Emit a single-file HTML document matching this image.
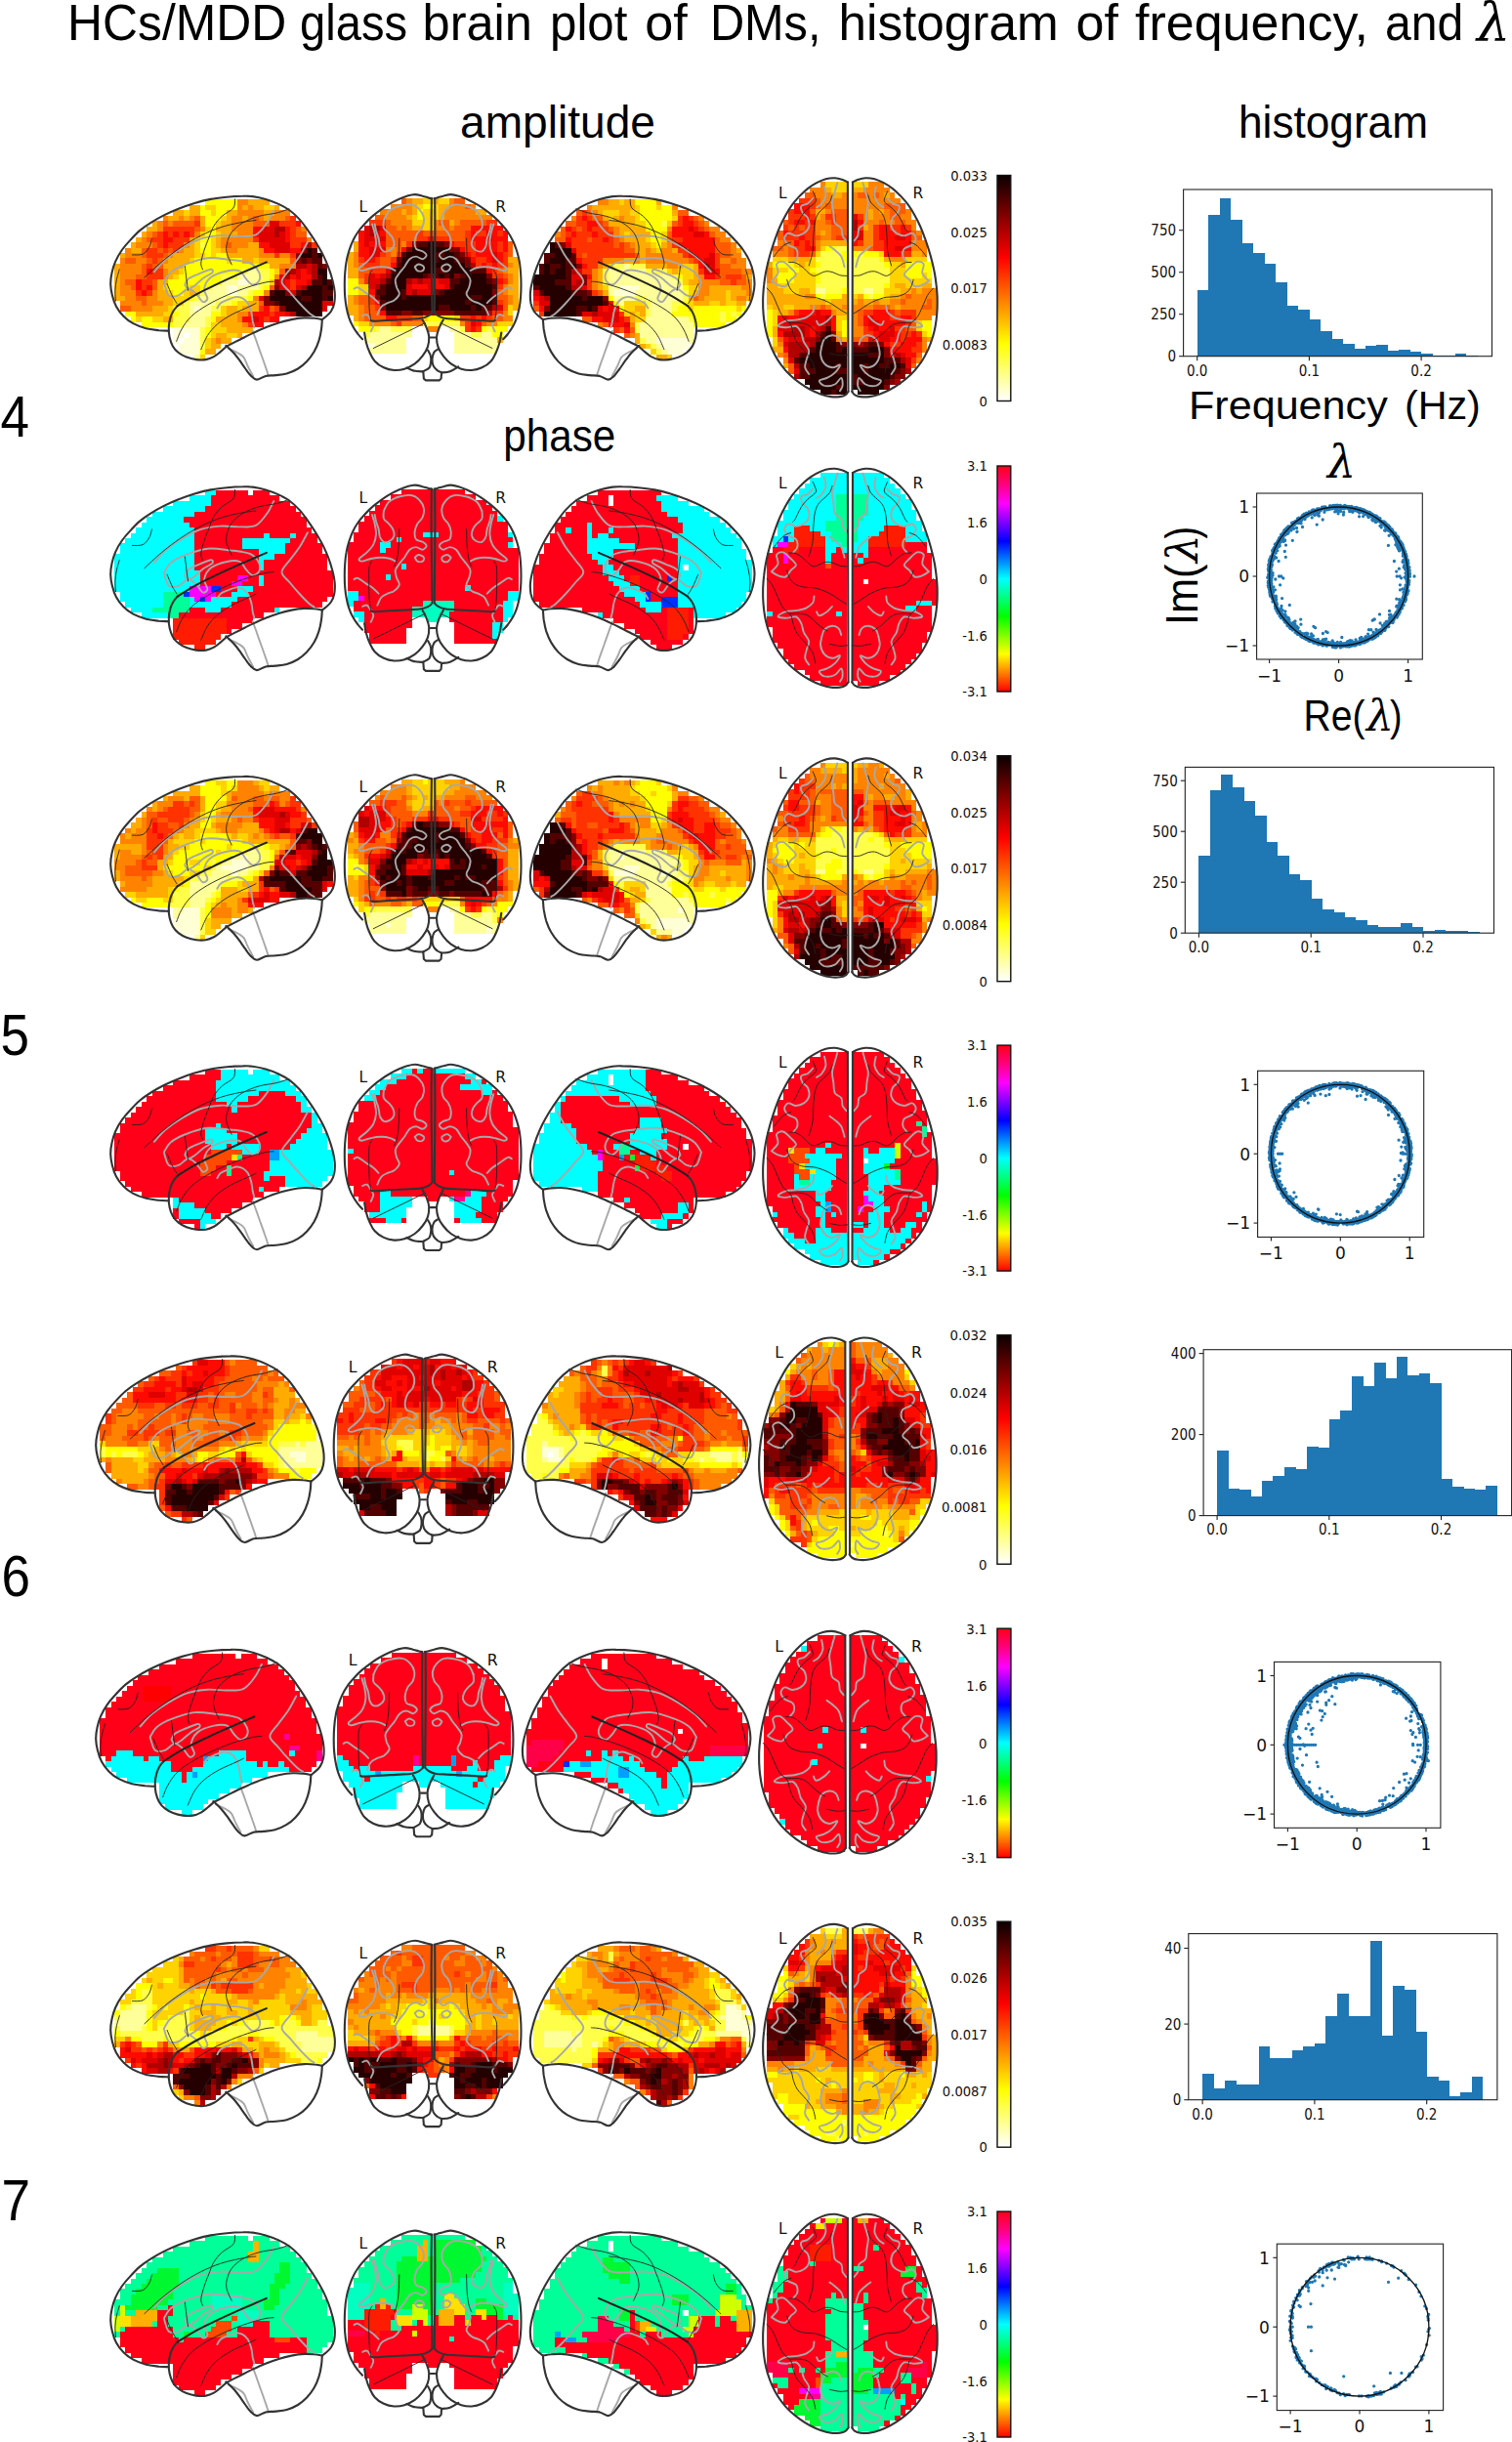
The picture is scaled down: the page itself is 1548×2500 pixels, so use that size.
<!DOCTYPE html>
<html><head><meta charset="utf-8"><title>HCs/MDD glass brain plot of DMs</title>
<style>
html,body{margin:0;padding:0;background:#fff;}
body{width:1548px;height:2500px;overflow:hidden;}
svg{display:block;}
.cal{font-family:"Liberation Sans",sans-serif;fill:#000;}
.dv{font-family:"DejaVu Sans","Liberation Sans",sans-serif;fill:#111;}
.dvc{font-family:"DejaVu Sans Condensed","DejaVu Sans","Liberation Sans",sans-serif;fill:#111;}
.lam{font-family:"DejaVu Serif","Liberation Serif",serif;font-style:italic;fill:#000;}
</style></head><body>
<svg width="1548" height="2500" viewBox="0 0 1548 2500">
<defs>
<linearGradient id="hot" x1="0" y1="0" x2="0" y2="1"><stop offset="0" stop-color="#0b0000"/><stop offset="0.365" stop-color="#ff0000"/><stop offset="0.746" stop-color="#ffff00"/><stop offset="1" stop-color="#ffffff"/></linearGradient>
<linearGradient id="hsv" x1="0" y1="0" x2="0" y2="1"><stop offset="0" stop-color="#ff0018"/><stop offset="0.0833" stop-color="#ff0080"/><stop offset="0.1667" stop-color="#ff00ff"/><stop offset="0.25" stop-color="#8000ff"/><stop offset="0.3333" stop-color="#0000ff"/><stop offset="0.4167" stop-color="#0080ff"/><stop offset="0.5" stop-color="#00ffff"/><stop offset="0.5833" stop-color="#00ff80"/><stop offset="0.6667" stop-color="#00ff00"/><stop offset="0.75" stop-color="#80ff00"/><stop offset="0.8333" stop-color="#ffff00"/><stop offset="0.9167" stop-color="#ff8000"/><stop offset="1" stop-color="#ff0000"/></linearGradient>
<g id="Lsl"><g fill="none" stroke="#a8a8a8" stroke-width="1.9" stroke-linecap="round" stroke-linejoin="round"><path d="M157.9,278.3C159.8,276.2 164.8,269.9 169.4,265.9C174.1,261.9 179.9,257.9 186,254.3C192,250.7 199.2,246.6 205.8,244.4C212.4,242.2 219,241.5 225.7,241.1C232.3,240.7 239.4,242.1 245.5,241.9C251.6,241.8 257.4,242.6 262,240.3C266.7,237.9 270.6,232 273.6,227.9C276.6,223.7 279.1,217.5 280.2,215.5"/><path d="M167.8,289C168.9,287.4 170.8,282.2 174.4,279.1C178,276.1 182.9,273.3 189.3,270.9C195.6,268.4 204.7,265.1 212.4,264.2C220.1,263.4 229.5,265.3 235.6,265.9C241.6,266.5 245,266.7 248.8,267.6C252.7,268.4 256,268.9 258.7,270.9C261.5,272.8 264.2,276.4 265.3,279.1C266.4,281.9 266.4,285.3 265.3,287.4C264.2,289.5 260.9,291.8 258.7,291.5C256.5,291.3 254.3,288.1 252.1,285.7C249.9,283.4 248.8,278.9 245.5,277.5C242.2,276.1 237.2,276.4 232.3,277.5C227.3,278.6 219.6,281.1 215.7,284.1C211.9,287.1 209.7,292.1 209.1,295.7C208.6,299.2 212.7,303.4 212.4,305.6C212.2,307.8 209.4,309.7 207.5,308.9C205.5,308.1 203.3,302.8 200.9,300.6C198.4,298.4 195.6,295.4 192.6,295.7C189.6,295.9 186,301.2 182.7,302.3C179.4,303.4 175.2,304.5 172.8,302.3C170.3,300.1 168.6,291.3 167.8,289"/><path d="M189.3,291.5C189.8,290.6 190.4,287.5 192.6,285.7C194.8,283.9 198.7,282.4 202.5,280.8C206.4,279.1 213.3,276.1 215.7,275.8C218.2,275.5 218.5,277.7 217.4,279.1C216.3,280.5 212.2,281.9 209.1,284.1C206.1,286.3 202,290.4 199.2,292.4C196.5,294.3 194.2,295.8 192.6,295.7C190.9,295.5 189.8,292.2 189.3,291.5"/><path d="M314.9,247.7C313.6,250.2 309.7,257.9 306.7,262.6C303.6,267.3 299.8,271.5 296.8,275.8C293.7,280.1 288.5,284.4 288.5,288.2C288.5,292.1 293.7,295.2 296.8,299C299.8,302.7 303.4,307 306.7,310.5C310,314.1 314.1,318.3 316.6,320.5C319.1,322.7 320.7,323.2 321.6,323.8"/><path d="M222.4,315.5C222.9,314.7 224,311.9 225.7,310.5C227.3,309.2 229.5,308.3 232.3,307.2C235,306.1 239.4,304.2 242.2,303.9C245,303.7 246.9,304.5 248.8,305.6C250.7,306.7 252.4,308.3 253.8,310.5C255.1,312.7 256.2,315.8 257.1,318.8C257.9,321.8 258.2,326 258.7,328.7C259.3,331.5 260.1,334.2 260.4,335.3"/><path d="M258.7,338.7C259.4,340.6 261.5,346.4 262.9,350.2C264.2,354.1 265.6,357.9 267,361.8C268.4,365.7 269.9,369.8 271.1,373.4C272.4,377 273.9,381.6 274.4,383.3"/><path d="M233.9,356.8C235.6,357.6 241.2,360 243.8,361.5C246.5,363 248,363.7 249.6,365.9C251.3,368.2 252.2,371.9 253.8,375C255.3,378.2 258.2,383.3 259.1,384.9"/></g><g fill="none" stroke="#222" stroke-width="0.9" stroke-linecap="round"><path d="M147.9,284.1C151,281.3 159.8,272.8 166.1,267.6C172.5,262.3 179.4,257.1 186,252.7C192.6,248.3 199.2,244.4 205.8,241.1C212.4,237.8 219,235 225.7,232.8C232.3,230.6 239.4,229.1 245.5,227.9C251.6,226.6 259.3,225.8 262,225.4"/><path d="M240.5,203.9C240.3,205.4 241.1,210.1 238.9,213C236.7,215.9 230.6,218.2 227.3,221.3C224,224.3 221.3,227.6 219,231.2C216.8,234.8 215.7,238.6 214.1,242.8C212.4,246.9 210.5,251.6 209.1,256C207.7,260.4 206.1,265.9 205.8,269.2C205.5,272.5 207.2,274.7 207.5,275.8"/><path d="M295.9,213.8C293.9,214.5 288.6,216.7 283.5,217.9C278.4,219.2 271.1,219.6 265.3,221.3C259.6,222.9 253.5,225.1 248.8,227.9C244.1,230.6 240,234.2 237.2,237.8C234.5,241.4 233.1,245.8 232.3,249.4C231.4,252.9 231.4,255.7 232.3,259.3C233.1,262.9 236.4,268.9 237.2,270.9"/><path d="M135.5,260.9C137.3,260.8 143.4,261.5 146.3,260.1C149.2,258.7 151.4,255.3 152.9,252.7C154.4,250.1 155,245.8 155.4,244.4"/><path d="M189.3,272.5C189.6,274.7 190.4,281.6 190.9,285.7C191.5,289.9 192.3,295.4 192.6,297.3"/><path d="M171.1,290.7C171.9,292.6 174.4,299 176.1,302.3C177.7,305.6 180.2,309.2 181,310.5"/><path d="M180.7,349.4C181.6,347.3 183.4,341.3 186,337C188.5,332.7 191.5,327.9 195.9,323.8C200.3,319.6 206.4,315.8 212.4,312.2C218.5,308.6 225.4,305.3 232.3,302.3C239.2,299.2 247.2,296.2 253.8,294C260.4,291.8 267.5,290 272,289C276.4,288.1 278.8,288.4 280.2,288.2"/><path d="M205.8,357.7C206.9,355.3 209.7,347.9 212.4,343.6C215.2,339.3 218.2,335.6 222.4,332C226.5,328.5 231.7,325.1 237.2,322.1C242.7,319.1 251.3,315.8 255.4,313.8C259.6,311.9 260.9,311.1 262,310.5"/><path d="M118.5,308.1C118.4,306.3 117.7,301 117.9,297.3C118,293.6 118.8,289.3 119.5,285.7C120.3,282.2 121.9,277.5 122.3,275.8"/></g><g fill="none" stroke="#333" stroke-width="2.1" stroke-linejoin="round" stroke-linecap="round"><path d="M172.8,338.7C171.1,338.6 166.7,338.6 162.8,338.2C159,337.7 154,337.3 149.6,336.2C145.2,335 140.2,333.3 136.4,331.2C132.5,329.1 129.3,326.7 126.5,323.8C123.6,320.9 120.9,317.4 119,313.8C117.1,310.3 115.8,306.1 114.9,302.3C113.9,298.4 113.3,294.6 113.2,290.7C113.2,286.8 113.7,283 114.6,279.1C115.4,275.3 116.5,271.4 118.2,267.6C119.9,263.7 122.3,259.6 124.8,256C127.3,252.4 130,249.4 133.1,246.1C136.1,242.8 139.4,239.2 143,236.1C146.6,233.1 150.4,230.5 154.6,227.9C158.7,225.3 163.1,222.8 167.8,220.4C172.5,218.1 177.4,215.9 182.7,213.8C187.9,211.7 193.7,209.7 199.2,208C204.7,206.4 210.2,204.9 215.7,203.9C221.3,202.8 226.8,202.3 232.3,201.7C237.8,201.2 244.4,200.9 248.8,200.8C253.2,200.6 254.9,200.6 258.7,201.1C262.6,201.6 267.5,202.6 272,203.9C276.4,205.2 281.1,206.9 285.2,208.9C289.3,210.8 293.2,212.9 296.8,215.5C300.3,218.1 303.6,221.3 306.7,224.6C309.7,227.9 312.2,231.5 314.9,235.3C317.7,239.2 320.6,243.4 323.2,247.7C325.8,252 328.5,256.5 330.7,260.9C332.9,265.3 334.8,269.8 336.4,274.2C338.1,278.6 339.5,283.3 340.6,287.4C341.6,291.5 342.4,295.1 342.7,299C343,302.8 342.9,307.2 342.2,310.5C341.6,313.8 340.4,316.5 338.9,318.8C337.4,321.2 334.7,323.2 333.1,324.6C331.6,326 330.4,326.7 329.8,327.1"/><path d="M329.8,327.1C328.5,326.9 324.6,326 321.6,325.8C318.5,325.5 315.5,325.2 311.6,325.4C307.8,325.6 302.8,326.2 298.4,327.1C294,327.9 289.6,329 285.2,330.4C280.8,331.8 276.4,333.6 272,335.3C267.5,337.1 263.1,339.1 258.7,341.1C254.3,343.2 249.9,345.5 245.5,347.7C241.1,349.9 234.5,353.3 232.3,354.4"/><path d="M232.3,354.4C231.2,355.3 227.9,358.4 225.7,360.1C223.5,361.9 221.5,363.8 219,365.1C216.6,366.4 213.8,367.6 210.8,368.1C207.7,368.6 204.2,368.5 200.9,368.1C197.6,367.7 194,366.8 190.9,365.6C187.9,364.4 185,362.8 182.7,361C180.3,359.1 178.4,357 176.9,354.4C175.4,351.7 174.3,348.4 173.6,345.3C172.9,342.1 172.6,338.7 172.8,335.3C172.9,332 173.6,328.3 174.4,325.4C175.2,322.5 176.5,320 177.7,318C179,315.9 181.2,313.8 181.8,313"/><path d="M329.8,327.1C329.7,328.7 329.6,333.4 329,337C328.5,340.6 327.8,344.7 326.5,348.6C325.3,352.4 323.6,356.6 321.6,360.1C319.5,363.7 316.9,367.2 314.1,370.1C311.4,373 308.5,375.4 305,377.5C301.6,379.6 297.3,381.4 293.5,382.5C289.6,383.6 285.5,383.7 281.9,384.1C278.3,384.5 275.1,384.2 272,384.9C268.8,385.7 265.3,388.6 262.9,388.6C260.4,388.6 259,386.8 257.1,384.9C255.1,383.1 253.2,380.1 251.3,377.5C249.4,374.9 247.4,371.9 245.5,369.2C243.6,366.6 241.6,364 239.7,361.8C237.8,359.6 235.3,357.3 233.9,356C232.6,354.7 231.9,354.2 231.4,353.9"/><path d="M181.8,313C184.7,311.2 193,305.7 199.2,302.3C205.4,298.8 212.2,295.7 219,292.4C225.9,289 233.9,285.4 240.5,282.4C247.2,279.5 253.4,276.8 258.7,274.5C264.1,272.2 270.4,269.4 272.8,268.4" stroke="#222" stroke-width="2.1"/></g></g>
<g id="Lco"><g fill="none" stroke="#a8a8a8" stroke-width="1.9" stroke-linecap="round" stroke-linejoin="round"><path d="M392.9,225.6C393.8,224 395.6,218.7 398.2,216.3C400.8,213.9 404.8,212.1 408.8,211C412.8,209.9 418.5,209 422,209.7C425.5,210.3 428,212.8 429.9,215C431.9,217.2 433.5,220 433.9,222.9C434.4,225.8 433.7,229.5 432.6,232.2C431.5,234.8 428.6,236.4 427.3,238.8C426,241.2 424.9,244.1 424.7,246.7C424.4,249.4 424.7,252.9 426,254.7C427.3,256.4 430.8,256.2 432.6,257.3C434.4,258.4 436.6,259.9 436.6,261.3C436.6,262.6 434.4,265 432.6,265.2C430.8,265.5 428.2,262.6 426,262.6C423.8,262.6 421.3,263.5 419.4,265.2C417.4,267 415.8,270.7 414.1,273.2C412.3,275.6 410.3,277.6 408.8,279.8C407.2,282 405.3,284 404.8,286.4C404.4,288.8 405.5,291.9 406.1,294.3C406.8,296.8 409.2,298.7 408.8,301C408.3,303.2 405.5,306 403.5,307.6C401.5,309.1 399.1,309.1 396.9,310.2C394.7,311.3 392,312.2 390.3,314.2C388.5,316.2 387,320.8 386.3,322.1"/><path d="M381,229.5C381.4,231.1 383,235.5 383.7,238.8C384.3,242.1 385.2,245.8 385,249.4C384.8,252.9 383.9,256.9 382.3,259.9C380.8,263 378.1,265.5 375.7,267.9C373.3,270.3 368.7,273 367.8,274.5C366.9,276 368.4,277.1 370.4,277.1C372.4,277.1 376.4,275.2 379.7,274.5C383,273.8 387,273.2 390.3,273.2C393.6,273.2 397.1,273.8 399.5,274.5C401.9,275.2 403.9,276.7 404.8,277.1"/><path d="M392.9,225.6C392.9,226.9 392,231.3 392.9,233.5C393.8,235.7 396.7,237 398.2,238.8C399.7,240.5 401.3,242.1 402.2,244.1C403.1,246.1 403.9,248.7 403.5,250.7C403.1,252.7 401.3,254.9 399.5,256C397.8,257.1 394.7,258 392.9,257.3C391.1,256.6 389.8,254.2 388.9,252C388.1,249.8 388.3,246.7 387.6,244.1C387,241.4 385.6,238.6 385,236.1C384.3,233.7 383.9,230.6 383.7,229.5"/><path d="M362.5,295.7C363.1,295.4 364.5,293.7 366.5,294.3C368.4,295 371.7,297.9 374.4,299.6C377,301.4 380.1,303.2 382.3,304.9C384.5,306.7 386.7,309.3 387.6,310.2"/><path d="M371.1,323.4C371.9,323.2 374.3,321.5 375.7,322.1C377.1,322.8 378.6,325.6 379.7,327.4C380.8,329.2 382.3,330.7 382.3,332.7C382.3,334.7 380.1,338.2 379.7,339.3"/><path d="M424.7,273.2C425.3,272.7 427.1,270.5 428.6,270.5C430.2,270.5 433.3,272.1 433.9,273.2C434.6,274.3 433.7,276.5 432.6,277.1C431.5,277.8 428.6,277.8 427.3,277.1C426,276.5 425.1,273.8 424.7,273.2"/><path d="M493.4,225.6C492.6,224 490.8,218.7 488.1,216.3C485.5,213.9 481.5,212.1 477.6,211C473.6,209.9 467.9,209 464.3,209.7C460.8,210.3 458.4,212.8 456.4,215C454.4,217.2 452.9,220 452.4,222.9C452,225.8 452.7,229.5 453.8,232.2C454.9,234.8 457.7,236.4 459,238.8C460.4,241.2 461.5,244.1 461.7,246.7C461.9,249.4 461.7,252.9 460.4,254.7C459,256.4 455.5,256.2 453.8,257.3C452,258.4 449.8,259.9 449.8,261.3C449.8,262.6 452,265 453.8,265.2C455.5,265.5 458.2,262.6 460.4,262.6C462.6,262.6 465,263.5 467,265.2C469,267 470.5,270.7 472.3,273.2C474,275.6 476,277.6 477.6,279.8C479.1,282 481.1,284 481.5,286.4C482,288.8 480.9,291.9 480.2,294.3C479.6,296.8 477.1,298.7 477.6,301C478,303.2 480.9,306 482.9,307.6C484.8,309.1 487.3,309.1 489.5,310.2C491.7,311.3 494.3,312.2 496.1,314.2C497.8,316.2 499.4,320.8 500.1,322.1"/><path d="M505.3,229.5C504.9,231.1 503.4,235.5 502.7,238.8C502,242.1 501.2,245.8 501.4,249.4C501.6,252.9 502.5,256.9 504,259.9C505.6,263 508.2,265.5 510.6,267.9C513.1,270.3 517.7,273 518.6,274.5C519.5,276 517.9,277.1 515.9,277.1C513.9,277.1 510,275.2 506.7,274.5C503.4,273.8 499.4,273.2 496.1,273.2C492.8,273.2 489.3,273.8 486.8,274.5C484.4,275.2 482.4,276.7 481.5,277.1"/><path d="M493.4,225.6C493.4,226.9 494.3,231.3 493.4,233.5C492.6,235.7 489.7,237 488.1,238.8C486.6,240.5 485.1,242.1 484.2,244.1C483.3,246.1 482.4,248.7 482.9,250.7C483.3,252.7 485.1,254.9 486.8,256C488.6,257.1 491.7,258 493.4,257.3C495.2,256.6 496.5,254.2 497.4,252C498.3,249.8 498.1,246.7 498.7,244.1C499.4,241.4 500.7,238.6 501.4,236.1C502,233.7 502.5,230.6 502.7,229.5"/><path d="M523.9,295.7C523.2,295.4 521.9,293.7 519.9,294.3C517.9,295 514.6,297.9 512,299.6C509.3,301.4 506.2,303.2 504,304.9C501.8,306.7 499.6,309.3 498.7,310.2"/><path d="M515.3,323.4C514.5,323.2 512.1,321.5 510.6,322.1C509.2,322.8 507.8,325.6 506.7,327.4C505.6,329.2 504,330.7 504,332.7C504,334.7 506.2,338.2 506.7,339.3"/><path d="M461.7,273.2C461,272.7 459.3,270.5 457.7,270.5C456.2,270.5 453.1,272.1 452.4,273.2C451.8,274.3 452.7,276.5 453.8,277.1C454.9,277.8 457.7,277.8 459,277.1C460.4,276.5 461.3,273.8 461.7,273.2"/></g><g fill="none" stroke="#222" stroke-width="0.9" stroke-linecap="round"><path d="M382.3,356.5 L435.2,330.7"/><path d="M504,356.5 L451.1,330.7"/><path d="M379.7,328.1C379.4,326 378.4,320.9 378.1,315.5C377.8,310.1 377.7,301.2 377.7,295.7C377.7,290.1 377.5,285.6 378.1,282.4C378.6,279.2 380.5,277.5 381,276.5"/><path d="M506.7,328.1C506.9,326 507.9,320.9 508.3,315.5C508.6,310.1 508.7,301.2 508.7,295.7C508.7,290.1 508.8,285.6 508.3,282.4C507.7,279.2 505.8,277.5 505.3,276.5"/><path d="M408.8,244.1C408.7,247.2 408.6,257.3 408.1,262.6C407.7,267.9 406.9,272.5 406.1,275.8C405.4,279.1 403.9,281.3 403.5,282.4"/><path d="M477.6,244.1C477.7,247.2 477.8,257.3 478.2,262.6C478.7,267.9 479.4,272.5 480.2,275.8C481,279.1 482.4,281.3 482.9,282.4"/></g><g fill="none" stroke="#333" stroke-width="2.1" stroke-linejoin="round" stroke-linecap="round"><path d="M441.9,203.1C441.3,203 440.1,202.8 438.5,202.4C437,202 434.9,201.2 432.6,200.7C430.3,200.1 427.3,199.1 424.7,199.1C422,199.1 419.4,199.9 416.7,200.7C414.1,201.5 411.6,202.5 408.8,203.7C405.9,205 402.6,206.6 399.5,208.4C396.4,210.1 393.4,212.1 390.3,214.3C387.2,216.5 383.9,219.1 381,221.6C378.1,224.1 375.5,226.9 373.1,229.5C370.6,232.2 368.4,234.6 366.5,237.5C364.5,240.3 362.7,243.4 361.2,246.7C359.6,250 358.3,253.8 357.2,257.3C356.1,260.8 355.2,264.1 354.6,267.9C353.9,271.6 353.5,275.8 353.2,279.8C352.9,283.8 352.8,287.7 352.8,291.7C352.8,295.7 352.9,299.9 353.2,303.6C353.5,307.3 353.9,310.7 354.6,314.2C355.2,317.7 356.1,321.5 357.2,324.8C358.3,328.1 359.6,331.2 361.2,334C362.7,336.9 364.8,339.8 366.5,342C368.1,344.2 370.3,346.4 371.1,347.2"/><path d="M444.5,203.1C445,203 446.3,202.8 447.8,202.4C449.3,202 451.4,201.2 453.8,200.7C456.1,200.1 459,199.1 461.7,199.1C464.3,199.1 467,199.9 469.6,200.7C472.3,201.5 474.7,202.5 477.6,203.7C480.4,205 483.7,206.6 486.8,208.4C489.9,210.1 493,212.1 496.1,214.3C499.2,216.5 502.5,219.1 505.3,221.6C508.2,224.1 510.9,226.9 513.3,229.5C515.7,232.2 517.9,234.6 519.9,237.5C521.9,240.3 523.6,243.4 525.2,246.7C526.7,250 528.1,253.8 529.2,257.3C530.3,260.8 531.1,264.1 531.8,267.9C532.5,271.6 532.8,275.8 533.1,279.8C533.4,283.8 533.5,287.7 533.5,291.7C533.5,295.7 533.4,299.9 533.1,303.6C532.8,307.3 532.5,310.7 531.8,314.2C531.1,317.7 530.3,321.5 529.2,324.8C528.1,328.1 526.7,331.2 525.2,334C523.6,336.9 521.5,339.8 519.9,342C518.2,344.2 516,346.4 515.3,347.2"/><path d="M441.9,203.1C441.8,208.6 441.6,224 441.6,236.1C441.6,248.3 441.7,262.6 441.9,275.8C442,289 442.5,308.1 442.5,315.5C442.6,322.9 442.8,318.8 442.1,320.1C441.5,321.5 440.4,322.5 438.5,323.4C436.7,324.4 434.5,325.3 431.3,325.8C428.1,326.4 424.7,326.4 419.4,326.7C414.1,327.1 405.5,327.3 399.5,327.7C393.6,328 387,328.7 383.7,328.7C380.3,328.8 380.3,328.2 379.7,328.1"/><path d="M445.2,203.1C445.2,208.6 445.4,224 445.4,236.1C445.4,248.3 445.3,262.6 445.2,275.8C445,289 444.8,308.1 444.8,315.5C444.8,322.9 444.5,318.8 445.2,320.1C445.8,321.5 447.1,322.5 448.7,323.4C450.4,324.4 452,325.3 455.1,325.8C458.1,326.4 461.7,326.4 467,326.7C472.3,327.1 480.9,327.3 486.8,327.7C492.8,328 499.4,328.7 502.7,328.7C506,328.8 506,328.2 506.7,328.1"/><path d="M373.1,340.6C373.4,342.4 374.2,347.9 375.1,351.2C375.9,354.5 376.9,357.4 378.4,360.5C379.8,363.6 381.2,367.1 383.7,369.7C386.1,372.4 389.6,374.8 392.9,376.3C396.2,377.9 400,378.8 403.5,379C407,379.2 410.5,378.8 414.1,377.7C417.6,376.6 421.6,374.6 424.7,372.4C427.7,370.2 430.4,367.3 432.6,364.4C434.8,361.6 436.8,358.5 437.9,355.2C439,351.9 439.4,347.9 439.2,344.6C439,341.3 437.7,338.2 436.6,335.3C435.5,332.5 433.3,328.7 432.6,327.4"/><path d="M513.3,340.6C512.9,342.4 512.2,347.9 511.3,351.2C510.4,354.5 509.4,357.4 508,360.5C506.6,363.6 505.1,367.1 502.7,369.7C500.3,372.4 496.7,374.8 493.4,376.3C490.1,377.9 486.4,378.8 482.9,379C479.3,379.2 475.8,378.8 472.3,377.7C468.7,376.6 464.8,374.6 461.7,372.4C458.6,370.2 456,367.3 453.8,364.4C451.6,361.6 449.6,358.5 448.5,355.2C447.4,351.9 446.9,347.9 447.1,344.6C447.4,341.3 448.7,338.2 449.8,335.3C450.9,332.5 453.1,328.7 453.8,327.4"/><path d="M438.1,358.5C438.5,359.4 440.2,361.8 440.7,363.8C441.3,365.7 441.4,368 441.2,370.1C441,372.2 440.8,374.8 439.5,376.5C438.2,378.1 434.4,379.6 433.3,380.2"/><path d="M416.4,376.5C417.6,377 421,379 423.8,379.6C426.6,380.3 431.7,380.3 433.3,380.4"/><path d="M448.7,357.4C448,357.9 445.5,358.9 444.4,360.6C443.4,362.3 442.7,365.2 442.5,367.5C442.4,369.8 442.7,372.4 443.6,374.4C444.4,376.3 446.2,378 447.6,379.1C449,380.3 451.1,380.9 451.9,381.2"/><path d="M469.3,375.4C467.9,376.2 463.8,379.2 460.8,380.2C457.9,381.2 453.4,381.3 451.9,381.5"/><path d="M440.7,345.5 L445.5,345.5"/><path d="M433.3,380.4 L433.9,387.6 L436,389.4 L449.7,389.4 L451.6,387.6 L452.1,381.5"/></g></g>
<g id="Lsr"><g fill="none" stroke="#a8a8a8" stroke-width="1.9" stroke-linecap="round" stroke-linejoin="round"><path d="M727.9,278.3C726,276.2 721,269.9 716.3,265.9C711.6,261.9 705.8,257.9 699.8,254.3C693.7,250.7 686.5,246.6 679.9,244.4C673.3,242.2 666.7,241.5 660.1,241.1C653.5,240.7 646.3,242.1 640.2,241.9C634.2,241.8 628.4,242.6 623.7,240.3C619,237.9 615.2,232 612.1,227.9C609.1,223.7 606.6,217.5 605.5,215.5"/><path d="M718,289C716.9,287.4 714.9,282.2 711.3,279.1C707.8,276.1 702.8,273.3 696.5,270.9C690.1,268.4 681,265.1 673.3,264.2C665.6,263.4 656.2,265.3 650.2,265.9C644.1,266.5 640.8,266.7 636.9,267.6C633.1,268.4 629.8,268.9 627,270.9C624.3,272.8 621.5,276.4 620.4,279.1C619.3,281.9 619.3,285.3 620.4,287.4C621.5,289.5 624.8,291.8 627,291.5C629.2,291.3 631.4,288.1 633.6,285.7C635.8,283.4 636.9,278.9 640.2,277.5C643.6,276.1 648.5,276.4 653.5,277.5C658.4,278.6 666.2,281.1 670,284.1C673.9,287.1 676.1,292.1 676.6,295.7C677.2,299.2 673,303.4 673.3,305.6C673.6,307.8 676.3,309.7 678.3,308.9C680.2,308.1 682.4,302.8 684.9,300.6C687.4,298.4 690.1,295.4 693.2,295.7C696.2,295.9 699.8,301.2 703.1,302.3C706.4,303.4 710.5,304.5 713,302.3C715.5,300.1 717.1,291.3 718,289"/><path d="M696.5,291.5C695.9,290.6 695.4,287.5 693.2,285.7C691,283.9 687.1,282.4 683.2,280.8C679.4,279.1 672.5,276.1 670,275.8C667.5,275.5 667.3,277.7 668.4,279.1C669.5,280.5 673.6,281.9 676.6,284.1C679.7,286.3 683.8,290.4 686.5,292.4C689.3,294.3 691.5,295.8 693.2,295.7C694.8,295.5 695.9,292.2 696.5,291.5"/><path d="M570.8,247.7C572.2,250.2 576,257.9 579.1,262.6C582.1,267.3 586,271.5 589,275.8C592,280.1 597.3,284.4 597.3,288.2C597.3,292.1 592,295.2 589,299C586,302.7 582.4,307 579.1,310.5C575.8,314.1 571.6,318.3 569.1,320.5C566.7,322.7 565,323.2 564.2,323.8"/><path d="M663.4,315.5C662.8,314.7 661.7,311.9 660.1,310.5C658.4,309.2 656.2,308.3 653.5,307.2C650.7,306.1 646.3,304.2 643.6,303.9C640.8,303.7 638.9,304.5 636.9,305.6C635,306.7 633.4,308.3 632,310.5C630.6,312.7 629.5,315.8 628.7,318.8C627.8,321.8 627.6,326 627,328.7C626.5,331.5 625.6,334.2 625.4,335.3"/><path d="M627,338.7C626.3,340.6 624.3,346.4 622.9,350.2C621.5,354.1 620.1,357.9 618.8,361.8C617.4,365.7 615.9,369.8 614.6,373.4C613.4,377 611.9,381.6 611.3,383.3"/><path d="M651.8,356.8C650.2,357.6 644.5,360 641.9,361.5C639.3,363 637.8,363.7 636.1,365.9C634.5,368.2 633.6,371.9 632,375C630.4,378.2 627.6,383.3 626.7,384.9"/></g><g fill="none" stroke="#222" stroke-width="0.9" stroke-linecap="round"><path d="M737.8,284.1C734.8,281.3 726,272.8 719.6,267.6C713.3,262.3 706.4,257.1 699.8,252.7C693.2,248.3 686.5,244.4 679.9,241.1C673.3,237.8 666.7,235 660.1,232.8C653.5,230.6 646.3,229.1 640.2,227.9C634.2,226.6 626.5,225.8 623.7,225.4"/><path d="M645.2,203.9C645.5,205.4 644.7,210.1 646.9,213C649.1,215.9 655.1,218.2 658.4,221.3C661.7,224.3 664.5,227.6 666.7,231.2C668.9,234.8 670,238.6 671.7,242.8C673.3,246.9 675.2,251.6 676.6,256C678,260.4 679.7,265.9 679.9,269.2C680.2,272.5 678.6,274.7 678.3,275.8"/><path d="M589.8,213.8C591.9,214.5 597.1,216.7 602.2,217.9C607.3,219.2 614.6,219.6 620.4,221.3C626.2,222.9 632.3,225.1 636.9,227.9C641.6,230.6 645.8,234.2 648.5,237.8C651.3,241.4 652.6,245.8 653.5,249.4C654.3,252.9 654.3,255.7 653.5,259.3C652.6,262.9 649.3,268.9 648.5,270.9"/><path d="M750.2,260.9C748.4,260.8 742.3,261.5 739.5,260.1C736.6,258.7 734.4,255.3 732.8,252.7C731.3,250.1 730.8,245.8 730.4,244.4"/><path d="M696.5,272.5C696.2,274.7 695.4,281.6 694.8,285.7C694.3,289.9 693.4,295.4 693.2,297.3"/><path d="M714.7,290.7C713.8,292.6 711.3,299 709.7,302.3C708,305.6 705.6,309.2 704.7,310.5"/><path d="M705.1,349.4C704.2,347.3 702.3,341.3 699.8,337C697.2,332.7 694.3,327.9 689.9,323.8C685.4,319.6 679.4,315.8 673.3,312.2C667.3,308.6 660.4,305.3 653.5,302.3C646.6,299.2 638.6,296.2 632,294C625.4,291.8 618.2,290 613.8,289C609.4,288.1 606.9,288.4 605.5,288.2"/><path d="M679.9,357.7C678.8,355.3 676.1,347.9 673.3,343.6C670.6,339.3 667.5,335.6 663.4,332C659.3,328.5 654,325.1 648.5,322.1C643,319.1 634.5,315.8 630.3,313.8C626.2,311.9 624.8,311.1 623.7,310.5"/><path d="M767.2,308.1C767.3,306.3 768.1,301 767.9,297.3C767.7,293.6 767,289.3 766.2,285.7C765.5,282.2 763.9,277.5 763.4,275.8"/></g><g fill="none" stroke="#333" stroke-width="2.1" stroke-linejoin="round" stroke-linecap="round"><path d="M713,338.7C714.7,338.6 719.1,338.6 722.9,338.2C726.8,337.7 731.7,337.3 736.1,336.2C740.6,335 745.5,333.3 749.4,331.2C753.2,329.1 756.4,326.7 759.3,323.8C762.2,320.9 764.8,317.4 766.7,313.8C768.7,310.3 769.9,306.1 770.9,302.3C771.8,298.4 772.5,294.6 772.5,290.7C772.6,286.8 772,283 771.2,279.1C770.4,275.3 769.3,271.4 767.6,267.6C765.9,263.7 763.4,259.6 760.9,256C758.5,252.4 755.7,249.4 752.7,246.1C749.6,242.8 746.3,239.2 742.8,236.1C739.2,233.1 735.3,230.5 731.2,227.9C727.1,225.3 722.6,222.8 718,220.4C713.3,218.1 708.3,215.9 703.1,213.8C697.8,211.7 692.1,209.7 686.5,208C681,206.4 675.5,204.9 670,203.9C664.5,202.8 659,202.3 653.5,201.7C648,201.2 641.3,200.9 636.9,200.8C632.5,200.6 630.9,200.6 627,201.1C623.2,201.6 618.2,202.6 613.8,203.9C609.4,205.2 604.7,206.9 600.6,208.9C596.4,210.8 592.6,212.9 589,215.5C585.4,218.1 582.1,221.3 579.1,224.6C576,227.9 573.6,231.5 570.8,235.3C568,239.2 565.2,243.4 562.5,247.7C559.9,252 557.3,256.5 555.1,260.9C552.9,265.3 551,269.8 549.3,274.2C547.7,278.6 546.2,283.3 545.2,287.4C544.1,291.5 543.3,295.1 543,299C542.7,302.8 542.9,307.2 543.5,310.5C544.2,313.8 545.3,316.5 546.8,318.8C548.3,321.2 551.1,323.2 552.6,324.6C554.1,326 555.4,326.7 555.9,327.1"/><path d="M555.9,327.1C557.3,326.9 561.2,326 564.2,325.8C567.2,325.5 570.3,325.2 574.1,325.4C578,325.6 582.9,326.2 587.3,327.1C591.7,327.9 596.2,329 600.6,330.4C605,331.8 609.4,333.6 613.8,335.3C618.2,337.1 622.6,339.1 627,341.1C631.4,343.2 635.8,345.5 640.2,347.7C644.7,349.9 651.3,353.3 653.5,354.4"/><path d="M653.5,354.4C654.6,355.3 657.9,358.4 660.1,360.1C662.3,361.9 664.2,363.8 666.7,365.1C669.2,366.4 671.9,367.6 675,368.1C678,368.6 681.6,368.5 684.9,368.1C688.2,367.7 691.8,366.8 694.8,365.6C697.8,364.4 700.7,362.8 703.1,361C705.4,359.1 707.3,357 708.9,354.4C710.4,351.7 711.5,348.4 712.2,345.3C712.9,342.1 713.1,338.7 713,335.3C712.9,332 712.2,328.3 711.3,325.4C710.5,322.5 709.3,320 708,318C706.8,315.9 704.6,313.8 703.9,313"/><path d="M555.9,327.1C556.1,328.7 556.2,333.4 556.7,337C557.3,340.6 558,344.7 559.2,348.6C560.5,352.4 562.1,356.6 564.2,360.1C566.3,363.7 568.9,367.2 571.6,370.1C574.4,373 577.3,375.4 580.7,377.5C584.2,379.6 588.4,381.4 592.3,382.5C596.2,383.6 600.3,383.7 603.9,384.1C607.5,384.5 610.6,384.2 613.8,384.9C617,385.7 620.4,388.6 622.9,388.6C625.4,388.6 626.7,386.8 628.7,384.9C630.6,383.1 632.5,380.1 634.5,377.5C636.4,374.9 638.3,371.9 640.2,369.2C642.2,366.6 644.1,364 646,361.8C648,359.6 650.4,357.3 651.8,356C653.2,354.7 653.9,354.2 654.3,353.9"/><path d="M703.9,313C701,311.2 692.7,305.7 686.5,302.3C680.3,298.8 673.6,295.7 666.7,292.4C659.8,289 651.8,285.4 645.2,282.4C638.6,279.5 632.4,276.8 627,274.5C621.6,272.2 615.3,269.4 613,268.4" stroke="#222" stroke-width="2.1"/></g></g>
<g id="Lax"><rect x="868.4" y="186" width="4.2" height="215" fill="#fff"/><g fill="none" stroke="#a8a8a8" stroke-width="1.9" stroke-linecap="round" stroke-linejoin="round"><path d="M857.3,187.2C856.9,188.7 855.5,193.1 854.7,196.5C853.8,199.8 852.2,203.5 852,207C851.8,210.6 852.9,214.1 853.3,217.6C853.8,221.1 853.3,225.6 854.7,228.2C856,230.8 859.9,231.3 861.3,233.5C862.6,235.7 861.7,239.2 862.6,241.4C863.5,243.6 865.9,245.8 866.6,246.7"/><path d="M844.1,191.2C844.3,192.7 845.8,197.6 845.4,200.4C845,203.3 843,206.4 841.4,208.4C839.9,210.3 837,211.7 836.1,212.3"/><path d="M832.2,203.1C831.3,204 828.9,207 826.9,208.4C824.9,209.7 821.1,209.5 820.3,211C819.4,212.5 820.5,215.6 821.6,217.6C822.7,219.6 825.8,220.5 826.9,222.9C828,225.3 828.9,229.5 828.2,232.2C827.5,234.8 825.1,237.2 822.9,238.8C820.7,240.3 817.6,241.4 815,241.4C812.3,241.4 809,238.3 807,238.8C805.1,239.2 803.1,242.1 803.1,244.1C803.1,246.1 805.1,248.9 807,250.7C809,252.5 813.4,252.7 815,254.7C816.5,256.6 816.7,260.4 816.3,262.6C815.9,264.8 813,267 812.3,267.9"/><path d="M789.8,287.7C790.9,286.4 795.6,282.7 796.5,279.8C797.3,276.9 794.3,272.5 795.1,270.5C796,268.5 799.3,267.2 801.7,267.9C804.2,268.5 807.5,272.3 809.7,274.5C811.9,276.7 815,279.1 815,281.1C815,283.1 811.4,284.4 809.7,286.4C807.9,288.4 806.6,292.1 804.4,293C802.2,293.9 798.9,292.6 796.5,291.7C794,290.8 790.9,288.4 789.8,287.7"/><path d="M849.4,252C850.2,252.7 852.7,254.2 854.7,256C856.6,257.7 859.6,259.7 861.3,262.6C862.9,265.5 864,271.4 864.6,273.2"/><path d="M833.5,312.9C833.3,314 833.5,317.5 832.2,319.5C830.8,321.5 828.2,323.4 825.6,324.8C822.9,326.1 819.8,326.7 816.3,327.4C812.8,328.1 807.7,327.7 804.4,328.7C801.1,329.7 796.5,332.3 796.5,333.4C796.5,334.5 801.3,335.2 804.4,335.3C807.5,335.5 812.3,333.1 815,334C817.6,334.9 818.9,338 820.3,340.6C821.6,343.3 821.6,346.8 822.9,349.9C824.2,353 827.8,356.1 828.2,359.2C828.6,362.2 826.2,365.5 825.6,368.4C824.9,371.3 823.8,373.9 824.2,376.3C824.7,378.8 827.5,381.9 828.2,383"/><path d="M836.1,328.7C836.6,329.4 837,332.7 838.8,332.7C840.5,332.7 844.5,330.3 846.7,328.7C848.9,327.2 851.1,324.3 852,323.4"/><path d="M841.4,353.9C841.9,352.8 842.3,349 844.1,347.2C845.8,345.5 849.6,343.5 852,343.3C854.4,343.1 857.1,344.4 858.6,345.9C860.2,347.5 860.8,351.4 861.3,352.5"/><path d="M841.4,353.9C841.2,355.4 839.7,360 840.1,363.1C840.5,366.2 842.1,370.2 844.1,372.4C846.1,374.6 849.4,376.1 852,376.3C854.7,376.6 859.5,372.8 859.9,373.7C860.4,374.6 856.9,379.4 854.7,381.6C852.5,383.8 849.4,385.6 846.7,386.9C844.1,388.3 839.2,388.3 838.8,389.6C838.3,390.9 841.4,394.2 844.1,394.9C846.7,395.5 851.8,394.9 854.7,393.5C857.5,392.2 859.9,386.7 861.3,386.9C862.6,387.2 862.8,392.7 862.6,394.9C862.4,397.1 860.4,399.3 859.9,400.2"/><path d="M883.5,187.2C883.9,188.7 885.3,193.1 886.1,196.5C887,199.8 888.6,203.5 888.8,207C889,210.6 887.9,214.1 887.5,217.6C887,221.1 887.5,225.6 886.1,228.2C884.8,230.8 880.8,231.3 879.5,233.5C878.2,235.7 879.1,239.2 878.2,241.4C877.3,243.6 874.9,245.8 874.2,246.7"/><path d="M896.7,191.2C896.5,192.7 895,197.6 895.4,200.4C895.8,203.3 897.8,206.4 899.4,208.4C900.9,210.3 903.8,211.7 904.7,212.3"/><path d="M908.6,203.1C909.5,204 911.9,207 913.9,208.4C915.9,209.7 919.6,209.5 920.5,211C921.4,212.5 920.3,215.6 919.2,217.6C918.1,219.6 915,220.5 913.9,222.9C912.8,225.3 911.9,229.5 912.6,232.2C913.3,234.8 915.7,237.2 917.9,238.8C920.1,240.3 923.2,241.4 925.8,241.4C928.5,241.4 931.8,238.3 933.8,238.8C935.7,239.2 937.7,242.1 937.7,244.1C937.7,246.1 935.7,248.9 933.8,250.7C931.8,252.5 927.4,252.7 925.8,254.7C924.3,256.6 924.1,260.4 924.5,262.6C924.9,264.8 927.8,267 928.5,267.9"/><path d="M951,287.7C949.9,286.4 945.2,282.7 944.3,279.8C943.5,276.9 946.5,272.5 945.7,270.5C944.8,268.5 941.5,267.2 939,267.9C936.6,268.5 933.3,272.3 931.1,274.5C928.9,276.7 925.8,279.1 925.8,281.1C925.8,283.1 929.3,284.4 931.1,286.4C932.9,288.4 934.2,292.1 936.4,293C938.6,293.9 941.9,292.6 944.3,291.7C946.8,290.8 949.9,288.4 951,287.7"/><path d="M891.4,252C890.5,252.7 888.1,254.2 886.1,256C884.2,257.7 881.2,259.7 879.5,262.6C877.9,265.5 876.8,271.4 876.2,273.2"/><path d="M907.3,312.9C907.5,314 907.3,317.5 908.6,319.5C909.9,321.5 912.6,323.4 915.2,324.8C917.9,326.1 921,326.7 924.5,327.4C928,328.1 933.1,327.7 936.4,328.7C939.7,329.7 944.3,332.3 944.3,333.4C944.3,334.5 939.5,335.2 936.4,335.3C933.3,335.5 928.5,333.1 925.8,334C923.2,334.9 921.9,338 920.5,340.6C919.2,343.3 919.2,346.8 917.9,349.9C916.6,353 913,356.1 912.6,359.2C912.2,362.2 914.6,365.5 915.2,368.4C915.9,371.3 917,373.9 916.6,376.3C916.1,378.8 913.3,381.9 912.6,383"/><path d="M904.7,328.7C904.2,329.4 903.8,332.7 902,332.7C900.2,332.7 896.3,330.3 894.1,328.7C891.9,327.2 889.7,324.3 888.8,323.4"/><path d="M899.4,353.9C898.9,352.8 898.5,349 896.7,347.2C895,345.5 891.2,343.5 888.8,343.3C886.4,343.1 883.7,344.4 882.2,345.9C880.6,347.5 880,351.4 879.5,352.5"/><path d="M899.4,353.9C899.6,355.4 901.1,360 900.7,363.1C900.2,366.2 898.7,370.2 896.7,372.4C894.7,374.6 891.4,376.1 888.8,376.3C886.1,376.6 881.3,372.8 880.8,373.7C880.4,374.6 883.9,379.4 886.1,381.6C888.3,383.8 891.4,385.6 894.1,386.9C896.7,388.3 901.6,388.3 902,389.6C902.5,390.9 899.4,394.2 896.7,394.9C894.1,395.5 889,394.9 886.1,393.5C883.3,392.2 880.8,386.7 879.5,386.9C878.2,387.2 878,392.7 878.2,394.9C878.4,397.1 880.4,399.3 880.8,400.2"/></g><g fill="none" stroke="#222" stroke-width="0.9" stroke-linecap="round"><path d="M832.2,195.8C832.7,197.2 835.3,202.3 835.5,204.4C835.7,206.5 834.9,206.8 833.5,208.4C832.1,209.9 829.1,211.4 826.9,213.7C824.7,215.9 822,218.9 820.3,221.6C818.5,224.2 817.4,227.3 816.3,229.5C815.2,231.7 814.4,233.6 813.7,234.8C812.9,236 812,236.5 811.7,236.8"/><path d="M852,199.8C851.6,201 850.7,204.9 849.4,207C848,209.1 846.1,210.3 844.1,212.3C842.1,214.3 839.1,216.3 837.5,218.9C835.8,221.6 834.9,224.5 834.2,228.2C833.4,231.9 833.2,236.8 832.8,241.4C832.5,246.1 832.6,252 832.2,256C831.7,259.9 830.8,262.6 830.2,265.2C829.5,267.9 828.5,270.7 828.2,271.9"/><path d="M809.7,248C808.6,248.5 805.3,249.1 803.1,250.7C800.9,252.2 798.2,255.3 796.5,257.3C794.7,259.3 793.1,261.7 792.5,262.6"/><path d="M807.7,268.5C808.9,268.7 812.4,268.2 815,269.2C817.5,270.2 820.7,272.7 822.9,274.5C825.1,276.3 826.4,278.5 828.2,279.8C830,281.1 831.5,282.4 833.5,282.4C835.5,282.4 838.1,280.6 840.1,279.8C842.1,279 843.4,278 845.4,277.8C847.4,277.6 849.6,277.8 852,278.5C854.4,279.1 857.4,281.1 859.9,281.8C862.5,282.4 866,282.3 867.2,282.4"/><path d="M805.7,286.4C806.2,287.7 807,292 808.4,294.3C809.7,296.7 811.2,298.7 813.7,300.3C816.1,301.8 819.6,302.9 822.9,303.6C826.2,304.3 830,303.6 833.5,304.3C837,304.9 841,306.4 844.1,307.6C847.2,308.8 849.4,310 852,311.5C854.7,313.1 857.5,315.3 859.9,316.8C862.4,318.4 865.5,320.1 866.6,320.8"/><path d="M785.2,295C786.2,296.2 789.3,299.1 791.2,302.3C793,305.5 794.7,310.4 796.5,314.2C798.2,317.9 799.5,321.7 801.7,324.8C804,327.8 807.9,329.8 809.7,332.7C811.4,335.6 811.2,338.9 812.3,342C813.4,345 814.1,347.9 816.3,351.2C818.5,354.5 822.9,358.5 825.6,361.8C828.2,365.1 830.6,367.8 832.2,371.1C833.7,374.4 834.4,379.9 834.8,381.6"/><path d="M808.4,330.7C810.3,330.7 817,330.3 820.3,330.7C823.6,331.2 825.6,331.7 828.2,333.4C830.8,335 833.7,338.5 836.1,340.6C838.6,342.7 840.9,344.6 842.8,345.9C844.6,347.2 846.6,348.1 847.4,348.6"/><path d="M849.4,361.8C851.1,362.1 856.8,363.6 859.9,363.8C863.1,364 867.1,363.2 868.5,363.1"/><path d="M908.6,195.8C908.1,197.2 905.5,202.3 905.3,204.4C905.1,206.5 905.9,206.8 907.3,208.4C908.7,209.9 911.7,211.4 913.9,213.7C916.1,215.9 918.8,218.9 920.5,221.6C922.3,224.2 923.4,227.3 924.5,229.5C925.6,231.7 926.4,233.6 927.1,234.8C927.9,236 928.8,236.5 929.1,236.8"/><path d="M888.8,199.8C889.2,201 890.1,204.9 891.4,207C892.8,209.1 894.7,210.3 896.7,212.3C898.7,214.3 901.7,216.3 903.3,218.9C905,221.6 905.9,224.5 906.6,228.2C907.4,231.9 907.6,236.8 908,241.4C908.3,246.1 908.2,252 908.6,256C909.1,259.9 909.9,262.6 910.6,265.2C911.3,267.9 912.3,270.7 912.6,271.9"/><path d="M931.1,248C932.2,248.5 935.5,249.1 937.7,250.7C939.9,252.2 942.6,255.3 944.3,257.3C946.1,259.3 947.6,261.7 948.3,262.6"/><path d="M933.1,268.5C931.9,268.7 928.4,268.2 925.8,269.2C923.3,270.2 920.1,272.7 917.9,274.5C915.7,276.3 914.4,278.5 912.6,279.8C910.8,281.1 909.3,282.4 907.3,282.4C905.3,282.4 902.7,280.6 900.7,279.8C898.7,279 897.4,278 895.4,277.8C893.4,277.6 891.2,277.8 888.8,278.5C886.4,279.1 883.4,281.1 880.8,281.8C878.3,282.4 874.8,282.3 873.6,282.4"/><path d="M935.1,286.4C934.6,287.7 933.8,292 932.4,294.3C931.1,296.7 929.6,298.7 927.1,300.3C924.7,301.8 921.2,302.9 917.9,303.6C914.6,304.3 910.8,303.6 907.3,304.3C903.8,304.9 899.8,306.4 896.7,307.6C893.6,308.8 891.4,310 888.8,311.5C886.1,313.1 883.3,315.3 880.8,316.8C878.4,318.4 875.3,320.1 874.2,320.8"/><path d="M955.6,295C954.6,296.2 951.5,299.1 949.6,302.3C947.8,305.5 946.1,310.4 944.3,314.2C942.6,317.9 941.3,321.7 939,324.8C936.8,327.8 932.9,329.8 931.1,332.7C929.3,335.6 929.6,338.9 928.5,342C927.4,345 926.7,347.9 924.5,351.2C922.3,354.5 917.9,358.5 915.2,361.8C912.6,365.1 910.2,367.8 908.6,371.1C907.1,374.4 906.4,379.9 906,381.6"/><path d="M932.4,330.7C930.4,330.7 923.8,330.3 920.5,330.7C917.2,331.2 915.2,331.7 912.6,333.4C909.9,335 907.1,338.5 904.7,340.6C902.2,342.7 899.9,344.6 898,345.9C896.2,347.2 894.2,348.1 893.4,348.6"/><path d="M891.4,361.8C889.7,362.1 884,363.6 880.8,363.8C877.6,364 873.7,363.2 872.2,363.1"/></g><g fill="none" stroke="#333" stroke-width="2.1" stroke-linejoin="round" stroke-linecap="round"><path d="M867.9,186.5C867,186.1 864.8,184.6 862.6,183.9C860.4,183.2 857.5,182.3 854.7,182.2C851.8,182.1 848.5,182.4 845.4,183.2C842.3,184.1 839.2,185.5 836.1,187.2C833.1,188.8 829.7,190.9 826.9,193.1C824,195.4 821.6,197.7 818.9,200.4C816.3,203.2 813.4,206.4 811,209.7C808.6,213 806.5,216.5 804.4,220.3C802.3,224 800.2,228.2 798.4,232.2C796.7,236.1 795.2,240.1 793.8,244.1C792.4,248 791.1,252 789.8,256C788.6,259.9 787.5,263.9 786.5,267.9C785.5,271.9 784.6,275.8 783.9,279.8C783.2,283.8 782.6,287.7 782.2,291.7C781.7,295.7 781.4,299.6 781.2,303.6C781.1,307.6 781.1,311.5 781.2,315.5C781.4,319.5 781.7,323.4 782.2,327.4C782.7,331.4 783.3,335.3 784.3,339.3C785.2,343.3 786.4,347.2 787.9,351.2C789.3,355.2 791.2,359.4 793.1,363.1C795.1,366.9 797.2,370.3 799.8,373.7C802.3,377.1 805.2,380.5 808.4,383.6C811.6,386.7 815.4,389.7 818.9,392.2C822.5,394.8 826,397 829.5,398.8C833.1,400.7 836.6,402.3 840.1,403.5C843.6,404.7 847.4,405.7 850.7,406.1C854,406.6 857.4,406.4 859.9,406.1C862.5,405.8 864.5,405 865.9,404.1C867.3,403.2 868.1,401.4 868.5,400.8"/><path d="M872.9,186.5C873.8,186.1 876,184.6 878.2,183.9C880.4,183.2 883.3,182.3 886.1,182.2C889,182.1 892.3,182.4 895.4,183.2C898.5,184.1 901.6,185.5 904.7,187.2C907.7,188.8 911,190.9 913.9,193.1C916.8,195.4 919.2,197.7 921.9,200.4C924.5,203.2 927.4,206.4 929.8,209.7C932.2,213 934.3,216.5 936.4,220.3C938.5,224 940.6,228.2 942.4,232.2C944.1,236.1 945.6,240.1 947,244.1C948.4,248 949.7,252 951,256C952.2,259.9 953.3,263.9 954.3,267.9C955.3,271.9 956.2,275.8 956.9,279.8C957.6,283.8 958.2,287.7 958.6,291.7C959.1,295.7 959.4,299.6 959.6,303.6C959.7,307.6 959.7,311.5 959.6,315.5C959.4,319.5 959.1,323.4 958.6,327.4C958.1,331.4 957.5,335.3 956.5,339.3C955.6,343.3 954.4,347.2 952.9,351.2C951.5,355.2 949.6,359.4 947.6,363.1C945.7,366.9 943.6,370.3 941,373.7C938.5,377.1 935.6,380.5 932.4,383.6C929.2,386.7 925.4,389.7 921.9,392.2C918.3,394.8 914.8,397 911.3,398.8C907.7,400.7 904.2,402.3 900.7,403.5C897.2,404.7 893.4,405.7 890.1,406.1C886.8,406.6 883.4,406.4 880.8,406.1C878.3,405.8 876.3,405 874.9,404.1C873.5,403.2 872.7,401.4 872.2,400.8"/><path d="M867.9,186.5 L868.5,400.8"/><path d="M873,186.5 L872.5,400.8"/></g></g>
</defs>
<g transform="matrix(1,0,0,1,0,0)">
<g transform="translate(112,199) scale(5.45)" shape-rendering="crispEdges"><path fill="#ffff00" d="M18 1h6v1h-6zM17 2h1v1h-1zM20 2h4v1h-4zM17 3h2v1h-2zM20 3h2v1h-2zM18 4h3v1h-3zM18 5h2v1h-2zM19 6h1v1h-1zM18 7h2v1h-2zM17 8h2v1h-2zM18 9h1v1h-1zM17 10h2v1h-2zM18 11h1v1h-1zM20 11h2v1h-2zM16 12h6v1h-6zM23 12h2v1h-2zM14 13h16v1h-16zM14 14h11v1h-11zM30 14h1v1h-1zM13 15h8v1h-8zM30 15h1v1h-1zM11 16h10v1h-10zM11 17h4v1h-4zM17 17h2v1h-2zM29 17h1v1h-1zM12 18h2v1h-2zM27 18h2v1h-2zM15 19h1v1h-1zM26 19h1v1h-1zM23 20h1v1h-1zM3 22h2v1h-2zM12 22h1v1h-1zM19 22h2v1h-2zM4 23h1v1h-1zM6 23h2v1h-2zM19 23h1v1h-1zM6 24h6v1h-6zM18 25h1v1h-1zM18 26h1v1h-1zM17 29h1v1h-1z"/><path fill="#ff8300" d="M24 1h2v1h-2zM24 2h1v1h-1zM26 2h1v1h-1zM24 3h5v1h-5zM31 3h3v1h-3zM10 4h1v1h-1zM13 4h1v1h-1zM15 4h1v1h-1zM23 4h2v1h-2zM26 4h1v1h-1zM28 4h1v1h-1zM30 4h3v1h-3zM9 5h1v1h-1zM11 5h1v1h-1zM23 5h4v1h-4zM9 6h1v1h-1zM17 6h1v1h-1zM23 6h4v1h-4zM36 6h1v1h-1zM7 7h1v1h-1zM16 7h1v1h-1zM24 7h3v1h-3zM6 8h1v1h-1zM21 8h6v1h-6zM37 8h1v1h-1zM5 9h3v1h-3zM14 9h1v1h-1zM21 9h1v1h-1zM23 9h3v1h-3zM3 10h1v1h-1zM13 10h1v1h-1zM22 10h2v1h-2zM28 10h1v1h-1zM3 11h3v1h-3zM11 11h1v1h-1zM28 11h3v1h-3zM32 11h2v1h-2zM2 12h1v1h-1zM5 12h2v1h-2zM10 12h1v1h-1zM2 13h4v1h-4zM32 13h3v1h-3zM2 14h4v1h-4zM10 14h1v1h-1zM2 15h3v1h-3zM10 15h1v1h-1zM31 15h1v1h-1zM2 16h1v1h-1zM2 17h2v1h-2zM2 18h3v1h-3zM8 18h1v1h-1zM29 18h1v1h-1zM3 19h2v1h-2zM7 19h2v1h-2zM27 19h1v1h-1zM2 20h4v1h-4zM7 20h3v1h-3zM4 21h4v1h-4zM24 22h2v1h-2zM24 23h1v1h-1zM25 24h1v1h-1zM20 27h1v1h-1z"/><path fill="#ffab00" d="M26 1h4v1h-4zM15 2h2v1h-2zM25 2h1v1h-1zM27 2h2v1h-2zM31 2h1v1h-1zM12 3h2v1h-2zM15 3h2v1h-2zM22 3h2v1h-2zM29 3h2v1h-2zM11 4h2v1h-2zM14 4h1v1h-1zM17 4h1v1h-1zM22 4h1v1h-1zM25 4h1v1h-1zM29 4h1v1h-1zM8 5h1v1h-1zM17 5h1v1h-1zM21 5h2v1h-2zM7 6h2v1h-2zM20 6h3v1h-3zM6 7h1v1h-1zM21 7h3v1h-3zM5 8h1v1h-1zM15 8h1v1h-1zM20 8h1v1h-1zM4 9h1v1h-1zM15 9h1v1h-1zM20 9h1v1h-1zM26 9h2v1h-2zM4 10h2v1h-2zM14 10h2v1h-2zM21 10h1v1h-1zM24 10h4v1h-4zM2 11h1v1h-1zM12 11h4v1h-4zM22 11h6v1h-6zM11 12h4v1h-4zM25 12h2v1h-2zM28 12h6v1h-6zM1 13h1v1h-1zM10 13h4v1h-4zM30 13h2v1h-2zM1 14h1v1h-1zM11 14h2v1h-2zM1 15h1v1h-1zM11 15h1v1h-1zM1 16h1v1h-1zM9 16h2v1h-2zM1 17h1v1h-1zM9 17h1v1h-1zM1 18h1v1h-1zM9 18h2v1h-2zM15 18h1v1h-1zM1 19h2v1h-2zM9 19h3v1h-3zM10 20h2v1h-2zM26 20h2v1h-2zM8 21h3v1h-3zM22 21h2v1h-2zM25 21h3v1h-3zM5 22h5v1h-5zM22 22h2v1h-2zM10 23h2v1h-2zM20 23h4v1h-4zM21 24h4v1h-4zM22 25h5v1h-5zM20 26h2v1h-2zM24 26h1v1h-1zM19 27h1v1h-1zM21 27h2v1h-2zM19 28h2v1h-2zM18 29h2v1h-2z"/><path fill="#ffd300" d="M18 2h2v1h-2zM29 2h2v1h-2zM14 3h1v1h-1zM19 3h1v1h-1zM21 4h1v1h-1zM20 5h1v1h-1zM18 6h1v1h-1zM17 7h1v1h-1zM20 7h1v1h-1zM16 8h1v1h-1zM19 8h1v1h-1zM16 9h1v1h-1zM19 9h1v1h-1zM16 10h1v1h-1zM19 10h2v1h-2zM16 11h2v1h-2zM19 11h1v1h-1zM15 12h1v1h-1zM22 12h1v1h-1zM27 12h1v1h-1zM13 14h1v1h-1zM31 14h1v1h-1zM12 15h1v1h-1zM30 16h1v1h-1zM10 17h1v1h-1zM15 17h2v1h-2zM11 18h1v1h-1zM14 18h1v1h-1zM16 18h1v1h-1zM12 19h3v1h-3zM12 20h2v1h-2zM24 20h2v1h-2zM11 21h1v1h-1zM21 21h1v1h-1zM24 21h1v1h-1zM10 22h2v1h-2zM21 22h1v1h-1zM5 23h1v1h-1zM8 23h2v1h-2zM19 24h2v1h-2zM19 25h3v1h-3zM19 26h1v1h-1zM22 26h2v1h-2zM18 27h1v1h-1zM18 28h1v1h-1zM17 30h1v1h-1z"/><path fill="#ff5a00" d="M16 4h1v1h-1zM27 4h1v1h-1zM33 4h1v1h-1zM10 5h1v1h-1zM12 5h4v1h-4zM27 5h3v1h-3zM16 6h1v1h-1zM35 6h1v1h-1zM8 7h1v1h-1zM35 7h2v1h-2zM7 8h1v1h-1zM8 9h1v1h-1zM22 9h1v1h-1zM6 10h1v1h-1zM9 10h1v1h-1zM11 10h1v1h-1zM6 11h1v1h-1zM10 11h1v1h-1zM3 12h2v1h-2zM7 12h1v1h-1zM9 12h1v1h-1zM34 12h1v1h-1zM6 13h1v1h-1zM8 13h2v1h-2zM6 14h1v1h-1zM32 14h1v1h-1zM5 15h2v1h-2zM3 16h2v1h-2zM8 16h1v1h-1zM4 17h1v1h-1zM8 17h1v1h-1zM30 17h1v1h-1zM5 19h2v1h-2zM6 20h1v1h-1zM28 20h1v1h-1zM2 21h2v1h-2zM30 21h1v1h-1z"/><path fill="#ff3200" d="M34 4h1v1h-1zM16 5h1v1h-1zM32 5h3v1h-3zM10 6h6v1h-6zM34 6h1v1h-1zM9 7h1v1h-1zM11 7h1v1h-1zM13 7h1v1h-1zM15 7h1v1h-1zM34 7h1v1h-1zM8 8h2v1h-2zM12 8h3v1h-3zM27 8h1v1h-1zM34 8h3v1h-3zM9 9h1v1h-1zM11 9h3v1h-3zM34 9h2v1h-2zM38 9h1v1h-1zM7 10h2v1h-2zM10 10h1v1h-1zM12 10h1v1h-1zM7 11h3v1h-3zM31 11h1v1h-1zM34 11h1v1h-1zM8 12h1v1h-1zM7 13h1v1h-1zM8 14h2v1h-2zM7 15h3v1h-3zM6 16h2v1h-2zM34 16h1v1h-1zM6 17h1v1h-1zM34 17h1v1h-1zM5 18h1v1h-1zM7 18h1v1h-1zM28 21h1v1h-1zM31 21h1v1h-1zM26 22h1v1h-1zM30 22h1v1h-1zM29 23h1v1h-1zM26 24h1v1h-1z"/><path fill="#e10000" d="M30 5h2v1h-2zM29 6h2v1h-2zM28 7h3v1h-3zM32 7h1v1h-1zM28 8h5v1h-5zM30 9h4v1h-4zM31 10h3v1h-3zM37 13h1v1h-1zM35 14h1v1h-1zM37 14h1v1h-1zM32 15h1v1h-1zM35 15h1v1h-1zM32 16h1v1h-1zM37 16h1v1h-1zM32 17h1v1h-1zM35 17h1v1h-1zM34 18h1v1h-1zM28 19h1v1h-1zM40 20h2v1h-2zM40 21h1v1h-1zM33 22h1v1h-1zM27 23h1v1h-1z"/><path fill="#ff0a00" d="M35 5h1v1h-1zM27 6h2v1h-2zM33 6h1v1h-1zM10 7h1v1h-1zM12 7h1v1h-1zM14 7h1v1h-1zM27 7h1v1h-1zM33 7h1v1h-1zM10 8h2v1h-2zM33 8h1v1h-1zM10 9h1v1h-1zM28 9h2v1h-2zM36 9h1v1h-1zM29 10h2v1h-2zM34 10h2v1h-2zM7 14h1v1h-1zM36 14h1v1h-1zM34 15h1v1h-1zM36 15h2v1h-2zM5 16h1v1h-1zM33 16h1v1h-1zM35 16h2v1h-2zM5 17h1v1h-1zM7 17h1v1h-1zM33 17h1v1h-1zM6 18h1v1h-1zM29 21h1v1h-1zM27 22h3v1h-3zM31 22h2v1h-2zM25 23h2v1h-2zM28 23h1v1h-1zM30 23h2v1h-2zM27 24h2v1h-2z"/><path fill="#b20000" d="M31 6h2v1h-2zM31 7h1v1h-1zM37 9h1v1h-1zM35 13h2v1h-2zM38 13h1v1h-1zM34 14h1v1h-1zM38 14h1v1h-1zM33 15h1v1h-1zM38 15h1v1h-1zM31 16h1v1h-1zM36 17h1v1h-1zM34 22h1v1h-1z"/><path fill="#ffff4a" d="M17 9h1v1h-1zM25 14h1v1h-1zM28 14h2v1h-2zM21 15h3v1h-3zM28 15h2v1h-2zM28 16h2v1h-2zM28 17h1v1h-1zM17 18h1v1h-1zM26 18h1v1h-1zM16 19h1v1h-1zM22 19h4v1h-4zM14 20h1v1h-1zM20 20h3v1h-3zM12 21h3v1h-3zM19 21h2v1h-2zM13 22h2v1h-2zM12 23h3v1h-3zM18 23h1v1h-1zM12 24h2v1h-2zM18 24h1v1h-1zM17 25h1v1h-1zM17 26h1v1h-1zM17 27h1v1h-1zM17 28h1v1h-1z"/><path fill="#830000" d="M36 10h1v1h-1zM35 11h1v1h-1zM35 12h1v1h-1zM37 12h1v1h-1zM40 13h1v1h-1zM33 14h1v1h-1zM31 17h1v1h-1zM33 18h1v1h-1zM29 19h1v1h-1zM29 20h2v1h-2zM32 21h1v1h-1z"/><path fill="#250000" d="M37 10h1v1h-1zM36 11h2v1h-2zM39 11h1v1h-1zM39 14h2v1h-2zM40 15h1v1h-1zM40 16h1v1h-1zM37 17h3v1h-3zM41 17h1v1h-1zM31 18h2v1h-2zM36 18h4v1h-4zM30 19h6v1h-6zM38 19h2v1h-2zM41 19h1v1h-1zM32 20h8v1h-8zM33 21h7v1h-7zM35 22h5v1h-5z"/><path fill="#540000" d="M38 10h1v1h-1zM38 11h1v1h-1zM36 12h1v1h-1zM38 12h2v1h-2zM39 13h1v1h-1zM39 15h1v1h-1zM38 16h2v1h-2zM41 16h1v1h-1zM40 17h1v1h-1zM30 18h1v1h-1zM35 18h1v1h-1zM40 18h2v1h-2zM36 19h2v1h-2zM40 19h1v1h-1zM31 20h1v1h-1z"/><path fill="#ffff99" d="M26 14h2v1h-2zM24 15h1v1h-1zM26 15h2v1h-2zM21 16h3v1h-3zM26 16h2v1h-2zM19 17h3v1h-3zM24 17h4v1h-4zM18 18h4v1h-4zM24 18h2v1h-2zM17 19h5v1h-5zM15 20h5v1h-5zM15 21h1v1h-1zM17 21h2v1h-2zM15 22h4v1h-4zM15 23h3v1h-3zM14 24h4v1h-4zM16 30h1v1h-1z"/><path fill="#ffffd6" d="M25 15h1v1h-1zM24 16h2v1h-2zM22 17h2v1h-2zM22 18h2v1h-2zM16 21h1v1h-1zM12 25h5v1h-5zM12 26h2v1h-2zM15 26h2v1h-2zM12 27h1v1h-1zM14 27h3v1h-3zM13 28h4v1h-4zM13 29h4v1h-4z"/></g>
<use href="#Lsl"/>
<g transform="translate(351,198) scale(5.45)" shape-rendering="crispEdges"><path fill="#ff5a00" d="M11 1h1v1h-1zM21 1h2v1h-2zM23 2h1v1h-1zM6 4h2v1h-2zM8 5h1v1h-1zM18 5h2v1h-2zM22 5h5v1h-5zM8 6h2v1h-2zM11 6h1v1h-1zM19 6h1v1h-1zM21 6h3v1h-3zM8 7h6v1h-6zM15 7h8v1h-8zM8 8h6v1h-6zM20 8h3v1h-3zM8 9h3v1h-3zM31 9h1v1h-1zM10 10h1v1h-1zM31 10h1v1h-1zM8 11h1v1h-1zM31 11h1v1h-1zM7 12h2v1h-2zM3 13h1v1h-1zM7 13h2v1h-2zM3 14h2v1h-2zM29 14h1v1h-1zM3 15h1v1h-1zM30 15h1v1h-1zM29 18h1v1h-1zM3 19h2v1h-2zM29 19h2v1h-2zM3 20h2v1h-2zM30 20h1v1h-1zM4 21h2v1h-2zM30 21h1v1h-1zM4 22h3v1h-3zM4 23h4v1h-4zM13 23h2v1h-2zM28 23h2v1h-2zM9 24h1v1h-1zM26 24h1v1h-1z"/><path fill="#ff8300" d="M12 1h1v1h-1zM20 1h1v1h-1zM9 2h4v1h-4zM20 2h3v1h-3zM24 2h1v1h-1zM7 3h4v1h-4zM12 3h1v1h-1zM19 3h6v1h-6zM8 4h4v1h-4zM19 4h9v1h-9zM9 5h4v1h-4zM17 5h1v1h-1zM21 5h1v1h-1zM10 6h1v1h-1zM12 6h1v1h-1zM17 6h2v1h-2zM20 6h1v1h-1zM11 9h1v1h-1zM8 10h2v1h-2zM2 11h1v1h-1zM9 11h1v1h-1zM2 12h1v1h-1zM2 13h1v1h-1zM31 13h1v1h-1zM30 14h1v1h-1zM31 15h1v1h-1zM3 16h1v1h-1zM31 16h1v1h-1zM30 17h1v1h-1zM30 18h1v1h-1zM2 19h1v1h-1zM31 19h1v1h-1zM2 20h1v1h-1zM31 20h1v1h-1zM3 21h1v1h-1zM3 22h1v1h-1zM30 22h1v1h-1zM3 23h1v1h-1zM30 23h2v1h-2zM5 24h4v1h-4zM11 24h4v1h-4zM22 24h1v1h-1zM27 24h2v1h-2zM16 25h2v1h-2z"/><path fill="#ffab00" d="M13 1h2v1h-2zM17 1h1v1h-1zM13 2h1v1h-1zM18 2h2v1h-2zM11 3h1v1h-1zM13 3h1v1h-1zM18 3h1v1h-1zM25 3h2v1h-2zM12 4h1v1h-1zM18 4h1v1h-1zM20 5h1v1h-1zM13 6h2v1h-2zM2 9h1v1h-1zM2 10h1v1h-1zM1 11h1v1h-1zM1 12h1v1h-1zM31 12h2v1h-2zM1 13h1v1h-1zM32 13h1v1h-1zM1 14h2v1h-2zM31 14h2v1h-2zM1 15h2v1h-2zM32 15h1v1h-1zM32 16h1v1h-1zM31 17h2v1h-2zM31 18h2v1h-2zM1 19h1v1h-1zM32 19h1v1h-1zM1 20h1v1h-1zM32 20h1v1h-1zM1 21h2v1h-2zM32 21h1v1h-1zM1 22h2v1h-2zM2 23h1v1h-1zM29 27h1v1h-1z"/><path fill="#ffd300" d="M15 1h2v1h-2zM18 1h2v1h-2zM14 2h1v1h-1zM17 2h1v1h-1zM15 3h3v1h-3zM13 4h1v1h-1zM15 4h3v1h-3zM13 5h4v1h-4zM15 6h2v1h-2zM3 17h2v1h-2zM3 18h2v1h-2zM31 21h1v1h-1zM31 22h1v1h-1zM15 23h1v1h-1zM21 23h1v1h-1zM3 24h2v1h-2zM29 24h3v1h-3z"/><path fill="#ffff00" d="M15 2h2v1h-2zM14 3h1v1h-1zM14 4h1v1h-1zM1 16h2v1h-2zM1 17h2v1h-2zM1 18h2v1h-2zM16 23h5v1h-5zM2 24h1v1h-1zM3 25h3v1h-3zM26 25h1v1h-1zM28 25h3v1h-3zM28 26h2v1h-2z"/><path fill="#ff3200" d="M5 5h3v1h-3zM27 5h2v1h-2zM14 7h1v1h-1zM23 7h1v1h-1zM25 7h2v1h-2zM29 7h1v1h-1zM14 8h2v1h-2zM17 8h3v1h-3zM23 8h1v1h-1zM12 9h1v1h-1zM21 9h4v1h-4zM29 9h1v1h-1zM23 10h2v1h-2zM29 10h1v1h-1zM7 11h1v1h-1zM10 11h1v1h-1zM24 11h1v1h-1zM30 11h1v1h-1zM3 12h1v1h-1zM6 12h1v1h-1zM9 12h1v1h-1zM25 12h2v1h-2zM30 12h1v1h-1zM4 13h3v1h-3zM25 13h1v1h-1zM27 13h1v1h-1zM29 13h2v1h-2zM5 14h3v1h-3zM28 14h1v1h-1zM4 15h1v1h-1zM28 15h2v1h-2zM4 16h1v1h-1zM30 16h1v1h-1zM29 17h1v1h-1zM5 19h1v1h-1zM5 20h1v1h-1zM29 20h1v1h-1zM6 21h1v1h-1zM28 22h2v1h-2zM10 23h3v1h-3zM22 23h2v1h-2zM25 23h1v1h-1zM27 23h1v1h-1zM10 24h1v1h-1zM23 24h1v1h-1zM23 25h1v1h-1zM25 25h1v1h-1z"/><path fill="#e10000" d="M4 6h1v1h-1zM7 6h1v1h-1zM4 7h1v1h-1zM6 7h1v1h-1zM27 7h1v1h-1zM4 8h2v1h-2zM7 8h1v1h-1zM27 8h1v1h-1zM4 9h1v1h-1zM5 10h3v1h-3zM5 11h2v1h-2zM28 11h1v1h-1zM28 12h1v1h-1zM8 14h1v1h-1zM5 15h1v1h-1zM7 15h1v1h-1zM5 16h2v1h-2zM13 16h1v1h-1zM15 16h2v1h-2zM18 16h2v1h-2zM5 17h1v1h-1zM12 17h1v1h-1zM16 17h1v1h-1zM19 17h1v1h-1zM12 18h1v1h-1zM14 18h3v1h-3zM29 21h1v1h-1zM24 24h1v1h-1z"/><path fill="#b20000" d="M5 6h2v1h-2zM5 7h1v1h-1zM24 13h1v1h-1zM8 15h1v1h-1zM7 16h1v1h-1zM12 16h1v1h-1zM14 16h1v1h-1zM6 17h1v1h-1zM13 18h1v1h-1zM28 21h1v1h-1zM27 22h1v1h-1z"/><path fill="#ff0a00" d="M24 6h6v1h-6zM3 7h1v1h-1zM7 7h1v1h-1zM24 7h1v1h-1zM28 7h1v1h-1zM30 7h1v1h-1zM3 8h1v1h-1zM6 8h1v1h-1zM16 8h1v1h-1zM24 8h3v1h-3zM28 8h3v1h-3zM3 9h1v1h-1zM5 9h3v1h-3zM20 9h1v1h-1zM25 9h4v1h-4zM30 9h1v1h-1zM3 10h2v1h-2zM11 10h1v1h-1zM22 10h1v1h-1zM25 10h4v1h-4zM30 10h1v1h-1zM3 11h2v1h-2zM23 11h1v1h-1zM25 11h3v1h-3zM29 11h1v1h-1zM4 12h2v1h-2zM24 12h1v1h-1zM27 12h1v1h-1zM29 12h1v1h-1zM9 13h1v1h-1zM26 13h1v1h-1zM28 13h1v1h-1zM27 14h1v1h-1zM6 15h1v1h-1zM17 16h1v1h-1zM29 16h1v1h-1zM13 17h3v1h-3zM17 17h2v1h-2zM5 18h1v1h-1zM6 20h1v1h-1zM7 22h1v1h-1zM8 23h2v1h-2zM24 23h1v1h-1zM26 23h1v1h-1zM25 24h1v1h-1zM24 25h1v1h-1z"/><path fill="#830000" d="M13 9h1v1h-1zM19 9h1v1h-1zM12 10h1v1h-1zM20 10h2v1h-2zM22 11h1v1h-1zM10 12h1v1h-1zM23 12h1v1h-1zM23 13h1v1h-1zM16 15h1v1h-1zM21 15h1v1h-1zM27 15h1v1h-1zM28 16h1v1h-1zM17 18h1v1h-1zM28 18h1v1h-1zM6 19h1v1h-1zM7 21h1v1h-1zM11 22h2v1h-2zM15 22h6v1h-6z"/><path fill="#540000" d="M14 9h2v1h-2zM17 9h2v1h-2zM11 11h1v1h-1zM17 11h2v1h-2zM21 11h1v1h-1zM17 12h1v1h-1zM21 12h2v1h-2zM10 13h1v1h-1zM9 14h1v1h-1zM17 14h2v1h-2zM24 14h3v1h-3zM15 15h1v1h-1zM17 15h1v1h-1zM19 15h1v1h-1zM22 15h1v1h-1zM8 16h1v1h-1zM20 16h2v1h-2zM27 16h1v1h-1zM7 17h1v1h-1zM20 17h1v1h-1zM28 17h1v1h-1zM6 18h2v1h-2zM11 18h1v1h-1zM18 18h1v1h-1zM11 19h1v1h-1zM24 19h2v1h-2zM28 19h1v1h-1zM7 20h1v1h-1zM23 20h1v1h-1zM28 20h1v1h-1zM18 21h2v1h-2zM24 21h1v1h-1zM26 21h2v1h-2zM8 22h3v1h-3zM13 22h2v1h-2zM21 22h6v1h-6z"/><path fill="#250000" d="M16 9h1v1h-1zM13 10h7v1h-7zM12 11h5v1h-5zM19 11h2v1h-2zM11 12h6v1h-6zM18 12h3v1h-3zM11 13h12v1h-12zM10 14h7v1h-7zM19 14h5v1h-5zM9 15h6v1h-6zM18 15h1v1h-1zM20 15h1v1h-1zM23 15h4v1h-4zM9 16h3v1h-3zM22 16h5v1h-5zM8 17h4v1h-4zM21 17h7v1h-7zM8 18h3v1h-3zM19 18h9v1h-9zM7 19h4v1h-4zM12 19h12v1h-12zM26 19h2v1h-2zM8 20h15v1h-15zM24 20h4v1h-4zM8 21h10v1h-10zM20 21h4v1h-4zM25 21h1v1h-1z"/><path fill="#ffff4a" d="M15 24h7v1h-7zM6 25h1v1h-1zM9 25h4v1h-4zM22 25h1v1h-1zM27 25h1v1h-1zM4 26h1v1h-1zM24 26h2v1h-2z"/><path fill="#ffff99" d="M7 25h2v1h-2zM20 25h2v1h-2zM5 26h8v1h-8zM21 26h3v1h-3zM26 26h2v1h-2zM4 27h8v1h-8zM21 27h8v1h-8zM6 28h6v1h-6zM21 28h8v1h-8zM5 29h7v1h-7zM21 29h8v1h-8z"/><path fill="#ffffd6" d="M5 28h1v1h-1z"/></g>
<use href="#Lco"/>
<g transform="translate(541,199) scale(5.45)" shape-rendering="crispEdges"><path fill="#ff8300" d="M13 1h2v1h-2zM11 2h1v1h-1zM27 2h1v1h-1zM12 3h1v1h-1zM8 4h1v1h-1zM17 4h1v1h-1zM32 4h1v1h-1zM33 5h1v1h-1zM16 6h1v1h-1zM26 6h1v1h-1zM34 6h2v1h-2zM5 7h1v1h-1zM16 7h1v1h-1zM35 7h2v1h-2zM17 8h1v1h-1zM36 8h2v1h-2zM19 9h1v1h-1zM26 9h1v1h-1zM38 9h1v1h-1zM22 10h1v1h-1zM25 10h2v1h-2zM38 10h1v1h-1zM22 11h7v1h-7zM38 11h2v1h-2zM14 12h4v1h-4zM20 12h1v1h-1zM22 12h8v1h-8zM36 12h2v1h-2zM39 12h2v1h-2zM13 13h1v1h-1zM26 13h2v1h-2zM38 13h3v1h-3zM12 14h1v1h-1zM40 14h2v1h-2zM12 15h1v1h-1zM32 15h1v1h-1zM12 16h1v1h-1zM32 16h4v1h-4zM41 16h1v1h-1zM12 17h1v1h-1zM32 17h2v1h-2zM40 17h2v1h-2zM32 18h2v1h-2zM41 18h1v1h-1zM32 19h1v1h-1zM39 19h2v1h-2zM13 24h1v1h-1zM19 24h1v1h-1zM19 26h1v1h-1z"/><path fill="#ffab00" d="M15 1h2v1h-2zM18 1h2v1h-2zM24 1h1v1h-1zM12 2h8v1h-8zM13 3h1v1h-1zM17 3h2v1h-2zM27 3h1v1h-1zM14 4h1v1h-1zM16 4h1v1h-1zM18 4h2v1h-2zM15 5h5v1h-5zM17 6h5v1h-5zM17 7h1v1h-1zM19 7h4v1h-4zM18 8h4v1h-4zM20 9h3v1h-3zM25 9h1v1h-1zM20 10h2v1h-2zM23 10h1v1h-1zM27 10h1v1h-1zM39 10h1v1h-1zM21 11h1v1h-1zM18 12h2v1h-2zM21 12h1v1h-1zM14 13h1v1h-1zM22 13h4v1h-4zM28 13h1v1h-1zM31 13h1v1h-1zM13 14h1v1h-1zM27 14h1v1h-1zM31 14h1v1h-1zM13 15h1v1h-1zM31 15h1v1h-1zM41 15h1v1h-1zM13 16h1v1h-1zM30 16h2v1h-2zM13 17h1v1h-1zM34 17h6v1h-6zM14 18h1v1h-1zM31 18h1v1h-1zM34 18h3v1h-3zM38 18h3v1h-3zM30 19h1v1h-1zM33 19h4v1h-4zM38 19h1v1h-1zM41 19h1v1h-1zM31 20h3v1h-3zM36 20h1v1h-1zM39 20h2v1h-2zM20 21h2v1h-2zM19 22h1v1h-1zM21 22h1v1h-1zM19 23h1v1h-1zM20 26h1v1h-1zM20 27h1v1h-1zM21 28h1v1h-1zM24 30h2v1h-2z"/><path fill="#ffd300" d="M17 1h1v1h-1zM20 2h1v1h-1zM24 2h1v1h-1zM14 3h3v1h-3zM19 3h2v1h-2zM15 4h1v1h-1zM20 4h1v1h-1zM27 4h1v1h-1zM20 5h2v1h-2zM26 5h1v1h-1zM18 7h1v1h-1zM25 7h1v1h-1zM22 8h1v1h-1zM25 8h1v1h-1zM23 9h1v1h-1zM24 10h1v1h-1zM15 13h1v1h-1zM29 13h2v1h-2zM26 14h1v1h-1zM28 14h3v1h-3zM29 15h2v1h-2zM29 16h1v1h-1zM14 17h1v1h-1zM30 17h2v1h-2zM30 18h1v1h-1zM37 18h1v1h-1zM37 19h1v1h-1zM18 20h4v1h-4zM30 20h1v1h-1zM34 20h2v1h-2zM37 20h2v1h-2zM18 21h2v1h-2zM30 21h1v1h-1zM39 21h1v1h-1zM18 22h1v1h-1zM20 22h1v1h-1zM20 23h2v1h-2zM22 28h1v1h-1zM23 29h1v1h-1zM26 30h1v1h-1z"/><path fill="#ffff00" d="M20 1h4v1h-4zM21 2h3v1h-3zM25 2h2v1h-2zM21 3h6v1h-6zM21 4h6v1h-6zM22 5h3v1h-3zM22 6h4v1h-4zM23 7h2v1h-2zM23 8h2v1h-2zM24 9h1v1h-1zM28 15h1v1h-1zM29 17h1v1h-1zM15 19h1v1h-1zM16 20h1v1h-1zM29 20h1v1h-1zM17 21h1v1h-1zM28 21h2v1h-2zM31 21h8v1h-8zM40 21h1v1h-1zM27 22h9v1h-9zM37 22h1v1h-1zM39 22h1v1h-1zM31 23h5v1h-5zM37 23h2v1h-2zM31 24h6v1h-6z"/><path fill="#ff5a00" d="M9 3h1v1h-1zM11 3h1v1h-1zM28 3h2v1h-2zM12 4h2v1h-2zM31 4h1v1h-1zM7 5h2v1h-2zM14 5h1v1h-1zM27 5h1v1h-1zM32 5h1v1h-1zM6 6h1v1h-1zM9 6h1v1h-1zM15 6h1v1h-1zM33 6h1v1h-1zM6 7h1v1h-1zM26 7h1v1h-1zM34 7h1v1h-1zM5 8h2v1h-2zM11 8h1v1h-1zM16 8h1v1h-1zM26 8h1v1h-1zM35 8h1v1h-1zM16 9h1v1h-1zM18 9h1v1h-1zM35 9h3v1h-3zM18 10h2v1h-2zM35 10h3v1h-3zM10 11h1v1h-1zM20 11h1v1h-1zM36 11h2v1h-2zM30 12h1v1h-1zM38 12h1v1h-1zM36 13h2v1h-2zM36 14h4v1h-4zM36 15h1v1h-1zM40 15h1v1h-1zM36 16h2v1h-2zM39 16h2v1h-2zM13 18h1v1h-1zM31 19h1v1h-1zM1 21h1v1h-1zM10 23h2v1h-2zM14 24h1v1h-1zM17 25h1v1h-1zM19 25h1v1h-1zM18 26h1v1h-1z"/><path fill="#ff3200" d="M10 3h1v1h-1zM9 4h1v1h-1zM11 4h1v1h-1zM28 4h1v1h-1zM30 4h1v1h-1zM9 5h2v1h-2zM13 5h1v1h-1zM28 5h1v1h-1zM31 5h1v1h-1zM8 6h1v1h-1zM10 6h1v1h-1zM12 6h3v1h-3zM32 6h1v1h-1zM7 7h1v1h-1zM9 7h3v1h-3zM13 7h3v1h-3zM8 8h3v1h-3zM12 8h2v1h-2zM15 8h1v1h-1zM27 8h2v1h-2zM8 9h8v1h-8zM17 9h1v1h-1zM27 9h1v1h-1zM9 10h9v1h-9zM28 10h2v1h-2zM9 11h1v1h-1zM11 11h9v1h-9zM29 11h1v1h-1zM35 11h1v1h-1zM10 12h4v1h-4zM31 12h1v1h-1zM35 12h1v1h-1zM11 13h2v1h-2zM35 13h1v1h-1zM10 14h2v1h-2zM32 14h1v1h-1zM35 15h1v1h-1zM37 15h3v1h-3zM11 16h1v1h-1zM38 16h1v1h-1zM11 17h1v1h-1zM12 18h1v1h-1zM1 20h1v1h-1zM2 22h1v1h-1zM17 22h1v1h-1zM18 23h1v1h-1zM16 25h1v1h-1z"/><path fill="#ff0a00" d="M10 4h1v1h-1zM29 4h1v1h-1zM11 5h2v1h-2zM29 5h2v1h-2zM7 6h1v1h-1zM11 6h1v1h-1zM27 6h3v1h-3zM31 6h1v1h-1zM8 7h1v1h-1zM12 7h1v1h-1zM27 7h4v1h-4zM33 7h1v1h-1zM7 8h1v1h-1zM14 8h1v1h-1zM29 8h6v1h-6zM28 9h7v1h-7zM30 10h5v1h-5zM30 11h4v1h-4zM9 12h1v1h-1zM32 12h1v1h-1zM10 13h1v1h-1zM32 13h1v1h-1zM35 14h1v1h-1zM11 15h1v1h-1zM33 15h2v1h-2zM1 19h1v1h-1zM15 20h1v1h-1zM2 21h1v1h-1zM14 21h1v1h-1zM16 21h1v1h-1zM12 23h2v1h-2zM17 23h1v1h-1zM15 24h3v1h-3zM18 25h1v1h-1z"/><path fill="#ffff4a" d="M25 5h1v1h-1zM16 13h2v1h-2zM19 13h3v1h-3zM14 14h1v1h-1zM22 14h4v1h-4zM14 15h1v1h-1zM27 15h1v1h-1zM14 16h1v1h-1zM28 16h1v1h-1zM29 18h1v1h-1zM20 19h2v1h-2zM29 19h1v1h-1zM22 20h1v1h-1zM27 20h2v1h-2zM22 21h1v1h-1zM27 21h1v1h-1zM22 22h1v1h-1zM36 22h1v1h-1zM38 22h1v1h-1zM30 23h1v1h-1zM36 23h1v1h-1zM20 24h1v1h-1zM20 25h1v1h-1zM21 27h1v1h-1zM23 28h1v1h-1zM24 29h1v1h-1z"/><path fill="#e10000" d="M30 6h1v1h-1zM31 7h2v1h-2zM7 9h1v1h-1zM8 10h1v1h-1zM34 11h1v1h-1zM33 12h2v1h-2zM34 13h1v1h-1zM9 14h1v1h-1zM33 14h2v1h-2zM8 15h2v1h-2zM8 16h1v1h-1zM10 17h1v1h-1zM1 18h1v1h-1zM2 19h1v1h-1zM2 20h2v1h-2zM13 21h1v1h-1zM15 21h1v1h-1zM10 22h2v1h-2zM13 22h4v1h-4zM14 23h3v1h-3zM18 24h1v1h-1z"/><path fill="#250000" d="M4 9h1v1h-1zM4 10h4v1h-4zM5 11h3v1h-3zM4 12h3v1h-3zM3 13h1v1h-1zM6 13h1v1h-1zM8 13h1v1h-1zM3 14h1v1h-1zM5 14h2v1h-2zM1 15h6v1h-6zM1 16h4v1h-4zM2 17h5v1h-5zM3 18h5v1h-5zM4 19h6v1h-6zM11 19h3v1h-3zM4 20h10v1h-10zM4 21h5v1h-5zM11 21h1v1h-1zM3 22h6v1h-6z"/><path fill="#540000" d="M5 9h1v1h-1zM3 11h2v1h-2zM8 11h1v1h-1zM3 12h1v1h-1zM7 12h2v1h-2zM2 13h1v1h-1zM4 13h2v1h-2zM7 13h1v1h-1zM2 14h1v1h-1zM4 14h1v1h-1zM7 14h1v1h-1zM7 15h1v1h-1zM5 16h3v1h-3zM1 17h1v1h-1zM7 17h1v1h-1zM2 18h1v1h-1zM8 18h3v1h-3zM10 19h1v1h-1zM14 20h1v1h-1zM9 21h2v1h-2zM12 21h1v1h-1zM9 22h1v1h-1z"/><path fill="#830000" d="M6 9h1v1h-1zM9 13h1v1h-1zM10 15h1v1h-1zM10 16h1v1h-1zM11 18h1v1h-1zM14 19h1v1h-1zM3 21h1v1h-1z"/><path fill="#ffff99" d="M18 13h1v1h-1zM15 14h7v1h-7zM15 15h12v1h-12zM15 16h13v1h-13zM15 17h2v1h-2zM21 17h8v1h-8zM15 18h1v1h-1zM20 18h9v1h-9zM16 19h4v1h-4zM22 19h7v1h-7zM17 20h1v1h-1zM23 20h4v1h-4zM23 21h4v1h-4zM23 22h4v1h-4zM22 23h8v1h-8zM21 24h10v1h-10zM21 25h10v1h-10zM21 26h10v1h-10zM22 27h2v1h-2zM30 27h1v1h-1zM24 28h1v1h-1zM25 29h1v1h-1z"/><path fill="#b20000" d="M33 13h1v1h-1zM8 14h1v1h-1zM9 16h1v1h-1zM8 17h2v1h-2zM3 19h1v1h-1zM12 22h1v1h-1z"/><path fill="#ffffd6" d="M17 17h4v1h-4zM16 18h4v1h-4zM24 27h6v1h-6zM25 28h5v1h-5zM26 29h3v1h-3z"/></g>
<use href="#Lsr"/>
<g transform="translate(780,181) scale(5.45)" shape-rendering="crispEdges"><path fill="#ff8300" d="M11 1h1v1h-1zM20 1h3v1h-3zM9 2h3v1h-3zM19 2h5v1h-5zM10 3h3v1h-3zM15 3h1v1h-1zM17 3h1v1h-1zM20 3h1v1h-1zM22 3h1v1h-1zM24 3h1v1h-1zM11 4h5v1h-5zM17 4h9v1h-9zM11 5h1v1h-1zM13 5h3v1h-3zM17 5h6v1h-6zM12 6h1v1h-1zM17 6h3v1h-3zM21 6h1v1h-1zM23 6h1v1h-1zM27 6h1v1h-1zM11 7h1v1h-1zM19 7h1v1h-1zM21 7h3v1h-3zM26 7h2v1h-2zM10 8h2v1h-2zM19 8h3v1h-3zM23 8h2v1h-2zM27 8h2v1h-2zM10 9h3v1h-3zM20 9h1v1h-1zM28 9h1v1h-1zM10 10h1v1h-1zM12 10h1v1h-1zM19 10h2v1h-2zM29 10h1v1h-1zM11 11h2v1h-2zM19 11h2v1h-2zM3 12h1v1h-1zM10 12h1v1h-1zM19 12h2v1h-2zM28 12h3v1h-3zM4 13h1v1h-1zM10 13h1v1h-1zM17 13h3v1h-3zM28 13h3v1h-3zM2 14h3v1h-3zM30 14h1v1h-1zM24 15h3v1h-3zM1 17h1v1h-1zM1 18h1v1h-1zM1 19h1v1h-1zM28 21h1v1h-1zM30 21h3v1h-3zM8 22h2v1h-2zM26 22h1v1h-1zM28 22h5v1h-5zM18 23h1v1h-1zM21 23h1v1h-1zM24 23h2v1h-2zM27 23h4v1h-4zM32 23h1v1h-1zM9 24h2v1h-2zM12 24h1v1h-1zM15 24h1v1h-1zM17 24h4v1h-4zM24 24h1v1h-1zM26 24h4v1h-4zM32 24h1v1h-1zM5 25h1v1h-1zM13 25h1v1h-1zM17 25h1v1h-1zM29 25h4v1h-4zM17 26h1v1h-1zM29 26h3v1h-3zM17 27h1v1h-1zM17 28h2v1h-2zM17 29h2v1h-2zM14 30h1v1h-1zM30 30h1v1h-1zM3 31h1v1h-1zM30 31h1v1h-1zM30 32h1v1h-1zM3 33h1v1h-1zM4 34h1v1h-1zM29 34h1v1h-1z"/><path fill="#ffd300" d="M12 1h4v1h-4zM17 1h3v1h-3zM13 2h3v1h-3zM11 13h1v1h-1zM10 14h1v1h-1zM22 14h1v1h-1zM2 15h3v1h-3zM9 15h1v1h-1zM27 15h4v1h-4zM6 16h1v1h-1zM8 16h2v1h-2zM24 16h2v1h-2zM2 17h3v1h-3zM7 17h2v1h-2zM24 17h3v1h-3zM2 18h1v1h-1zM6 18h4v1h-4zM24 18h3v1h-3zM30 18h1v1h-1zM6 19h4v1h-4zM24 19h8v1h-8zM3 20h7v1h-7zM24 20h1v1h-1zM27 20h3v1h-3zM4 21h3v1h-3zM9 21h1v1h-1zM23 21h3v1h-3zM17 22h1v1h-1zM23 22h1v1h-1zM12 23h1v1h-1zM1 24h1v1h-1zM4 24h2v1h-2zM2 25h1v1h-1zM2 26h1v1h-1zM14 26h2v1h-2zM2 27h1v1h-1zM14 27h1v1h-1zM29 27h1v1h-1zM14 28h1v1h-1zM29 28h1v1h-1zM30 29h1v1h-1zM2 30h1v1h-1zM2 31h1v1h-1z"/><path fill="#ffab00" d="M12 2h1v1h-1zM17 2h2v1h-2zM13 3h2v1h-2zM23 3h1v1h-1zM10 6h2v1h-2zM20 6h1v1h-1zM22 6h1v1h-1zM10 7h1v1h-1zM20 7h1v1h-1zM19 9h1v1h-1zM11 10h1v1h-1zM11 12h5v1h-5zM28 14h2v1h-2zM5 15h4v1h-4zM23 15h1v1h-1zM1 16h1v1h-1zM7 16h1v1h-1zM26 16h1v1h-1zM2 19h1v1h-1zM1 20h2v1h-2zM25 20h2v1h-2zM30 20h2v1h-2zM1 21h3v1h-3zM7 21h2v1h-2zM26 21h2v1h-2zM29 21h1v1h-1zM1 22h7v1h-7zM15 22h1v1h-1zM18 22h1v1h-1zM24 22h2v1h-2zM1 23h11v1h-11zM13 23h3v1h-3zM17 23h1v1h-1zM19 23h2v1h-2zM22 23h2v1h-2zM2 24h2v1h-2zM6 24h3v1h-3zM13 24h2v1h-2zM25 24h1v1h-1zM3 25h2v1h-2zM14 25h2v1h-2zM2 28h1v1h-1zM2 29h1v1h-1zM14 29h1v1h-1zM15 30h1v1h-1zM31 30h1v1h-1zM2 32h2v1h-2zM4 35h1v1h-1z"/><path fill="#ff5a00" d="M8 3h2v1h-2zM18 3h2v1h-2zM21 3h1v1h-1zM10 4h1v1h-1zM10 5h1v1h-1zM12 5h1v1h-1zM23 5h4v1h-4zM9 6h1v1h-1zM13 6h3v1h-3zM24 6h3v1h-3zM14 7h2v1h-2zM24 7h2v1h-2zM4 8h1v1h-1zM12 8h1v1h-1zM14 8h2v1h-2zM22 8h1v1h-1zM25 8h2v1h-2zM5 9h1v1h-1zM7 9h1v1h-1zM13 9h3v1h-3zM3 10h1v1h-1zM13 10h3v1h-3zM28 10h1v1h-1zM3 11h1v1h-1zM10 11h1v1h-1zM13 11h1v1h-1zM28 11h2v1h-2zM4 12h2v1h-2zM2 13h2v1h-2zM5 13h1v1h-1zM20 13h1v1h-1zM5 14h1v1h-1zM9 14h1v1h-1zM27 22h1v1h-1zM26 23h1v1h-1zM31 23h1v1h-1zM11 24h1v1h-1zM21 24h3v1h-3zM30 24h2v1h-2zM18 25h1v1h-1zM25 25h1v1h-1zM18 26h1v1h-1zM18 27h1v1h-1zM28 27h1v1h-1zM27 28h2v1h-2zM3 30h1v1h-1zM17 30h3v1h-3zM4 33h1v1h-1zM29 33h1v1h-1zM5 35h1v1h-1zM28 35h1v1h-1zM5 36h1v1h-1z"/><path fill="#ff3200" d="M7 4h3v1h-3zM9 5h1v1h-1zM5 6h1v1h-1zM5 7h3v1h-3zM9 7h1v1h-1zM12 7h2v1h-2zM18 7h1v1h-1zM5 8h1v1h-1zM8 8h1v1h-1zM13 8h1v1h-1zM4 9h1v1h-1zM6 9h1v1h-1zM8 9h2v1h-2zM18 9h1v1h-1zM21 9h1v1h-1zM24 9h2v1h-2zM27 9h1v1h-1zM5 10h5v1h-5zM21 10h1v1h-1zM25 10h1v1h-1zM4 11h3v1h-3zM8 11h2v1h-2zM14 11h2v1h-2zM21 11h1v1h-1zM7 12h1v1h-1zM9 12h1v1h-1zM18 12h1v1h-1zM21 12h2v1h-2zM6 13h2v1h-2zM21 13h2v1h-2zM6 14h3v1h-3zM26 14h2v1h-2zM6 25h1v1h-1zM19 25h2v1h-2zM24 25h1v1h-1zM26 25h3v1h-3zM24 26h2v1h-2zM28 26h1v1h-1zM27 27h1v1h-1zM19 28h1v1h-1zM25 28h2v1h-2zM19 29h2v1h-2zM26 29h2v1h-2zM29 29h1v1h-1zM26 30h1v1h-1zM24 31h2v1h-2zM29 31h1v1h-1zM28 32h2v1h-2zM28 34h1v1h-1z"/><path fill="#ff0a00" d="M6 5h3v1h-3zM6 6h3v1h-3zM8 7h1v1h-1zM6 8h2v1h-2zM9 8h1v1h-1zM18 8h1v1h-1zM22 9h2v1h-2zM26 9h1v1h-1zM4 10h1v1h-1zM22 10h3v1h-3zM26 10h2v1h-2zM7 11h1v1h-1zM22 11h3v1h-3zM27 11h1v1h-1zM6 12h1v1h-1zM8 12h1v1h-1zM17 12h1v1h-1zM23 12h5v1h-5zM8 13h2v1h-2zM23 13h2v1h-2zM27 13h1v1h-1zM23 14h3v1h-3zM7 25h3v1h-3zM11 25h2v1h-2zM21 25h3v1h-3zM3 26h1v1h-1zM5 26h2v1h-2zM13 26h1v1h-1zM19 26h1v1h-1zM21 26h3v1h-3zM26 26h2v1h-2zM3 27h1v1h-1zM13 27h1v1h-1zM19 27h1v1h-1zM22 27h5v1h-5zM9 28h1v1h-1zM13 28h1v1h-1zM20 28h1v1h-1zM22 28h2v1h-2zM3 29h1v1h-1zM9 29h1v1h-1zM21 29h1v1h-1zM25 29h1v1h-1zM28 29h1v1h-1zM4 30h1v1h-1zM21 30h1v1h-1zM24 30h2v1h-2zM27 30h3v1h-3zM23 31h1v1h-1zM26 31h3v1h-3zM4 32h1v1h-1zM24 32h4v1h-4zM27 33h2v1h-2z"/><path fill="#e10000" d="M17 7h1v1h-1zM17 10h2v1h-2zM17 11h2v1h-2zM25 11h2v1h-2zM25 13h2v1h-2zM10 25h1v1h-1zM4 26h1v1h-1zM7 26h5v1h-5zM20 26h1v1h-1zM4 27h8v1h-8zM20 27h2v1h-2zM3 28h3v1h-3zM8 28h1v1h-1zM10 28h1v1h-1zM21 28h1v1h-1zM24 28h1v1h-1zM8 29h1v1h-1zM22 29h3v1h-3zM5 30h3v1h-3zM20 30h1v1h-1zM22 30h2v1h-2zM4 31h1v1h-1zM8 31h1v1h-1zM24 33h1v1h-1zM26 33h1v1h-1zM5 34h1v1h-1zM27 34h1v1h-1zM27 35h1v1h-1zM6 36h1v1h-1z"/><path fill="#b20000" d="M17 8h1v1h-1zM17 9h1v1h-1zM12 26h1v1h-1zM12 27h1v1h-1zM6 28h2v1h-2zM11 28h1v1h-1zM4 29h4v1h-4zM10 29h1v1h-1zM8 30h2v1h-2zM5 31h3v1h-3zM9 31h1v1h-1zM18 31h1v1h-1zM5 32h4v1h-4zM5 33h2v1h-2zM25 33h1v1h-1zM26 34h1v1h-1zM6 35h1v1h-1zM27 36h1v1h-1zM6 37h1v1h-1zM25 38h1v1h-1z"/><path fill="#ffff00" d="M12 13h2v1h-2zM15 14h1v1h-1zM17 14h1v1h-1zM19 14h3v1h-3zM15 15h1v1h-1zM22 15h1v1h-1zM2 16h4v1h-4zM10 16h1v1h-1zM23 16h1v1h-1zM27 16h5v1h-5zM5 17h2v1h-2zM9 17h1v1h-1zM27 17h5v1h-5zM3 18h3v1h-3zM10 18h1v1h-1zM27 18h3v1h-3zM31 18h1v1h-1zM3 19h3v1h-3zM10 19h1v1h-1zM23 20h1v1h-1zM15 21h1v1h-1zM10 22h1v1h-1zM12 22h3v1h-3zM19 22h1v1h-1zM21 22h2v1h-2zM1 25h1v1h-1zM1 26h1v1h-1zM1 27h1v1h-1zM15 27h1v1h-1zM30 27h2v1h-2zM1 28h1v1h-1zM15 28h1v1h-1zM30 28h2v1h-2zM1 29h1v1h-1zM15 29h1v1h-1zM31 29h1v1h-1z"/><path fill="#ffff4a" d="M14 13h2v1h-2zM11 14h4v1h-4zM18 14h1v1h-1zM10 15h5v1h-5zM17 15h5v1h-5zM11 16h5v1h-5zM17 16h6v1h-6zM10 17h6v1h-6zM17 17h7v1h-7zM11 18h5v1h-5zM17 18h7v1h-7zM11 19h5v1h-5zM17 19h7v1h-7zM10 20h6v1h-6zM17 20h6v1h-6zM12 21h3v1h-3zM17 21h2v1h-2zM21 21h2v1h-2zM11 22h1v1h-1zM20 22h1v1h-1z"/><path fill="#ffff99" d="M10 21h2v1h-2zM19 21h2v1h-2z"/><path fill="#540000" d="M12 28h1v1h-1zM11 29h1v1h-1zM13 30h1v1h-1zM14 31h1v1h-1zM20 31h2v1h-2zM9 32h1v1h-1zM14 32h1v1h-1zM17 32h3v1h-3zM7 33h2v1h-2zM20 33h2v1h-2zM6 34h1v1h-1zM23 34h3v1h-3zM7 35h2v1h-2zM14 35h1v1h-1zM19 35h1v1h-1zM22 35h2v1h-2zM26 35h1v1h-1zM7 36h3v1h-3zM14 36h2v1h-2zM19 36h1v1h-1zM25 36h1v1h-1zM7 37h2v1h-2zM17 37h1v1h-1zM24 37h1v1h-1zM17 38h2v1h-2zM23 38h1v1h-1zM14 39h1v1h-1zM13 40h1v1h-1z"/><path fill="#250000" d="M12 29h1v1h-1zM11 30h2v1h-2zM10 31h4v1h-4zM10 32h4v1h-4zM15 32h1v1h-1zM20 32h3v1h-3zM9 33h7v1h-7zM17 33h3v1h-3zM22 33h1v1h-1zM7 34h9v1h-9zM17 34h6v1h-6zM9 35h5v1h-5zM15 35h1v1h-1zM17 35h2v1h-2zM20 35h2v1h-2zM24 35h2v1h-2zM10 36h4v1h-4zM17 36h2v1h-2zM20 36h5v1h-5zM9 37h7v1h-7zM18 37h6v1h-6zM8 38h8v1h-8zM19 38h4v1h-4zM9 39h5v1h-5zM15 39h1v1h-1zM17 39h6v1h-6zM11 40h2v1h-2zM14 40h2v1h-2zM18 40h4v1h-4z"/><path fill="#830000" d="M13 29h1v1h-1zM10 30h1v1h-1zM15 31h1v1h-1zM17 31h1v1h-1zM19 31h1v1h-1zM22 31h1v1h-1zM23 32h1v1h-1zM23 33h1v1h-1zM26 36h1v1h-1zM25 37h2v1h-2zM24 38h1v1h-1zM23 39h1v1h-1z"/></g>
<use href="#Lax"/>
<text class="dv" x="367.5" y="217.2" font-size="15.5">L</text>
<text class="dv" x="507.3" y="217.2" font-size="15.5">R</text>
<text class="dv" x="797" y="202.6" font-size="15.5">L</text>
<text class="dv" x="934.4" y="202.6" font-size="15.5">R</text>
<rect x="1021" y="179.5" width="13.8" height="231" fill="url(#hot)" stroke="#111" stroke-width="1.4"/>
<text class="dvc" x="1010.8" y="184.8" font-size="14.6" text-anchor="end">0.033</text>
<text class="dvc" x="1010.8" y="242.6" font-size="14.6" text-anchor="end">0.025</text>
<text class="dvc" x="1010.8" y="300.3" font-size="14.6" text-anchor="end">0.017</text>
<text class="dvc" x="1010.8" y="358.1" font-size="14.6" text-anchor="end">0.0083</text>
<text class="dvc" x="1010.8" y="415.8" font-size="14.6" text-anchor="end">0</text>
</g>
<g transform="matrix(1,0,0,1,0,297.5)">
<g transform="translate(112,199) scale(5.45)" shape-rendering="crispEdges"><path fill="#00ffff" d="M18 1h2v1h-2zM15 2h4v1h-4zM12 3h7v1h-7zM10 4h8v1h-8zM8 5h8v1h-8zM7 6h7v1h-7zM6 7h9v1h-9zM5 8h11v1h-11zM4 9h12v1h-12zM29 9h1v1h-1zM34 9h1v1h-1zM3 10h13v1h-13zM25 10h9v1h-9zM2 11h14v1h-14zM25 11h8v1h-8zM2 12h14v1h-14zM28 12h5v1h-5zM1 13h15v1h-15zM28 13h3v1h-3zM1 14h15v1h-15zM28 14h1v1h-1zM1 15h15v1h-15zM28 15h1v1h-1zM1 16h16v1h-16zM1 17h16v1h-16zM28 17h1v1h-1zM1 18h16v1h-16zM28 18h1v1h-1zM1 19h14v1h-14zM24 19h3v1h-3zM2 20h8v1h-8zM23 20h3v1h-3zM2 21h8v1h-8zM15 21h1v1h-1zM19 21h5v1h-5zM3 22h7v1h-7zM15 22h8v1h-8zM4 23h4v1h-4zM18 23h3v1h-3zM31 23h1v1h-1zM6 24h5v1h-5z"/><path fill="#ff0018" d="M20 1h6v1h-6zM27 1h3v1h-3zM19 2h13v1h-13zM19 3h15v1h-15zM18 4h17v1h-17zM16 5h20v1h-20zM14 6h23v1h-23zM15 7h22v1h-22zM16 8h22v1h-22zM16 9h13v1h-13zM30 9h4v1h-4zM35 9h4v1h-4zM16 10h9v1h-9zM34 10h5v1h-5zM16 11h9v1h-9zM33 11h7v1h-7zM16 12h12v1h-12zM33 12h7v1h-7zM16 13h12v1h-12zM31 13h10v1h-10zM16 14h12v1h-12zM29 14h12v1h-12zM16 15h12v1h-12zM29 15h12v1h-12zM17 16h25v1h-25zM17 17h7v1h-7zM26 17h2v1h-2zM29 17h13v1h-13zM17 18h6v1h-6zM25 18h3v1h-3zM29 18h13v1h-13zM21 19h3v1h-3zM27 19h15v1h-15zM20 20h3v1h-3zM26 20h16v1h-16zM24 21h17v1h-17zM23 22h17v1h-17zM15 23h3v1h-3zM21 23h10v1h-10zM13 24h16v1h-16zM22 25h5v1h-5zM22 26h3v1h-3zM22 27h1v1h-1z"/><path fill="#ff00ff" d="M24 17h2v1h-2zM23 18h2v1h-2zM15 19h4v1h-4zM15 20h5v1h-5zM16 21h1v1h-1zM18 21h1v1h-1z"/><path fill="#0030ff" d="M19 19h2v1h-2zM14 20h1v1h-1zM17 21h1v1h-1z"/><path fill="#00ff98" d="M10 20h4v1h-4zM10 21h5v1h-5zM10 22h5v1h-5zM8 23h7v1h-7zM11 24h2v1h-2z"/><path fill="#ff1c00" d="M12 25h10v1h-10zM12 26h10v1h-10zM12 27h10v1h-10zM12 28h9v1h-9zM13 29h7v1h-7zM16 30h2v1h-2z"/></g>
<use href="#Lsl"/>
<g transform="translate(351,198) scale(5.45)" shape-rendering="crispEdges"><path fill="#ff0018" d="M11 1h12v1h-12zM9 2h16v1h-16zM7 3h20v1h-20zM6 4h22v1h-22zM5 5h24v1h-24zM4 6h25v1h-25zM3 7h28v1h-28zM3 8h28v1h-28zM2 9h13v1h-13zM18 9h13v1h-13zM2 10h8v1h-8zM11 10h21v1h-21zM1 11h6v1h-6zM9 11h22v1h-22zM1 12h6v1h-6zM8 12h25v1h-25zM1 13h32v1h-32zM1 14h32v1h-32zM1 15h10v1h-10zM12 15h21v1h-21zM1 16h32v1h-32zM1 17h7v1h-7zM9 17h24v1h-24zM1 18h32v1h-32zM1 19h22v1h-22zM24 19h9v1h-9zM3 20h28v1h-28zM4 21h27v1h-27zM2 22h13v1h-13zM21 22h9v1h-9zM2 23h11v1h-11zM21 23h9v1h-9zM4 24h9v1h-9zM20 24h10v1h-10zM4 25h9v1h-9zM20 25h10v1h-10zM4 26h9v1h-9zM21 26h7v1h-7zM4 27h8v1h-8zM21 27h7v1h-7zM5 28h7v1h-7zM21 28h7v1h-7zM5 29h7v1h-7zM21 29h8v1h-8z"/><path fill="#00ffff" d="M29 6h1v1h-1zM15 9h3v1h-3zM31 9h1v1h-1zM10 10h1v1h-1zM7 11h2v1h-2zM31 11h1v1h-1zM7 12h1v1h-1zM11 15h1v1h-1zM8 17h1v1h-1zM23 19h1v1h-1zM1 20h2v1h-2zM31 20h2v1h-2zM1 21h2v1h-2zM31 21h2v1h-2zM1 22h1v1h-1zM30 22h2v1h-2zM30 23h2v1h-2zM2 24h2v1h-2zM30 24h2v1h-2zM3 25h1v1h-1zM30 25h1v1h-1zM28 26h2v1h-2zM28 27h2v1h-2zM28 28h1v1h-1z"/><path fill="#ff00ff" d="M3 21h1v1h-1z"/><path fill="#00ffc0" d="M15 22h6v1h-6zM13 23h8v1h-8zM13 24h7v1h-7zM16 25h2v1h-2z"/></g>
<use href="#Lco"/>
<g transform="translate(541,199) scale(5.45)" shape-rendering="crispEdges"><path fill="#ff0018" d="M13 1h12v1h-12zM11 2h4v1h-4zM16 2h8v1h-8zM9 3h6v1h-6zM16 3h9v1h-9zM8 4h17v1h-17zM7 5h19v1h-19zM6 6h22v1h-22zM5 7h6v1h-6zM12 7h17v1h-17zM5 8h2v1h-2zM8 8h3v1h-3zM12 8h3v1h-3zM16 8h13v1h-13zM4 9h7v1h-7zM12 9h1v1h-1zM15 9h12v1h-12zM4 10h7v1h-7zM17 10h11v1h-11zM3 11h8v1h-8zM20 11h8v1h-8zM3 12h8v1h-8zM16 12h12v1h-12zM2 13h10v1h-10zM16 13h12v1h-12zM2 14h11v1h-11zM15 14h13v1h-13zM1 15h13v1h-13zM16 15h12v1h-12zM1 16h13v1h-13zM17 16h11v1h-11zM1 17h14v1h-14zM18 17h1v1h-1zM21 17h5v1h-5zM27 17h1v1h-1zM1 18h15v1h-15zM21 18h7v1h-7zM1 19h16v1h-16zM21 19h7v1h-7zM1 20h17v1h-17zM23 20h5v1h-5zM1 21h19v1h-19zM23 21h2v1h-2zM2 22h19v1h-19zM10 23h12v1h-12zM25 23h1v1h-1zM30 23h1v1h-1zM14 24h12v1h-12zM30 24h1v1h-1zM16 25h10v1h-10zM30 25h1v1h-1zM18 26h8v1h-8zM30 26h1v1h-1zM20 27h6v1h-6zM30 27h1v1h-1zM21 28h5v1h-5zM29 28h1v1h-1zM23 29h6v1h-6zM24 30h3v1h-3z"/><path fill="#00ffff" d="M24 2h4v1h-4zM25 3h5v1h-5zM25 4h8v1h-8zM26 5h8v1h-8zM28 6h8v1h-8zM11 7h1v1h-1zM29 7h8v1h-8zM7 8h1v1h-1zM11 8h1v1h-1zM15 8h1v1h-1zM29 8h9v1h-9zM11 9h1v1h-1zM13 9h2v1h-2zM27 9h12v1h-12zM11 10h6v1h-6zM28 10h12v1h-12zM11 11h9v1h-9zM28 11h12v1h-12zM11 12h5v1h-5zM28 12h13v1h-13zM12 13h4v1h-4zM28 13h13v1h-13zM13 14h2v1h-2zM28 14h14v1h-14zM14 15h2v1h-2zM28 15h1v1h-1zM30 15h12v1h-12zM14 16h3v1h-3zM28 16h14v1h-14zM15 17h3v1h-3zM28 17h14v1h-14zM16 18h3v1h-3zM28 18h14v1h-14zM17 19h4v1h-4zM28 19h14v1h-14zM18 20h4v1h-4zM28 20h13v1h-13zM20 21h2v1h-2zM28 21h13v1h-13zM21 22h4v1h-4zM28 22h12v1h-12zM22 23h3v1h-3zM31 23h8v1h-8zM13 24h1v1h-1zM31 24h6v1h-6z"/><path fill="#ff1c00" d="M19 17h2v1h-2zM19 18h2v1h-2zM26 23h4v1h-4zM26 24h4v1h-4zM26 25h4v1h-4zM26 26h4v1h-4zM26 27h4v1h-4zM26 28h3v1h-3z"/><path fill="#0030ff" d="M26 17h1v1h-1zM22 20h1v1h-1zM22 21h1v1h-1zM25 21h3v1h-3zM25 22h3v1h-3z"/></g>
<use href="#Lsr"/>
<g transform="translate(780,181) scale(5.45)" shape-rendering="crispEdges"><path fill="#00ffff" d="M11 1h5v1h-5zM17 1h6v1h-6zM9 2h7v1h-7zM17 2h7v1h-7zM8 3h8v1h-8zM17 3h8v1h-8zM7 4h9v1h-9zM17 4h9v1h-9zM6 5h8v1h-8zM20 5h7v1h-7zM5 6h9v1h-9zM20 6h8v1h-8zM5 7h9v1h-9zM20 7h8v1h-8zM4 8h10v1h-10zM20 8h9v1h-9zM4 9h10v1h-10zM19 9h10v1h-10zM3 10h9v1h-9zM18 10h12v1h-12zM3 11h3v1h-3zM9 11h3v1h-3zM18 11h5v1h-5zM27 11h3v1h-3zM3 12h3v1h-3zM11 12h2v1h-2zM18 12h4v1h-4zM27 12h4v1h-4zM2 13h2v1h-2zM5 13h1v1h-1zM12 13h1v1h-1zM18 13h2v1h-2zM27 13h4v1h-4zM2 14h1v1h-1zM12 14h3v1h-3zM17 14h3v1h-3zM12 15h2v1h-2zM15 15h1v1h-1zM17 15h3v1h-3zM12 16h1v1h-1zM19 16h1v1h-1zM12 17h1v1h-1zM18 17h1v1h-1zM29 25h3v1h-3zM27 26h2v1h-2zM1 27h1v1h-1zM14 27h1v1h-1z"/><path fill="#00ff98" d="M14 5h2v1h-2zM17 5h3v1h-3zM14 6h2v1h-2zM17 6h3v1h-3zM14 7h2v1h-2zM17 7h3v1h-3zM14 8h2v1h-2zM17 8h3v1h-3zM14 9h2v1h-2zM17 9h2v1h-2zM12 10h4v1h-4zM17 10h1v1h-1zM12 11h4v1h-4zM17 11h1v1h-1zM13 12h3v1h-3zM17 12h1v1h-1zM13 13h3v1h-3zM17 13h1v1h-1zM15 14h1v1h-1z"/><path fill="#ff1c00" d="M6 11h3v1h-3zM23 11h4v1h-4zM6 12h5v1h-5zM22 12h5v1h-5zM6 13h6v1h-6zM20 13h7v1h-7zM5 14h7v1h-7zM20 14h7v1h-7zM4 15h3v1h-3z"/><path fill="#0030ff" d="M4 13h1v1h-1z"/><path fill="#ff00ff" d="M3 14h2v1h-2zM4 16h1v1h-1zM4 17h1v1h-1z"/><path fill="#ff0018" d="M27 14h4v1h-4zM2 15h2v1h-2zM7 15h5v1h-5zM14 15h1v1h-1zM20 15h11v1h-11zM1 16h3v1h-3zM5 16h7v1h-7zM13 16h3v1h-3zM17 16h2v1h-2zM20 16h12v1h-12zM1 17h3v1h-3zM5 17h7v1h-7zM13 17h3v1h-3zM17 17h1v1h-1zM19 17h13v1h-13zM1 18h11v1h-11zM13 18h3v1h-3zM17 18h15v1h-15zM1 19h15v1h-15zM17 19h15v1h-15zM1 20h15v1h-15zM17 20h15v1h-15zM1 21h15v1h-15zM17 21h2v1h-2zM20 21h13v1h-13zM1 22h15v1h-15zM17 22h16v1h-16zM1 23h15v1h-15zM17 23h16v1h-16zM1 24h15v1h-15zM17 24h16v1h-16zM1 25h15v1h-15zM17 25h12v1h-12zM32 25h1v1h-1zM1 26h15v1h-15zM17 26h10v1h-10zM29 26h3v1h-3zM2 27h12v1h-12zM15 27h1v1h-1zM17 27h15v1h-15zM1 28h15v1h-15zM17 28h15v1h-15zM1 29h15v1h-15zM17 29h15v1h-15zM2 30h14v1h-14zM17 30h15v1h-15zM2 31h14v1h-14zM17 31h14v1h-14zM2 32h14v1h-14zM17 32h14v1h-14zM3 33h13v1h-13zM17 33h13v1h-13zM4 34h12v1h-12zM17 34h13v1h-13zM4 35h12v1h-12zM17 35h12v1h-12zM5 36h11v1h-11zM17 36h11v1h-11zM6 37h10v1h-10zM17 37h10v1h-10zM8 38h8v1h-8zM17 38h9v1h-9zM9 39h7v1h-7zM17 39h7v1h-7zM11 40h5v1h-5zM18 40h4v1h-4z"/><path fill="#ff4a00" d="M12 18h1v1h-1z"/></g>
<use href="#Lax"/>
<text class="dv" x="367.5" y="217.2" font-size="15.5">L</text>
<text class="dv" x="507.3" y="217.2" font-size="15.5">R</text>
<text class="dv" x="797" y="202.6" font-size="15.5">L</text>
<text class="dv" x="934.4" y="202.6" font-size="15.5">R</text>
<rect x="1021" y="179.5" width="13.8" height="231" fill="url(#hsv)" stroke="#111" stroke-width="1.4"/>
<text class="dvc" x="1010.8" y="184.8" font-size="14.6" text-anchor="end">3.1</text>
<text class="dvc" x="1010.8" y="242.6" font-size="14.6" text-anchor="end">1.6</text>
<text class="dvc" x="1010.8" y="300.3" font-size="14.6" text-anchor="end">0</text>
<text class="dvc" x="1010.8" y="358.1" font-size="14.6" text-anchor="end">-1.6</text>
<text class="dvc" x="1010.8" y="415.8" font-size="14.6" text-anchor="end">-3.1</text>
</g>
<g transform="matrix(1,0,0,1,0,594.2)">
<g transform="translate(112,199) scale(5.45)" shape-rendering="crispEdges"><path fill="#ffff00" d="M18 1h2v1h-2zM22 1h2v1h-2zM17 2h4v1h-4zM22 2h1v1h-1zM17 3h4v1h-4zM18 4h4v1h-4zM18 5h2v1h-2zM18 6h2v1h-2zM18 7h2v1h-2zM18 8h1v1h-1zM17 9h2v1h-2zM17 11h5v1h-5zM16 12h1v1h-1zM18 12h7v1h-7zM15 13h7v1h-7zM23 13h5v1h-5zM29 13h1v1h-1zM13 14h7v1h-7zM21 14h4v1h-4zM30 14h1v1h-1zM12 15h11v1h-11zM30 15h1v1h-1zM12 16h3v1h-3zM17 16h2v1h-2zM20 16h1v1h-1zM30 16h1v1h-1zM11 17h7v1h-7zM12 18h3v1h-3zM27 18h1v1h-1zM25 19h2v1h-2zM14 20h1v1h-1zM21 20h3v1h-3zM12 21h1v1h-1zM20 22h1v1h-1zM4 23h1v1h-1zM7 23h3v1h-3zM19 23h1v1h-1zM6 24h5v1h-5zM18 24h1v1h-1zM18 25h1v1h-1zM18 26h1v1h-1z"/><path fill="#ffd300" d="M20 1h2v1h-2zM28 1h2v1h-2zM21 2h1v1h-1zM23 2h1v1h-1zM29 2h1v1h-1zM21 3h1v1h-1zM20 5h2v1h-2zM20 6h1v1h-1zM17 7h1v1h-1zM17 8h1v1h-1zM19 8h1v1h-1zM16 10h4v1h-4zM13 11h1v1h-1zM16 11h1v1h-1zM22 11h1v1h-1zM24 11h2v1h-2zM12 12h4v1h-4zM17 12h1v1h-1zM25 12h1v1h-1zM13 13h2v1h-2zM22 13h1v1h-1zM30 13h2v1h-2zM12 14h1v1h-1zM20 14h1v1h-1zM11 16h1v1h-1zM15 16h2v1h-2zM10 17h1v1h-1zM18 17h1v1h-1zM11 18h1v1h-1zM15 18h2v1h-2zM28 18h1v1h-1zM14 19h1v1h-1zM13 20h1v1h-1zM24 20h1v1h-1zM11 21h1v1h-1zM24 21h2v1h-2zM3 22h2v1h-2zM11 22h1v1h-1zM5 23h2v1h-2zM10 23h2v1h-2zM20 23h1v1h-1zM19 24h1v1h-1zM18 27h1v1h-1zM18 28h1v1h-1zM18 29h2v1h-2zM17 30h1v1h-1z"/><path fill="#ff8300" d="M24 1h3v1h-3zM24 2h4v1h-4zM23 3h6v1h-6zM30 3h4v1h-4zM11 4h3v1h-3zM24 4h3v1h-3zM29 4h1v1h-1zM32 4h2v1h-2zM9 5h3v1h-3zM22 5h5v1h-5zM32 5h1v1h-1zM7 6h1v1h-1zM9 6h1v1h-1zM23 6h3v1h-3zM36 6h1v1h-1zM16 7h1v1h-1zM21 7h6v1h-6zM6 8h1v1h-1zM15 8h1v1h-1zM23 8h1v1h-1zM25 8h2v1h-2zM6 9h1v1h-1zM14 9h1v1h-1zM20 9h5v1h-5zM3 10h1v1h-1zM5 10h2v1h-2zM13 10h1v1h-1zM21 10h3v1h-3zM28 10h1v1h-1zM2 11h1v1h-1zM4 11h3v1h-3zM27 11h1v1h-1zM29 11h1v1h-1zM2 12h5v1h-5zM6 13h1v1h-1zM10 13h1v1h-1zM33 13h1v1h-1zM2 14h2v1h-2zM6 14h1v1h-1zM10 14h1v1h-1zM2 15h4v1h-4zM1 16h4v1h-4zM1 17h2v1h-2zM30 17h1v1h-1zM2 18h1v1h-1zM8 18h2v1h-2zM2 19h4v1h-4zM7 19h1v1h-1zM3 20h5v1h-5zM2 21h5v1h-5zM24 23h1v1h-1zM21 24h1v1h-1zM24 24h2v1h-2zM19 25h4v1h-4zM24 25h2v1h-2zM19 26h4v1h-4z"/><path fill="#ffab00" d="M27 1h1v1h-1zM15 2h2v1h-2zM28 2h1v1h-1zM30 2h2v1h-2zM12 3h5v1h-5zM22 3h1v1h-1zM29 3h1v1h-1zM10 4h1v1h-1zM14 4h1v1h-1zM17 4h1v1h-1zM22 4h1v1h-1zM8 5h1v1h-1zM17 5h1v1h-1zM8 6h1v1h-1zM17 6h1v1h-1zM21 6h2v1h-2zM6 7h1v1h-1zM20 7h1v1h-1zM5 8h1v1h-1zM16 8h1v1h-1zM20 8h3v1h-3zM4 9h2v1h-2zM15 9h2v1h-2zM19 9h1v1h-1zM25 9h3v1h-3zM4 10h1v1h-1zM14 10h2v1h-2zM20 10h1v1h-1zM24 10h4v1h-4zM3 11h1v1h-1zM12 11h1v1h-1zM14 11h2v1h-2zM23 11h1v1h-1zM26 11h1v1h-1zM28 11h1v1h-1zM11 12h1v1h-1zM26 12h8v1h-8zM1 13h5v1h-5zM11 13h2v1h-2zM32 13h1v1h-1zM1 14h1v1h-1zM4 14h2v1h-2zM11 14h1v1h-1zM31 14h1v1h-1zM1 15h1v1h-1zM10 15h2v1h-2zM9 16h2v1h-2zM9 17h1v1h-1zM1 18h1v1h-1zM10 18h1v1h-1zM1 19h1v1h-1zM8 19h6v1h-6zM27 19h1v1h-1zM2 20h1v1h-1zM8 20h5v1h-5zM25 20h3v1h-3zM7 21h4v1h-4zM21 21h3v1h-3zM26 21h2v1h-2zM5 22h6v1h-6zM21 22h5v1h-5zM21 23h3v1h-3zM20 24h1v1h-1zM22 24h2v1h-2zM23 25h1v1h-1zM26 25h1v1h-1zM23 26h2v1h-2zM19 27h4v1h-4zM19 28h2v1h-2z"/><path fill="#ff5a00" d="M15 4h2v1h-2zM23 4h1v1h-1zM27 4h2v1h-2zM30 4h2v1h-2zM14 5h1v1h-1zM16 5h1v1h-1zM27 5h3v1h-3zM33 5h1v1h-1zM10 6h1v1h-1zM15 6h2v1h-2zM26 6h1v1h-1zM7 7h2v1h-2zM15 7h1v1h-1zM7 8h1v1h-1zM9 8h2v1h-2zM14 8h1v1h-1zM24 8h1v1h-1zM37 8h1v1h-1zM7 9h1v1h-1zM11 9h2v1h-2zM12 10h1v1h-1zM11 11h1v1h-1zM30 11h1v1h-1zM32 11h2v1h-2zM10 12h1v1h-1zM34 12h1v1h-1zM34 13h1v1h-1zM7 14h1v1h-1zM32 14h1v1h-1zM6 15h1v1h-1zM8 15h1v1h-1zM31 15h1v1h-1zM5 16h1v1h-1zM7 16h2v1h-2zM3 17h3v1h-3zM3 18h5v1h-5zM29 18h1v1h-1zM6 19h1v1h-1zM30 21h1v1h-1zM26 22h1v1h-1z"/><path fill="#ff3200" d="M34 4h1v1h-1zM12 5h2v1h-2zM15 5h1v1h-1zM31 5h1v1h-1zM34 5h2v1h-2zM11 6h4v1h-4zM35 6h1v1h-1zM9 7h6v1h-6zM36 7h1v1h-1zM8 8h1v1h-1zM11 8h3v1h-3zM27 8h1v1h-1zM34 8h3v1h-3zM9 9h2v1h-2zM13 9h1v1h-1zM34 9h2v1h-2zM38 9h1v1h-1zM7 10h1v1h-1zM9 10h3v1h-3zM29 10h1v1h-1zM7 11h2v1h-2zM10 11h1v1h-1zM31 11h1v1h-1zM34 11h1v1h-1zM7 12h3v1h-3zM7 13h3v1h-3zM8 14h2v1h-2zM7 15h1v1h-1zM9 15h1v1h-1zM6 16h1v1h-1zM35 16h1v1h-1zM6 17h3v1h-3zM28 20h1v1h-1zM28 21h1v1h-1zM31 21h1v1h-1zM27 22h1v1h-1zM25 23h1v1h-1z"/><path fill="#ff0a00" d="M30 5h1v1h-1zM27 6h1v1h-1zM31 6h4v1h-4zM27 7h1v1h-1zM34 7h2v1h-2zM28 8h3v1h-3zM8 9h1v1h-1zM28 9h3v1h-3zM33 9h1v1h-1zM8 10h1v1h-1zM30 10h1v1h-1zM34 10h1v1h-1zM9 11h1v1h-1zM35 15h1v1h-1zM33 16h2v1h-2zM36 16h1v1h-1zM34 17h1v1h-1zM41 20h1v1h-1zM29 21h1v1h-1zM28 22h1v1h-1zM30 22h2v1h-2zM30 23h2v1h-2zM26 24h3v1h-3z"/><path fill="#e10000" d="M28 6h3v1h-3zM28 7h4v1h-4zM33 7h1v1h-1zM31 8h3v1h-3zM31 9h2v1h-2zM36 9h1v1h-1zM31 10h1v1h-1zM35 10h1v1h-1zM35 14h3v1h-3zM33 15h2v1h-2zM36 15h2v1h-2zM31 16h2v1h-2zM37 16h1v1h-1zM32 17h2v1h-2zM35 17h1v1h-1zM34 18h1v1h-1zM40 20h1v1h-1zM40 21h1v1h-1zM29 22h1v1h-1zM32 22h2v1h-2zM26 23h4v1h-4z"/><path fill="#b20000" d="M32 7h1v1h-1zM37 9h1v1h-1zM32 10h2v1h-2zM36 13h1v1h-1zM38 14h1v1h-1zM32 15h1v1h-1zM36 17h1v1h-1zM28 19h1v1h-1zM34 22h1v1h-1z"/><path fill="#540000" d="M36 10h1v1h-1zM35 11h1v1h-1zM35 12h2v1h-2zM38 13h1v1h-1zM40 13h1v1h-1zM34 14h1v1h-1zM39 14h1v1h-1zM38 16h1v1h-1zM37 17h1v1h-1zM41 17h1v1h-1zM32 18h2v1h-2zM35 18h2v1h-2zM41 18h1v1h-1zM29 19h1v1h-1zM36 19h2v1h-2zM40 19h2v1h-2zM29 20h4v1h-4zM36 20h4v1h-4zM32 21h1v1h-1zM38 21h2v1h-2zM37 22h3v1h-3z"/><path fill="#250000" d="M37 10h2v1h-2zM36 11h4v1h-4zM38 12h2v1h-2zM39 13h1v1h-1zM40 14h1v1h-1zM39 15h2v1h-2zM39 16h3v1h-3zM38 17h3v1h-3zM31 18h1v1h-1zM37 18h4v1h-4zM30 19h6v1h-6zM38 19h2v1h-2zM33 20h3v1h-3zM33 21h5v1h-5zM35 22h2v1h-2z"/><path fill="#830000" d="M37 12h1v1h-1zM35 13h1v1h-1zM37 13h1v1h-1zM33 14h1v1h-1zM38 15h1v1h-1zM31 17h1v1h-1zM30 18h1v1h-1z"/><path fill="#ffff4a" d="M28 13h1v1h-1zM25 14h1v1h-1zM28 14h2v1h-2zM28 15h2v1h-2zM19 16h1v1h-1zM28 16h2v1h-2zM19 17h1v1h-1zM28 17h2v1h-2zM17 18h2v1h-2zM26 18h1v1h-1zM15 19h2v1h-2zM22 19h3v1h-3zM13 21h2v1h-2zM20 21h1v1h-1zM12 22h3v1h-3zM19 22h1v1h-1zM12 23h3v1h-3zM18 23h1v1h-1zM11 24h4v1h-4zM17 25h1v1h-1zM17 26h1v1h-1zM17 27h1v1h-1zM17 28h1v1h-1zM17 29h1v1h-1z"/><path fill="#ffff99" d="M26 14h2v1h-2zM23 15h2v1h-2zM26 15h2v1h-2zM21 16h2v1h-2zM26 16h2v1h-2zM20 17h1v1h-1zM26 17h2v1h-2zM19 18h4v1h-4zM24 18h2v1h-2zM17 19h5v1h-5zM15 20h6v1h-6zM15 21h5v1h-5zM15 22h4v1h-4zM15 23h3v1h-3zM15 24h3v1h-3zM12 25h2v1h-2zM12 26h1v1h-1zM16 30h1v1h-1z"/><path fill="#ffffd6" d="M25 15h1v1h-1zM23 16h3v1h-3zM21 17h5v1h-5zM23 18h1v1h-1zM14 25h3v1h-3zM13 26h4v1h-4zM12 27h5v1h-5zM12 28h5v1h-5zM13 29h4v1h-4z"/></g>
<use href="#Lsl"/>
<g transform="translate(351,198) scale(5.45)" shape-rendering="crispEdges"><path fill="#ffab00" d="M11 1h2v1h-2zM19 1h3v1h-3zM12 2h1v1h-1zM20 2h2v1h-2zM12 3h1v1h-1zM19 3h2v1h-2zM13 4h1v1h-1zM15 4h1v1h-1zM17 4h2v1h-2zM12 5h1v1h-1zM15 6h2v1h-2zM1 11h1v1h-1zM2 12h1v1h-1zM32 12h1v1h-1zM1 13h2v1h-2zM1 14h1v1h-1zM31 14h2v1h-2zM2 15h1v1h-1zM31 15h2v1h-2zM31 16h2v1h-2zM31 17h2v1h-2zM31 18h2v1h-2zM1 19h1v1h-1zM31 19h2v1h-2zM1 20h2v1h-2zM32 20h1v1h-1zM1 21h2v1h-2zM32 21h1v1h-1zM1 22h2v1h-2zM31 22h1v1h-1zM31 23h1v1h-1zM4 24h1v1h-1zM12 24h1v1h-1z"/><path fill="#ffd300" d="M13 1h2v1h-2zM16 1h3v1h-3zM13 2h7v1h-7zM13 3h6v1h-6zM14 4h1v1h-1zM16 4h1v1h-1zM13 5h4v1h-4zM13 6h2v1h-2zM1 15h1v1h-1zM4 17h1v1h-1zM4 18h1v1h-1zM2 19h1v1h-1zM2 23h1v1h-1zM15 23h7v1h-7zM3 24h1v1h-1zM3 25h1v1h-1z"/><path fill="#ffff00" d="M15 1h1v1h-1zM1 16h2v1h-2zM1 17h1v1h-1zM3 17h1v1h-1zM1 18h3v1h-3zM2 24h1v1h-1zM15 24h3v1h-3zM29 24h3v1h-3zM4 25h2v1h-2zM22 25h1v1h-1zM26 25h1v1h-1zM28 25h3v1h-3zM29 26h1v1h-1z"/><path fill="#ff8300" d="M22 1h1v1h-1zM9 2h3v1h-3zM22 2h3v1h-3zM7 3h5v1h-5zM21 3h6v1h-6zM6 4h1v1h-1zM8 4h3v1h-3zM12 4h1v1h-1zM19 4h4v1h-4zM25 4h3v1h-3zM18 5h1v1h-1zM12 6h1v1h-1zM21 6h1v1h-1zM13 7h3v1h-3zM2 11h1v1h-1zM7 11h2v1h-2zM1 12h1v1h-1zM8 12h1v1h-1zM31 12h1v1h-1zM3 13h1v1h-1zM31 13h2v1h-2zM2 14h2v1h-2zM3 15h1v1h-1zM3 16h1v1h-1zM3 19h2v1h-2zM3 20h1v1h-1zM31 20h1v1h-1zM3 21h1v1h-1zM31 21h1v1h-1zM3 22h1v1h-1zM30 22h1v1h-1zM3 23h1v1h-1zM29 23h2v1h-2zM6 24h3v1h-3zM11 24h1v1h-1zM22 24h1v1h-1zM28 24h1v1h-1zM16 25h2v1h-2zM29 27h1v1h-1z"/><path fill="#ff5a00" d="M7 4h1v1h-1zM11 4h1v1h-1zM23 4h2v1h-2zM5 5h2v1h-2zM10 5h2v1h-2zM17 5h1v1h-1zM20 5h3v1h-3zM24 5h5v1h-5zM9 6h3v1h-3zM17 6h4v1h-4zM22 6h2v1h-2zM9 7h4v1h-4zM17 7h5v1h-5zM10 8h3v1h-3zM20 8h4v1h-4zM2 9h1v1h-1zM10 9h1v1h-1zM22 9h2v1h-2zM31 9h1v1h-1zM2 10h1v1h-1zM8 10h1v1h-1zM23 10h1v1h-1zM31 10h1v1h-1zM29 11h1v1h-1zM31 11h1v1h-1zM6 12h2v1h-2zM9 12h1v1h-1zM4 13h4v1h-4zM29 13h2v1h-2zM4 14h3v1h-3zM29 14h2v1h-2zM29 15h2v1h-2zM4 16h1v1h-1zM30 16h1v1h-1zM30 17h1v1h-1zM30 18h1v1h-1zM30 19h1v1h-1zM4 20h1v1h-1zM30 20h1v1h-1zM4 21h3v1h-3zM4 22h1v1h-1zM6 22h1v1h-1zM29 22h1v1h-1zM6 23h2v1h-2zM9 23h1v1h-1zM12 23h1v1h-1zM14 23h1v1h-1zM22 23h1v1h-1zM28 23h1v1h-1zM5 24h1v1h-1zM9 24h2v1h-2zM13 24h2v1h-2zM27 24h1v1h-1z"/><path fill="#ff3200" d="M7 5h3v1h-3zM19 5h1v1h-1zM23 5h1v1h-1zM8 6h1v1h-1zM24 6h1v1h-1zM8 7h1v1h-1zM16 7h1v1h-1zM22 7h2v1h-2zM27 7h2v1h-2zM30 7h1v1h-1zM9 8h1v1h-1zM13 8h3v1h-3zM18 8h2v1h-2zM26 8h4v1h-4zM9 9h1v1h-1zM11 9h1v1h-1zM21 9h1v1h-1zM9 10h2v1h-2zM24 10h1v1h-1zM28 10h2v1h-2zM9 11h1v1h-1zM24 11h2v1h-2zM3 12h1v1h-1zM25 12h1v1h-1zM28 12h3v1h-3zM8 13h1v1h-1zM27 13h2v1h-2zM7 14h1v1h-1zM28 14h1v1h-1zM4 15h1v1h-1zM28 15h1v1h-1zM5 19h1v1h-1zM29 19h1v1h-1zM5 20h1v1h-1zM30 21h1v1h-1zM5 22h1v1h-1zM7 22h1v1h-1zM4 23h2v1h-2zM8 23h1v1h-1zM10 23h2v1h-2zM13 23h1v1h-1zM26 24h1v1h-1zM23 25h1v1h-1zM25 25h1v1h-1z"/><path fill="#e10000" d="M4 6h1v1h-1zM3 7h1v1h-1zM5 7h3v1h-3zM5 8h3v1h-3zM24 8h2v1h-2zM5 9h2v1h-2zM3 10h4v1h-4zM4 11h2v1h-2zM8 14h1v1h-1zM7 15h1v1h-1zM5 16h2v1h-2zM13 16h1v1h-1zM15 16h1v1h-1zM14 17h1v1h-1zM17 17h1v1h-1zM19 17h1v1h-1zM12 18h4v1h-4zM24 24h1v1h-1z"/><path fill="#ff0a00" d="M5 6h3v1h-3zM25 6h5v1h-5zM4 7h1v1h-1zM24 7h3v1h-3zM29 7h1v1h-1zM8 8h1v1h-1zM16 8h2v1h-2zM30 8h1v1h-1zM7 9h2v1h-2zM12 9h1v1h-1zM20 9h1v1h-1zM24 9h7v1h-7zM7 10h1v1h-1zM11 10h1v1h-1zM22 10h1v1h-1zM25 10h3v1h-3zM30 10h1v1h-1zM3 11h1v1h-1zM6 11h1v1h-1zM10 11h1v1h-1zM23 11h1v1h-1zM26 11h3v1h-3zM30 11h1v1h-1zM4 12h2v1h-2zM24 12h1v1h-1zM26 12h2v1h-2zM9 13h1v1h-1zM25 13h2v1h-2zM27 14h1v1h-1zM5 15h2v1h-2zM14 16h1v1h-1zM16 16h4v1h-4zM29 16h1v1h-1zM5 17h1v1h-1zM12 17h2v1h-2zM15 17h2v1h-2zM18 17h1v1h-1zM29 17h1v1h-1zM5 18h1v1h-1zM29 18h1v1h-1zM6 20h1v1h-1zM29 20h1v1h-1zM28 22h1v1h-1zM23 23h5v1h-5zM23 24h1v1h-1zM25 24h1v1h-1zM24 25h1v1h-1z"/><path fill="#b20000" d="M3 8h2v1h-2zM3 9h2v1h-2zM10 12h1v1h-1zM8 15h1v1h-1zM12 16h1v1h-1zM6 17h1v1h-1zM16 18h1v1h-1zM29 21h1v1h-1z"/><path fill="#540000" d="M13 9h1v1h-1zM15 9h3v1h-3zM12 10h1v1h-1zM20 10h2v1h-2zM11 11h1v1h-1zM17 11h1v1h-1zM22 11h1v1h-1zM11 12h3v1h-3zM17 12h1v1h-1zM10 13h3v1h-3zM23 13h1v1h-1zM9 14h1v1h-1zM11 14h1v1h-1zM15 14h1v1h-1zM17 14h1v1h-1zM26 14h1v1h-1zM15 15h2v1h-2zM19 15h1v1h-1zM27 15h1v1h-1zM20 16h1v1h-1zM22 16h1v1h-1zM7 17h2v1h-2zM11 17h1v1h-1zM20 17h3v1h-3zM26 17h1v1h-1zM6 18h2v1h-2zM11 18h1v1h-1zM8 19h1v1h-1zM12 19h1v1h-1zM16 19h1v1h-1zM21 19h1v1h-1zM23 19h2v1h-2zM7 20h1v1h-1zM10 20h1v1h-1zM12 20h1v1h-1zM19 20h2v1h-2zM26 20h3v1h-3zM13 21h1v1h-1zM16 21h2v1h-2zM26 21h3v1h-3zM8 22h3v1h-3zM13 22h3v1h-3zM18 22h2v1h-2zM21 22h5v1h-5zM27 22h1v1h-1z"/><path fill="#250000" d="M14 9h1v1h-1zM13 10h7v1h-7zM12 11h5v1h-5zM18 11h4v1h-4zM14 12h3v1h-3zM18 12h5v1h-5zM13 13h10v1h-10zM10 14h1v1h-1zM12 14h3v1h-3zM16 14h1v1h-1zM18 14h8v1h-8zM9 15h5v1h-5zM18 15h1v1h-1zM20 15h7v1h-7zM8 16h4v1h-4zM21 16h1v1h-1zM23 16h6v1h-6zM9 17h2v1h-2zM23 17h3v1h-3zM27 17h2v1h-2zM8 18h3v1h-3zM17 18h12v1h-12zM7 19h1v1h-1zM9 19h3v1h-3zM13 19h3v1h-3zM17 19h4v1h-4zM22 19h1v1h-1zM25 19h4v1h-4zM8 20h2v1h-2zM11 20h1v1h-1zM13 20h6v1h-6zM21 20h5v1h-5zM8 21h4v1h-4zM14 21h2v1h-2zM18 21h8v1h-8zM11 22h1v1h-1zM26 22h1v1h-1z"/><path fill="#830000" d="M18 9h2v1h-2zM23 12h1v1h-1zM24 13h1v1h-1zM14 15h1v1h-1zM17 15h1v1h-1zM7 16h1v1h-1zM6 19h1v1h-1zM7 21h1v1h-1zM12 21h1v1h-1zM12 22h1v1h-1zM16 22h2v1h-2zM20 22h1v1h-1z"/><path fill="#ffff4a" d="M2 17h1v1h-1zM18 24h4v1h-4zM6 25h7v1h-7zM27 25h1v1h-1zM4 26h1v1h-1zM24 26h2v1h-2zM28 26h1v1h-1zM28 27h1v1h-1z"/><path fill="#ffff99" d="M20 25h2v1h-2zM5 26h8v1h-8zM21 26h3v1h-3zM26 26h2v1h-2zM4 27h8v1h-8zM21 27h7v1h-7zM5 28h3v1h-3zM9 28h3v1h-3zM21 28h8v1h-8zM5 29h7v1h-7zM21 29h6v1h-6zM28 29h1v1h-1z"/><path fill="#ffffd6" d="M8 28h1v1h-1zM27 29h1v1h-1z"/></g>
<use href="#Lco"/>
<g transform="translate(541,199) scale(5.45)" shape-rendering="crispEdges"><path fill="#ffab00" d="M13 1h3v1h-3zM17 1h1v1h-1zM19 1h1v1h-1zM12 2h1v1h-1zM14 2h5v1h-5zM14 3h5v1h-5zM27 3h1v1h-1zM15 4h6v1h-6zM27 4h1v1h-1zM16 5h1v1h-1zM18 5h1v1h-1zM20 5h2v1h-2zM16 6h6v1h-6zM5 7h1v1h-1zM17 7h6v1h-6zM36 7h1v1h-1zM20 9h1v1h-1zM25 9h1v1h-1zM20 10h4v1h-4zM21 11h3v1h-3zM16 12h1v1h-1zM21 12h2v1h-2zM15 13h1v1h-1zM22 13h1v1h-1zM28 13h1v1h-1zM30 13h1v1h-1zM13 14h1v1h-1zM26 14h2v1h-2zM31 14h1v1h-1zM13 15h1v1h-1zM31 15h1v1h-1zM40 16h1v1h-1zM31 17h1v1h-1zM34 17h7v1h-7zM31 18h1v1h-1zM34 18h2v1h-2zM37 18h4v1h-4zM33 19h4v1h-4zM38 19h3v1h-3zM32 20h1v1h-1zM35 20h3v1h-3zM39 20h2v1h-2zM19 21h2v1h-2zM20 22h2v1h-2zM19 23h2v1h-2zM21 28h1v1h-1zM24 30h1v1h-1zM26 30h1v1h-1z"/><path fill="#ff8300" d="M16 1h1v1h-1zM18 1h1v1h-1zM11 2h1v1h-1zM13 2h1v1h-1zM27 2h1v1h-1zM12 3h2v1h-2zM28 3h2v1h-2zM8 4h1v1h-1zM14 4h1v1h-1zM32 4h1v1h-1zM15 5h1v1h-1zM17 5h1v1h-1zM19 5h1v1h-1zM6 6h1v1h-1zM15 6h1v1h-1zM26 6h1v1h-1zM34 6h2v1h-2zM16 7h1v1h-1zM35 7h1v1h-1zM17 8h6v1h-6zM36 8h2v1h-2zM19 9h1v1h-1zM21 9h2v1h-2zM26 9h1v1h-1zM38 9h1v1h-1zM25 10h3v1h-3zM39 10h1v1h-1zM20 11h1v1h-1zM24 11h5v1h-5zM39 11h1v1h-1zM15 12h1v1h-1zM17 12h4v1h-4zM23 12h1v1h-1zM26 12h4v1h-4zM36 12h1v1h-1zM40 12h1v1h-1zM14 13h1v1h-1zM23 13h3v1h-3zM27 13h1v1h-1zM31 13h1v1h-1zM41 14h1v1h-1zM40 15h1v1h-1zM12 16h2v1h-2zM32 16h1v1h-1zM34 16h3v1h-3zM41 16h1v1h-1zM12 17h2v1h-2zM32 17h2v1h-2zM41 17h1v1h-1zM14 18h1v1h-1zM32 18h2v1h-2zM41 18h1v1h-1zM31 19h2v1h-2zM37 19h1v1h-1zM41 19h1v1h-1zM31 20h1v1h-1zM11 23h1v1h-1zM19 24h1v1h-1zM17 25h1v1h-1zM20 27h1v1h-1zM25 30h1v1h-1z"/><path fill="#ffd300" d="M20 1h1v1h-1zM24 1h1v1h-1zM19 2h1v1h-1zM26 2h1v1h-1zM19 3h2v1h-2zM23 3h1v1h-1zM21 4h1v1h-1zM26 5h1v1h-1zM22 6h1v1h-1zM25 8h1v1h-1zM23 9h2v1h-2zM24 10h1v1h-1zM29 13h1v1h-1zM28 14h3v1h-3zM29 15h2v1h-2zM30 16h2v1h-2zM14 17h1v1h-1zM30 17h1v1h-1zM30 18h1v1h-1zM36 18h1v1h-1zM15 19h1v1h-1zM30 19h1v1h-1zM18 20h4v1h-4zM30 20h1v1h-1zM33 20h2v1h-2zM38 20h1v1h-1zM18 21h1v1h-1zM21 21h1v1h-1zM31 21h2v1h-2zM36 21h1v1h-1zM19 22h1v1h-1zM21 23h1v1h-1zM20 26h1v1h-1zM22 28h1v1h-1zM23 29h1v1h-1z"/><path fill="#ffff00" d="M21 1h3v1h-3zM20 2h6v1h-6zM21 3h2v1h-2zM24 3h3v1h-3zM22 4h5v1h-5zM22 5h4v1h-4zM23 6h3v1h-3zM23 7h3v1h-3zM23 8h2v1h-2zM28 15h1v1h-1zM29 16h1v1h-1zM29 17h1v1h-1zM16 20h1v1h-1zM27 20h3v1h-3zM17 21h1v1h-1zM27 21h4v1h-4zM33 21h3v1h-3zM37 21h4v1h-4zM18 22h1v1h-1zM27 22h2v1h-2zM30 22h4v1h-4zM35 22h5v1h-5zM31 23h6v1h-6zM38 23h1v1h-1zM31 24h6v1h-6z"/><path fill="#ff5a00" d="M9 3h1v1h-1zM13 4h1v1h-1zM30 4h2v1h-2zM7 5h1v1h-1zM12 5h3v1h-3zM32 5h2v1h-2zM7 6h1v1h-1zM33 6h1v1h-1zM6 7h3v1h-3zM34 7h1v1h-1zM5 8h1v1h-1zM8 8h1v1h-1zM35 8h1v1h-1zM8 9h1v1h-1zM11 9h2v1h-2zM36 9h2v1h-2zM14 10h1v1h-1zM19 10h1v1h-1zM28 10h1v1h-1zM38 10h1v1h-1zM37 11h2v1h-2zM14 12h1v1h-1zM24 12h2v1h-2zM35 12h1v1h-1zM37 12h3v1h-3zM13 13h1v1h-1zM26 13h1v1h-1zM35 13h2v1h-2zM38 13h3v1h-3zM12 14h1v1h-1zM36 14h5v1h-5zM12 15h1v1h-1zM32 15h1v1h-1zM35 15h2v1h-2zM39 15h1v1h-1zM41 15h1v1h-1zM33 16h1v1h-1zM37 16h3v1h-3zM11 17h1v1h-1zM1 21h1v1h-1zM10 23h1v1h-1zM18 23h1v1h-1zM13 24h2v1h-2zM16 25h1v1h-1zM19 25h1v1h-1zM18 26h2v1h-2z"/><path fill="#ff3200" d="M10 3h2v1h-2zM9 4h4v1h-4zM28 4h2v1h-2zM8 5h1v1h-1zM10 5h2v1h-2zM27 5h1v1h-1zM30 5h2v1h-2zM8 6h7v1h-7zM27 6h1v1h-1zM29 6h4v1h-4zM9 7h6v1h-6zM26 7h1v1h-1zM30 7h4v1h-4zM6 8h2v1h-2zM9 8h6v1h-6zM16 8h1v1h-1zM26 8h1v1h-1zM31 8h4v1h-4zM9 9h2v1h-2zM13 9h4v1h-4zM18 9h1v1h-1zM27 9h1v1h-1zM31 9h2v1h-2zM35 9h1v1h-1zM9 10h5v1h-5zM18 10h1v1h-1zM31 10h2v1h-2zM35 10h3v1h-3zM10 11h3v1h-3zM14 11h6v1h-6zM29 11h1v1h-1zM35 11h2v1h-2zM9 12h1v1h-1zM11 12h3v1h-3zM30 12h1v1h-1zM11 13h2v1h-2zM37 13h1v1h-1zM11 14h1v1h-1zM32 14h1v1h-1zM34 14h2v1h-2zM37 15h2v1h-2zM11 16h1v1h-1zM12 18h2v1h-2zM2 21h1v1h-1zM16 21h1v1h-1zM2 22h1v1h-1zM12 23h1v1h-1zM17 24h2v1h-2zM18 25h1v1h-1z"/><path fill="#ff0a00" d="M9 5h1v1h-1zM28 5h2v1h-2zM28 6h1v1h-1zM15 7h1v1h-1zM27 7h3v1h-3zM15 8h1v1h-1zM27 8h1v1h-1zM29 8h2v1h-2zM7 9h1v1h-1zM17 9h1v1h-1zM28 9h3v1h-3zM33 9h2v1h-2zM8 10h1v1h-1zM15 10h3v1h-3zM29 10h2v1h-2zM33 10h2v1h-2zM9 11h1v1h-1zM13 11h1v1h-1zM30 11h1v1h-1zM32 11h3v1h-3zM10 12h1v1h-1zM31 12h4v1h-4zM10 13h1v1h-1zM32 13h3v1h-3zM10 14h1v1h-1zM33 14h1v1h-1zM11 15h1v1h-1zM33 15h2v1h-2zM2 19h1v1h-1zM1 20h3v1h-3zM15 20h1v1h-1zM11 22h1v1h-1zM17 22h1v1h-1zM13 23h1v1h-1zM17 23h1v1h-1zM15 24h2v1h-2z"/><path fill="#e10000" d="M28 8h1v1h-1zM31 11h1v1h-1zM8 16h2v1h-2zM9 17h2v1h-2zM1 18h1v1h-1zM1 19h1v1h-1zM3 19h1v1h-1zM14 21h2v1h-2zM10 22h1v1h-1zM12 22h5v1h-5zM14 23h3v1h-3z"/><path fill="#250000" d="M4 9h2v1h-2zM4 10h3v1h-3zM3 11h1v1h-1zM3 12h1v1h-1zM5 12h2v1h-2zM2 13h6v1h-6zM2 14h6v1h-6zM1 15h6v1h-6zM1 16h5v1h-5zM1 17h5v1h-5zM3 18h5v1h-5zM4 19h6v1h-6zM5 20h6v1h-6zM4 21h4v1h-4zM10 21h1v1h-1zM12 21h1v1h-1zM4 22h5v1h-5z"/><path fill="#540000" d="M6 9h1v1h-1zM7 10h1v1h-1zM4 11h4v1h-4zM4 12h1v1h-1zM7 12h1v1h-1zM7 15h1v1h-1zM10 15h1v1h-1zM6 16h2v1h-2zM10 16h1v1h-1zM6 17h2v1h-2zM2 18h1v1h-1zM8 18h1v1h-1zM10 18h1v1h-1zM10 19h1v1h-1zM13 19h1v1h-1zM4 20h1v1h-1zM11 20h4v1h-4zM8 21h2v1h-2zM11 21h1v1h-1zM9 22h1v1h-1z"/><path fill="#830000" d="M8 11h1v1h-1zM8 12h1v1h-1zM8 13h1v1h-1zM9 18h1v1h-1zM11 18h1v1h-1zM11 19h2v1h-2zM14 19h1v1h-1zM3 22h1v1h-1z"/><path fill="#b20000" d="M9 13h1v1h-1zM8 14h2v1h-2zM8 15h2v1h-2zM8 17h1v1h-1zM3 21h1v1h-1zM13 21h1v1h-1z"/><path fill="#ffff4a" d="M16 13h6v1h-6zM14 14h1v1h-1zM22 14h1v1h-1zM25 14h1v1h-1zM14 15h1v1h-1zM27 15h1v1h-1zM14 16h1v1h-1zM28 16h1v1h-1zM27 17h2v1h-2zM15 18h1v1h-1zM28 18h2v1h-2zM27 19h1v1h-1zM29 19h1v1h-1zM17 20h1v1h-1zM26 20h1v1h-1zM29 22h1v1h-1zM34 22h1v1h-1zM22 23h1v1h-1zM30 23h1v1h-1zM37 23h1v1h-1zM20 24h1v1h-1zM20 25h1v1h-1zM21 27h1v1h-1z"/><path fill="#ffff99" d="M15 14h7v1h-7zM23 14h2v1h-2zM15 15h2v1h-2zM18 15h9v1h-9zM15 16h13v1h-13zM15 17h3v1h-3zM21 17h6v1h-6zM20 18h5v1h-5zM26 18h2v1h-2zM16 19h11v1h-11zM28 19h1v1h-1zM22 20h4v1h-4zM22 21h5v1h-5zM22 22h5v1h-5zM23 23h7v1h-7zM21 24h10v1h-10zM21 25h7v1h-7zM29 25h2v1h-2zM21 26h10v1h-10zM22 27h2v1h-2zM30 27h1v1h-1zM23 28h1v1h-1zM24 29h3v1h-3z"/><path fill="#ffffd6" d="M17 15h1v1h-1zM18 17h3v1h-3zM16 18h4v1h-4zM25 18h1v1h-1zM28 25h1v1h-1zM24 27h6v1h-6zM24 28h6v1h-6zM27 29h2v1h-2z"/></g>
<use href="#Lsr"/>
<g transform="translate(780,181) scale(5.45)" shape-rendering="crispEdges"><path fill="#ff8300" d="M11 1h1v1h-1zM20 1h2v1h-2zM9 2h2v1h-2zM18 2h6v1h-6zM9 3h7v1h-7zM18 3h5v1h-5zM24 3h1v1h-1zM10 4h6v1h-6zM18 4h7v1h-7zM10 5h3v1h-3zM14 5h1v1h-1zM17 5h5v1h-5zM23 5h4v1h-4zM10 6h1v1h-1zM19 6h8v1h-8zM10 7h3v1h-3zM19 7h1v1h-1zM21 7h2v1h-2zM25 7h2v1h-2zM11 8h2v1h-2zM20 8h1v1h-1zM24 8h5v1h-5zM11 9h2v1h-2zM19 9h2v1h-2zM28 9h1v1h-1zM11 10h2v1h-2zM20 10h1v1h-1zM29 10h1v1h-1zM3 11h1v1h-1zM10 11h1v1h-1zM12 11h1v1h-1zM19 11h2v1h-2zM28 11h2v1h-2zM9 12h7v1h-7zM20 12h1v1h-1zM28 12h1v1h-1zM30 12h1v1h-1zM3 13h2v1h-2zM9 13h2v1h-2zM17 13h1v1h-1zM19 13h1v1h-1zM28 13h1v1h-1zM30 13h1v1h-1zM2 14h3v1h-3zM28 14h3v1h-3zM1 19h1v1h-1zM2 20h1v1h-1zM2 21h1v1h-1zM31 21h2v1h-2zM5 22h1v1h-1zM8 22h1v1h-1zM17 22h1v1h-1zM24 22h1v1h-1zM27 22h4v1h-4zM32 22h1v1h-1zM8 23h1v1h-1zM15 23h1v1h-1zM18 23h1v1h-1zM20 23h2v1h-2zM23 23h3v1h-3zM27 23h1v1h-1zM29 23h2v1h-2zM32 23h1v1h-1zM7 24h9v1h-9zM17 24h9v1h-9zM28 24h3v1h-3zM32 24h1v1h-1zM4 25h2v1h-2zM14 25h2v1h-2zM17 25h1v1h-1zM29 25h1v1h-1zM31 25h2v1h-2zM29 26h1v1h-1zM18 27h1v1h-1zM14 28h1v1h-1zM17 28h1v1h-1zM14 29h1v1h-1zM17 29h2v1h-2zM3 30h1v1h-1zM15 30h1v1h-1zM31 30h1v1h-1zM3 31h1v1h-1zM30 31h1v1h-1zM3 32h1v1h-1zM30 32h1v1h-1zM29 33h1v1h-1zM28 34h2v1h-2zM4 35h1v1h-1z"/><path fill="#ffd300" d="M12 1h4v1h-4zM17 1h1v1h-1zM15 2h1v1h-1zM11 13h1v1h-1zM10 14h1v1h-1zM22 14h1v1h-1zM3 15h2v1h-2zM7 15h2v1h-2zM23 15h1v1h-1zM27 15h4v1h-4zM2 16h1v1h-1zM6 16h1v1h-1zM8 16h2v1h-2zM24 16h2v1h-2zM6 17h4v1h-4zM24 17h3v1h-3zM2 18h1v1h-1zM6 18h1v1h-1zM8 18h2v1h-2zM24 18h4v1h-4zM3 19h1v1h-1zM6 19h4v1h-4zM24 19h2v1h-2zM27 19h5v1h-5zM4 20h3v1h-3zM8 20h2v1h-2zM24 20h7v1h-7zM4 21h3v1h-3zM9 21h1v1h-1zM23 21h1v1h-1zM25 21h2v1h-2zM10 22h1v1h-1zM23 22h1v1h-1zM2 24h2v1h-2zM2 27h1v1h-1zM15 27h1v1h-1zM29 27h3v1h-3zM2 28h1v1h-1zM15 28h1v1h-1zM31 28h1v1h-1zM2 29h1v1h-1zM15 29h1v1h-1zM30 29h2v1h-2zM2 30h1v1h-1zM2 31h1v1h-1z"/><path fill="#ffab00" d="M18 1h2v1h-2zM22 1h1v1h-1zM11 2h4v1h-4zM17 2h1v1h-1zM17 3h1v1h-1zM23 3h1v1h-1zM17 4h1v1h-1zM13 5h1v1h-1zM15 5h1v1h-1zM22 5h1v1h-1zM27 6h1v1h-1zM20 7h1v1h-1zM23 7h2v1h-2zM27 7h1v1h-1zM10 8h1v1h-1zM11 11h1v1h-1zM29 12h1v1h-1zM18 13h1v1h-1zM20 13h1v1h-1zM29 13h1v1h-1zM2 15h1v1h-1zM5 15h2v1h-2zM9 15h1v1h-1zM24 15h3v1h-3zM1 16h1v1h-1zM1 17h1v1h-1zM1 18h1v1h-1zM7 18h1v1h-1zM2 19h1v1h-1zM26 19h1v1h-1zM1 20h1v1h-1zM3 20h1v1h-1zM7 20h1v1h-1zM31 20h1v1h-1zM1 21h1v1h-1zM3 21h1v1h-1zM7 21h2v1h-2zM24 21h1v1h-1zM27 21h4v1h-4zM1 22h4v1h-4zM6 22h2v1h-2zM9 22h1v1h-1zM15 22h1v1h-1zM18 22h1v1h-1zM25 22h2v1h-2zM1 23h7v1h-7zM9 23h6v1h-6zM17 23h1v1h-1zM19 23h1v1h-1zM22 23h1v1h-1zM1 24h1v1h-1zM4 24h3v1h-3zM3 25h1v1h-1zM30 25h1v1h-1zM14 26h2v1h-2zM30 26h2v1h-2zM14 27h1v1h-1zM29 28h1v1h-1zM30 30h1v1h-1zM2 32h1v1h-1z"/><path fill="#ff5a00" d="M8 3h1v1h-1zM8 4h2v1h-2zM25 4h1v1h-1zM9 6h1v1h-1zM11 6h5v1h-5zM17 6h2v1h-2zM9 7h1v1h-1zM13 7h3v1h-3zM4 8h1v1h-1zM7 8h3v1h-3zM13 8h3v1h-3zM19 8h1v1h-1zM21 8h3v1h-3zM10 9h1v1h-1zM13 9h3v1h-3zM3 10h2v1h-2zM10 10h1v1h-1zM13 10h3v1h-3zM19 10h1v1h-1zM28 10h1v1h-1zM9 11h1v1h-1zM14 11h2v1h-2zM3 12h1v1h-1zM19 12h1v1h-1zM2 13h1v1h-1zM21 13h1v1h-1zM5 14h5v1h-5zM23 14h1v1h-1zM31 22h1v1h-1zM26 23h1v1h-1zM28 23h1v1h-1zM31 23h1v1h-1zM26 24h2v1h-2zM31 24h1v1h-1zM13 25h1v1h-1zM18 25h1v1h-1zM28 25h1v1h-1zM17 26h2v1h-2zM17 27h1v1h-1zM18 28h1v1h-1zM27 28h1v1h-1zM14 30h1v1h-1zM18 30h1v1h-1zM3 33h2v1h-2zM28 33h1v1h-1zM4 34h1v1h-1zM5 35h1v1h-1zM28 35h1v1h-1zM5 36h1v1h-1z"/><path fill="#ff3200" d="M7 4h1v1h-1zM7 5h3v1h-3zM5 6h1v1h-1zM7 6h2v1h-2zM5 7h4v1h-4zM4 9h1v1h-1zM7 9h3v1h-3zM5 10h5v1h-5zM21 10h2v1h-2zM4 11h3v1h-3zM8 11h1v1h-1zM13 11h1v1h-1zM18 11h1v1h-1zM21 11h2v1h-2zM4 12h2v1h-2zM8 12h1v1h-1zM21 12h2v1h-2zM5 13h4v1h-4zM22 13h1v1h-1zM27 13h1v1h-1zM25 14h3v1h-3zM6 25h1v1h-1zM24 25h1v1h-1zM27 25h1v1h-1zM3 26h1v1h-1zM28 26h1v1h-1zM27 27h1v1h-1zM25 28h2v1h-2zM28 28h1v1h-1zM3 29h1v1h-1zM27 29h1v1h-1zM29 29h1v1h-1zM17 30h1v1h-1zM19 30h1v1h-1zM24 30h1v1h-1zM29 31h1v1h-1zM26 32h4v1h-4zM26 33h2v1h-2z"/><path fill="#ff0a00" d="M6 5h1v1h-1zM6 6h1v1h-1zM17 7h2v1h-2zM5 8h2v1h-2zM17 8h1v1h-1zM5 9h2v1h-2zM18 9h1v1h-1zM21 9h4v1h-4zM27 9h1v1h-1zM18 10h1v1h-1zM23 10h1v1h-1zM26 10h2v1h-2zM7 11h1v1h-1zM23 11h3v1h-3zM27 11h1v1h-1zM6 12h2v1h-2zM17 12h2v1h-2zM23 12h2v1h-2zM27 12h1v1h-1zM23 13h4v1h-4zM24 14h1v1h-1zM7 25h6v1h-6zM19 25h5v1h-5zM25 25h2v1h-2zM5 26h1v1h-1zM7 26h2v1h-2zM10 26h1v1h-1zM13 26h1v1h-1zM19 26h1v1h-1zM22 26h1v1h-1zM24 26h2v1h-2zM27 26h1v1h-1zM13 27h1v1h-1zM19 27h4v1h-4zM24 27h3v1h-3zM28 27h1v1h-1zM19 28h1v1h-1zM21 28h4v1h-4zM19 29h1v1h-1zM21 29h6v1h-6zM28 29h1v1h-1zM4 30h1v1h-1zM23 30h1v1h-1zM25 30h1v1h-1zM29 30h1v1h-1zM4 31h1v1h-1zM7 31h1v1h-1zM23 31h6v1h-6z"/><path fill="#e10000" d="M18 8h1v1h-1zM17 9h1v1h-1zM25 9h2v1h-2zM17 10h1v1h-1zM24 10h2v1h-2zM17 11h1v1h-1zM26 11h1v1h-1zM25 12h2v1h-2zM4 26h1v1h-1zM6 26h1v1h-1zM9 26h1v1h-1zM11 26h1v1h-1zM20 26h2v1h-2zM23 26h1v1h-1zM26 26h1v1h-1zM3 27h7v1h-7zM23 27h1v1h-1zM3 28h8v1h-8zM20 28h1v1h-1zM4 29h1v1h-1zM6 29h1v1h-1zM8 29h2v1h-2zM20 29h1v1h-1zM7 30h1v1h-1zM20 30h3v1h-3zM26 30h3v1h-3zM5 31h2v1h-2zM4 32h1v1h-1zM7 32h1v1h-1zM24 32h2v1h-2zM5 33h1v1h-1zM25 33h1v1h-1zM5 34h1v1h-1zM6 36h1v1h-1z"/><path fill="#ffff00" d="M12 13h3v1h-3zM11 14h2v1h-2zM21 14h1v1h-1zM20 15h1v1h-1zM3 16h3v1h-3zM7 16h1v1h-1zM23 16h1v1h-1zM26 16h6v1h-6zM2 17h4v1h-4zM13 17h1v1h-1zM27 17h5v1h-5zM3 18h3v1h-3zM10 18h1v1h-1zM28 18h4v1h-4zM4 19h2v1h-2zM13 19h2v1h-2zM12 20h3v1h-3zM23 20h1v1h-1zM12 21h2v1h-2zM17 21h1v1h-1zM11 22h4v1h-4zM19 22h1v1h-1zM21 22h2v1h-2zM1 25h2v1h-2zM1 26h2v1h-2zM1 27h1v1h-1zM1 28h1v1h-1zM30 28h1v1h-1zM1 29h1v1h-1z"/><path fill="#ffff4a" d="M15 13h1v1h-1zM13 14h3v1h-3zM17 14h4v1h-4zM10 15h6v1h-6zM17 15h3v1h-3zM21 15h2v1h-2zM10 16h6v1h-6zM17 16h6v1h-6zM10 17h3v1h-3zM14 17h2v1h-2zM17 17h7v1h-7zM11 18h5v1h-5zM17 18h7v1h-7zM10 19h3v1h-3zM15 19h1v1h-1zM17 19h7v1h-7zM10 20h2v1h-2zM15 20h1v1h-1zM17 20h6v1h-6zM14 21h2v1h-2zM18 21h1v1h-1zM21 21h2v1h-2zM20 22h1v1h-1z"/><path fill="#ffff99" d="M10 21h2v1h-2zM19 21h2v1h-2z"/><path fill="#b20000" d="M12 26h1v1h-1zM10 27h2v1h-2zM13 28h1v1h-1zM5 29h1v1h-1zM7 29h1v1h-1zM10 29h1v1h-1zM5 30h2v1h-2zM8 30h1v1h-1zM8 31h1v1h-1zM5 32h2v1h-2zM8 32h1v1h-1zM23 32h1v1h-1zM24 33h1v1h-1zM26 34h2v1h-2zM6 35h1v1h-1zM27 35h1v1h-1zM27 36h1v1h-1zM6 37h1v1h-1zM26 37h1v1h-1z"/><path fill="#830000" d="M12 27h1v1h-1zM11 28h2v1h-2zM13 29h1v1h-1zM9 30h2v1h-2zM9 31h1v1h-1zM15 31h1v1h-1zM17 31h3v1h-3zM6 33h2v1h-2zM23 34h1v1h-1zM26 35h1v1h-1zM25 36h2v1h-2zM25 37h1v1h-1zM25 38h1v1h-1zM23 39h1v1h-1z"/><path fill="#540000" d="M11 29h2v1h-2zM13 30h1v1h-1zM10 31h1v1h-1zM13 31h2v1h-2zM20 31h1v1h-1zM9 32h1v1h-1zM11 32h2v1h-2zM14 32h1v1h-1zM17 32h4v1h-4zM22 32h1v1h-1zM8 33h1v1h-1zM19 33h1v1h-1zM21 33h1v1h-1zM23 33h1v1h-1zM6 34h2v1h-2zM15 34h1v1h-1zM25 34h1v1h-1zM7 35h1v1h-1zM10 35h1v1h-1zM15 35h1v1h-1zM25 35h1v1h-1zM7 36h1v1h-1zM11 36h1v1h-1zM20 36h1v1h-1zM24 36h1v1h-1zM11 37h1v1h-1zM13 37h2v1h-2zM20 37h1v1h-1zM11 38h4v1h-4zM20 38h2v1h-2zM24 38h1v1h-1zM17 39h6v1h-6zM18 40h1v1h-1zM20 40h2v1h-2z"/><path fill="#250000" d="M11 30h2v1h-2zM11 31h2v1h-2zM21 31h2v1h-2zM10 32h1v1h-1zM13 32h1v1h-1zM15 32h1v1h-1zM21 32h1v1h-1zM9 33h7v1h-7zM17 33h2v1h-2zM20 33h1v1h-1zM22 33h1v1h-1zM8 34h7v1h-7zM17 34h6v1h-6zM24 34h1v1h-1zM8 35h2v1h-2zM11 35h4v1h-4zM17 35h8v1h-8zM8 36h3v1h-3zM12 36h4v1h-4zM17 36h3v1h-3zM21 36h3v1h-3zM7 37h4v1h-4zM12 37h1v1h-1zM15 37h1v1h-1zM17 37h3v1h-3zM21 37h4v1h-4zM8 38h3v1h-3zM15 38h1v1h-1zM17 38h3v1h-3zM22 38h2v1h-2zM9 39h7v1h-7zM11 40h5v1h-5zM19 40h1v1h-1z"/></g>
<use href="#Lax"/>
<text class="dv" x="367.5" y="217.2" font-size="15.5">L</text>
<text class="dv" x="507.3" y="217.2" font-size="15.5">R</text>
<text class="dv" x="797" y="202.6" font-size="15.5">L</text>
<text class="dv" x="934.4" y="202.6" font-size="15.5">R</text>
<rect x="1021" y="179.5" width="13.8" height="231" fill="url(#hot)" stroke="#111" stroke-width="1.4"/>
<text class="dvc" x="1010.8" y="184.8" font-size="14.6" text-anchor="end">0.034</text>
<text class="dvc" x="1010.8" y="242.6" font-size="14.6" text-anchor="end">0.025</text>
<text class="dvc" x="1010.8" y="300.3" font-size="14.6" text-anchor="end">0.017</text>
<text class="dvc" x="1010.8" y="358.1" font-size="14.6" text-anchor="end">0.0084</text>
<text class="dvc" x="1010.8" y="415.8" font-size="14.6" text-anchor="end">0</text>
</g>
<g transform="matrix(1,0,0,1,0,890.6)">
<g transform="translate(112,199) scale(5.45)" shape-rendering="crispEdges"><path fill="#ff0018" d="M18 1h3v1h-3zM15 2h6v1h-6zM12 3h8v1h-8zM10 4h10v1h-10zM8 5h12v1h-12zM28 5h5v1h-5zM7 6h13v1h-13zM26 6h9v1h-9zM6 7h16v1h-16zM24 7h12v1h-12zM5 8h18v1h-18zM24 8h12v1h-12zM4 9h34v1h-34zM3 10h35v1h-35zM2 11h18v1h-18zM21 11h17v1h-17zM2 12h16v1h-16zM22 12h15v1h-15zM1 13h17v1h-17zM24 13h12v1h-12zM1 14h17v1h-17zM24 14h11v1h-11zM1 15h18v1h-18zM22 15h1v1h-1zM28 15h6v1h-6zM1 16h18v1h-18zM28 16h2v1h-2zM1 17h17v1h-17zM25 17h5v1h-5zM1 18h16v1h-16zM22 18h8v1h-8zM1 19h16v1h-16zM20 19h2v1h-2zM23 19h7v1h-7zM2 20h15v1h-15zM19 20h3v1h-3zM23 20h6v1h-6zM2 21h27v1h-27zM30 21h3v1h-3zM3 22h30v1h-30zM4 23h24v1h-24zM29 23h3v1h-3zM6 24h23v1h-23zM13 25h14v1h-14zM16 26h9v1h-9zM12 27h1v1h-1zM18 27h5v1h-5zM12 28h1v1h-1zM19 28h2v1h-2zM13 29h4v1h-4zM16 30h1v1h-1z"/><path fill="#00ffff" d="M21 1h5v1h-5zM27 1h3v1h-3zM21 2h11v1h-11zM20 3h14v1h-14zM20 4h15v1h-15zM20 5h8v1h-8zM33 5h3v1h-3zM20 6h6v1h-6zM35 6h2v1h-2zM22 7h2v1h-2zM36 7h1v1h-1zM23 8h1v1h-1zM36 8h2v1h-2zM38 9h1v1h-1zM38 10h1v1h-1zM20 11h1v1h-1zM38 11h2v1h-2zM18 12h4v1h-4zM37 12h3v1h-3zM18 13h6v1h-6zM36 13h5v1h-5zM18 14h6v1h-6zM35 14h6v1h-6zM19 15h3v1h-3zM23 15h5v1h-5zM34 15h7v1h-7zM25 16h3v1h-3zM32 16h10v1h-10zM32 17h10v1h-10zM30 18h12v1h-12zM30 19h12v1h-12zM29 20h13v1h-13zM29 21h1v1h-1zM33 21h8v1h-8zM33 22h7v1h-7zM28 23h1v1h-1zM12 25h1v1h-1zM12 26h4v1h-4zM13 27h5v1h-5zM13 28h6v1h-6zM17 29h3v1h-3zM17 30h1v1h-1z"/><path fill="#ff4a00" d="M19 16h6v1h-6zM18 17h5v1h-5zM17 18h5v1h-5zM17 19h3v1h-3zM17 20h2v1h-2z"/><path fill="#00a0ff" d="M30 16h2v1h-2zM30 17h2v1h-2z"/><path fill="#ffe000" d="M23 17h1v1h-1z"/><path fill="#00ff98" d="M24 17h1v1h-1zM22 19h1v1h-1zM22 20h1v1h-1z"/></g>
<use href="#Lsl"/>
<g transform="translate(351,198) scale(5.45)" shape-rendering="crispEdges"><path fill="#00ffff" d="M11 1h2v1h-2zM14 1h1v1h-1zM17 1h6v1h-6zM9 2h3v1h-3zM23 2h2v1h-2zM7 3h3v1h-3zM24 3h2v1h-2zM6 4h2v1h-2zM22 4h6v1h-6zM5 5h2v1h-2zM26 5h2v1h-2zM4 6h2v1h-2zM1 16h1v1h-1zM20 20h1v1h-1zM7 24h2v1h-2zM24 24h3v1h-3zM7 25h6v1h-6zM20 25h1v1h-1zM23 25h3v1h-3zM7 26h6v1h-6zM21 26h5v1h-5zM7 27h5v1h-5zM21 27h5v1h-5zM5 28h7v1h-7zM21 28h4v1h-4zM8 29h3v1h-3zM22 29h4v1h-4z"/><path fill="#ff0018" d="M13 1h1v1h-1zM15 1h2v1h-2zM12 2h11v1h-11zM10 3h14v1h-14zM26 3h1v1h-1zM8 4h14v1h-14zM7 5h19v1h-19zM28 5h1v1h-1zM6 6h24v1h-24zM3 7h28v1h-28zM3 8h28v1h-28zM2 9h30v1h-30zM2 10h30v1h-30zM1 11h31v1h-31zM1 12h32v1h-32zM1 13h32v1h-32zM1 14h32v1h-32zM1 15h32v1h-32zM2 16h31v1h-31zM1 17h32v1h-32zM1 18h32v1h-32zM1 19h32v1h-32zM1 20h19v1h-19zM21 20h12v1h-12zM1 21h32v1h-32zM1 22h31v1h-31zM2 23h30v1h-30zM2 24h5v1h-5zM9 24h14v1h-14zM27 24h5v1h-5zM3 25h4v1h-4zM16 25h2v1h-2zM26 25h5v1h-5zM4 26h3v1h-3zM26 26h4v1h-4zM4 27h3v1h-3zM26 27h4v1h-4zM25 28h4v1h-4zM5 29h3v1h-3zM11 29h1v1h-1zM21 29h1v1h-1zM26 29h3v1h-3z"/><path fill="#ff0090" d="M23 24h1v1h-1zM21 25h2v1h-2z"/></g>
<use href="#Lco"/>
<g transform="translate(541,199) scale(5.45)" shape-rendering="crispEdges"><path fill="#00ffff" d="M13 1h9v1h-9zM11 2h4v1h-4zM16 2h6v1h-6zM9 3h6v1h-6zM16 3h6v1h-6zM8 4h14v1h-14zM7 5h16v1h-16zM6 6h1v1h-1zM17 6h7v1h-7zM5 7h1v1h-1zM19 7h5v1h-5zM5 8h1v1h-1zM4 9h2v1h-2zM4 10h2v1h-2zM21 10h4v1h-4zM3 11h5v1h-5zM21 11h4v1h-4zM3 12h6v1h-6zM20 12h6v1h-6zM2 13h7v1h-7zM19 13h6v1h-6zM2 14h7v1h-7zM19 14h7v1h-7zM1 15h10v1h-10zM16 15h1v1h-1zM19 15h7v1h-7zM1 16h11v1h-11zM21 16h3v1h-3zM1 17h12v1h-12zM23 17h1v1h-1zM1 18h13v1h-13zM1 19h13v1h-13zM1 20h12v1h-12zM1 21h12v1h-12zM2 22h11v1h-11zM10 23h3v1h-3zM18 25h1v1h-1zM28 26h2v1h-2zM28 27h2v1h-2zM25 28h4v1h-4zM23 29h3v1h-3zM24 30h2v1h-2z"/><path fill="#ff0018" d="M22 1h3v1h-3zM22 2h6v1h-6zM22 3h8v1h-8zM22 4h11v1h-11zM23 5h11v1h-11zM7 6h10v1h-10zM24 6h12v1h-12zM6 7h13v1h-13zM24 7h13v1h-13zM6 8h32v1h-32zM6 9h33v1h-33zM6 10h15v1h-15zM25 10h15v1h-15zM8 11h13v1h-13zM25 11h15v1h-15zM9 12h11v1h-11zM26 12h15v1h-15zM9 13h10v1h-10zM25 13h16v1h-16zM9 14h10v1h-10zM26 14h16v1h-16zM11 15h5v1h-5zM26 15h3v1h-3zM30 15h12v1h-12zM12 16h1v1h-1zM14 16h3v1h-3zM19 16h2v1h-2zM24 16h18v1h-18zM14 17h3v1h-3zM18 17h1v1h-1zM24 17h18v1h-18zM14 18h6v1h-6zM24 18h18v1h-18zM14 19h6v1h-6zM26 19h16v1h-16zM13 20h11v1h-11zM27 20h14v1h-14zM13 21h12v1h-12zM27 21h14v1h-14zM13 22h27v1h-27zM13 23h26v1h-26zM13 24h24v1h-24zM16 25h2v1h-2zM19 25h12v1h-12zM18 26h10v1h-10zM30 26h1v1h-1zM20 27h8v1h-8zM30 27h1v1h-1zM21 28h4v1h-4zM29 28h1v1h-1zM26 29h3v1h-3zM26 30h1v1h-1z"/><path fill="#00ff98" d="M17 15h2v1h-2zM17 16h2v1h-2z"/><path fill="#ff00ff" d="M13 16h1v1h-1zM13 17h1v1h-1z"/><path fill="#00a0ff" d="M17 17h1v1h-1z"/><path fill="#00f830" d="M19 17h1v1h-1zM20 19h1v1h-1z"/><path fill="#ff1c00" d="M20 17h3v1h-3zM20 18h4v1h-4zM21 19h5v1h-5zM24 20h3v1h-3zM25 21h2v1h-2z"/></g>
<use href="#Lsr"/>
<g transform="translate(780,181) scale(5.45)" shape-rendering="crispEdges"><path fill="#ff0018" d="M11 1h5v1h-5zM17 1h6v1h-6zM9 2h7v1h-7zM17 2h7v1h-7zM8 3h8v1h-8zM17 3h8v1h-8zM7 4h9v1h-9zM17 4h9v1h-9zM6 5h10v1h-10zM17 5h10v1h-10zM5 6h11v1h-11zM17 6h11v1h-11zM5 7h11v1h-11zM17 7h11v1h-11zM4 8h12v1h-12zM17 8h12v1h-12zM4 9h12v1h-12zM17 9h12v1h-12zM3 10h13v1h-13zM17 10h13v1h-13zM3 11h13v1h-13zM17 11h13v1h-13zM3 12h13v1h-13zM17 12h14v1h-14zM2 13h14v1h-14zM17 13h14v1h-14zM2 14h14v1h-14zM17 14h12v1h-12zM30 14h1v1h-1zM2 15h14v1h-14zM17 15h13v1h-13zM1 16h15v1h-15zM17 16h13v1h-13zM31 16h1v1h-1zM1 17h15v1h-15zM17 17h15v1h-15zM1 18h11v1h-11zM13 18h3v1h-3zM17 18h8v1h-8zM26 18h6v1h-6zM1 19h4v1h-4zM9 19h1v1h-1zM12 19h4v1h-4zM17 19h2v1h-2zM20 19h2v1h-2zM26 19h6v1h-6zM1 20h4v1h-4zM15 20h1v1h-1zM17 20h2v1h-2zM26 20h6v1h-6zM1 21h4v1h-4zM14 21h2v1h-2zM17 21h2v1h-2zM25 21h8v1h-8zM1 22h5v1h-5zM14 22h2v1h-2zM17 22h2v1h-2zM24 22h9v1h-9zM1 23h5v1h-5zM14 23h2v1h-2zM17 23h2v1h-2zM26 23h7v1h-7zM1 24h5v1h-5zM14 24h2v1h-2zM17 24h3v1h-3zM26 24h7v1h-7zM1 25h5v1h-5zM13 25h3v1h-3zM17 25h3v1h-3zM26 25h7v1h-7zM1 26h5v1h-5zM13 26h3v1h-3zM17 26h3v1h-3zM23 26h9v1h-9zM1 27h9v1h-9zM12 27h4v1h-4zM17 27h2v1h-2zM22 27h10v1h-10zM1 28h9v1h-9zM12 28h4v1h-4zM17 28h2v1h-2zM23 28h9v1h-9zM1 29h10v1h-10zM13 29h3v1h-3zM17 29h2v1h-2zM23 29h7v1h-7zM31 29h1v1h-1zM2 30h8v1h-8zM13 30h3v1h-3zM17 30h1v1h-1zM19 30h2v1h-2zM24 30h6v1h-6zM31 30h1v1h-1zM3 31h7v1h-7zM12 31h1v1h-1zM14 31h2v1h-2zM17 31h3v1h-3zM23 31h6v1h-6zM30 31h1v1h-1zM2 32h9v1h-9zM12 32h4v1h-4zM17 32h3v1h-3zM23 32h8v1h-8zM3 33h8v1h-8zM12 33h4v1h-4zM19 33h1v1h-1zM23 33h4v1h-4zM29 33h1v1h-1zM5 34h5v1h-5zM13 34h3v1h-3zM17 34h2v1h-2zM24 34h2v1h-2zM28 34h2v1h-2zM6 35h4v1h-4zM28 35h1v1h-1zM8 36h2v1h-2zM27 36h1v1h-1zM26 37h1v1h-1zM24 38h2v1h-2zM23 39h1v1h-1zM21 40h1v1h-1z"/><path fill="#00ff98" d="M29 14h1v1h-1zM30 15h1v1h-1zM30 16h1v1h-1zM25 23h1v1h-1zM25 24h1v1h-1zM7 25h2v1h-2z"/><path fill="#00ffff" d="M12 18h1v1h-1zM10 19h2v1h-2zM19 19h1v1h-1zM22 19h3v1h-3zM8 20h7v1h-7zM19 20h6v1h-6zM9 21h5v1h-5zM20 21h5v1h-5zM8 22h6v1h-6zM19 22h4v1h-4zM10 23h4v1h-4zM19 23h6v1h-6zM6 24h1v1h-1zM9 24h5v1h-5zM20 24h5v1h-5zM6 25h1v1h-1zM9 25h4v1h-4zM20 25h6v1h-6zM6 26h7v1h-7zM20 26h3v1h-3zM10 27h2v1h-2zM19 27h3v1h-3zM10 28h2v1h-2zM20 28h3v1h-3zM11 29h1v1h-1zM21 29h2v1h-2zM30 29h1v1h-1zM10 30h2v1h-2zM21 30h3v1h-3zM30 30h1v1h-1zM2 31h1v1h-1zM10 31h2v1h-2zM13 31h1v1h-1zM20 31h3v1h-3zM29 31h1v1h-1zM11 32h1v1h-1zM20 32h3v1h-3zM11 33h1v1h-1zM17 33h2v1h-2zM20 33h3v1h-3zM27 33h2v1h-2zM4 34h1v1h-1zM10 34h3v1h-3zM19 34h5v1h-5zM26 34h2v1h-2zM4 35h2v1h-2zM10 35h6v1h-6zM17 35h11v1h-11zM5 36h3v1h-3zM10 36h6v1h-6zM17 36h10v1h-10zM6 37h10v1h-10zM17 37h9v1h-9zM8 38h8v1h-8zM17 38h7v1h-7zM9 39h7v1h-7zM17 39h6v1h-6zM11 40h5v1h-5zM18 40h3v1h-3z"/><path fill="#d0ff00" d="M25 18h1v1h-1zM25 19h1v1h-1zM25 20h1v1h-1z"/><path fill="#ffe000" d="M5 19h1v1h-1zM7 22h1v1h-1zM9 23h1v1h-1z"/><path fill="#ff4a00" d="M6 19h3v1h-3zM5 20h3v1h-3zM5 21h4v1h-4zM6 22h1v1h-1zM6 23h3v1h-3zM7 24h2v1h-2z"/><path fill="#00f830" d="M23 22h1v1h-1z"/><path fill="#ff00ff" d="M19 28h1v1h-1zM19 29h2v1h-2zM18 30h1v1h-1z"/><path fill="#00a0ff" d="M12 29h1v1h-1zM12 30h1v1h-1z"/></g>
<use href="#Lax"/>
<text class="dv" x="367.5" y="217.2" font-size="15.5">L</text>
<text class="dv" x="507.3" y="217.2" font-size="15.5">R</text>
<text class="dv" x="797" y="202.6" font-size="15.5">L</text>
<text class="dv" x="934.4" y="202.6" font-size="15.5">R</text>
<rect x="1021" y="179.5" width="13.8" height="231" fill="url(#hsv)" stroke="#111" stroke-width="1.4"/>
<text class="dvc" x="1010.8" y="184.8" font-size="14.6" text-anchor="end">3.1</text>
<text class="dvc" x="1010.8" y="242.6" font-size="14.6" text-anchor="end">1.6</text>
<text class="dvc" x="1010.8" y="300.3" font-size="14.6" text-anchor="end">0</text>
<text class="dvc" x="1010.8" y="358.1" font-size="14.6" text-anchor="end">-1.6</text>
<text class="dvc" x="1010.8" y="415.8" font-size="14.6" text-anchor="end">-3.1</text>
</g>
<g transform="matrix(1.0165,0,0,1.015,-16.9,1184.6)">
<g transform="translate(112,199) scale(5.45)" shape-rendering="crispEdges"><path fill="#ff3200" d="M18 1h1v1h-1zM16 2h1v1h-1zM24 2h1v1h-1zM14 3h2v1h-2zM17 3h1v1h-1zM24 3h1v1h-1zM11 4h1v1h-1zM13 4h3v1h-3zM22 4h2v1h-2zM9 5h2v1h-2zM15 5h1v1h-1zM22 5h1v1h-1zM7 6h2v1h-2zM13 6h1v1h-1zM20 6h3v1h-3zM15 7h2v1h-2zM19 7h2v1h-2zM22 7h1v1h-1zM31 7h1v1h-1zM15 8h1v1h-1zM19 8h2v1h-2zM22 8h1v1h-1zM8 9h3v1h-3zM13 9h2v1h-2zM16 9h3v1h-3zM21 9h2v1h-2zM25 9h1v1h-1zM25 10h1v1h-1zM28 10h2v1h-2zM31 10h1v1h-1zM2 11h1v1h-1zM16 11h1v1h-1zM28 11h1v1h-1zM2 12h1v1h-1zM16 12h1v1h-1zM10 13h1v1h-1zM6 14h2v1h-2zM9 14h3v1h-3zM13 14h2v1h-2zM25 14h2v1h-2zM9 15h1v1h-1zM25 15h1v1h-1zM26 19h1v1h-1zM13 20h1v1h-1zM16 20h4v1h-4zM30 20h1v1h-1zM31 21h1v1h-1zM18 22h1v1h-1zM30 22h2v1h-2zM12 23h1v1h-1zM11 24h2v1h-2zM12 25h1v1h-1zM26 25h1v1h-1zM12 26h1v1h-1zM24 26h1v1h-1zM12 27h1v1h-1zM14 29h2v1h-2zM16 30h1v1h-1z"/><path fill="#e10000" d="M19 1h2v1h-2zM20 3h1v1h-1zM16 4h1v1h-1zM16 5h1v1h-1zM18 5h2v1h-2zM16 6h1v1h-1zM19 6h1v1h-1zM10 7h3v1h-3zM17 7h2v1h-2zM26 20h2v1h-2zM16 21h1v1h-1zM20 21h1v1h-1zM15 22h1v1h-1zM19 22h1v1h-1zM13 23h2v1h-2zM16 23h1v1h-1zM18 23h1v1h-1zM29 23h1v1h-1zM23 26h1v1h-1zM22 27h1v1h-1z"/><path fill="#ff0a00" d="M21 1h3v1h-3zM17 2h7v1h-7zM16 3h1v1h-1zM18 3h2v1h-2zM21 3h3v1h-3zM12 4h1v1h-1zM17 4h5v1h-5zM11 5h4v1h-4zM17 5h1v1h-1zM20 5h2v1h-2zM9 6h4v1h-4zM14 6h2v1h-2zM7 7h3v1h-3zM13 7h2v1h-2zM7 8h8v1h-8zM16 8h3v1h-3zM27 18h1v1h-1zM20 20h6v1h-6zM28 20h2v1h-2zM12 21h4v1h-4zM17 21h3v1h-3zM21 21h2v1h-2zM29 21h2v1h-2zM13 22h2v1h-2zM16 22h2v1h-2zM17 23h1v1h-1zM30 23h2v1h-2zM28 24h1v1h-1zM24 25h1v1h-1zM13 28h1v1h-1z"/><path fill="#ff5a00" d="M24 1h1v1h-1zM26 1h4v1h-4zM15 2h1v1h-1zM25 2h7v1h-7zM12 3h2v1h-2zM25 3h7v1h-7zM33 3h1v1h-1zM10 4h1v1h-1zM24 4h5v1h-5zM30 4h1v1h-1zM32 4h3v1h-3zM8 5h1v1h-1zM23 5h7v1h-7zM23 6h7v1h-7zM31 6h2v1h-2zM36 6h1v1h-1zM6 7h1v1h-1zM21 7h1v1h-1zM23 7h1v1h-1zM26 7h3v1h-3zM32 7h1v1h-1zM5 8h2v1h-2zM21 8h1v1h-1zM23 8h6v1h-6zM31 8h2v1h-2zM4 9h4v1h-4zM11 9h2v1h-2zM15 9h1v1h-1zM19 9h2v1h-2zM23 9h2v1h-2zM27 9h3v1h-3zM31 9h1v1h-1zM3 10h2v1h-2zM8 10h17v1h-17zM26 10h2v1h-2zM30 10h1v1h-1zM32 10h1v1h-1zM3 11h1v1h-1zM9 11h2v1h-2zM12 11h2v1h-2zM15 11h1v1h-1zM17 11h1v1h-1zM20 11h2v1h-2zM25 11h3v1h-3zM29 11h4v1h-4zM3 12h1v1h-1zM8 12h6v1h-6zM15 12h1v1h-1zM21 12h2v1h-2zM25 12h6v1h-6zM1 13h2v1h-2zM6 13h1v1h-1zM8 13h2v1h-2zM11 13h4v1h-4zM20 13h12v1h-12zM1 14h2v1h-2zM8 14h1v1h-1zM12 14h1v1h-1zM17 14h2v1h-2zM21 14h2v1h-2zM24 14h1v1h-1zM27 14h4v1h-4zM1 15h1v1h-1zM5 15h4v1h-4zM10 15h1v1h-1zM12 15h3v1h-3zM18 15h1v1h-1zM20 15h5v1h-5zM26 15h1v1h-1zM6 16h2v1h-2zM12 16h3v1h-3zM18 16h5v1h-5zM13 17h1v1h-1zM26 18h1v1h-1zM22 19h3v1h-3zM28 19h1v1h-1zM2 20h1v1h-1zM11 20h2v1h-2zM14 20h2v1h-2zM2 21h1v1h-1zM10 21h2v1h-2zM11 22h2v1h-2zM32 22h1v1h-1zM10 23h2v1h-2zM6 24h2v1h-2zM10 24h1v1h-1zM25 25h1v1h-1zM12 28h1v1h-1zM13 29h1v1h-1zM17 30h1v1h-1z"/><path fill="#ff8300" d="M25 1h1v1h-1zM32 3h1v1h-1zM29 4h1v1h-1zM31 4h1v1h-1zM30 5h4v1h-4zM35 5h1v1h-1zM30 6h1v1h-1zM24 7h2v1h-2zM29 7h2v1h-2zM29 8h2v1h-2zM33 8h1v1h-1zM36 8h1v1h-1zM26 9h1v1h-1zM30 9h1v1h-1zM32 9h1v1h-1zM36 9h3v1h-3zM5 10h3v1h-3zM35 10h2v1h-2zM4 11h5v1h-5zM11 11h1v1h-1zM14 11h1v1h-1zM18 11h2v1h-2zM22 11h3v1h-3zM35 11h1v1h-1zM39 11h1v1h-1zM4 12h4v1h-4zM14 12h1v1h-1zM17 12h4v1h-4zM23 12h2v1h-2zM31 12h2v1h-2zM3 13h3v1h-3zM7 13h1v1h-1zM15 13h5v1h-5zM32 13h1v1h-1zM3 14h3v1h-3zM15 14h2v1h-2zM19 14h2v1h-2zM23 14h1v1h-1zM31 14h1v1h-1zM2 15h3v1h-3zM11 15h1v1h-1zM15 15h3v1h-3zM19 15h1v1h-1zM27 15h4v1h-4zM2 16h4v1h-4zM8 16h2v1h-2zM15 16h3v1h-3zM23 16h3v1h-3zM12 17h1v1h-1zM14 17h9v1h-9zM13 18h1v1h-1zM16 18h2v1h-2zM2 19h1v1h-1zM13 19h4v1h-4zM21 19h1v1h-1zM25 19h1v1h-1zM10 20h1v1h-1zM32 21h1v1h-1zM10 22h1v1h-1zM33 22h3v1h-3zM4 23h1v1h-1zM9 23h1v1h-1zM8 24h2v1h-2z"/><path fill="#ffab00" d="M34 5h1v1h-1zM33 6h3v1h-3zM33 7h4v1h-4zM34 8h2v1h-2zM37 8h1v1h-1zM33 9h3v1h-3zM33 10h2v1h-2zM37 10h2v1h-2zM33 11h2v1h-2zM36 11h2v1h-2zM35 12h1v1h-1zM31 15h1v1h-1zM26 16h1v1h-1zM11 17h1v1h-1zM10 18h3v1h-3zM14 18h1v1h-1zM18 18h1v1h-1zM1 19h1v1h-1zM3 19h4v1h-4zM9 19h4v1h-4zM17 19h1v1h-1zM29 19h1v1h-1zM3 20h5v1h-5zM3 21h5v1h-5zM9 21h1v1h-1zM33 21h1v1h-1zM3 22h7v1h-7zM5 23h4v1h-4z"/><path fill="#b20000" d="M17 6h2v1h-2zM27 19h1v1h-1zM23 21h1v1h-1zM25 21h4v1h-4zM20 22h3v1h-3zM29 22h1v1h-1zM15 23h1v1h-1zM28 23h1v1h-1zM16 29h2v1h-2z"/><path fill="#ffd300" d="M38 11h1v1h-1zM33 12h2v1h-2zM36 12h2v1h-2zM39 12h1v1h-1zM33 13h1v1h-1zM32 14h1v1h-1zM1 16h1v1h-1zM10 16h2v1h-2zM27 16h5v1h-5zM8 17h3v1h-3zM23 17h1v1h-1zM25 17h1v1h-1zM27 17h1v1h-1zM9 18h1v1h-1zM15 18h1v1h-1zM21 18h2v1h-2zM28 18h1v1h-1zM7 19h2v1h-2zM18 19h1v1h-1zM20 19h1v1h-1zM30 19h1v1h-1zM8 20h2v1h-2zM31 20h2v1h-2zM8 21h1v1h-1z"/><path fill="#ffff00" d="M38 12h1v1h-1zM34 13h6v1h-6zM33 14h8v1h-8zM32 15h9v1h-9zM32 16h2v1h-2zM2 17h6v1h-6zM24 17h1v1h-1zM26 17h1v1h-1zM28 17h6v1h-6zM2 18h1v1h-1zM4 18h1v1h-1zM8 18h1v1h-1zM19 18h2v1h-2zM23 18h3v1h-3zM29 18h5v1h-5zM19 19h1v1h-1zM31 19h3v1h-3zM33 20h1v1h-1zM34 21h3v1h-3zM38 21h3v1h-3zM36 22h4v1h-4z"/><path fill="#ffff4a" d="M40 13h1v1h-1zM34 16h3v1h-3zM38 16h1v1h-1zM1 17h1v1h-1zM1 18h1v1h-1zM3 18h1v1h-1zM5 18h3v1h-3zM34 19h1v1h-1zM34 20h1v1h-1zM37 21h1v1h-1z"/><path fill="#ffff99" d="M37 16h1v1h-1zM39 16h3v1h-3zM34 17h8v1h-8zM34 18h2v1h-2zM39 18h3v1h-3zM35 19h2v1h-2zM39 19h3v1h-3zM35 20h7v1h-7z"/><path fill="#ffffd6" d="M36 18h3v1h-3zM37 19h2v1h-2z"/><path fill="#830000" d="M24 21h1v1h-1zM23 22h6v1h-6zM23 23h1v1h-1zM27 23h1v1h-1zM13 24h1v1h-1zM17 24h1v1h-1zM27 24h1v1h-1zM18 29h1v1h-1z"/><path fill="#540000" d="M19 23h4v1h-4zM24 23h2v1h-2zM16 24h1v1h-1zM23 24h4v1h-4zM13 25h2v1h-2zM17 25h1v1h-1zM23 25h1v1h-1zM13 26h1v1h-1zM22 26h1v1h-1zM13 27h1v1h-1zM21 27h1v1h-1zM14 28h3v1h-3zM19 29h1v1h-1z"/><path fill="#250000" d="M26 23h1v1h-1zM14 24h2v1h-2zM18 24h5v1h-5zM15 25h2v1h-2zM18 25h5v1h-5zM14 26h8v1h-8zM14 27h7v1h-7zM17 28h4v1h-4z"/></g>
<use href="#Lsl"/>
<g transform="translate(351,198) scale(5.45)" shape-rendering="crispEdges"><path fill="#ff3200" d="M11 1h1v1h-1zM7 3h2v1h-2zM26 3h1v1h-1zM6 4h2v1h-2zM26 4h2v1h-2zM6 5h2v1h-2zM28 5h1v1h-1zM6 6h2v1h-2zM28 6h2v1h-2zM8 7h1v1h-1zM27 7h3v1h-3zM5 8h5v1h-5zM23 8h1v1h-1zM25 8h1v1h-1zM28 8h2v1h-2zM4 9h2v1h-2zM8 9h1v1h-1zM10 9h1v1h-1zM16 9h2v1h-2zM20 9h1v1h-1zM23 9h2v1h-2zM28 9h4v1h-4zM2 10h3v1h-3zM8 10h17v1h-17zM26 10h2v1h-2zM31 10h1v1h-1zM1 11h2v1h-2zM4 11h8v1h-8zM13 11h1v1h-1zM27 11h1v1h-1zM30 11h2v1h-2zM2 12h1v1h-1zM4 12h4v1h-4zM10 12h1v1h-1zM25 12h2v1h-2zM31 12h1v1h-1zM1 13h5v1h-5zM7 13h2v1h-2zM28 13h1v1h-1zM1 14h4v1h-4zM22 20h1v1h-1zM31 20h1v1h-1zM12 21h1v1h-1zM20 21h1v1h-1zM15 23h2v1h-2zM19 23h1v1h-1zM21 23h2v1h-2zM15 24h1v1h-1zM19 24h1v1h-1zM17 25h1v1h-1z"/><path fill="#ff0a00" d="M12 1h1v1h-1zM17 1h1v1h-1zM20 1h3v1h-3zM12 2h1v1h-1zM15 2h1v1h-1zM19 2h1v1h-1zM22 2h1v1h-1zM25 3h1v1h-1zM8 4h1v1h-1zM11 4h3v1h-3zM16 4h1v1h-1zM24 4h1v1h-1zM10 5h2v1h-2zM13 5h1v1h-1zM19 5h1v1h-1zM26 5h2v1h-2zM8 6h1v1h-1zM11 6h3v1h-3zM15 6h2v1h-2zM22 6h1v1h-1zM26 6h2v1h-2zM9 7h3v1h-3zM13 7h1v1h-1zM24 7h3v1h-3zM11 8h1v1h-1zM17 8h1v1h-1zM27 8h1v1h-1zM9 9h1v1h-1zM11 9h1v1h-1zM14 9h1v1h-1zM18 9h2v1h-2zM21 9h2v1h-2zM25 9h3v1h-3zM25 10h1v1h-1zM28 10h3v1h-3zM3 11h1v1h-1zM25 11h2v1h-2zM28 11h2v1h-2zM1 12h1v1h-1zM3 12h1v1h-1zM8 12h2v1h-2zM12 18h1v1h-1zM11 19h2v1h-2zM22 19h1v1h-1zM3 21h1v1h-1zM8 21h4v1h-4zM13 21h1v1h-1zM15 21h1v1h-1zM18 21h2v1h-2zM21 21h1v1h-1zM26 21h1v1h-1zM28 21h5v1h-5zM11 22h1v1h-1zM17 22h1v1h-1zM20 22h1v1h-1zM11 23h4v1h-4zM17 23h2v1h-2zM23 23h1v1h-1zM13 24h2v1h-2zM17 24h2v1h-2zM21 24h2v1h-2z"/><path fill="#e10000" d="M13 1h4v1h-4zM18 1h2v1h-2zM9 2h3v1h-3zM13 2h2v1h-2zM16 2h2v1h-2zM20 2h2v1h-2zM23 2h2v1h-2zM9 3h9v1h-9zM19 3h1v1h-1zM21 3h2v1h-2zM24 3h1v1h-1zM9 4h2v1h-2zM14 4h2v1h-2zM17 4h3v1h-3zM21 4h3v1h-3zM25 4h1v1h-1zM8 5h2v1h-2zM12 5h1v1h-1zM14 5h5v1h-5zM20 5h4v1h-4zM9 6h2v1h-2zM14 6h1v1h-1zM18 6h4v1h-4zM23 6h1v1h-1zM12 7h1v1h-1zM14 7h10v1h-10zM12 8h5v1h-5zM18 8h5v1h-5zM26 8h1v1h-1zM12 9h2v1h-2zM15 9h1v1h-1zM1 21h2v1h-2zM4 21h4v1h-4zM14 21h1v1h-1zM22 21h4v1h-4zM27 21h1v1h-1zM2 22h2v1h-2zM7 22h4v1h-4zM12 22h5v1h-5zM18 22h2v1h-2zM21 22h5v1h-5zM30 22h2v1h-2zM24 23h1v1h-1zM5 29h1v1h-1zM27 29h2v1h-2z"/><path fill="#b20000" d="M18 2h1v1h-1zM18 3h1v1h-1zM20 3h1v1h-1zM23 3h1v1h-1zM20 4h1v1h-1zM24 5h2v1h-2zM17 6h1v1h-1zM24 6h2v1h-2zM1 22h1v1h-1zM4 22h3v1h-3zM26 22h4v1h-4zM21 28h1v1h-1zM21 29h1v1h-1z"/><path fill="#ff5a00" d="M5 5h1v1h-1zM5 6h1v1h-1zM3 7h5v1h-5zM30 7h1v1h-1zM3 8h2v1h-2zM10 8h1v1h-1zM24 8h1v1h-1zM30 8h1v1h-1zM2 9h2v1h-2zM6 9h2v1h-2zM5 10h3v1h-3zM12 11h1v1h-1zM14 11h1v1h-1zM16 11h2v1h-2zM19 11h4v1h-4zM24 11h1v1h-1zM11 12h1v1h-1zM16 12h2v1h-2zM22 12h1v1h-1zM24 12h1v1h-1zM27 12h4v1h-4zM32 12h1v1h-1zM6 13h1v1h-1zM9 13h2v1h-2zM16 13h1v1h-1zM26 13h2v1h-2zM31 13h1v1h-1zM5 14h2v1h-2zM8 14h1v1h-1zM24 14h1v1h-1zM26 14h4v1h-4zM31 14h2v1h-2zM1 15h2v1h-2zM4 15h1v1h-1zM6 15h1v1h-1zM24 15h1v1h-1zM26 15h4v1h-4zM32 15h1v1h-1zM6 16h1v1h-1zM27 16h2v1h-2zM21 18h1v1h-1zM1 19h1v1h-1zM8 19h1v1h-1zM26 19h1v1h-1zM1 20h1v1h-1zM5 20h7v1h-7zM23 20h5v1h-5zM30 20h1v1h-1zM32 20h1v1h-1zM16 21h1v1h-1zM20 23h1v1h-1zM16 24h1v1h-1zM20 24h1v1h-1zM16 25h1v1h-1z"/><path fill="#ff8300" d="M4 6h1v1h-1zM15 11h1v1h-1zM18 11h1v1h-1zM23 11h1v1h-1zM12 12h4v1h-4zM18 12h1v1h-1zM20 12h2v1h-2zM23 12h1v1h-1zM11 13h5v1h-5zM17 13h2v1h-2zM22 13h4v1h-4zM29 13h2v1h-2zM32 13h1v1h-1zM7 14h1v1h-1zM9 14h1v1h-1zM11 14h3v1h-3zM22 14h2v1h-2zM30 14h1v1h-1zM3 15h1v1h-1zM5 15h1v1h-1zM7 15h2v1h-2zM23 15h1v1h-1zM25 15h1v1h-1zM30 15h2v1h-2zM1 16h5v1h-5zM7 16h2v1h-2zM24 16h1v1h-1zM26 16h1v1h-1zM29 16h4v1h-4zM3 17h1v1h-1zM5 17h4v1h-4zM26 17h7v1h-7zM1 18h1v1h-1zM5 18h4v1h-4zM22 18h1v1h-1zM26 18h7v1h-7zM2 19h1v1h-1zM4 19h2v1h-2zM7 19h1v1h-1zM9 19h1v1h-1zM23 19h1v1h-1zM25 19h1v1h-1zM27 19h2v1h-2zM30 19h3v1h-3zM2 20h3v1h-3zM21 20h1v1h-1zM28 20h2v1h-2zM17 21h1v1h-1z"/><path fill="#ffab00" d="M19 12h1v1h-1zM19 13h3v1h-3zM10 14h1v1h-1zM14 14h1v1h-1zM17 14h1v1h-1zM21 14h1v1h-1zM25 14h1v1h-1zM9 15h1v1h-1zM22 15h1v1h-1zM22 16h2v1h-2zM25 16h1v1h-1zM1 17h2v1h-2zM4 17h1v1h-1zM9 17h1v1h-1zM22 17h1v1h-1zM25 17h1v1h-1zM2 18h3v1h-3zM9 18h1v1h-1zM11 18h1v1h-1zM25 18h1v1h-1zM3 19h1v1h-1zM6 19h1v1h-1zM10 19h1v1h-1zM13 19h1v1h-1zM24 19h1v1h-1zM29 19h1v1h-1zM12 20h4v1h-4zM18 20h1v1h-1z"/><path fill="#ffd300" d="M15 14h2v1h-2zM18 14h3v1h-3zM10 15h8v1h-8zM19 15h3v1h-3zM9 16h3v1h-3zM15 16h3v1h-3zM19 16h3v1h-3zM10 17h2v1h-2zM15 17h2v1h-2zM19 17h1v1h-1zM23 17h2v1h-2zM10 18h1v1h-1zM16 18h1v1h-1zM23 18h2v1h-2zM14 19h3v1h-3zM21 19h1v1h-1zM16 20h2v1h-2zM19 20h2v1h-2z"/><path fill="#ffff00" d="M18 15h1v1h-1zM18 16h1v1h-1zM12 17h1v1h-1zM17 17h2v1h-2zM20 17h2v1h-2zM13 18h3v1h-3zM19 18h2v1h-2zM18 19h2v1h-2z"/><path fill="#ffff4a" d="M12 16h3v1h-3zM13 17h2v1h-2zM17 18h2v1h-2zM17 19h1v1h-1zM20 19h1v1h-1z"/><path fill="#540000" d="M2 23h4v1h-4zM7 23h3v1h-3zM26 23h2v1h-2zM5 24h1v1h-1zM9 24h2v1h-2zM23 24h1v1h-1zM27 24h2v1h-2zM9 25h1v1h-1zM12 25h1v1h-1zM21 25h3v1h-3zM27 25h1v1h-1zM4 26h3v1h-3zM9 26h1v1h-1zM21 27h1v1h-1zM25 27h2v1h-2zM7 28h2v1h-2zM23 28h6v1h-6zM6 29h4v1h-4zM23 29h3v1h-3z"/><path fill="#250000" d="M6 23h1v1h-1zM28 23h2v1h-2zM2 24h3v1h-3zM6 24h3v1h-3zM24 24h3v1h-3zM29 24h1v1h-1zM3 25h6v1h-6zM10 25h2v1h-2zM24 25h3v1h-3zM28 25h2v1h-2zM7 26h2v1h-2zM10 26h3v1h-3zM21 26h9v1h-9zM4 27h8v1h-8zM22 27h3v1h-3zM27 27h3v1h-3zM5 28h2v1h-2zM9 28h3v1h-3zM10 29h2v1h-2z"/><path fill="#830000" d="M10 23h1v1h-1zM25 23h1v1h-1zM30 23h2v1h-2zM11 24h2v1h-2zM30 24h2v1h-2zM20 25h1v1h-1zM30 25h1v1h-1zM22 28h1v1h-1zM22 29h1v1h-1zM26 29h1v1h-1z"/></g>
<use href="#Lco"/>
<g transform="translate(541,199) scale(5.45)" shape-rendering="crispEdges"><path fill="#ff3200" d="M13 1h1v1h-1zM17 1h1v1h-1zM19 1h1v1h-1zM24 1h1v1h-1zM12 2h2v1h-2zM18 2h1v1h-1zM12 3h1v1h-1zM17 3h1v1h-1zM29 3h1v1h-1zM16 4h2v1h-2zM28 4h1v1h-1zM32 4h1v1h-1zM18 5h1v1h-1zM33 5h1v1h-1zM14 6h3v1h-3zM18 6h3v1h-3zM35 6h1v1h-1zM12 7h1v1h-1zM15 7h2v1h-2zM21 7h1v1h-1zM35 7h2v1h-2zM12 8h1v1h-1zM14 8h2v1h-2zM17 8h2v1h-2zM21 8h2v1h-2zM24 8h1v1h-1zM36 8h2v1h-2zM11 9h4v1h-4zM18 9h1v1h-1zM20 9h2v1h-2zM23 9h2v1h-2zM30 9h1v1h-1zM36 9h1v1h-1zM38 9h1v1h-1zM11 10h14v1h-14zM27 10h7v1h-7zM38 10h2v1h-2zM12 11h1v1h-1zM14 11h10v1h-10zM26 11h3v1h-3zM30 11h4v1h-4zM12 12h1v1h-1zM14 12h1v1h-1zM16 12h1v1h-1zM19 12h10v1h-10zM30 12h4v1h-4zM40 12h1v1h-1zM13 13h2v1h-2zM18 13h6v1h-6zM26 13h1v1h-1zM28 13h2v1h-2zM31 13h1v1h-1zM40 13h1v1h-1zM20 14h2v1h-2zM26 14h4v1h-4zM31 14h1v1h-1zM24 15h1v1h-1zM30 15h2v1h-2zM41 15h1v1h-1zM30 16h4v1h-4zM41 16h1v1h-1zM29 17h3v1h-3zM15 19h2v1h-2zM18 19h1v1h-1zM14 20h5v1h-5zM24 20h1v1h-1zM13 21h7v1h-7zM21 21h4v1h-4zM30 21h1v1h-1zM13 22h1v1h-1zM18 22h3v1h-3zM22 22h6v1h-6zM29 22h1v1h-1zM10 23h2v1h-2zM13 23h1v1h-1zM22 23h1v1h-1zM24 23h2v1h-2zM31 23h1v1h-1zM13 24h1v1h-1zM31 24h1v1h-1zM17 25h1v1h-1zM18 26h1v1h-1z"/><path fill="#ff5a00" d="M14 1h1v1h-1zM16 1h1v1h-1zM18 1h1v1h-1zM11 2h1v1h-1zM9 3h1v1h-1zM11 3h1v1h-1zM11 4h3v1h-3zM12 5h2v1h-2zM15 5h3v1h-3zM12 6h2v1h-2zM17 6h1v1h-1zM11 7h1v1h-1zM13 7h2v1h-2zM17 7h4v1h-4zM11 8h1v1h-1zM13 8h1v1h-1zM19 8h2v1h-2zM19 9h1v1h-1zM22 9h1v1h-1zM37 9h1v1h-1zM34 10h4v1h-4zM11 11h1v1h-1zM13 11h1v1h-1zM34 11h4v1h-4zM39 11h1v1h-1zM11 12h1v1h-1zM13 12h1v1h-1zM15 12h1v1h-1zM34 12h6v1h-6zM12 13h1v1h-1zM15 13h2v1h-2zM27 13h1v1h-1zM32 13h8v1h-8zM17 14h3v1h-3zM22 14h2v1h-2zM32 14h2v1h-2zM35 14h2v1h-2zM38 14h4v1h-4zM21 15h3v1h-3zM25 15h2v1h-2zM32 15h2v1h-2zM35 15h3v1h-3zM39 15h2v1h-2zM22 16h4v1h-4zM29 16h1v1h-1zM34 16h1v1h-1zM26 17h3v1h-3zM32 17h2v1h-2zM27 18h2v1h-2zM19 19h1v1h-1zM21 19h1v1h-1zM13 20h1v1h-1zM19 20h5v1h-5zM20 21h1v1h-1zM25 21h5v1h-5zM40 21h1v1h-1zM8 22h1v1h-1zM30 22h2v1h-2zM12 23h1v1h-1zM32 23h1v1h-1zM32 24h1v1h-1z"/><path fill="#ff8300" d="M15 1h1v1h-1zM14 2h1v1h-1zM16 2h1v1h-1zM10 3h1v1h-1zM13 3h1v1h-1zM16 3h1v1h-1zM14 4h2v1h-2zM11 5h1v1h-1zM14 5h1v1h-1zM11 6h1v1h-1zM10 7h1v1h-1zM10 8h1v1h-1zM4 9h1v1h-1zM10 9h1v1h-1zM6 11h1v1h-1zM38 11h1v1h-1zM9 13h1v1h-1zM34 14h1v1h-1zM37 14h1v1h-1zM20 15h1v1h-1zM27 15h2v1h-2zM34 15h1v1h-1zM38 15h1v1h-1zM26 16h3v1h-3zM35 16h2v1h-2zM38 16h3v1h-3zM24 17h2v1h-2zM34 17h1v1h-1zM41 17h1v1h-1zM17 18h1v1h-1zM26 18h1v1h-1zM14 19h1v1h-1zM20 19h1v1h-1zM12 21h1v1h-1zM31 21h1v1h-1zM34 21h1v1h-1zM38 21h2v1h-2zM7 22h1v1h-1zM11 22h2v1h-2zM32 22h8v1h-8zM33 23h6v1h-6zM33 24h4v1h-4z"/><path fill="#ff0a00" d="M20 1h1v1h-1zM23 1h1v1h-1zM17 2h1v1h-1zM18 3h1v1h-1zM28 3h1v1h-1zM18 4h1v1h-1zM27 4h1v1h-1zM29 4h3v1h-3zM19 5h2v1h-2zM27 5h1v1h-1zM21 6h1v1h-1zM34 6h1v1h-1zM34 7h1v1h-1zM16 8h1v1h-1zM23 8h1v1h-1zM35 8h1v1h-1zM15 9h3v1h-3zM25 9h1v1h-1zM27 9h1v1h-1zM29 9h1v1h-1zM34 9h2v1h-2zM25 10h2v1h-2zM24 11h2v1h-2zM29 11h1v1h-1zM17 12h2v1h-2zM29 12h1v1h-1zM17 13h1v1h-1zM24 13h2v1h-2zM30 13h1v1h-1zM24 14h2v1h-2zM30 14h1v1h-1zM17 19h1v1h-1zM17 22h1v1h-1zM21 22h1v1h-1zM28 22h1v1h-1zM21 23h1v1h-1zM23 23h1v1h-1zM26 23h1v1h-1zM30 23h1v1h-1zM30 24h1v1h-1zM16 25h1v1h-1zM18 25h1v1h-1zM30 26h1v1h-1zM20 27h1v1h-1zM24 30h3v1h-3z"/><path fill="#e10000" d="M21 1h2v1h-2zM19 2h8v1h-8zM20 3h3v1h-3zM24 3h4v1h-4zM19 4h8v1h-8zM21 5h6v1h-6zM28 5h1v1h-1zM30 5h3v1h-3zM22 6h7v1h-7zM31 6h3v1h-3zM22 7h3v1h-3zM26 7h7v1h-7zM25 8h4v1h-4zM30 8h3v1h-3zM34 8h1v1h-1zM26 9h1v1h-1zM28 9h1v1h-1zM31 9h3v1h-3zM14 22h3v1h-3zM20 23h1v1h-1zM27 23h1v1h-1zM22 24h1v1h-1zM30 25h1v1h-1zM19 26h2v1h-2zM30 27h1v1h-1zM21 28h1v1h-1zM29 28h1v1h-1zM28 29h1v1h-1z"/><path fill="#ffff4a" d="M15 2h1v1h-1zM15 3h1v1h-1zM3 11h1v1h-1zM3 12h2v1h-2zM2 13h4v1h-4zM2 14h4v1h-4zM11 14h1v1h-1zM1 15h8v1h-8zM10 15h4v1h-4zM1 16h3v1h-3zM5 16h10v1h-10zM1 17h3v1h-3zM8 17h7v1h-7zM40 17h1v1h-1zM1 18h3v1h-3zM8 18h6v1h-6zM23 18h1v1h-1zM32 18h3v1h-3zM39 18h1v1h-1zM1 19h3v1h-3zM8 19h1v1h-1zM10 19h3v1h-3zM32 19h1v1h-1zM34 19h2v1h-2zM39 19h1v1h-1zM1 20h8v1h-8zM1 21h6v1h-6zM2 22h2v1h-2zM5 22h2v1h-2z"/><path fill="#b20000" d="M27 2h1v1h-1zM19 3h1v1h-1zM23 3h1v1h-1zM29 5h1v1h-1zM29 6h2v1h-2zM25 7h1v1h-1zM33 7h1v1h-1zM29 8h1v1h-1zM33 8h1v1h-1zM29 23h1v1h-1z"/><path fill="#ffab00" d="M14 3h1v1h-1zM8 4h3v1h-3zM7 5h4v1h-4zM8 6h3v1h-3zM5 7h1v1h-1zM7 7h3v1h-3zM5 8h5v1h-5zM5 9h5v1h-5zM4 10h7v1h-7zM5 11h1v1h-1zM7 11h4v1h-4zM6 12h5v1h-5zM7 13h2v1h-2zM10 13h1v1h-1zM8 14h1v1h-1zM37 16h1v1h-1zM12 20h1v1h-1zM25 20h1v1h-1zM9 21h3v1h-3zM32 21h2v1h-2zM35 21h3v1h-3zM9 22h2v1h-2z"/><path fill="#ffd300" d="M6 6h2v1h-2zM6 7h1v1h-1zM5 12h1v1h-1zM6 13h1v1h-1zM11 13h1v1h-1zM7 14h1v1h-1zM9 14h1v1h-1zM13 14h2v1h-2zM16 14h1v1h-1zM17 15h2v1h-2zM21 16h1v1h-1zM22 17h2v1h-2zM16 18h1v1h-1zM18 18h1v1h-1zM20 18h2v1h-2zM25 18h1v1h-1zM29 18h2v1h-2zM22 19h3v1h-3zM26 19h1v1h-1zM28 19h2v1h-2zM9 20h3v1h-3zM26 20h7v1h-7zM39 20h1v1h-1z"/><path fill="#ffff00" d="M4 11h1v1h-1zM6 14h1v1h-1zM10 14h1v1h-1zM12 14h1v1h-1zM15 14h1v1h-1zM9 15h1v1h-1zM14 15h3v1h-3zM19 15h1v1h-1zM29 15h1v1h-1zM15 16h6v1h-6zM15 17h7v1h-7zM35 17h5v1h-5zM14 18h2v1h-2zM19 18h1v1h-1zM22 18h1v1h-1zM24 18h1v1h-1zM31 18h1v1h-1zM41 18h1v1h-1zM9 19h1v1h-1zM13 19h1v1h-1zM25 19h1v1h-1zM27 19h1v1h-1zM30 19h2v1h-2zM33 20h6v1h-6zM40 20h1v1h-1zM7 21h2v1h-2zM4 22h1v1h-1z"/><path fill="#ffff99" d="M4 16h1v1h-1zM7 17h1v1h-1zM7 18h1v1h-1zM35 18h4v1h-4zM40 18h1v1h-1zM4 19h1v1h-1zM33 19h1v1h-1zM36 19h3v1h-3zM40 19h2v1h-2z"/><path fill="#ffffd6" d="M4 17h3v1h-3zM4 18h1v1h-1zM6 18h1v1h-1zM5 19h3v1h-3z"/><path fill="#830000" d="M14 23h1v1h-1zM19 23h1v1h-1zM28 23h1v1h-1zM14 24h1v1h-1zM16 24h2v1h-2zM23 24h4v1h-4zM29 24h1v1h-1zM19 25h1v1h-1zM22 25h1v1h-1zM25 25h2v1h-2zM25 26h1v1h-1zM29 26h1v1h-1zM21 27h1v1h-1zM25 27h2v1h-2zM29 27h1v1h-1zM25 28h1v1h-1zM27 28h2v1h-2zM25 29h1v1h-1zM27 29h1v1h-1z"/><path fill="#250000" d="M15 23h2v1h-2zM15 24h1v1h-1zM28 24h1v1h-1zM23 26h1v1h-1zM23 27h2v1h-2z"/><path fill="#540000" d="M17 23h2v1h-2zM18 24h4v1h-4zM27 24h1v1h-1zM20 25h2v1h-2zM23 25h2v1h-2zM27 25h3v1h-3zM21 26h2v1h-2zM24 26h1v1h-1zM26 26h3v1h-3zM22 27h1v1h-1zM27 27h2v1h-2zM22 28h3v1h-3zM26 28h1v1h-1zM23 29h2v1h-2zM26 29h1v1h-1z"/></g>
<use href="#Lsr"/>
<g transform="translate(780,181) scale(5.45)" shape-rendering="crispEdges"><path fill="#ff8300" d="M11 1h1v1h-1zM18 1h5v1h-5zM10 2h2v1h-2zM13 2h3v1h-3zM18 2h6v1h-6zM9 3h7v1h-7zM18 3h6v1h-6zM8 4h8v1h-8zM24 4h2v1h-2zM8 5h1v1h-1zM10 5h6v1h-6zM24 5h3v1h-3zM7 6h3v1h-3zM11 6h2v1h-2zM21 6h1v1h-1zM23 6h4v1h-4zM8 7h2v1h-2zM11 7h2v1h-2zM22 7h5v1h-5zM9 8h4v1h-4zM25 8h3v1h-3zM28 9h1v1h-1zM5 10h1v1h-1zM4 12h1v1h-1zM2 14h1v1h-1zM17 18h1v1h-1zM17 19h1v1h-1zM17 20h1v1h-1zM14 21h2v1h-2zM18 21h1v1h-1zM15 22h1v1h-1zM17 28h2v1h-2zM2 29h1v1h-1zM10 29h6v1h-6zM17 29h1v1h-1zM20 29h1v1h-1zM10 30h6v1h-6zM17 30h1v1h-1zM19 30h2v1h-2zM22 30h2v1h-2zM10 31h3v1h-3zM15 31h1v1h-1zM17 31h1v1h-1zM19 31h4v1h-4zM24 31h5v1h-5zM9 32h2v1h-2zM26 36h1v1h-1z"/><path fill="#ffd300" d="M12 1h1v1h-1zM14 1h1v1h-1zM6 5h1v1h-1zM27 7h1v1h-1zM28 8h1v1h-1zM2 13h1v1h-1zM19 21h1v1h-1zM2 30h1v1h-1zM30 30h2v1h-2zM3 31h1v1h-1zM29 31h2v1h-2zM3 32h1v1h-1zM15 32h1v1h-1zM17 32h3v1h-3zM21 32h4v1h-4zM29 32h1v1h-1zM4 33h1v1h-1zM9 33h7v1h-7zM17 33h2v1h-2zM21 33h4v1h-4zM28 33h2v1h-2zM5 34h1v1h-1zM9 34h1v1h-1zM11 34h5v1h-5zM17 34h5v1h-5zM23 34h5v1h-5zM5 35h1v1h-1zM9 35h4v1h-4zM15 35h1v1h-1zM18 35h3v1h-3zM24 35h2v1h-2zM27 35h1v1h-1zM11 36h3v1h-3zM17 36h2v1h-2zM25 36h1v1h-1zM27 36h1v1h-1zM10 37h1v1h-1zM25 37h1v1h-1zM9 38h1v1h-1z"/><path fill="#ffff00" d="M13 1h1v1h-1zM5 6h1v1h-1zM27 6h1v1h-1zM2 31h1v1h-1zM2 32h1v1h-1zM30 32h1v1h-1zM3 33h1v1h-1zM19 33h2v1h-2zM4 34h1v1h-1zM10 34h1v1h-1zM22 34h1v1h-1zM28 34h2v1h-2zM4 35h1v1h-1zM13 35h2v1h-2zM21 35h3v1h-3zM28 35h1v1h-1zM5 36h1v1h-1zM14 36h2v1h-2zM19 36h4v1h-4zM24 36h1v1h-1zM11 37h5v1h-5zM17 37h8v1h-8zM10 38h6v1h-6zM18 38h8v1h-8zM9 39h7v1h-7zM17 39h7v1h-7zM11 40h5v1h-5zM18 40h4v1h-4z"/><path fill="#ffab00" d="M15 1h1v1h-1zM9 2h1v1h-1zM12 2h1v1h-1zM24 3h1v1h-1zM21 4h3v1h-3zM7 5h1v1h-1zM9 5h1v1h-1zM21 5h3v1h-3zM6 6h1v1h-1zM22 6h1v1h-1zM5 7h1v1h-1zM4 8h1v1h-1zM4 9h1v1h-1zM3 10h2v1h-2zM3 11h2v1h-2zM3 12h1v1h-1zM3 13h1v1h-1zM18 29h2v1h-2zM18 30h1v1h-1zM18 31h1v1h-1zM23 31h1v1h-1zM11 32h4v1h-4zM20 32h1v1h-1zM25 32h3v1h-3zM8 33h1v1h-1zM25 33h3v1h-3zM8 34h1v1h-1zM8 35h1v1h-1zM17 35h1v1h-1zM26 35h1v1h-1zM6 36h1v1h-1zM10 36h1v1h-1z"/><path fill="#ff5a00" d="M17 1h1v1h-1zM17 2h1v1h-1zM8 3h1v1h-1zM17 3h1v1h-1zM7 4h1v1h-1zM18 4h3v1h-3zM10 6h1v1h-1zM13 6h1v1h-1zM10 7h1v1h-1zM13 7h1v1h-1zM13 8h1v1h-1zM5 9h1v1h-1zM13 9h1v1h-1zM26 9h2v1h-2zM5 11h1v1h-1zM4 13h1v1h-1zM3 14h1v1h-1zM14 15h2v1h-2zM14 16h2v1h-2zM13 17h3v1h-3zM13 18h2v1h-2zM18 18h1v1h-1zM14 19h2v1h-2zM14 20h2v1h-2zM18 20h1v1h-1zM13 21h1v1h-1zM17 21h1v1h-1zM14 22h1v1h-1zM19 22h1v1h-1zM15 23h1v1h-1zM20 23h1v1h-1zM15 24h1v1h-1zM7 27h1v1h-1zM2 28h1v1h-1zM10 28h1v1h-1zM19 28h5v1h-5zM25 28h2v1h-2zM5 29h1v1h-1zM9 29h1v1h-1zM21 29h3v1h-3zM3 30h3v1h-3zM8 30h1v1h-1zM21 30h1v1h-1zM25 30h1v1h-1zM28 30h2v1h-2zM4 31h2v1h-2zM9 31h1v1h-1zM13 31h2v1h-2zM4 32h5v1h-5zM28 32h1v1h-1zM5 33h1v1h-1zM7 33h1v1h-1zM6 35h1v1h-1zM7 36h1v1h-1zM9 36h1v1h-1zM9 37h1v1h-1zM26 37h1v1h-1z"/><path fill="#ff0a00" d="M17 4h1v1h-1zM18 5h2v1h-2zM14 6h2v1h-2zM20 6h1v1h-1zM14 7h2v1h-2zM17 7h1v1h-1zM19 7h2v1h-2zM6 8h2v1h-2zM14 8h2v1h-2zM17 8h4v1h-4zM22 8h2v1h-2zM6 9h3v1h-3zM15 9h1v1h-1zM17 9h4v1h-4zM24 9h2v1h-2zM6 10h1v1h-1zM8 10h1v1h-1zM10 10h6v1h-6zM17 10h1v1h-1zM19 10h3v1h-3zM23 10h2v1h-2zM26 10h1v1h-1zM28 10h2v1h-2zM8 11h6v1h-6zM15 11h1v1h-1zM18 11h1v1h-1zM20 11h3v1h-3zM24 11h1v1h-1zM27 11h1v1h-1zM29 11h1v1h-1zM5 12h1v1h-1zM15 12h1v1h-1zM18 12h1v1h-1zM20 12h2v1h-2zM27 12h1v1h-1zM30 12h1v1h-1zM13 13h2v1h-2zM17 13h2v1h-2zM27 13h4v1h-4zM14 14h1v1h-1zM17 14h1v1h-1zM27 14h3v1h-3zM17 15h3v1h-3zM29 15h1v1h-1zM17 16h1v1h-1zM19 16h1v1h-1zM30 17h2v1h-2zM31 18h1v1h-1zM19 20h1v1h-1zM30 20h1v1h-1zM31 21h2v1h-2zM17 22h1v1h-1zM21 22h3v1h-3zM32 22h1v1h-1zM17 23h3v1h-3zM21 23h1v1h-1zM31 23h2v1h-2zM11 24h3v1h-3zM18 24h1v1h-1zM21 24h2v1h-2zM31 24h2v1h-2zM10 25h4v1h-4zM15 25h1v1h-1zM17 25h1v1h-1zM19 25h4v1h-4zM31 25h1v1h-1zM2 26h3v1h-3zM9 26h5v1h-5zM15 26h1v1h-1zM17 26h7v1h-7zM30 26h2v1h-2zM2 27h1v1h-1zM9 27h1v1h-1zM12 27h4v1h-4zM17 27h3v1h-3zM22 27h2v1h-2zM27 27h1v1h-1zM29 27h3v1h-3zM1 28h1v1h-1zM4 28h2v1h-2zM28 28h2v1h-2zM31 28h1v1h-1zM1 29h1v1h-1zM6 33h1v1h-1zM6 34h1v1h-1z"/><path fill="#e10000" d="M17 5h1v1h-1zM17 6h3v1h-3zM18 7h1v1h-1zM21 9h3v1h-3zM7 10h1v1h-1zM22 10h1v1h-1zM25 10h1v1h-1zM6 11h2v1h-2zM14 11h1v1h-1zM19 11h1v1h-1zM23 11h1v1h-1zM25 11h2v1h-2zM28 11h1v1h-1zM11 12h4v1h-4zM19 12h1v1h-1zM22 12h1v1h-1zM28 12h2v1h-2zM11 13h2v1h-2zM19 13h3v1h-3zM12 14h2v1h-2zM18 14h2v1h-2zM12 15h1v1h-1zM27 15h2v1h-2zM12 16h1v1h-1zM28 16h2v1h-2zM12 17h1v1h-1zM30 18h1v1h-1zM30 19h1v1h-1zM20 21h1v1h-1zM30 21h1v1h-1zM12 22h1v1h-1zM30 22h2v1h-2zM11 23h1v1h-1zM22 23h2v1h-2zM10 24h1v1h-1zM17 24h1v1h-1zM9 25h1v1h-1zM32 25h1v1h-1zM1 26h1v1h-1zM5 26h4v1h-4zM24 26h3v1h-3zM1 27h1v1h-1zM28 27h1v1h-1z"/><path fill="#ff3200" d="M20 5h1v1h-1zM6 7h2v1h-2zM21 7h1v1h-1zM5 8h1v1h-1zM8 8h1v1h-1zM21 8h1v1h-1zM24 8h1v1h-1zM9 9h4v1h-4zM14 9h1v1h-1zM9 10h1v1h-1zM18 10h1v1h-1zM27 10h1v1h-1zM17 11h1v1h-1zM17 12h1v1h-1zM15 13h1v1h-1zM15 14h1v1h-1zM30 14h1v1h-1zM13 15h1v1h-1zM30 15h1v1h-1zM13 16h1v1h-1zM18 16h1v1h-1zM30 16h2v1h-2zM17 17h2v1h-2zM15 18h1v1h-1zM13 19h1v1h-1zM18 19h1v1h-1zM31 19h1v1h-1zM13 20h1v1h-1zM31 20h1v1h-1zM13 22h1v1h-1zM18 22h1v1h-1zM20 22h1v1h-1zM12 23h3v1h-3zM14 24h1v1h-1zM19 24h2v1h-2zM14 25h1v1h-1zM18 25h1v1h-1zM14 26h1v1h-1zM3 27h4v1h-4zM8 27h1v1h-1zM10 27h2v1h-2zM20 27h2v1h-2zM24 27h3v1h-3zM3 28h1v1h-1zM6 28h4v1h-4zM11 28h5v1h-5zM24 28h1v1h-1zM27 28h1v1h-1zM30 28h1v1h-1zM3 29h2v1h-2zM6 29h3v1h-3zM24 29h8v1h-8zM6 30h2v1h-2zM9 30h1v1h-1zM24 30h1v1h-1zM26 30h2v1h-2zM6 31h3v1h-3zM7 34h1v1h-1zM7 35h1v1h-1zM8 36h1v1h-1zM6 37h3v1h-3zM8 38h1v1h-1z"/><path fill="#250000" d="M6 12h1v1h-1zM6 13h5v1h-5zM5 14h6v1h-6zM22 14h1v1h-1zM5 15h2v1h-2zM9 15h3v1h-3zM22 15h1v1h-1zM25 15h1v1h-1zM4 16h2v1h-2zM8 16h4v1h-4zM25 16h1v1h-1zM7 17h5v1h-5zM23 17h3v1h-3zM7 18h5v1h-5zM20 18h2v1h-2zM25 18h2v1h-2zM7 19h2v1h-2zM24 19h3v1h-3zM29 19h1v1h-1zM4 20h1v1h-1zM6 20h4v1h-4zM23 20h5v1h-5zM29 20h1v1h-1zM6 21h3v1h-3zM10 21h2v1h-2zM25 21h3v1h-3zM5 22h3v1h-3zM10 22h1v1h-1zM27 22h1v1h-1zM3 23h1v1h-1zM7 23h1v1h-1zM7 25h1v1h-1zM24 25h1v1h-1zM28 25h1v1h-1z"/><path fill="#540000" d="M7 12h3v1h-3zM22 13h4v1h-4zM11 14h1v1h-1zM21 14h1v1h-1zM23 14h3v1h-3zM4 15h1v1h-1zM7 15h2v1h-2zM21 15h1v1h-1zM23 15h2v1h-2zM26 15h1v1h-1zM2 16h2v1h-2zM6 16h1v1h-1zM22 16h3v1h-3zM26 16h1v1h-1zM1 17h6v1h-6zM20 17h3v1h-3zM26 17h1v1h-1zM28 17h1v1h-1zM1 18h2v1h-2zM6 18h1v1h-1zM22 18h3v1h-3zM27 18h3v1h-3zM4 19h3v1h-3zM9 19h3v1h-3zM20 19h2v1h-2zM27 19h2v1h-2zM5 20h1v1h-1zM10 20h2v1h-2zM21 20h2v1h-2zM28 20h1v1h-1zM4 21h2v1h-2zM9 21h1v1h-1zM22 21h1v1h-1zM24 21h1v1h-1zM28 21h2v1h-2zM1 22h1v1h-1zM4 22h1v1h-1zM8 22h1v1h-1zM11 22h1v1h-1zM25 22h2v1h-2zM28 22h2v1h-2zM1 23h1v1h-1zM4 23h3v1h-3zM8 23h1v1h-1zM25 23h3v1h-3zM1 24h3v1h-3zM6 24h2v1h-2zM24 24h3v1h-3zM28 24h1v1h-1zM3 25h1v1h-1zM5 25h2v1h-2zM27 25h1v1h-1zM29 25h1v1h-1zM28 26h1v1h-1z"/><path fill="#830000" d="M10 12h1v1h-1zM23 12h1v1h-1zM25 12h2v1h-2zM26 13h1v1h-1zM4 14h1v1h-1zM20 14h1v1h-1zM26 14h1v1h-1zM2 15h2v1h-2zM20 15h1v1h-1zM7 16h1v1h-1zM20 16h2v1h-2zM27 16h1v1h-1zM19 17h1v1h-1zM27 17h1v1h-1zM29 17h1v1h-1zM3 18h3v1h-3zM19 18h1v1h-1zM1 19h3v1h-3zM12 19h1v1h-1zM22 19h2v1h-2zM2 20h2v1h-2zM12 20h1v1h-1zM20 20h1v1h-1zM1 21h3v1h-3zM12 21h1v1h-1zM21 21h1v1h-1zM23 21h1v1h-1zM2 22h2v1h-2zM9 22h1v1h-1zM24 22h1v1h-1zM2 23h1v1h-1zM9 23h2v1h-2zM28 23h2v1h-2zM4 24h2v1h-2zM8 24h2v1h-2zM23 24h1v1h-1zM27 24h1v1h-1zM29 24h2v1h-2zM1 25h2v1h-2zM4 25h1v1h-1zM8 25h1v1h-1zM23 25h1v1h-1zM25 25h2v1h-2zM30 25h1v1h-1zM27 26h1v1h-1z"/><path fill="#b20000" d="M24 12h1v1h-1zM5 13h1v1h-1zM1 16h1v1h-1zM12 18h1v1h-1zM19 19h1v1h-1zM1 20h1v1h-1zM24 23h1v1h-1zM30 23h1v1h-1zM29 26h1v1h-1z"/><path fill="#ffff4a" d="M23 36h1v1h-1zM17 38h1v1h-1z"/></g>
<use href="#Lax"/>
<text class="dv" x="367.5" y="217.2" font-size="15.5">L</text>
<text class="dv" x="507.3" y="217.2" font-size="15.5">R</text>
<text class="dv" x="797" y="202.6" font-size="15.5">L</text>
<text class="dv" x="934.4" y="202.6" font-size="15.5">R</text>
<rect x="1021" y="179.5" width="13.8" height="231" fill="url(#hot)" stroke="#111" stroke-width="1.4"/>
<text class="dvc" x="1010.8" y="184.8" font-size="14.6" text-anchor="end">0.032</text>
<text class="dvc" x="1010.8" y="242.6" font-size="14.6" text-anchor="end">0.024</text>
<text class="dvc" x="1010.8" y="300.3" font-size="14.6" text-anchor="end">0.016</text>
<text class="dvc" x="1010.8" y="358.1" font-size="14.6" text-anchor="end">0.0081</text>
<text class="dvc" x="1010.8" y="415.8" font-size="14.6" text-anchor="end">0</text>
</g>
<g transform="matrix(1.0165,0,0,1.015,-16.9,1485)">
<g transform="translate(112,199) scale(5.45)" shape-rendering="crispEdges"><path fill="#ff0018" d="M18 1h8v1h-8zM27 1h3v1h-3zM15 2h17v1h-17zM12 3h22v1h-22zM10 4h25v1h-25zM8 5h28v1h-28zM7 6h30v1h-30zM6 7h3v1h-3zM14 7h23v1h-23zM5 8h4v1h-4zM14 8h24v1h-24zM4 9h5v1h-5zM14 9h25v1h-25zM3 10h36v1h-36zM2 11h38v1h-38zM2 12h38v1h-38zM1 13h40v1h-40zM1 14h40v1h-40zM1 15h40v1h-40zM1 16h34v1h-34zM36 16h6v1h-6zM1 17h41v1h-41zM1 18h35v1h-35zM38 18h4v1h-4zM1 19h3v1h-3zM7 19h16v1h-16zM28 19h8v1h-8zM37 19h4v1h-4zM2 20h1v1h-1zM9 20h1v1h-1zM12 20h8v1h-8zM28 20h13v1h-13zM14 21h6v1h-6zM30 21h1v1h-1zM32 21h2v1h-2zM35 21h6v1h-6zM14 22h4v1h-4zM36 22h4v1h-4zM16 23h1v1h-1zM16 24h1v1h-1z"/><path fill="#ff0000" d="M9 7h5v1h-5zM9 8h5v1h-5zM9 9h5v1h-5z"/><path fill="#ff0090" d="M35 16h1v1h-1zM36 18h2v1h-2zM41 19h1v1h-1zM41 20h1v1h-1z"/><path fill="#00ffff" d="M4 19h3v1h-3zM23 19h5v1h-5zM36 19h1v1h-1zM3 20h6v1h-6zM10 20h2v1h-2zM21 20h7v1h-7zM2 21h12v1h-12zM20 21h10v1h-10zM31 21h1v1h-1zM34 21h1v1h-1zM3 22h11v1h-11zM18 22h18v1h-18zM4 23h12v1h-12zM17 23h1v1h-1zM19 23h13v1h-13zM6 24h10v1h-10zM17 24h12v1h-12zM12 25h15v1h-15zM12 26h13v1h-13zM12 27h11v1h-11zM12 28h9v1h-9zM13 29h7v1h-7zM16 30h2v1h-2z"/><path fill="#00a0ff" d="M20 20h1v1h-1zM18 23h1v1h-1z"/></g>
<use href="#Lsl"/>
<g transform="translate(351,198) scale(5.45)" shape-rendering="crispEdges"><path fill="#ff0018" d="M11 1h12v1h-12zM9 2h16v1h-16zM7 3h20v1h-20zM6 4h22v1h-22zM5 5h24v1h-24zM4 6h26v1h-26zM3 7h28v1h-28zM3 8h28v1h-28zM2 9h30v1h-30zM2 10h30v1h-30zM1 11h31v1h-31zM1 12h32v1h-32zM1 13h32v1h-32zM1 14h32v1h-32zM1 15h32v1h-32zM1 16h32v1h-32zM1 17h32v1h-32zM1 18h32v1h-32zM1 19h32v1h-32zM2 20h13v1h-13zM16 20h6v1h-6zM23 20h8v1h-8zM3 21h12v1h-12zM16 21h6v1h-6zM23 21h3v1h-3zM27 21h3v1h-3zM4 22h1v1h-1zM7 22h8v1h-8zM22 22h3v1h-3zM27 22h3v1h-3zM6 24h1v1h-1zM27 24h1v1h-1zM26 25h1v1h-1z"/><path fill="#00ffff" d="M1 20h1v1h-1zM31 20h2v1h-2zM1 21h2v1h-2zM26 21h1v1h-1zM30 21h3v1h-3zM1 22h3v1h-3zM5 22h2v1h-2zM15 22h7v1h-7zM25 22h2v1h-2zM30 22h2v1h-2zM2 23h6v1h-6zM9 23h14v1h-14zM24 23h8v1h-8zM2 24h4v1h-4zM7 24h20v1h-20zM28 24h4v1h-4zM3 25h10v1h-10zM16 25h2v1h-2zM20 25h6v1h-6zM27 25h4v1h-4zM4 26h9v1h-9zM21 26h9v1h-9zM4 27h8v1h-8zM21 27h9v1h-9zM5 28h7v1h-7zM21 28h8v1h-8zM5 29h7v1h-7zM21 29h8v1h-8z"/><path fill="#ff0090" d="M15 20h1v1h-1zM15 21h1v1h-1z"/><path fill="#00a0ff" d="M22 20h1v1h-1zM22 21h1v1h-1zM8 23h1v1h-1zM23 23h1v1h-1z"/></g>
<use href="#Lco"/>
<g transform="translate(541,199) scale(5.45)" shape-rendering="crispEdges"><path fill="#ff0018" d="M13 1h12v1h-12zM11 2h4v1h-4zM16 2h12v1h-12zM9 3h6v1h-6zM16 3h14v1h-14zM8 4h25v1h-25zM7 5h27v1h-27zM6 6h30v1h-30zM5 7h32v1h-32zM5 8h33v1h-33zM4 9h35v1h-35zM4 10h36v1h-36zM3 11h37v1h-37zM3 12h38v1h-38zM2 13h39v1h-39zM2 14h40v1h-40zM1 15h28v1h-28zM30 15h12v1h-12zM1 16h41v1h-41zM1 17h1v1h-1zM8 17h34v1h-34zM8 18h27v1h-27zM7 19h5v1h-5zM13 19h2v1h-2zM16 19h1v1h-1zM18 19h17v1h-17zM6 20h9v1h-9zM19 20h1v1h-1zM21 20h9v1h-9zM31 20h3v1h-3zM3 21h5v1h-5zM22 21h7v1h-7zM2 22h6v1h-6zM23 22h5v1h-5zM10 23h3v1h-3zM25 23h2v1h-2zM13 24h3v1h-3zM26 24h1v1h-1zM16 25h2v1h-2zM26 25h1v1h-1zM18 26h1v1h-1z"/><path fill="#ff0048" d="M2 17h6v1h-6zM1 18h7v1h-7zM35 18h7v1h-7zM1 19h6v1h-6zM35 19h7v1h-7zM1 20h5v1h-5zM1 21h2v1h-2z"/><path fill="#00ffff" d="M12 19h1v1h-1zM15 19h1v1h-1zM17 19h1v1h-1zM15 20h4v1h-4zM20 20h1v1h-1zM30 20h1v1h-1zM34 20h7v1h-7zM9 21h2v1h-2zM13 21h9v1h-9zM29 21h12v1h-12zM8 22h10v1h-10zM20 22h3v1h-3zM28 22h12v1h-12zM13 23h5v1h-5zM20 23h5v1h-5zM27 23h12v1h-12zM16 24h10v1h-10zM27 24h10v1h-10zM18 25h8v1h-8zM27 25h4v1h-4zM19 26h12v1h-12zM20 27h11v1h-11zM21 28h9v1h-9zM23 29h6v1h-6zM24 30h3v1h-3z"/><path fill="#0030ff" d="M8 21h1v1h-1z"/><path fill="#00a0ff" d="M11 21h2v1h-2zM18 22h2v1h-2zM18 23h2v1h-2z"/></g>
<use href="#Lsr"/>
<g transform="translate(780,181) scale(5.45)" shape-rendering="crispEdges"><path fill="#ff0018" d="M11 1h5v1h-5zM17 1h6v1h-6zM9 2h7v1h-7zM17 2h7v1h-7zM9 3h7v1h-7zM17 3h8v1h-8zM7 4h9v1h-9zM17 4h9v1h-9zM6 5h10v1h-10zM17 5h9v1h-9zM5 6h11v1h-11zM17 6h11v1h-11zM5 7h11v1h-11zM17 7h11v1h-11zM4 8h12v1h-12zM17 8h12v1h-12zM4 9h12v1h-12zM17 9h12v1h-12zM3 10h13v1h-13zM17 10h13v1h-13zM3 11h13v1h-13zM17 11h13v1h-13zM3 12h13v1h-13zM17 12h14v1h-14zM2 13h14v1h-14zM17 13h14v1h-14zM2 14h14v1h-14zM17 14h14v1h-14zM2 15h14v1h-14zM17 15h14v1h-14zM1 16h15v1h-15zM17 16h15v1h-15zM1 17h15v1h-15zM17 17h15v1h-15zM1 18h11v1h-11zM13 18h3v1h-3zM17 18h2v1h-2zM20 18h12v1h-12zM1 19h15v1h-15zM17 19h15v1h-15zM1 20h15v1h-15zM17 20h15v1h-15zM1 21h10v1h-10zM12 21h4v1h-4zM17 21h2v1h-2zM20 21h13v1h-13zM1 22h15v1h-15zM17 22h16v1h-16zM1 23h15v1h-15zM17 23h16v1h-16zM1 24h9v1h-9zM11 24h5v1h-5zM17 24h16v1h-16zM1 25h15v1h-15zM17 25h16v1h-16zM1 26h15v1h-15zM17 26h15v1h-15zM1 27h15v1h-15zM17 27h14v1h-14zM1 28h15v1h-15zM17 28h15v1h-15zM1 29h15v1h-15zM17 29h15v1h-15zM2 30h14v1h-14zM17 30h15v1h-15zM2 31h14v1h-14zM17 31h14v1h-14zM2 32h14v1h-14zM17 32h14v1h-14zM3 33h13v1h-13zM17 33h13v1h-13zM4 34h12v1h-12zM17 34h13v1h-13zM5 35h11v1h-11zM17 35h12v1h-12zM5 36h11v1h-11zM17 36h11v1h-11zM6 37h10v1h-10zM17 37h10v1h-10zM8 38h8v1h-8zM17 38h9v1h-9zM9 39h7v1h-7zM17 39h7v1h-7zM11 40h5v1h-5zM18 40h4v1h-4z"/><path fill="#00ffff" d="M8 3h1v1h-1zM26 5h1v1h-1zM12 18h1v1h-1zM19 18h1v1h-1zM11 21h1v1h-1zM10 24h1v1h-1zM31 27h1v1h-1zM4 35h1v1h-1z"/></g>
<use href="#Lax"/>
<text class="dv" x="367.5" y="217.2" font-size="15.5">L</text>
<text class="dv" x="507.3" y="217.2" font-size="15.5">R</text>
<text class="dv" x="797" y="202.6" font-size="15.5">L</text>
<text class="dv" x="934.4" y="202.6" font-size="15.5">R</text>
<rect x="1021" y="179.5" width="13.8" height="231" fill="url(#hsv)" stroke="#111" stroke-width="1.4"/>
<text class="dvc" x="1010.8" y="184.8" font-size="14.6" text-anchor="end">3.1</text>
<text class="dvc" x="1010.8" y="242.6" font-size="14.6" text-anchor="end">1.6</text>
<text class="dvc" x="1010.8" y="300.3" font-size="14.6" text-anchor="end">0</text>
<text class="dvc" x="1010.8" y="358.1" font-size="14.6" text-anchor="end">-1.6</text>
<text class="dvc" x="1010.8" y="415.8" font-size="14.6" text-anchor="end">-3.1</text>
</g>
<g transform="matrix(1,0,0,1,0,1787.7)">
<g transform="translate(112,199) scale(5.45)" shape-rendering="crispEdges"><path fill="#ff3200" d="M18 1h2v1h-2zM22 1h1v1h-1zM24 2h3v1h-3zM19 3h1v1h-1zM24 3h3v1h-3zM30 3h1v1h-1zM14 4h2v1h-2zM24 4h3v1h-3zM20 5h1v1h-1zM19 8h1v1h-1zM21 8h6v1h-6zM23 9h3v1h-3zM26 18h1v1h-1zM2 19h1v1h-1zM4 19h1v1h-1zM10 19h1v1h-1zM4 20h2v1h-2zM7 20h1v1h-1zM9 20h1v1h-1zM11 20h1v1h-1zM24 20h1v1h-1zM14 21h2v1h-2zM3 22h1v1h-1zM13 22h1v1h-1zM5 23h1v1h-1zM12 24h1v1h-1z"/><path fill="#ff5a00" d="M20 1h2v1h-2zM23 1h4v1h-4zM16 2h4v1h-4zM21 2h3v1h-3zM27 2h1v1h-1zM14 3h3v1h-3zM18 3h1v1h-1zM20 3h3v1h-3zM27 3h3v1h-3zM31 3h1v1h-1zM16 4h5v1h-5zM27 4h1v1h-1zM30 4h2v1h-2zM14 5h6v1h-6zM21 5h1v1h-1zM23 5h2v1h-2zM26 5h3v1h-3zM14 6h6v1h-6zM25 6h1v1h-1zM14 7h1v1h-1zM16 7h2v1h-2zM19 7h1v1h-1zM22 7h2v1h-2zM16 8h1v1h-1zM20 8h1v1h-1zM20 9h3v1h-3zM26 9h1v1h-1zM5 19h1v1h-1zM6 20h1v1h-1zM8 20h1v1h-1zM15 20h1v1h-1zM27 21h1v1h-1zM27 24h1v1h-1zM12 27h1v1h-1zM16 29h1v1h-1z"/><path fill="#ff8300" d="M27 1h1v1h-1zM15 2h1v1h-1zM20 2h1v1h-1zM28 2h4v1h-4zM17 3h1v1h-1zM23 3h1v1h-1zM32 3h2v1h-2zM13 4h1v1h-1zM21 4h1v1h-1zM23 4h1v1h-1zM28 4h2v1h-2zM32 4h3v1h-3zM22 5h1v1h-1zM25 5h1v1h-1zM29 5h4v1h-4zM20 6h5v1h-5zM26 6h8v1h-8zM15 7h1v1h-1zM18 7h1v1h-1zM20 7h1v1h-1zM24 7h9v1h-9zM15 8h1v1h-1zM17 8h2v1h-2zM27 8h1v1h-1zM29 8h4v1h-4zM27 9h5v1h-5zM24 10h7v1h-7zM27 11h1v1h-1zM36 11h1v1h-1zM34 12h3v1h-3zM3 18h1v1h-1zM9 19h1v1h-1zM12 20h1v1h-1zM29 20h1v1h-1zM29 21h3v1h-3zM28 22h1v1h-1zM28 23h1v1h-1zM24 25h3v1h-3zM23 26h1v1h-1zM22 27h1v1h-1zM14 29h2v1h-2zM16 30h1v1h-1z"/><path fill="#ffd300" d="M28 1h2v1h-2zM12 3h1v1h-1zM10 4h3v1h-3zM8 5h5v1h-5zM7 6h6v1h-6zM36 6h1v1h-1zM6 7h1v1h-1zM8 7h2v1h-2zM12 7h1v1h-1zM8 8h1v1h-1zM10 8h3v1h-3zM37 8h1v1h-1zM4 9h1v1h-1zM8 9h7v1h-7zM16 9h3v1h-3zM35 9h1v1h-1zM37 9h2v1h-2zM3 10h2v1h-2zM8 10h9v1h-9zM18 10h5v1h-5zM32 10h1v1h-1zM2 11h2v1h-2zM8 11h7v1h-7zM16 11h6v1h-6zM24 11h2v1h-2zM28 11h5v1h-5zM9 12h1v1h-1zM11 12h3v1h-3zM15 12h1v1h-1zM17 12h2v1h-2zM20 12h2v1h-2zM23 12h3v1h-3zM27 12h7v1h-7zM38 12h2v1h-2zM8 13h6v1h-6zM15 13h2v1h-2zM20 13h2v1h-2zM24 13h2v1h-2zM27 13h7v1h-7zM38 13h3v1h-3zM8 14h3v1h-3zM15 14h1v1h-1zM17 14h2v1h-2zM21 14h11v1h-11zM35 14h1v1h-1zM38 14h3v1h-3zM8 15h1v1h-1zM15 15h1v1h-1zM20 15h2v1h-2zM23 15h1v1h-1zM31 15h1v1h-1zM38 15h1v1h-1zM8 16h1v1h-1zM15 16h1v1h-1zM19 16h2v1h-2zM17 17h1v1h-1zM1 18h2v1h-2zM24 18h2v1h-2zM28 18h1v1h-1zM12 19h1v1h-1zM20 19h3v1h-3zM25 19h3v1h-3zM31 19h1v1h-1zM27 20h1v1h-1zM32 20h1v1h-1zM33 21h1v1h-1zM33 22h3v1h-3zM29 23h1v1h-1zM28 24h1v1h-1zM24 26h1v1h-1zM12 28h1v1h-1zM13 29h1v1h-1z"/><path fill="#ffab00" d="M13 3h1v1h-1zM22 4h1v1h-1zM13 5h1v1h-1zM33 5h3v1h-3zM13 6h1v1h-1zM34 6h2v1h-2zM7 7h1v1h-1zM13 7h1v1h-1zM21 7h1v1h-1zM33 7h4v1h-4zM9 8h1v1h-1zM13 8h2v1h-2zM28 8h1v1h-1zM33 8h4v1h-4zM15 9h1v1h-1zM19 9h1v1h-1zM32 9h3v1h-3zM36 9h1v1h-1zM23 10h1v1h-1zM31 10h1v1h-1zM33 10h6v1h-6zM15 11h1v1h-1zM22 11h2v1h-2zM26 11h1v1h-1zM33 11h3v1h-3zM37 11h3v1h-3zM16 12h1v1h-1zM19 12h1v1h-1zM22 12h1v1h-1zM26 12h1v1h-1zM37 12h1v1h-1zM17 13h3v1h-3zM22 13h2v1h-2zM26 13h1v1h-1zM34 13h4v1h-4zM16 14h1v1h-1zM19 14h2v1h-2zM36 14h2v1h-2zM16 15h4v1h-4zM36 15h2v1h-2zM16 16h3v1h-3zM27 18h1v1h-1zM1 19h1v1h-1zM11 19h1v1h-1zM23 19h2v1h-2zM28 19h3v1h-3zM13 20h2v1h-2zM25 20h2v1h-2zM28 20h1v1h-1zM30 20h2v1h-2zM28 21h1v1h-1zM32 21h1v1h-1zM29 22h4v1h-4zM30 23h2v1h-2zM13 28h1v1h-1z"/><path fill="#ffff00" d="M10 7h2v1h-2zM5 8h3v1h-3zM5 9h1v1h-1zM5 10h1v1h-1zM17 10h1v1h-1zM2 12h1v1h-1zM8 12h1v1h-1zM10 12h1v1h-1zM14 12h1v1h-1zM1 13h1v1h-1zM7 13h1v1h-1zM7 14h1v1h-1zM11 14h1v1h-1zM32 14h1v1h-1zM34 14h1v1h-1zM7 15h1v1h-1zM9 15h1v1h-1zM22 15h1v1h-1zM24 15h2v1h-2zM30 15h1v1h-1zM32 15h1v1h-1zM35 15h1v1h-1zM7 16h1v1h-1zM21 16h1v1h-1zM1 17h1v1h-1zM16 17h1v1h-1zM18 17h1v1h-1zM26 17h2v1h-2zM4 18h2v1h-2zM10 18h1v1h-1zM23 18h1v1h-1zM29 18h2v1h-2zM6 19h3v1h-3zM13 19h7v1h-7zM34 21h1v1h-1zM39 22h1v1h-1z"/><path fill="#ffff4a" d="M6 9h2v1h-2zM6 10h2v1h-2zM4 11h4v1h-4zM3 12h1v1h-1zM7 12h1v1h-1zM14 13h1v1h-1zM1 14h1v1h-1zM12 14h3v1h-3zM33 14h1v1h-1zM10 15h5v1h-5zM26 15h4v1h-4zM33 15h2v1h-2zM39 15h2v1h-2zM1 16h1v1h-1zM6 16h1v1h-1zM9 16h6v1h-6zM22 16h20v1h-20zM2 17h14v1h-14zM19 17h7v1h-7zM28 17h7v1h-7zM39 17h3v1h-3zM6 18h4v1h-4zM11 18h12v1h-12zM31 18h4v1h-4zM32 19h4v1h-4zM33 20h3v1h-3zM35 21h6v1h-6zM36 22h3v1h-3z"/><path fill="#ffff99" d="M4 12h3v1h-3zM2 13h5v1h-5zM2 14h5v1h-5zM1 15h6v1h-6zM2 16h4v1h-4zM35 17h4v1h-4zM35 18h7v1h-7zM36 19h6v1h-6zM36 20h6v1h-6z"/><path fill="#ff0a00" d="M3 19h1v1h-1zM2 20h1v1h-1zM10 20h1v1h-1zM16 20h4v1h-4zM21 20h2v1h-2zM2 21h5v1h-5zM8 21h1v1h-1zM12 21h2v1h-2zM16 21h2v1h-2zM26 21h1v1h-1zM5 22h1v1h-1zM12 22h1v1h-1zM14 22h2v1h-2zM4 23h1v1h-1zM6 23h1v1h-1zM6 24h1v1h-1zM11 24h1v1h-1z"/><path fill="#e10000" d="M3 20h1v1h-1zM20 20h1v1h-1zM23 20h1v1h-1zM7 21h1v1h-1zM9 21h1v1h-1zM18 21h1v1h-1zM25 21h1v1h-1zM4 22h1v1h-1zM6 22h3v1h-3zM12 23h2v1h-2zM7 24h2v1h-2z"/><path fill="#b20000" d="M10 21h2v1h-2zM24 21h1v1h-1zM9 22h1v1h-1zM11 22h1v1h-1zM7 23h3v1h-3zM11 23h1v1h-1zM14 23h1v1h-1zM9 24h2v1h-2zM20 24h1v1h-1zM26 24h1v1h-1zM23 25h1v1h-1zM19 27h1v1h-1zM21 27h1v1h-1zM19 28h1v1h-1zM19 29h1v1h-1zM17 30h1v1h-1z"/><path fill="#830000" d="M19 21h1v1h-1zM21 21h3v1h-3zM10 22h1v1h-1zM16 22h1v1h-1zM18 22h1v1h-1zM21 22h2v1h-2zM26 22h2v1h-2zM10 23h1v1h-1zM15 23h1v1h-1zM20 23h2v1h-2zM27 23h1v1h-1zM24 24h2v1h-2zM19 26h1v1h-1zM22 26h1v1h-1zM13 27h1v1h-1zM14 28h1v1h-1zM20 28h1v1h-1zM17 29h2v1h-2z"/><path fill="#540000" d="M20 21h1v1h-1zM17 22h1v1h-1zM19 22h2v1h-2zM23 22h2v1h-2zM16 23h1v1h-1zM19 23h1v1h-1zM22 23h1v1h-1zM24 23h3v1h-3zM13 24h1v1h-1zM19 24h1v1h-1zM23 24h1v1h-1zM12 25h3v1h-3zM20 25h1v1h-1zM12 26h1v1h-1zM20 26h1v1h-1zM18 27h1v1h-1zM20 27h1v1h-1zM18 28h1v1h-1z"/><path fill="#250000" d="M25 22h1v1h-1zM17 23h2v1h-2zM23 23h1v1h-1zM14 24h5v1h-5zM21 24h2v1h-2zM15 25h5v1h-5zM21 25h2v1h-2zM13 26h6v1h-6zM21 26h1v1h-1zM14 27h4v1h-4zM15 28h3v1h-3z"/></g>
<use href="#Lsl"/>
<g transform="translate(351,198) scale(5.45)" shape-rendering="crispEdges"><path fill="#ff8300" d="M11 1h2v1h-2zM23 2h2v1h-2zM11 3h1v1h-1zM19 3h1v1h-1zM22 3h1v1h-1zM25 3h2v1h-2zM11 4h2v1h-2zM21 4h2v1h-2zM26 4h1v1h-1zM8 5h1v1h-1zM10 5h1v1h-1zM28 5h1v1h-1zM4 6h1v1h-1zM9 6h1v1h-1zM23 6h1v1h-1zM26 6h1v1h-1zM29 6h1v1h-1zM4 7h2v1h-2zM7 7h1v1h-1zM9 7h1v1h-1zM25 7h2v1h-2zM29 7h1v1h-1zM3 8h3v1h-3zM7 8h3v1h-3zM23 8h1v1h-1zM29 8h2v1h-2zM2 9h1v1h-1zM4 9h1v1h-1zM6 9h4v1h-4zM17 9h3v1h-3zM21 9h1v1h-1zM23 9h1v1h-1zM26 9h1v1h-1zM29 9h3v1h-3zM3 10h5v1h-5zM9 10h2v1h-2zM12 10h4v1h-4zM24 10h8v1h-8zM3 11h5v1h-5zM17 11h1v1h-1zM25 11h2v1h-2zM28 11h1v1h-1zM31 11h1v1h-1zM1 12h6v1h-6zM26 12h1v1h-1zM28 12h1v1h-1zM30 12h3v1h-3zM2 13h1v1h-1zM4 13h1v1h-1zM28 13h4v1h-4zM7 14h1v1h-1zM1 15h1v1h-1zM2 16h1v1h-1zM5 17h1v1h-1zM7 17h3v1h-3zM24 17h4v1h-4zM29 17h4v1h-4zM6 18h1v1h-1zM11 18h1v1h-1zM26 18h1v1h-1zM31 18h2v1h-2zM14 19h3v1h-3zM18 19h3v1h-3zM20 21h1v1h-1zM19 22h1v1h-1zM18 23h2v1h-2zM19 24h1v1h-1zM28 29h1v1h-1z"/><path fill="#ff5a00" d="M13 1h10v1h-10zM9 2h1v1h-1zM11 2h12v1h-12zM7 3h4v1h-4zM12 3h1v1h-1zM15 3h4v1h-4zM20 3h2v1h-2zM23 3h2v1h-2zM6 4h5v1h-5zM15 4h6v1h-6zM23 4h3v1h-3zM27 4h1v1h-1zM5 5h3v1h-3zM9 5h1v1h-1zM11 5h17v1h-17zM5 6h4v1h-4zM10 6h11v1h-11zM22 6h1v1h-1zM24 6h2v1h-2zM27 6h2v1h-2zM3 7h1v1h-1zM6 7h1v1h-1zM8 7h1v1h-1zM10 7h15v1h-15zM27 7h2v1h-2zM30 7h1v1h-1zM6 8h1v1h-1zM10 8h1v1h-1zM14 8h9v1h-9zM24 8h3v1h-3zM5 9h1v1h-1zM10 9h3v1h-3zM14 9h3v1h-3zM20 9h1v1h-1zM22 9h1v1h-1zM24 9h2v1h-2zM27 9h2v1h-2zM2 10h1v1h-1zM1 11h2v1h-2zM27 11h1v1h-1zM6 17h1v1h-1zM28 17h1v1h-1zM7 18h1v1h-1zM10 18h1v1h-1zM22 18h4v1h-4zM27 18h4v1h-4zM6 19h1v1h-1zM17 19h1v1h-1zM24 19h4v1h-4zM29 19h1v1h-1zM31 19h2v1h-2zM17 21h3v1h-3zM17 22h1v1h-1zM17 23h1v1h-1zM17 24h2v1h-2zM4 27h1v1h-1z"/><path fill="#ff3200" d="M10 2h1v1h-1zM13 3h2v1h-2zM13 4h2v1h-2zM21 6h1v1h-1zM11 8h3v1h-3zM27 8h2v1h-2zM13 9h1v1h-1zM8 18h1v1h-1zM7 19h2v1h-2zM10 19h1v1h-1zM13 19h1v1h-1zM21 19h1v1h-1zM23 19h1v1h-1zM28 19h1v1h-1zM30 19h1v1h-1zM5 20h1v1h-1zM8 20h1v1h-1zM18 20h3v1h-3zM22 20h1v1h-1zM26 20h2v1h-2zM29 20h3v1h-3zM21 21h1v1h-1zM28 21h2v1h-2zM31 21h2v1h-2zM20 22h1v1h-1zM31 22h1v1h-1zM16 23h1v1h-1zM15 24h2v1h-2zM16 25h2v1h-2zM27 29h1v1h-1z"/><path fill="#ffab00" d="M3 9h1v1h-1zM8 10h1v1h-1zM11 10h1v1h-1zM16 10h8v1h-8zM8 11h7v1h-7zM18 11h7v1h-7zM29 11h2v1h-2zM7 12h1v1h-1zM9 12h1v1h-1zM22 12h4v1h-4zM27 12h1v1h-1zM29 12h1v1h-1zM1 13h1v1h-1zM3 13h1v1h-1zM5 13h5v1h-5zM23 13h5v1h-5zM32 13h1v1h-1zM1 14h6v1h-6zM8 14h1v1h-1zM23 14h2v1h-2zM26 14h5v1h-5zM32 14h1v1h-1zM2 15h7v1h-7zM24 15h1v1h-1zM26 15h2v1h-2zM29 15h4v1h-4zM1 16h1v1h-1zM3 16h7v1h-7zM23 16h2v1h-2zM26 16h7v1h-7zM2 17h3v1h-3zM23 17h1v1h-1zM5 18h1v1h-1zM13 18h1v1h-1zM20 18h1v1h-1zM1 19h5v1h-5zM18 22h1v1h-1z"/><path fill="#ffd300" d="M15 11h2v1h-2zM8 12h1v1h-1zM10 12h2v1h-2zM16 12h4v1h-4zM21 12h1v1h-1zM10 13h1v1h-1zM22 13h1v1h-1zM9 14h2v1h-2zM18 14h1v1h-1zM25 14h1v1h-1zM31 14h1v1h-1zM13 15h1v1h-1zM23 15h1v1h-1zM25 15h1v1h-1zM28 15h1v1h-1zM25 16h1v1h-1zM1 17h1v1h-1zM10 17h1v1h-1zM21 17h2v1h-2zM1 18h4v1h-4z"/><path fill="#ffff00" d="M12 12h4v1h-4zM20 12h1v1h-1zM11 13h4v1h-4zM16 13h6v1h-6zM11 14h7v1h-7zM19 14h4v1h-4zM9 15h4v1h-4zM14 15h2v1h-2zM17 15h6v1h-6zM10 16h3v1h-3zM21 16h2v1h-2zM11 17h2v1h-2zM14 18h6v1h-6z"/><path fill="#ffff4a" d="M15 13h1v1h-1zM16 15h1v1h-1zM13 16h1v1h-1zM20 16h1v1h-1zM13 17h1v1h-1zM20 17h1v1h-1z"/><path fill="#ffff99" d="M14 16h6v1h-6zM14 17h6v1h-6z"/><path fill="#ff0a00" d="M9 18h1v1h-1zM12 18h1v1h-1zM21 18h1v1h-1zM9 19h1v1h-1zM22 19h1v1h-1zM1 20h1v1h-1zM3 20h2v1h-2zM6 20h2v1h-2zM9 20h1v1h-1zM12 20h1v1h-1zM14 20h4v1h-4zM21 20h1v1h-1zM23 20h3v1h-3zM28 20h1v1h-1zM32 20h1v1h-1zM26 21h2v1h-2zM30 21h1v1h-1zM15 22h2v1h-2zM29 22h2v1h-2zM15 23h1v1h-1zM14 24h1v1h-1zM20 24h1v1h-1zM5 27h1v1h-1zM28 28h1v1h-1zM5 29h1v1h-1zM11 29h1v1h-1z"/><path fill="#b20000" d="M11 19h2v1h-2zM1 21h6v1h-6zM9 21h1v1h-1zM11 21h1v1h-1zM23 21h3v1h-3zM28 22h1v1h-1zM14 23h1v1h-1zM20 23h1v1h-1zM24 28h1v1h-1zM25 29h2v1h-2z"/><path fill="#e10000" d="M2 20h1v1h-1zM10 20h2v1h-2zM13 20h1v1h-1zM7 21h2v1h-2zM12 21h5v1h-5zM22 21h1v1h-1zM14 22h1v1h-1z"/><path fill="#830000" d="M10 21h1v1h-1zM13 22h1v1h-1zM21 22h7v1h-7zM22 23h2v1h-2zM31 23h1v1h-1zM4 26h1v1h-1zM5 28h2v1h-2zM23 28h1v1h-1zM25 28h3v1h-3zM8 29h1v1h-1zM10 29h1v1h-1zM21 29h1v1h-1z"/><path fill="#250000" d="M1 22h1v1h-1zM3 22h1v1h-1zM5 22h2v1h-2zM9 22h1v1h-1zM3 23h1v1h-1zM7 23h3v1h-3zM12 23h1v1h-1zM25 23h3v1h-3zM2 24h2v1h-2zM6 24h4v1h-4zM12 24h1v1h-1zM21 24h2v1h-2zM25 24h3v1h-3zM29 24h3v1h-3zM3 25h6v1h-6zM10 25h2v1h-2zM21 25h1v1h-1zM24 25h7v1h-7zM5 26h8v1h-8zM21 26h1v1h-1zM23 26h3v1h-3zM27 26h3v1h-3zM7 27h5v1h-5zM21 27h2v1h-2zM25 27h1v1h-1zM27 27h3v1h-3zM9 28h3v1h-3zM23 29h1v1h-1z"/><path fill="#540000" d="M2 22h1v1h-1zM4 22h1v1h-1zM7 22h2v1h-2zM10 22h3v1h-3zM2 23h1v1h-1zM4 23h3v1h-3zM10 23h2v1h-2zM13 23h1v1h-1zM21 23h1v1h-1zM24 23h1v1h-1zM28 23h3v1h-3zM4 24h2v1h-2zM10 24h2v1h-2zM13 24h1v1h-1zM23 24h2v1h-2zM28 24h1v1h-1zM9 25h1v1h-1zM12 25h1v1h-1zM20 25h1v1h-1zM22 25h2v1h-2zM22 26h1v1h-1zM26 26h1v1h-1zM6 27h1v1h-1zM23 27h2v1h-2zM26 27h1v1h-1zM7 28h2v1h-2zM21 28h2v1h-2zM6 29h2v1h-2zM9 29h1v1h-1zM22 29h1v1h-1zM24 29h1v1h-1z"/></g>
<use href="#Lco"/>
<g transform="translate(541,199) scale(5.45)" shape-rendering="crispEdges"><path fill="#ffab00" d="M13 1h3v1h-3zM24 1h1v1h-1zM11 2h1v1h-1zM14 2h1v1h-1zM16 2h1v1h-1zM11 3h2v1h-2zM14 3h1v1h-1zM29 3h1v1h-1zM9 4h2v1h-2zM15 4h1v1h-1zM31 4h2v1h-2zM10 5h1v1h-1zM13 5h2v1h-2zM32 5h2v1h-2zM10 6h1v1h-1zM32 6h2v1h-2zM10 7h3v1h-3zM31 7h2v1h-2zM36 7h1v1h-1zM10 8h4v1h-4zM30 8h3v1h-3zM37 8h1v1h-1zM4 9h1v1h-1zM9 9h1v1h-1zM12 9h4v1h-4zM28 9h6v1h-6zM4 10h3v1h-3zM8 10h2v1h-2zM11 10h9v1h-9zM28 10h6v1h-6zM39 10h1v1h-1zM4 11h7v1h-7zM13 11h8v1h-8zM27 11h8v1h-8zM6 12h6v1h-6zM13 12h4v1h-4zM19 12h3v1h-3zM27 12h3v1h-3zM31 12h2v1h-2zM35 12h1v1h-1zM8 13h3v1h-3zM16 13h3v1h-3zM20 13h3v1h-3zM25 13h4v1h-4zM30 13h2v1h-2zM18 14h4v1h-4zM23 14h6v1h-6zM30 14h1v1h-1zM32 14h2v1h-2zM22 15h1v1h-1zM24 15h4v1h-4zM31 15h1v1h-1zM33 15h1v1h-1zM24 16h5v1h-5zM34 16h1v1h-1zM24 17h3v1h-3zM17 18h1v1h-1zM15 19h1v1h-1zM18 19h3v1h-3zM32 19h2v1h-2zM40 19h1v1h-1zM13 20h3v1h-3zM29 20h1v1h-1z"/><path fill="#ff8300" d="M16 1h1v1h-1zM20 1h1v1h-1zM23 1h1v1h-1zM12 2h2v1h-2zM17 2h4v1h-4zM27 2h1v1h-1zM13 3h1v1h-1zM16 3h1v1h-1zM18 3h3v1h-3zM25 3h1v1h-1zM11 4h4v1h-4zM17 4h2v1h-2zM11 5h2v1h-2zM15 5h1v1h-1zM25 5h1v1h-1zM30 5h2v1h-2zM11 6h3v1h-3zM25 6h4v1h-4zM31 6h1v1h-1zM13 7h1v1h-1zM27 7h2v1h-2zM30 7h1v1h-1zM20 8h1v1h-1zM28 8h2v1h-2zM16 9h1v1h-1zM20 9h1v1h-1zM24 9h1v1h-1zM27 9h1v1h-1zM7 10h1v1h-1zM20 10h1v1h-1zM25 10h3v1h-3zM11 11h2v1h-2zM21 11h1v1h-1zM26 11h1v1h-1zM12 12h1v1h-1zM17 12h2v1h-2zM22 12h1v1h-1zM24 12h1v1h-1zM26 12h1v1h-1zM30 12h1v1h-1zM33 12h2v1h-2zM24 13h1v1h-1zM32 13h2v1h-2zM16 18h1v1h-1zM36 18h2v1h-2zM16 19h2v1h-2zM34 19h1v1h-1zM16 20h1v1h-1zM40 20h1v1h-1zM30 25h1v1h-1zM18 26h1v1h-1zM30 26h1v1h-1zM30 27h1v1h-1zM21 28h1v1h-1z"/><path fill="#ff5a00" d="M17 1h3v1h-3zM21 1h2v1h-2zM21 2h6v1h-6zM17 3h1v1h-1zM21 3h1v1h-1zM23 3h2v1h-2zM26 3h3v1h-3zM16 4h1v1h-1zM20 4h11v1h-11zM16 5h3v1h-3zM20 5h5v1h-5zM26 5h4v1h-4zM14 6h3v1h-3zM18 6h5v1h-5zM24 6h1v1h-1zM29 6h2v1h-2zM14 7h2v1h-2zM19 7h4v1h-4zM26 7h1v1h-1zM29 7h1v1h-1zM14 8h6v1h-6zM21 8h7v1h-7zM17 9h3v1h-3zM21 9h1v1h-1zM23 9h1v1h-1zM25 9h2v1h-2zM21 10h2v1h-2zM24 10h1v1h-1zM22 11h4v1h-4zM23 12h1v1h-1zM25 12h1v1h-1zM23 13h1v1h-1zM15 18h1v1h-1zM38 18h2v1h-2zM37 19h1v1h-1zM23 20h2v1h-2zM27 21h1v1h-1zM40 21h1v1h-1zM19 22h2v1h-2zM12 23h1v1h-1zM30 24h1v1h-1zM16 25h2v1h-2zM19 26h2v1h-2zM20 27h1v1h-1zM26 30h1v1h-1z"/><path fill="#ffff4a" d="M15 2h1v1h-1zM15 3h1v1h-1zM35 9h3v1h-3zM35 10h3v1h-3zM36 11h3v1h-3zM3 12h1v1h-1zM36 12h1v1h-1zM2 13h4v1h-4zM36 13h1v1h-1zM2 14h6v1h-6zM9 14h1v1h-1zM11 14h4v1h-4zM16 14h1v1h-1zM35 14h1v1h-1zM1 15h17v1h-17zM29 15h1v1h-1zM35 15h2v1h-2zM1 16h14v1h-14zM16 16h5v1h-5zM32 16h1v1h-1zM35 16h2v1h-2zM1 17h2v1h-2zM8 17h1v1h-1zM10 17h5v1h-5zM18 17h5v1h-5zM31 17h4v1h-4zM1 18h2v1h-2zM10 18h4v1h-4zM19 18h6v1h-6zM29 18h4v1h-4zM40 18h1v1h-1zM1 19h2v1h-2zM10 19h2v1h-2zM13 19h1v1h-1zM25 19h1v1h-1zM27 19h2v1h-2zM1 20h7v1h-7zM9 20h3v1h-3zM1 21h11v1h-11zM2 22h10v1h-10z"/><path fill="#ffd300" d="M9 3h2v1h-2zM8 4h1v1h-1zM7 5h3v1h-3zM7 6h3v1h-3zM34 6h2v1h-2zM5 7h1v1h-1zM7 7h3v1h-3zM33 7h1v1h-1zM35 7h1v1h-1zM5 8h5v1h-5zM33 8h1v1h-1zM36 8h1v1h-1zM5 9h4v1h-4zM10 9h2v1h-2zM34 9h1v1h-1zM38 9h1v1h-1zM10 10h1v1h-1zM34 10h1v1h-1zM38 10h1v1h-1zM3 11h1v1h-1zM35 11h1v1h-1zM39 11h1v1h-1zM5 12h1v1h-1zM40 12h1v1h-1zM6 13h2v1h-2zM11 13h1v1h-1zM15 13h1v1h-1zM19 13h1v1h-1zM29 13h1v1h-1zM34 13h1v1h-1zM22 14h1v1h-1zM29 14h1v1h-1zM31 14h1v1h-1zM20 15h2v1h-2zM23 15h1v1h-1zM28 15h1v1h-1zM30 15h1v1h-1zM32 15h1v1h-1zM34 15h1v1h-1zM22 16h2v1h-2zM29 16h2v1h-2zM27 17h3v1h-3zM18 18h1v1h-1zM26 18h2v1h-2zM35 18h1v1h-1zM14 19h1v1h-1zM21 19h1v1h-1zM25 20h1v1h-1zM12 22h1v1h-1zM10 23h2v1h-2z"/><path fill="#ff3200" d="M22 3h1v1h-1zM19 4h1v1h-1zM19 5h1v1h-1zM17 6h1v1h-1zM23 6h1v1h-1zM16 7h3v1h-3zM23 7h3v1h-3zM22 9h1v1h-1zM23 10h1v1h-1zM38 19h1v1h-1zM19 20h4v1h-4zM30 20h1v1h-1zM13 21h3v1h-3zM26 21h1v1h-1zM18 22h1v1h-1zM20 23h1v1h-1zM30 23h1v1h-1zM13 24h1v1h-1zM22 28h1v1h-1zM29 28h1v1h-1zM28 29h1v1h-1z"/><path fill="#ffff00" d="M6 6h1v1h-1zM6 7h1v1h-1zM34 7h1v1h-1zM34 8h2v1h-2zM4 12h1v1h-1zM12 13h3v1h-3zM35 13h1v1h-1zM8 14h1v1h-1zM10 14h1v1h-1zM15 14h1v1h-1zM17 14h1v1h-1zM34 14h1v1h-1zM41 14h1v1h-1zM18 15h2v1h-2zM15 16h1v1h-1zM21 16h1v1h-1zM31 16h1v1h-1zM33 16h1v1h-1zM15 17h3v1h-3zM23 17h1v1h-1zM30 17h1v1h-1zM14 18h1v1h-1zM25 18h1v1h-1zM28 18h1v1h-1zM33 18h2v1h-2zM22 19h3v1h-3zM26 19h1v1h-1zM29 19h3v1h-3zM12 20h1v1h-1zM26 20h3v1h-3zM12 21h1v1h-1z"/><path fill="#ffffd6" d="M37 12h2v1h-2zM37 13h3v1h-3zM37 14h3v1h-3zM37 15h4v1h-4zM37 16h5v1h-5zM40 17h2v1h-2zM41 18h1v1h-1z"/><path fill="#ffff99" d="M39 12h1v1h-1zM40 13h1v1h-1zM36 14h1v1h-1zM40 14h1v1h-1zM41 15h1v1h-1zM3 17h5v1h-5zM9 17h1v1h-1zM35 17h5v1h-5zM3 18h7v1h-7zM3 19h7v1h-7zM12 19h1v1h-1zM41 19h1v1h-1zM8 20h1v1h-1z"/><path fill="#ff0a00" d="M35 19h2v1h-2zM39 19h1v1h-1zM17 20h2v1h-2zM31 20h4v1h-4zM37 20h3v1h-3zM16 21h10v1h-10zM28 21h2v1h-2zM37 21h1v1h-1zM13 22h1v1h-1zM27 22h1v1h-1zM29 22h2v1h-2zM32 22h1v1h-1zM21 23h1v1h-1zM34 24h1v1h-1z"/><path fill="#e10000" d="M35 20h2v1h-2zM30 21h1v1h-1zM32 21h2v1h-2zM35 21h2v1h-2zM38 21h2v1h-2zM14 22h1v1h-1zM17 22h1v1h-1zM28 22h1v1h-1zM31 22h1v1h-1zM33 22h7v1h-7zM31 23h2v1h-2zM36 23h1v1h-1zM38 23h1v1h-1zM31 24h1v1h-1zM33 24h1v1h-1zM35 24h1v1h-1z"/><path fill="#b20000" d="M31 21h1v1h-1zM34 21h1v1h-1zM15 22h1v1h-1zM21 22h1v1h-1zM23 22h2v1h-2zM26 22h1v1h-1zM22 23h1v1h-1zM28 23h2v1h-2zM33 23h3v1h-3zM37 23h1v1h-1zM29 24h1v1h-1zM32 24h1v1h-1zM36 24h1v1h-1zM18 25h1v1h-1zM27 25h1v1h-1zM25 26h1v1h-1zM29 26h1v1h-1zM21 27h1v1h-1zM29 27h1v1h-1zM23 28h1v1h-1zM23 29h1v1h-1zM26 29h1v1h-1zM25 30h1v1h-1z"/><path fill="#830000" d="M16 22h1v1h-1zM22 22h1v1h-1zM25 22h1v1h-1zM13 23h2v1h-2zM19 23h1v1h-1zM23 23h1v1h-1zM26 23h2v1h-2zM14 24h1v1h-1zM17 24h1v1h-1zM22 24h1v1h-1zM25 24h4v1h-4zM19 25h2v1h-2zM25 25h2v1h-2zM28 25h2v1h-2zM21 26h1v1h-1zM26 26h1v1h-1zM28 26h1v1h-1zM22 27h1v1h-1zM25 27h2v1h-2zM28 27h1v1h-1zM24 28h3v1h-3zM28 28h1v1h-1zM24 29h2v1h-2zM27 29h1v1h-1z"/><path fill="#540000" d="M15 23h4v1h-4zM24 23h2v1h-2zM16 24h1v1h-1zM19 24h3v1h-3zM23 24h1v1h-1zM21 25h2v1h-2zM22 26h1v1h-1zM24 26h1v1h-1zM27 26h1v1h-1zM23 27h2v1h-2zM27 27h1v1h-1zM27 28h1v1h-1zM24 30h1v1h-1z"/><path fill="#250000" d="M15 24h1v1h-1zM18 24h1v1h-1zM24 24h1v1h-1zM23 25h2v1h-2zM23 26h1v1h-1z"/></g>
<use href="#Lsr"/>
<g transform="translate(780,181) scale(5.45)" shape-rendering="crispEdges"><path fill="#ffd300" d="M11 1h1v1h-1zM12 2h3v1h-3zM4 8h1v1h-1zM28 8h1v1h-1zM8 9h1v1h-1zM8 10h1v1h-1zM5 11h1v1h-1zM29 12h1v1h-1zM4 13h1v1h-1zM2 14h2v1h-2zM30 15h1v1h-1zM19 21h1v1h-1zM6 27h1v1h-1zM10 27h3v1h-3zM3 28h13v1h-13zM17 28h2v1h-2zM21 28h1v1h-1zM23 28h3v1h-3zM29 28h1v1h-1zM31 28h1v1h-1zM1 29h9v1h-9zM11 29h1v1h-1zM13 29h3v1h-3zM18 29h1v1h-1zM21 29h1v1h-1zM23 29h9v1h-9zM2 30h11v1h-11zM14 30h2v1h-2zM17 30h6v1h-6zM25 30h3v1h-3zM29 30h3v1h-3zM2 31h9v1h-9zM17 31h5v1h-5zM25 31h6v1h-6zM2 32h1v1h-1zM5 32h6v1h-6zM17 32h7v1h-7zM26 32h3v1h-3zM5 33h5v1h-5zM17 33h2v1h-2zM22 33h2v1h-2zM25 33h3v1h-3zM9 34h2v1h-2zM23 34h2v1h-2zM29 34h1v1h-1zM22 35h1v1h-1zM5 36h2v1h-2z"/><path fill="#ffff4a" d="M12 1h3v1h-3zM17 1h3v1h-3zM3 11h1v1h-1zM15 37h1v1h-1zM12 39h2v1h-2zM19 39h1v1h-1zM14 40h1v1h-1z"/><path fill="#ffab00" d="M15 1h1v1h-1zM20 1h1v1h-1zM9 2h3v1h-3zM15 2h1v1h-1zM10 3h3v1h-3zM14 3h2v1h-2zM10 4h6v1h-6zM9 5h2v1h-2zM12 5h1v1h-1zM9 6h4v1h-4zM9 7h1v1h-1zM8 8h1v1h-1zM7 9h1v1h-1zM5 10h3v1h-3zM28 12h1v1h-1zM28 13h2v1h-2zM28 14h3v1h-3zM28 15h2v1h-2zM28 16h4v1h-4zM29 17h2v1h-2zM30 18h2v1h-2zM31 19h1v1h-1zM31 20h1v1h-1zM32 21h1v1h-1zM19 22h1v1h-1zM32 22h1v1h-1zM9 23h1v1h-1zM20 23h3v1h-3zM32 23h1v1h-1zM9 24h3v1h-3zM20 24h3v1h-3zM32 24h1v1h-1zM9 25h3v1h-3zM19 25h4v1h-4zM31 25h2v1h-2zM6 26h7v1h-7zM19 26h1v1h-1zM21 26h4v1h-4zM30 26h2v1h-2zM1 27h2v1h-2zM4 27h2v1h-2zM7 27h3v1h-3zM13 27h3v1h-3zM17 27h10v1h-10zM30 27h2v1h-2zM22 28h1v1h-1zM27 28h2v1h-2zM30 28h1v1h-1zM12 29h1v1h-1zM22 29h1v1h-1zM23 30h2v1h-2zM28 30h1v1h-1zM11 31h4v1h-4zM22 31h3v1h-3zM11 32h1v1h-1zM24 32h2v1h-2zM30 32h1v1h-1zM10 33h2v1h-2zM24 33h1v1h-1zM8 34h1v1h-1zM11 34h3v1h-3zM17 34h2v1h-2zM22 34h1v1h-1zM14 35h1v1h-1zM17 35h2v1h-2zM20 35h2v1h-2z"/><path fill="#ff8300" d="M21 1h2v1h-2zM9 3h1v1h-1zM13 3h1v1h-1zM9 4h1v1h-1zM8 5h1v1h-1zM11 5h1v1h-1zM13 5h1v1h-1zM8 6h1v1h-1zM8 7h1v1h-1zM10 7h3v1h-3zM9 8h1v1h-1zM6 9h1v1h-1zM9 9h1v1h-1zM9 10h1v1h-1zM27 10h1v1h-1zM6 11h1v1h-1zM8 11h1v1h-1zM27 11h1v1h-1zM5 12h1v1h-1zM27 12h1v1h-1zM27 13h1v1h-1zM4 14h1v1h-1zM12 14h3v1h-3zM17 14h1v1h-1zM12 15h2v1h-2zM27 15h1v1h-1zM12 16h1v1h-1zM23 16h1v1h-1zM12 17h2v1h-2zM17 17h1v1h-1zM28 17h1v1h-1zM31 17h1v1h-1zM17 18h1v1h-1zM29 18h1v1h-1zM30 19h1v1h-1zM18 21h1v1h-1zM31 21h1v1h-1zM13 22h1v1h-1zM20 22h3v1h-3zM31 22h1v1h-1zM10 23h1v1h-1zM18 23h1v1h-1zM31 24h1v1h-1zM8 25h1v1h-1zM23 25h1v1h-1zM1 26h5v1h-5zM17 26h2v1h-2zM20 26h1v1h-1zM25 26h1v1h-1zM3 27h1v1h-1zM29 27h1v1h-1zM15 31h1v1h-1zM12 32h3v1h-3zM12 33h3v1h-3zM19 33h3v1h-3zM14 34h2v1h-2zM19 34h3v1h-3zM15 35h1v1h-1zM19 35h1v1h-1z"/><path fill="#ff3200" d="M17 2h1v1h-1zM19 2h5v1h-5zM8 3h1v1h-1zM18 3h4v1h-4zM23 3h1v1h-1zM8 4h1v1h-1zM20 4h1v1h-1zM14 5h2v1h-2zM19 5h3v1h-3zM7 6h1v1h-1zM13 6h1v1h-1zM18 6h2v1h-2zM23 7h1v1h-1zM7 8h1v1h-1zM18 8h1v1h-1zM26 8h1v1h-1zM24 10h1v1h-1zM26 10h1v1h-1zM10 11h1v1h-1zM22 11h1v1h-1zM11 13h1v1h-1zM17 13h2v1h-2zM20 13h1v1h-1zM5 14h1v1h-1zM26 15h1v1h-1zM14 16h2v1h-2zM18 16h2v1h-2zM22 16h1v1h-1zM27 16h1v1h-1zM18 17h1v1h-1zM18 18h1v1h-1zM15 19h1v1h-1zM18 19h1v1h-1zM13 20h1v1h-1zM17 20h1v1h-1zM19 20h1v1h-1zM30 21h1v1h-1zM8 22h1v1h-1zM23 22h1v1h-1zM12 23h2v1h-2zM12 24h1v1h-1zM26 26h1v1h-1z"/><path fill="#ff5a00" d="M18 2h1v1h-1zM22 3h1v1h-1zM21 4h2v1h-2zM5 9h1v1h-1zM27 9h1v1h-1zM7 11h1v1h-1zM9 11h1v1h-1zM22 12h1v1h-1zM5 13h1v1h-1zM12 13h1v1h-1zM21 13h1v1h-1zM15 14h1v1h-1zM18 14h3v1h-3zM27 14h1v1h-1zM14 15h2v1h-2zM17 15h3v1h-3zM13 16h1v1h-1zM17 16h1v1h-1zM24 16h1v1h-1zM14 17h2v1h-2zM23 17h2v1h-2zM12 18h4v1h-4zM28 18h1v1h-1zM13 19h2v1h-2zM17 19h1v1h-1zM14 20h2v1h-2zM18 20h1v1h-1zM30 20h1v1h-1zM13 21h3v1h-3zM17 21h1v1h-1zM9 22h1v1h-1zM12 22h1v1h-1zM14 22h2v1h-2zM17 22h2v1h-2zM8 23h1v1h-1zM11 23h1v1h-1zM14 23h2v1h-2zM17 23h1v1h-1zM19 23h1v1h-1zM23 23h1v1h-1zM31 23h1v1h-1zM8 24h1v1h-1zM13 24h3v1h-3zM17 24h3v1h-3zM12 25h4v1h-4zM17 25h2v1h-2zM24 25h1v1h-1zM30 25h1v1h-1zM13 26h3v1h-3zM29 26h1v1h-1zM15 32h1v1h-1zM15 33h1v1h-1z"/><path fill="#ff0a00" d="M17 3h1v1h-1zM24 3h1v1h-1zM7 4h1v1h-1zM18 4h2v1h-2zM23 4h3v1h-3zM6 5h2v1h-2zM18 5h1v1h-1zM22 5h5v1h-5zM5 6h2v1h-2zM14 6h1v1h-1zM17 6h1v1h-1zM20 6h8v1h-8zM7 7h1v1h-1zM13 7h1v1h-1zM17 7h3v1h-3zM21 7h2v1h-2zM24 7h4v1h-4zM5 8h2v1h-2zM10 8h1v1h-1zM17 8h1v1h-1zM19 8h2v1h-2zM27 8h1v1h-1zM17 9h5v1h-5zM25 9h2v1h-2zM17 10h7v1h-7zM25 10h1v1h-1zM17 11h5v1h-5zM24 11h3v1h-3zM17 12h5v1h-5zM13 13h1v1h-1zM19 13h1v1h-1zM2 15h2v1h-2zM11 17h1v1h-1zM12 21h1v1h-1zM24 23h1v1h-1z"/><path fill="#e10000" d="M17 4h1v1h-1zM17 5h1v1h-1zM15 6h1v1h-1zM5 7h2v1h-2zM14 7h2v1h-2zM20 7h1v1h-1zM11 8h4v1h-4zM21 8h5v1h-5zM14 9h1v1h-1zM22 9h3v1h-3zM15 10h1v1h-1zM23 11h1v1h-1zM12 12h2v1h-2zM26 12h1v1h-1zM14 13h1v1h-1zM22 13h1v1h-1zM26 13h1v1h-1zM21 14h1v1h-1zM26 14h1v1h-1zM22 15h1v1h-1zM25 15h1v1h-1zM1 16h2v1h-2zM1 17h1v1h-1zM11 21h1v1h-1zM10 22h2v1h-2zM23 24h1v1h-1z"/><path fill="#b20000" d="M15 8h1v1h-1zM10 9h4v1h-4zM15 9h1v1h-1zM10 10h1v1h-1zM12 10h3v1h-3zM11 11h4v1h-4zM11 12h1v1h-1zM23 12h3v1h-3zM15 13h1v1h-1zM23 13h3v1h-3zM25 14h1v1h-1zM20 15h2v1h-2zM23 15h2v1h-2zM3 16h1v1h-1zM2 17h1v1h-1zM11 18h1v1h-1zM11 19h2v1h-2zM10 20h3v1h-3zM10 21h1v1h-1zM26 22h2v1h-2zM26 23h2v1h-2z"/><path fill="#ffff00" d="M4 9h1v1h-1zM28 9h1v1h-1zM3 10h2v1h-2zM28 10h2v1h-2zM4 11h1v1h-1zM28 11h2v1h-2zM3 12h2v1h-2zM30 12h1v1h-1zM2 13h2v1h-2zM30 13h1v1h-1zM1 28h2v1h-2zM19 28h2v1h-2zM26 28h1v1h-1zM10 29h1v1h-1zM17 29h1v1h-1zM19 29h2v1h-2zM13 30h1v1h-1zM3 32h2v1h-2zM29 32h1v1h-1zM3 33h2v1h-2zM28 33h2v1h-2zM4 34h4v1h-4zM25 34h4v1h-4zM4 35h10v1h-10zM23 35h6v1h-6zM7 36h9v1h-9zM17 36h11v1h-11zM6 37h9v1h-9zM17 37h10v1h-10zM8 38h8v1h-8zM17 38h9v1h-9zM9 39h3v1h-3zM14 39h2v1h-2zM17 39h2v1h-2zM20 39h4v1h-4zM11 40h3v1h-3zM15 40h1v1h-1zM18 40h4v1h-4z"/><path fill="#830000" d="M11 10h1v1h-1zM15 11h1v1h-1zM6 12h1v1h-1zM14 12h2v1h-2zM10 13h1v1h-1zM22 14h3v1h-3zM4 15h1v1h-1zM11 16h1v1h-1zM21 16h1v1h-1zM25 16h1v1h-1zM4 17h1v1h-1zM22 17h1v1h-1zM27 17h1v1h-1zM1 18h2v1h-2zM4 18h1v1h-1zM10 19h1v1h-1zM29 19h1v1h-1zM20 21h1v1h-1zM1 22h2v1h-2zM24 22h1v1h-1zM30 22h1v1h-1zM1 23h2v1h-2zM28 23h1v1h-1zM24 24h1v1h-1zM30 24h1v1h-1zM1 25h7v1h-7zM25 25h1v1h-1zM29 25h1v1h-1zM27 27h2v1h-2z"/><path fill="#540000" d="M7 12h4v1h-4zM6 13h1v1h-1zM9 13h1v1h-1zM6 14h2v1h-2zM11 14h1v1h-1zM5 15h1v1h-1zM11 15h1v1h-1zM4 16h1v1h-1zM8 16h2v1h-2zM20 16h1v1h-1zM26 16h1v1h-1zM3 17h1v1h-1zM5 17h1v1h-1zM8 17h1v1h-1zM19 17h1v1h-1zM25 17h1v1h-1zM3 18h1v1h-1zM5 18h4v1h-4zM23 18h2v1h-2zM27 18h1v1h-1zM1 19h4v1h-4zM8 19h2v1h-2zM19 19h1v1h-1zM24 19h1v1h-1zM28 19h1v1h-1zM1 20h4v1h-4zM9 20h1v1h-1zM23 20h2v1h-2zM29 20h1v1h-1zM1 21h3v1h-3zM8 21h2v1h-2zM21 21h4v1h-4zM4 22h2v1h-2zM7 22h1v1h-1zM25 22h1v1h-1zM28 22h2v1h-2zM3 23h5v1h-5zM29 23h2v1h-2zM1 24h7v1h-7zM28 25h1v1h-1zM28 26h1v1h-1z"/><path fill="#250000" d="M7 13h2v1h-2zM8 14h3v1h-3zM6 15h5v1h-5zM5 16h3v1h-3zM10 16h1v1h-1zM6 17h2v1h-2zM9 17h2v1h-2zM20 17h2v1h-2zM26 17h1v1h-1zM9 18h2v1h-2zM19 18h4v1h-4zM25 18h2v1h-2zM5 19h3v1h-3zM20 19h4v1h-4zM25 19h3v1h-3zM5 20h4v1h-4zM20 20h3v1h-3zM25 20h4v1h-4zM4 21h4v1h-4zM25 21h5v1h-5zM3 22h1v1h-1zM6 22h1v1h-1zM25 23h1v1h-1zM25 24h5v1h-5zM26 25h2v1h-2zM27 26h1v1h-1z"/></g>
<use href="#Lax"/>
<text class="dv" x="367.5" y="217.2" font-size="15.5">L</text>
<text class="dv" x="507.3" y="217.2" font-size="15.5">R</text>
<text class="dv" x="797" y="202.6" font-size="15.5">L</text>
<text class="dv" x="934.4" y="202.6" font-size="15.5">R</text>
<rect x="1021" y="179.5" width="13.8" height="231" fill="url(#hot)" stroke="#111" stroke-width="1.4"/>
<text class="dvc" x="1010.8" y="184.8" font-size="14.6" text-anchor="end">0.035</text>
<text class="dvc" x="1010.8" y="242.6" font-size="14.6" text-anchor="end">0.026</text>
<text class="dvc" x="1010.8" y="300.3" font-size="14.6" text-anchor="end">0.017</text>
<text class="dvc" x="1010.8" y="358.1" font-size="14.6" text-anchor="end">0.0087</text>
<text class="dvc" x="1010.8" y="415.8" font-size="14.6" text-anchor="end">0</text>
</g>
<g transform="matrix(1,0,0,1,0,2084.5)">
<g transform="translate(112,199) scale(5.45)" shape-rendering="crispEdges"><path fill="#00ff98" d="M18 1h8v1h-8zM27 1h3v1h-3zM15 2h12v1h-12zM28 2h4v1h-4zM12 3h15v1h-15zM28 3h6v1h-6zM10 4h16v1h-16zM28 4h7v1h-7zM8 5h18v1h-18zM28 5h8v1h-8zM7 6h25v1h-25zM34 6h3v1h-3zM6 7h3v1h-3zM13 7h19v1h-19zM34 7h3v1h-3zM5 8h3v1h-3zM13 8h18v1h-18zM34 8h4v1h-4zM4 9h3v1h-3zM13 9h18v1h-18zM34 9h5v1h-5zM3 10h3v1h-3zM13 10h17v1h-17zM33 10h6v1h-6zM2 11h3v1h-3zM12 11h18v1h-18zM32 11h8v1h-8zM2 12h2v1h-2zM12 12h7v1h-7zM25 12h5v1h-5zM32 12h8v1h-8zM1 13h3v1h-3zM11 13h8v1h-8zM25 13h4v1h-4zM32 13h9v1h-9zM1 14h1v1h-1zM9 14h2v1h-2zM12 14h7v1h-7zM25 14h4v1h-4zM31 14h10v1h-10zM1 15h1v1h-1zM3 15h2v1h-2zM12 15h12v1h-12zM28 15h13v1h-13zM11 16h12v1h-12zM28 16h14v1h-14zM8 17h1v1h-1zM11 17h9v1h-9zM23 17h1v1h-1zM30 17h12v1h-12zM2 18h1v1h-1zM12 18h7v1h-7zM23 18h1v1h-1zM30 18h12v1h-12zM1 19h1v1h-1zM12 19h2v1h-2zM15 19h3v1h-3zM22 19h2v1h-2zM30 19h12v1h-12zM13 20h1v1h-1zM37 20h5v1h-5zM37 21h4v1h-4zM37 22h3v1h-3z"/><path fill="#ffb000" d="M27 2h1v1h-1zM27 3h1v1h-1zM26 4h2v1h-2zM26 5h2v1h-2zM5 15h4v1h-4zM4 16h5v1h-5zM4 17h4v1h-4z"/><path fill="#00f830" d="M32 6h2v1h-2zM9 7h4v1h-4zM32 7h2v1h-2zM8 8h5v1h-5zM31 8h3v1h-3zM7 9h6v1h-6zM31 9h3v1h-3zM6 10h7v1h-7zM30 10h3v1h-3zM5 11h7v1h-7zM30 11h2v1h-2zM4 12h8v1h-8zM30 12h2v1h-2zM4 13h7v1h-7zM29 13h3v1h-3zM3 14h6v1h-6zM29 14h2v1h-2zM14 19h1v1h-1z"/><path fill="#00ffc0" d="M19 12h6v1h-6zM19 13h6v1h-6zM19 14h6v1h-6zM24 15h4v1h-4zM24 16h4v1h-4zM24 17h3v1h-3z"/><path fill="#d0ff00" d="M2 14h1v1h-1zM2 15h1v1h-1zM1 16h1v1h-1zM1 17h1v1h-1zM1 18h1v1h-1z"/><path fill="#ff0018" d="M11 14h1v1h-1zM9 15h3v1h-3zM9 16h2v1h-2zM9 17h2v1h-2zM27 17h3v1h-3zM3 18h9v1h-9zM24 18h6v1h-6zM2 19h10v1h-10zM24 19h6v1h-6zM2 20h11v1h-11zM14 20h17v1h-17zM34 20h3v1h-3zM2 21h35v1h-35zM3 22h34v1h-34zM4 23h28v1h-28zM6 24h23v1h-23zM12 25h15v1h-15zM12 26h13v1h-13zM12 27h11v1h-11zM12 28h9v1h-9zM13 29h7v1h-7zM16 30h2v1h-2z"/><path fill="#ffe000" d="M2 16h2v1h-2zM2 17h2v1h-2z"/><path fill="#ff4a00" d="M23 16h1v1h-1zM20 17h3v1h-3zM19 18h4v1h-4zM18 19h4v1h-4zM31 20h3v1h-3z"/></g>
<use href="#Lsl"/>
<g transform="translate(351,198) scale(5.45)" shape-rendering="crispEdges"><path fill="#00ff98" d="M11 1h12v1h-12zM9 2h6v1h-6zM16 2h1v1h-1zM7 3h7v1h-7zM16 3h1v1h-1zM26 3h1v1h-1zM6 4h8v1h-8zM16 4h1v1h-1zM26 4h2v1h-2zM5 5h6v1h-6zM27 5h2v1h-2zM4 6h6v1h-6zM26 6h4v1h-4zM3 7h7v1h-7zM26 7h5v1h-5zM3 8h7v1h-7zM25 8h6v1h-6zM2 9h8v1h-8zM22 9h10v1h-10zM5 10h5v1h-5zM17 10h13v1h-13zM5 11h5v1h-5zM17 11h13v1h-13zM5 12h5v1h-5zM17 12h2v1h-2zM21 12h9v1h-9zM5 13h2v1h-2zM8 13h2v1h-2zM17 13h2v1h-2zM22 13h3v1h-3zM27 13h3v1h-3zM5 14h1v1h-1zM9 14h1v1h-1zM17 14h2v1h-2zM23 14h2v1h-2zM10 15h3v1h-3zM17 15h1v1h-1zM23 15h2v1h-2zM16 16h1v1h-1zM23 16h1v1h-1zM30 16h1v1h-1zM32 16h1v1h-1zM9 17h1v1h-1zM13 17h1v1h-1zM16 17h1v1h-1zM9 18h2v1h-2z"/><path fill="#ffb000" d="M15 2h1v1h-1zM14 3h2v1h-2zM14 4h2v1h-2zM14 5h2v1h-2zM7 13h1v1h-1zM7 14h1v1h-1zM18 15h3v1h-3zM18 16h3v1h-3zM18 17h3v1h-3z"/><path fill="#00f830" d="M17 2h8v1h-8zM17 3h9v1h-9zM17 4h9v1h-9zM11 5h3v1h-3zM16 5h11v1h-11zM10 6h16v1h-16zM10 7h16v1h-16zM10 8h15v1h-15zM10 9h12v1h-12zM10 10h7v1h-7zM10 11h7v1h-7zM10 12h7v1h-7zM10 13h7v1h-7zM25 13h2v1h-2zM10 14h3v1h-3zM15 14h2v1h-2zM25 14h5v1h-5zM16 15h1v1h-1zM27 15h3v1h-3zM29 16h1v1h-1z"/><path fill="#00ffc0" d="M2 10h3v1h-3zM30 10h2v1h-2zM1 11h4v1h-4zM30 11h2v1h-2zM1 12h4v1h-4zM30 12h3v1h-3zM1 13h4v1h-4zM30 13h3v1h-3zM1 14h4v1h-4zM30 14h3v1h-3zM1 15h3v1h-3zM30 15h3v1h-3zM1 16h3v1h-3zM20 20h1v1h-1z"/><path fill="#ffe000" d="M19 12h2v1h-2zM19 13h3v1h-3zM19 14h4v1h-4zM21 15h2v1h-2zM25 15h2v1h-2zM10 16h3v1h-3zM26 16h1v1h-1zM10 17h3v1h-3zM23 17h1v1h-1z"/><path fill="#ff1c00" d="M6 14h1v1h-1zM8 14h1v1h-1zM4 15h6v1h-6zM4 16h5v1h-5zM4 17h5v1h-5zM4 18h5v1h-5zM6 19h1v1h-1z"/><path fill="#d0ff00" d="M13 14h2v1h-2zM13 15h3v1h-3zM13 16h3v1h-3zM15 17h1v1h-1zM13 19h1v1h-1z"/><path fill="#ff0018" d="M9 16h1v1h-1zM17 16h1v1h-1zM21 16h2v1h-2zM24 16h2v1h-2zM27 16h2v1h-2zM1 17h3v1h-3zM14 17h1v1h-1zM17 17h1v1h-1zM21 17h2v1h-2zM24 17h9v1h-9zM1 18h3v1h-3zM11 18h22v1h-22zM4 19h2v1h-2zM7 19h6v1h-6zM14 19h19v1h-19zM1 20h19v1h-19zM21 20h12v1h-12zM1 21h32v1h-32zM1 22h31v1h-31zM2 23h30v1h-30zM2 24h30v1h-30zM3 25h10v1h-10zM16 25h2v1h-2zM20 25h11v1h-11zM4 26h9v1h-9zM21 26h9v1h-9zM4 27h8v1h-8zM21 27h9v1h-9zM5 28h7v1h-7zM21 28h8v1h-8zM5 29h7v1h-7zM21 29h8v1h-8z"/><path fill="#ff0048" d="M31 16h1v1h-1zM1 19h3v1h-3z"/></g>
<use href="#Lco"/>
<g transform="translate(541,199) scale(5.45)" shape-rendering="crispEdges"><path fill="#00ff98" d="M13 1h12v1h-12zM11 2h4v1h-4zM16 2h12v1h-12zM9 3h6v1h-6zM16 3h14v1h-14zM8 4h25v1h-25zM7 5h7v1h-7zM16 5h18v1h-18zM6 6h8v1h-8zM19 6h17v1h-17zM5 7h9v1h-9zM19 7h18v1h-18zM5 8h10v1h-10zM19 8h19v1h-19zM4 9h13v1h-13zM19 9h20v1h-20zM4 10h33v1h-33zM39 10h1v1h-1zM3 11h34v1h-34zM39 11h1v1h-1zM3 12h24v1h-24zM30 12h6v1h-6zM39 12h2v1h-2zM2 13h25v1h-25zM30 13h6v1h-6zM40 13h1v1h-1zM2 14h34v1h-34zM40 14h2v1h-2zM1 15h16v1h-16zM20 15h9v1h-9zM30 15h5v1h-5zM1 16h12v1h-12zM15 16h2v1h-2zM20 16h10v1h-10zM35 16h1v1h-1zM38 16h1v1h-1zM1 17h12v1h-12zM16 17h3v1h-3zM23 17h7v1h-7zM35 17h1v1h-1zM1 18h12v1h-12zM18 18h1v1h-1zM24 18h5v1h-5zM1 19h4v1h-4zM6 19h4v1h-4zM21 19h1v1h-1zM25 19h5v1h-5zM1 20h4v1h-4zM9 20h2v1h-2zM1 21h4v1h-4zM2 22h5v1h-5zM10 23h1v1h-1zM13 24h2v1h-2zM16 25h1v1h-1zM18 26h1v1h-1z"/><path fill="#00f830" d="M14 5h2v1h-2zM14 6h5v1h-5zM14 7h5v1h-5zM15 8h4v1h-4zM17 9h2v1h-2zM37 10h2v1h-2zM37 11h2v1h-2zM27 12h3v1h-3zM27 13h3v1h-3zM17 15h2v1h-2zM17 16h2v1h-2z"/><path fill="#d0ff00" d="M36 12h3v1h-3zM36 13h4v1h-4zM36 14h4v1h-4zM35 15h4v1h-4zM30 16h2v1h-2zM30 17h2v1h-2zM29 18h2v1h-2zM30 19h1v1h-1z"/><path fill="#ff0018" d="M19 15h1v1h-1zM19 16h1v1h-1zM32 16h3v1h-3zM36 16h2v1h-2zM19 17h1v1h-1zM32 17h3v1h-3zM36 17h3v1h-3zM19 18h1v1h-1zM31 18h8v1h-8zM19 19h2v1h-2zM22 19h3v1h-3zM31 19h11v1h-11zM5 20h2v1h-2zM17 20h24v1h-24zM5 21h36v1h-36zM7 22h33v1h-33zM11 23h28v1h-28zM15 24h22v1h-22zM17 25h14v1h-14zM19 26h12v1h-12zM20 27h11v1h-11zM21 28h9v1h-9zM23 29h6v1h-6zM24 30h3v1h-3z"/><path fill="#ffb000" d="M39 15h3v1h-3zM39 16h3v1h-3zM21 17h2v1h-2zM39 17h3v1h-3zM21 18h1v1h-1zM39 18h3v1h-3z"/><path fill="#ff0048" d="M13 16h2v1h-2zM13 17h3v1h-3zM13 18h5v1h-5zM10 19h9v1h-9zM11 20h6v1h-6z"/><path fill="#ff4a00" d="M20 17h1v1h-1zM20 18h1v1h-1z"/><path fill="#ffe000" d="M22 18h2v1h-2z"/><path fill="#00a0ff" d="M5 19h1v1h-1zM7 20h2v1h-2z"/></g>
<use href="#Lsr"/>
<g transform="translate(780,181) scale(5.45)" shape-rendering="crispEdges"><path fill="#ff0018" d="M11 1h1v1h-1zM15 1h1v1h-1zM17 1h1v1h-1zM20 1h3v1h-3zM9 2h1v1h-1zM12 2h4v1h-4zM17 2h7v1h-7zM8 3h8v1h-8zM17 3h8v1h-8zM7 4h9v1h-9zM17 4h9v1h-9zM6 5h10v1h-10zM17 5h10v1h-10zM5 6h4v1h-4zM13 6h3v1h-3zM17 6h4v1h-4zM22 6h6v1h-6zM5 7h4v1h-4zM13 7h3v1h-3zM17 7h11v1h-11zM4 8h5v1h-5zM13 8h3v1h-3zM17 8h12v1h-12zM4 9h5v1h-5zM10 9h6v1h-6zM17 9h12v1h-12zM4 10h12v1h-12zM19 10h8v1h-8zM29 10h1v1h-1zM5 11h11v1h-11zM17 11h9v1h-9zM29 11h1v1h-1zM5 12h11v1h-11zM17 12h14v1h-14zM4 13h12v1h-12zM17 13h12v1h-12zM30 13h1v1h-1zM4 14h12v1h-12zM17 14h12v1h-12zM3 15h10v1h-10zM14 15h2v1h-2zM17 15h2v1h-2zM20 15h10v1h-10zM2 16h10v1h-10zM17 16h2v1h-2zM20 16h12v1h-12zM1 17h11v1h-11zM19 17h13v1h-13zM1 18h12v1h-12zM19 18h13v1h-13zM1 19h11v1h-11zM19 19h13v1h-13zM1 20h11v1h-11zM20 20h12v1h-12zM1 21h11v1h-11zM20 21h13v1h-13zM1 22h11v1h-11zM20 22h13v1h-13zM1 23h11v1h-11zM20 23h13v1h-13zM1 24h12v1h-12zM19 24h14v1h-14zM1 25h12v1h-12zM19 25h14v1h-14zM1 26h11v1h-11zM21 26h11v1h-11zM1 27h11v1h-11zM21 27h11v1h-11zM5 28h7v1h-7zM21 28h9v1h-9zM31 28h1v1h-1zM6 29h1v1h-1zM8 29h2v1h-2zM11 29h1v1h-1zM23 29h4v1h-4zM31 29h1v1h-1zM5 30h6v1h-6zM22 30h4v1h-4zM31 30h1v1h-1zM5 31h5v1h-5zM21 31h5v1h-5zM28 31h3v1h-3zM2 32h1v1h-1zM5 32h5v1h-5zM21 32h7v1h-7zM29 32h2v1h-2zM3 33h4v1h-4zM25 33h3v1h-3zM29 33h1v1h-1zM4 34h5v1h-5zM25 34h1v1h-1zM27 34h3v1h-3zM4 35h3v1h-3zM27 35h2v1h-2zM5 36h1v1h-1zM26 36h2v1h-2zM26 37h1v1h-1zM25 38h1v1h-1zM23 39h1v1h-1z"/><path fill="#d0ff00" d="M12 1h3v1h-3z"/><path fill="#ffb000" d="M18 1h2v1h-2zM14 26h2v1h-2z"/><path fill="#ffe000" d="M10 2h2v1h-2z"/><path fill="#ff1c00" d="M9 6h4v1h-4zM9 7h4v1h-4zM9 8h4v1h-4z"/><path fill="#00ff98" d="M21 6h1v1h-1zM9 9h1v1h-1zM3 10h1v1h-1zM17 10h2v1h-2zM3 11h2v1h-2zM3 12h2v1h-2zM2 13h2v1h-2zM29 13h1v1h-1zM2 14h2v1h-2zM29 14h2v1h-2zM2 15h1v1h-1zM13 15h1v1h-1zM19 15h1v1h-1zM30 15h1v1h-1zM1 16h1v1h-1zM12 16h4v1h-4zM19 16h1v1h-1zM12 17h4v1h-4zM17 17h2v1h-2zM13 18h3v1h-3zM17 18h2v1h-2zM12 19h4v1h-4zM17 19h2v1h-2zM12 20h4v1h-4zM17 20h3v1h-3zM12 21h4v1h-4zM17 21h2v1h-2zM12 22h4v1h-4zM17 22h3v1h-3zM12 23h4v1h-4zM17 23h3v1h-3zM13 24h3v1h-3zM17 24h2v1h-2zM13 25h3v1h-3zM17 25h2v1h-2zM12 26h2v1h-2zM17 26h4v1h-4zM12 27h4v1h-4zM17 27h4v1h-4zM12 28h2v1h-2zM17 28h4v1h-4zM5 29h1v1h-1zM7 29h1v1h-1zM10 29h1v1h-1zM17 29h1v1h-1zM21 29h2v1h-2zM21 30h1v1h-1zM26 30h2v1h-2zM2 31h3v1h-3zM13 31h3v1h-3zM26 31h2v1h-2zM3 32h2v1h-2zM11 32h5v1h-5zM28 32h1v1h-1zM11 33h5v1h-5zM20 33h1v1h-1zM28 33h1v1h-1zM11 34h5v1h-5zM17 34h8v1h-8zM26 34h1v1h-1zM11 35h5v1h-5zM17 35h9v1h-9zM11 36h5v1h-5zM17 36h9v1h-9zM11 37h5v1h-5zM17 37h9v1h-9zM11 38h5v1h-5zM17 38h8v1h-8zM11 39h5v1h-5zM17 39h6v1h-6zM11 40h5v1h-5zM18 40h4v1h-4z"/><path fill="#00f830" d="M27 10h2v1h-2zM26 11h3v1h-3zM14 28h2v1h-2zM12 29h4v1h-4zM18 29h3v1h-3zM11 30h5v1h-5zM17 30h4v1h-4zM11 31h2v1h-2zM17 31h4v1h-4zM17 32h4v1h-4zM17 33h3v1h-3zM7 35h4v1h-4zM6 36h5v1h-5zM6 37h5v1h-5zM8 38h3v1h-3zM9 39h2v1h-2z"/><path fill="#ff0048" d="M1 28h4v1h-4zM30 28h1v1h-1zM1 29h4v1h-4zM27 29h4v1h-4zM2 30h3v1h-3zM28 30h3v1h-3z"/><path fill="#ff4a00" d="M10 31h1v1h-1zM10 32h1v1h-1z"/><path fill="#ff00ff" d="M7 33h4v1h-4z"/><path fill="#00a0ff" d="M21 33h4v1h-4z"/><path fill="#ff0090" d="M9 34h2v1h-2z"/><path fill="#00ffff" d="M26 35h1v1h-1z"/></g>
<use href="#Lax"/>
<text class="dv" x="367.5" y="217.2" font-size="15.5">L</text>
<text class="dv" x="507.3" y="217.2" font-size="15.5">R</text>
<text class="dv" x="797" y="202.6" font-size="15.5">L</text>
<text class="dv" x="934.4" y="202.6" font-size="15.5">R</text>
<rect x="1021" y="179.5" width="13.8" height="231" fill="url(#hsv)" stroke="#111" stroke-width="1.4"/>
<text class="dvc" x="1010.8" y="184.8" font-size="14.6" text-anchor="end">3.1</text>
<text class="dvc" x="1010.8" y="242.6" font-size="14.6" text-anchor="end">1.6</text>
<text class="dvc" x="1010.8" y="300.3" font-size="14.6" text-anchor="end">0</text>
<text class="dvc" x="1010.8" y="358.1" font-size="14.6" text-anchor="end">-1.6</text>
<text class="dvc" x="1010.8" y="415.8" font-size="14.6" text-anchor="end">-3.1</text>
</g>
<g fill="#1f77b4" shape-rendering="crispEdges"><rect x="1225.7" y="296.8" width="11.8" height="67.9"/><rect x="1237.2" y="219.7" width="11.8" height="145"/><rect x="1248.6" y="202.5" width="11.8" height="162.2"/><rect x="1260.1" y="225.2" width="11.8" height="139.5"/><rect x="1271.6" y="248.8" width="11.8" height="115.9"/><rect x="1283" y="259.1" width="11.8" height="105.6"/><rect x="1294.5" y="270.1" width="11.8" height="94.6"/><rect x="1306" y="289" width="11.8" height="75.7"/><rect x="1317.5" y="313.4" width="11.8" height="51.3"/><rect x="1328.9" y="317.2" width="11.8" height="47.5"/><rect x="1340.4" y="326.7" width="11.8" height="38"/><rect x="1351.9" y="339.4" width="11.8" height="25.3"/><rect x="1363.3" y="346.8" width="11.8" height="17.9"/><rect x="1374.8" y="351.8" width="11.8" height="12.9"/><rect x="1386.3" y="357" width="11.8" height="7.7"/><rect x="1397.8" y="354" width="11.8" height="10.7"/><rect x="1409.2" y="352.7" width="11.8" height="12"/><rect x="1420.7" y="358.7" width="11.8" height="6"/><rect x="1432.2" y="357.8" width="11.8" height="6.9"/><rect x="1443.6" y="359.5" width="11.8" height="5.2"/><rect x="1455.1" y="362.1" width="11.8" height="2.6"/><rect x="1466.6" y="363.5" width="11.8" height="1.2"/><rect x="1478" y="363.5" width="11.8" height="1.2"/><rect x="1489.5" y="362.1" width="11.8" height="2.6"/><rect x="1501" y="363.8" width="11.8" height="0.9"/></g>
<rect x="1211.6" y="194" width="315.9" height="170.7" fill="none" stroke="#222" stroke-width="1.1"/>
<path d="M1225.7,364.7v4.5" stroke="#222" stroke-width="1.1"/><text class="dvc" x="1225.7" y="384.5" font-size="15" text-anchor="middle">0.0</text><path d="M1340.4,364.7v4.5" stroke="#222" stroke-width="1.1"/><text class="dvc" x="1340.4" y="384.5" font-size="15" text-anchor="middle">0.1</text><path d="M1455.1,364.7v4.5" stroke="#222" stroke-width="1.1"/><text class="dvc" x="1455.1" y="384.5" font-size="15" text-anchor="middle">0.2</text><path d="M1211.6,364.7h-4.5" stroke="#222" stroke-width="1.1"/><text class="dvc" x="1204.1" y="370.2" font-size="15" text-anchor="end">0</text><path d="M1211.6,321.7h-4.5" stroke="#222" stroke-width="1.1"/><text class="dvc" x="1204.1" y="327.2" font-size="15" text-anchor="end">250</text><path d="M1211.6,278.7h-4.5" stroke="#222" stroke-width="1.1"/><text class="dvc" x="1204.1" y="284.2" font-size="15" text-anchor="end">500</text><path d="M1211.6,235.7h-4.5" stroke="#222" stroke-width="1.1"/><text class="dvc" x="1204.1" y="241.2" font-size="15" text-anchor="end">750</text>
<g fill="#1f77b4" shape-rendering="crispEdges"><rect x="1227.4" y="876" width="11.8" height="79.2"/><rect x="1238.9" y="808.6" width="11.8" height="146.6"/><rect x="1250.4" y="792.5" width="11.8" height="162.7"/><rect x="1261.8" y="805.9" width="11.8" height="149.3"/><rect x="1273.3" y="819.8" width="11.8" height="135.4"/><rect x="1284.8" y="835" width="11.8" height="120.2"/><rect x="1296.3" y="861.8" width="11.8" height="93.4"/><rect x="1307.8" y="876" width="11.8" height="79.2"/><rect x="1319.2" y="894.9" width="11.8" height="60.3"/><rect x="1330.7" y="900.5" width="11.8" height="54.7"/><rect x="1342.2" y="920" width="11.8" height="35.2"/><rect x="1353.7" y="930.7" width="11.8" height="24.5"/><rect x="1365.2" y="934.4" width="11.8" height="20.8"/><rect x="1376.6" y="939" width="11.8" height="16.2"/><rect x="1388.1" y="941.7" width="11.8" height="13.5"/><rect x="1399.6" y="946.5" width="11.8" height="8.7"/><rect x="1411.1" y="949.4" width="11.8" height="5.8"/><rect x="1422.6" y="949.4" width="11.8" height="5.8"/><rect x="1434" y="945.4" width="11.8" height="9.8"/><rect x="1445.5" y="949.2" width="11.8" height="6"/><rect x="1457" y="953.1" width="11.8" height="2.1"/><rect x="1468.5" y="952.3" width="11.8" height="2.9"/><rect x="1480" y="953.1" width="11.8" height="2.1"/><rect x="1491.4" y="953.3" width="11.8" height="1.9"/><rect x="1502.9" y="954.2" width="11.8" height="1"/></g>
<rect x="1213.3" y="785.4" width="316.2" height="169.8" fill="none" stroke="#222" stroke-width="1.1"/>
<path d="M1227.4,955.2v4.5" stroke="#222" stroke-width="1.1"/><text class="dvc" x="1227.4" y="975" font-size="15" text-anchor="middle">0.0</text><path d="M1342.2,955.2v4.5" stroke="#222" stroke-width="1.1"/><text class="dvc" x="1342.2" y="975" font-size="15" text-anchor="middle">0.1</text><path d="M1457,955.2v4.5" stroke="#222" stroke-width="1.1"/><text class="dvc" x="1457" y="975" font-size="15" text-anchor="middle">0.2</text><path d="M1213.3,955.2h-4.5" stroke="#222" stroke-width="1.1"/><text class="dvc" x="1205.8" y="960.7" font-size="15" text-anchor="end">0</text><path d="M1213.3,903.2h-4.5" stroke="#222" stroke-width="1.1"/><text class="dvc" x="1205.8" y="908.7" font-size="15" text-anchor="end">250</text><path d="M1213.3,851.2h-4.5" stroke="#222" stroke-width="1.1"/><text class="dvc" x="1205.8" y="856.7" font-size="15" text-anchor="end">500</text><path d="M1213.3,799.2h-4.5" stroke="#222" stroke-width="1.1"/><text class="dvc" x="1205.8" y="804.7" font-size="15" text-anchor="end">750</text>
<g fill="#1f77b4" shape-rendering="crispEdges"><rect x="1246.1" y="1484.8" width="11.8" height="66.8"/><rect x="1257.6" y="1524.2" width="11.8" height="27.4"/><rect x="1269" y="1525" width="11.8" height="26.6"/><rect x="1280.5" y="1531.7" width="11.8" height="19.9"/><rect x="1292" y="1515.5" width="11.8" height="36.1"/><rect x="1303.4" y="1510.9" width="11.8" height="40.7"/><rect x="1314.9" y="1502.2" width="11.8" height="49.4"/><rect x="1326.4" y="1504.3" width="11.8" height="47.3"/><rect x="1337.9" y="1480.6" width="11.8" height="71"/><rect x="1349.3" y="1481.9" width="11.8" height="69.7"/><rect x="1360.8" y="1453.2" width="11.8" height="98.4"/><rect x="1372.3" y="1443.7" width="11.8" height="107.9"/><rect x="1383.7" y="1409.3" width="11.8" height="142.3"/><rect x="1395.2" y="1418.8" width="11.8" height="132.8"/><rect x="1406.7" y="1394.7" width="11.8" height="156.9"/><rect x="1418.1" y="1411.3" width="11.8" height="140.3"/><rect x="1429.6" y="1388.5" width="11.8" height="163.1"/><rect x="1441.1" y="1408.4" width="11.8" height="143.2"/><rect x="1452.6" y="1405.5" width="11.8" height="146.1"/><rect x="1464" y="1415.9" width="11.8" height="135.7"/><rect x="1475.5" y="1513.8" width="11.8" height="37.8"/><rect x="1487" y="1522.1" width="11.8" height="29.5"/><rect x="1498.4" y="1524.2" width="11.8" height="27.4"/><rect x="1509.9" y="1525" width="11.8" height="26.6"/><rect x="1521.4" y="1521.3" width="11.8" height="30.3"/></g>
<rect x="1232.1" y="1381.7" width="315.5" height="169.9" fill="none" stroke="#222" stroke-width="1.1"/>
<path d="M1246.1,1551.6v4.5" stroke="#222" stroke-width="1.1"/><text class="dvc" x="1246.1" y="1571.4" font-size="15" text-anchor="middle">0.0</text><path d="M1360.8,1551.6v4.5" stroke="#222" stroke-width="1.1"/><text class="dvc" x="1360.8" y="1571.4" font-size="15" text-anchor="middle">0.1</text><path d="M1475.5,1551.6v4.5" stroke="#222" stroke-width="1.1"/><text class="dvc" x="1475.5" y="1571.4" font-size="15" text-anchor="middle">0.2</text><path d="M1232.1,1551.6h-4.5" stroke="#222" stroke-width="1.1"/><text class="dvc" x="1224.6" y="1557.1" font-size="15" text-anchor="end">0</text><path d="M1232.1,1468.6h-4.5" stroke="#222" stroke-width="1.1"/><text class="dvc" x="1224.6" y="1474.1" font-size="15" text-anchor="end">200</text><path d="M1232.1,1385.6h-4.5" stroke="#222" stroke-width="1.1"/><text class="dvc" x="1224.6" y="1391.1" font-size="15" text-anchor="end">400</text>
<g fill="#1f77b4" shape-rendering="crispEdges"><rect x="1231.1" y="2122.5" width="11.8" height="27.2"/><rect x="1242.6" y="2138.1" width="11.8" height="11.6"/><rect x="1254.1" y="2130.3" width="11.8" height="19.4"/><rect x="1265.5" y="2134.2" width="11.8" height="15.5"/><rect x="1277" y="2134.2" width="11.8" height="15.5"/><rect x="1288.5" y="2095.4" width="11.8" height="54.3"/><rect x="1300" y="2107" width="11.8" height="42.7"/><rect x="1311.5" y="2107" width="11.8" height="42.7"/><rect x="1322.9" y="2099.3" width="11.8" height="50.4"/><rect x="1334.4" y="2095.4" width="11.8" height="54.3"/><rect x="1345.9" y="2091.5" width="11.8" height="58.2"/><rect x="1357.4" y="2064.3" width="11.8" height="85.4"/><rect x="1368.9" y="2041.1" width="11.8" height="108.6"/><rect x="1380.3" y="2064.3" width="11.8" height="85.4"/><rect x="1391.8" y="2064.3" width="11.8" height="85.4"/><rect x="1403.3" y="1986.7" width="11.8" height="163"/><rect x="1414.8" y="2083.7" width="11.8" height="66"/><rect x="1426.3" y="2033.3" width="11.8" height="116.4"/><rect x="1437.7" y="2037.2" width="11.8" height="112.5"/><rect x="1449.2" y="2079.9" width="11.8" height="69.8"/><rect x="1460.7" y="2126.4" width="11.8" height="23.3"/><rect x="1472.2" y="2130.3" width="11.8" height="19.4"/><rect x="1483.7" y="2145.8" width="11.8" height="3.9"/><rect x="1495.1" y="2141.9" width="11.8" height="7.8"/><rect x="1506.6" y="2126.4" width="11.8" height="23.3"/></g>
<rect x="1216.8" y="1979.6" width="316.1" height="170.1" fill="none" stroke="#222" stroke-width="1.1"/>
<path d="M1231.1,2149.7v4.5" stroke="#222" stroke-width="1.1"/><text class="dvc" x="1231.1" y="2169.5" font-size="15" text-anchor="middle">0.0</text><path d="M1345.9,2149.7v4.5" stroke="#222" stroke-width="1.1"/><text class="dvc" x="1345.9" y="2169.5" font-size="15" text-anchor="middle">0.1</text><path d="M1460.7,2149.7v4.5" stroke="#222" stroke-width="1.1"/><text class="dvc" x="1460.7" y="2169.5" font-size="15" text-anchor="middle">0.2</text><path d="M1216.8,2149.7h-4.5" stroke="#222" stroke-width="1.1"/><text class="dvc" x="1209.3" y="2155.2" font-size="15" text-anchor="end">0</text><path d="M1216.8,2072.1h-4.5" stroke="#222" stroke-width="1.1"/><text class="dvc" x="1209.3" y="2077.6" font-size="15" text-anchor="end">20</text><path d="M1216.8,1994.5h-4.5" stroke="#222" stroke-width="1.1"/><text class="dvc" x="1209.3" y="2000" font-size="15" text-anchor="end">40</text>
<path fill="none" stroke="#1f77b4" stroke-width="3.3" stroke-linecap="round" d="M1437.2,608.9h0M1438.7,564.7h0M1406.5,650.2h0M1335.9,652.8h0M1315.1,633.6h0M1307.5,625.3h0M1305.8,559.9h0M1359,658h0M1437.9,612.1h0M1303,565.6h0M1441.6,573.7h0M1300.6,574.3h0M1320,542.5h0M1300.8,601.4h0M1376.9,517.4h0M1337.7,525.5h0M1301.7,594.4h0M1337.6,654.3h0M1425.4,633.3h0M1363.8,659.1h0M1376.2,659.6h0M1328.7,535.1h0M1440.9,607.2h0M1372.4,660.1h0M1301.8,573h0M1301.4,585.7h0M1300.9,590.4h0M1328.4,534.8h0M1428.1,631.9h0M1307.5,618.6h0M1358.9,660.1h0M1383.2,519.4h0M1348.1,658.7h0M1430.8,629.3h0M1431.5,627.9h0M1438.3,608.6h0M1299.7,591.9h0M1329.6,647.5h0M1343.3,523.2h0M1301.5,595.2h0M1318.6,640.8h0M1400.6,653.4h0M1431,629.6h0M1368.2,662.7h0M1329.4,648.9h0M1380.8,521.2h0M1426.3,546.1h0M1414.4,647.2h0M1387.7,522.6h0M1308.5,557.3h0M1440.7,575.8h0M1403.7,528h0M1430.6,555.6h0M1439.8,578.9h0M1441.9,580.5h0M1398.7,656.7h0M1399,525.8h0M1315.8,542h0M1442.8,594.5h0M1440.4,573.8h0M1318.1,636.4h0M1424.9,543.3h0M1440.5,576.3h0M1377.6,659.7h0M1427.7,630.4h0M1416.2,643.4h0M1299.6,577.7h0M1332.5,650.8h0M1427.7,547.4h0M1421.8,641.3h0M1309.1,626.3h0M1298.5,596.7h0M1440.3,608h0M1314.5,634.1h0M1440.9,582h0M1416.8,533.8h0M1441.3,574.9h0M1428.7,550.1h0M1301.6,593.6h0M1433.8,617.8h0M1378.4,519.2h0M1370.3,519.4h0M1321,639.1h0M1352.5,659.6h0M1307.8,557h0M1443.4,587.8h0M1309.7,550.6h0M1358.8,661.1h0M1429.1,547.6h0M1379,518.4h0M1300.1,599.2h0M1344.8,524.5h0M1386.8,522.5h0M1438.8,606.1h0M1305.7,561.3h0M1307.1,625.5h0M1308.9,555.1h0M1401,524.1h0M1393.8,657.7h0M1301.8,598.3h0M1315.4,636h0M1441.7,597.4h0M1440.4,581.6h0M1428.4,547.4h0M1408.5,649.2h0M1441.4,583h0M1310.4,552.2h0M1388.9,521.8h0M1434.9,557.9h0M1322.3,540.4h0M1432.6,557.6h0M1395.7,523.9h0M1315.3,545.3h0M1372.2,661.4h0M1422.9,539.8h0M1431.5,556.3h0M1326.8,643.6h0M1344.9,658.2h0M1332.8,648.8h0M1358.8,660h0M1326.1,534.5h0M1392.3,658.6h0M1300.5,601.7h0M1437.6,609.6h0M1434,618.8h0M1349.7,521h0M1298.8,584.9h0M1307.4,559.1h0M1432.2,624.6h0M1400.6,656.1h0M1327.9,535.7h0M1413.8,533.2h0M1436.9,560.4h0M1425.3,632.2h0M1327.3,648.1h0M1349.9,521h0M1337,651.7h0M1304.9,563.4h0M1424.6,544.1h0M1437.1,611.7h0M1429,549.7h0M1355.1,660.3h0M1426.8,633.6h0M1349.9,658.3h0M1440.4,592.1h0M1305.8,622.2h0M1302.6,563.7h0M1313.2,629.1h0M1400.6,525.7h0M1299.7,582.1h0M1353.6,657.1h0M1350.9,658.3h0M1440.2,607h0M1368.7,660.3h0M1375.7,659.4h0M1381.6,520.4h0M1313,549.6h0M1440.3,600h0M1441.6,584.8h0M1354,657.5h0M1329.6,646.4h0M1439.4,582.6h0M1361.5,660h0M1428.1,628.9h0M1426.9,548.8h0M1378.3,661.8h0M1368,660.6h0M1395.7,524.9h0M1416.3,536.2h0M1304.6,561.2h0M1305.5,618.7h0M1389.9,523.6h0M1436.1,557.8h0M1301.2,583.6h0M1332.5,648.7h0M1300.6,583.4h0M1334,528.1h0M1297.7,591.3h0M1432,556.4h0M1402.9,527.9h0M1385.9,659.7h0M1338.9,652.2h0M1418.2,644.6h0M1407.9,529h0M1300.5,574.2h0M1441.2,585.4h0M1440.6,604.8h0M1301.2,606.9h0M1305.5,565.5h0M1345.3,524.3h0M1300.1,582.8h0M1433.1,627.1h0M1402.9,654.1h0M1328.3,645.5h0M1329.9,648.7h0M1409.8,651.1h0M1322.8,643.1h0M1302.3,603.2h0M1391.5,657.3h0M1344.9,522.7h0M1301.1,571h0M1358.7,521.8h0M1423.8,544.9h0M1318.7,540.8h0M1340.3,523.9h0M1300.9,570.9h0M1303.5,564.4h0M1425.3,632.6h0M1304.8,564.9h0M1435.4,620.7h0M1429,547.8h0M1396.7,524.7h0M1320.4,539h0M1390.7,659.2h0M1395.9,655.8h0M1314.1,549.1h0M1332.5,531.9h0M1434,621.9h0M1345.1,654.4h0M1367.3,659.9h0M1417.8,640.7h0M1372.1,659.1h0M1352.4,521.9h0M1336.4,652.8h0M1313.4,545.8h0M1439.7,608.8h0M1301.9,579.8h0M1397.5,526.3h0M1421.5,537.8h0M1328.3,532.3h0M1431,624.4h0M1375.8,661.1h0M1301.1,609.1h0M1406.4,651.8h0M1355.4,521.2h0M1412.6,531.8h0M1435.5,622.5h0M1415.8,533.8h0M1370.2,518.7h0M1370.5,518.4h0M1372.2,518h0M1315.6,635.9h0M1321.8,539.9h0M1437.6,562.6h0M1412.8,647.4h0M1383.6,661.3h0M1301.7,600h0M1333.9,530.5h0M1315.7,635.7h0M1442,591.2h0M1301,578.4h0M1342.2,526.4h0M1312.8,630.6h0M1303.5,606.6h0M1440.1,594.8h0M1302.1,569.9h0M1298.7,601.3h0M1424.3,546.6h0M1418.6,540h0M1341,652.7h0M1434.1,556.5h0M1392.2,659.7h0M1426.9,545.8h0M1404.2,525.9h0M1335.5,653.6h0M1439.9,602.5h0M1436.6,568.6h0M1374.4,519h0M1303,616.1h0M1297.9,591h0M1392.2,524.1h0M1401.6,653.8h0M1341.7,653.2h0M1415.9,535.3h0M1419.7,536.6h0M1426.7,544.6h0M1438.7,566.4h0M1319.5,541.5h0M1414.4,643.9h0M1356.2,659.5h0M1433.3,626h0M1425.6,547.1h0M1320.3,641.7h0M1319.1,540h0M1305.9,560h0M1314.6,548.3h0M1397.3,655.5h0M1299.8,577.8h0M1377.3,658.7h0M1379.8,520.4h0M1348.5,656.8h0M1440.1,576.5h0M1392,521h0M1308.8,623.8h0M1321.2,639.7h0M1349.8,658h0M1437.4,569.3h0M1401.5,652.4h0M1311.2,632.1h0M1394.8,521.6h0M1324,643.4h0M1397.5,526.3h0M1439.3,599.6h0M1300.6,573.8h0M1388.4,522.6h0M1348.8,658.5h0M1428.5,630.7h0M1309.7,552.8h0M1357.5,660h0M1331.5,651h0M1349.4,658.7h0M1431.6,628.5h0M1335.2,528.6h0M1315.3,545.6h0M1434.7,623.3h0M1380.4,659.6h0M1386.7,659.4h0M1301.9,569.8h0M1299.6,578h0M1396.4,523.8h0M1395.9,523.5h0M1306.3,621.9h0M1404.4,528.1h0M1416.6,645.5h0M1318,636.8h0M1423.3,636.5h0M1345,522.5h0M1407.9,651.4h0M1439.9,584.5h0M1393.7,522.1h0M1340.4,524.7h0M1359,660.7h0M1304.2,564h0M1407.1,653.1h0M1307.1,624.8h0M1411.9,532.8h0M1318.9,538.8h0M1311.6,626.5h0M1327.1,646.1h0M1392.4,655.8h0M1412.3,531.6h0M1438.2,605.2h0M1391.1,522.9h0M1420.3,640.2h0M1349.6,657.7h0M1377.5,518.2h0M1435.7,563.3h0M1416.1,536.1h0M1315.3,545h0M1440.8,603.2h0M1300,578.7h0M1386.3,519.6h0M1302.3,604.2h0M1428.9,552.7h0M1337.4,654.7h0M1351.6,658.8h0M1298.3,596.7h0M1299.8,594.6h0M1384.9,659.2h0M1351,657.3h0M1383.7,518.3h0M1298.8,580.3h0M1415.7,534.2h0M1302,606.6h0M1328.6,645.1h0M1427.3,547.7h0M1430.8,553.6h0M1303.7,562.2h0M1344.5,524.7h0M1302.3,578.4h0M1326.6,533.4h0M1433,623h0M1425.3,546.5h0M1325.3,537.6h0M1324.7,642.6h0M1426.9,633.2h0M1441.9,604.9h0M1333.1,531.3h0M1440.8,586.4h0M1440.7,590.4h0M1417.7,645.4h0M1302.3,607.7h0M1305,561.9h0M1388.8,660h0M1438.4,570.3h0M1438.8,604.6h0M1337.3,653.6h0M1430.7,631.2h0M1372.1,520.2h0M1426.9,633.9h0M1431.7,629.2h0M1311,631.6h0M1378.1,518.2h0M1441.9,587.2h0M1298.7,590.1h0M1328.4,649.3h0M1300.1,597.8h0M1313.7,550.4h0M1420.5,539.1h0M1301.4,572.1h0M1440.4,601.6h0M1299.7,597.3h0M1306.7,563.5h0M1392,657.1h0M1407.5,529.8h0M1420.3,538.5h0M1440.1,579.9h0M1440.3,599.9h0M1305.4,620.6h0M1304.1,564.8h0M1306.9,556.5h0M1384,521.3h0M1437.2,610.5h0M1318,640.4h0M1348.1,524.1h0M1440.4,602.1h0M1306.8,619.5h0M1371.9,519.9h0M1324.5,537.8h0M1302.3,573.2h0M1304.1,614.5h0M1303.5,573.2h0M1372.8,661.3h0M1301.2,592.3h0M1369.3,660.4h0M1440.7,608.5h0M1313,630.7h0M1304.2,570.5h0M1440.5,604.5h0M1318.5,636.7h0M1346.8,657.5h0M1392,658.3h0M1413,533.9h0M1328.4,647.5h0M1301.5,589.5h0M1396.1,656.7h0M1430.7,627.3h0M1312.4,550.4h0M1385.1,657.9h0M1336.8,651.7h0M1311.5,547.5h0M1301,569.6h0M1437.5,615.4h0M1315.2,633h0M1400.8,527.2h0M1337.3,525.4h0M1312.8,631.9h0M1432.8,624.7h0M1431,549.2h0M1440.3,576.5h0M1354.3,660.9h0M1336.4,527.7h0M1425.9,631.5h0M1420.4,639.8h0M1306.4,622.8h0M1315.5,636.9h0M1347.7,524.2h0M1306.8,619.1h0M1300.4,574.5h0M1299.9,591.6h0M1374.2,520.5h0M1442.4,598.5h0M1374,520.3h0M1357.9,661h0M1308.8,627h0M1416.6,643.6h0M1298.4,594.9h0M1311.6,550.3h0M1323.9,534.8h0M1393.1,523.5h0M1432.6,621.6h0M1318.3,636.3h0M1418.8,536.3h0M1349.7,659.9h0M1431,554.8h0M1394.2,521.7h0M1315.4,547.5h0M1440,585.5h0M1346.7,523.4h0M1299.2,577.6h0M1440.4,608.7h0M1394.1,655.4h0M1304.3,570.3h0M1437.4,562.1h0M1298.3,582.6h0M1395.8,656.3h0M1392.3,658.5h0M1439,578.2h0M1389,521.1h0M1420.4,539.8h0M1300.2,573.8h0M1440.1,572.6h0M1385.7,660.8h0M1380.2,520.1h0M1324.5,642.4h0M1328,645h0M1409.4,532.6h0M1441.9,576.9h0M1426.2,547.6h0M1301.3,592h0M1438.9,600.9h0M1316.6,637h0M1438.1,608.6h0M1394.2,523.2h0M1442.9,580.7h0M1325.5,643.7h0M1415.6,643.6h0M1416.3,536.9h0M1440.4,598.3h0M1299.3,581.3h0M1435.5,562.5h0M1441.1,607.2h0M1400.5,652.7h0M1328.9,534.3h0M1410.7,530.4h0M1307.1,618.2h0M1299.8,606.2h0M1434.6,620.2h0M1383.6,660.9h0M1333.7,527.4h0M1398.2,524.3h0M1310.9,552.7h0M1406.5,652h0M1433.4,621.8h0M1330,530.2h0M1438.3,609.2h0M1438.3,571.3h0M1319.2,540.5h0M1377.6,661.8h0M1362.5,519.6h0M1430.6,631h0M1405.9,650.6h0M1401.6,526.9h0M1319.8,638.4h0M1300.8,606.6h0M1298.6,591.2h0M1302,570.2h0M1427.1,545.2h0M1330.7,530.8h0M1306,617.1h0M1366.6,519.3h0M1332.8,528.6h0M1414.8,536.8h0M1434.1,618.8h0M1404.9,526.2h0M1427.5,546.2h0M1305.3,557.4h0M1308.6,557h0M1407,652.4h0M1440.4,589.2h0M1318.2,540.9h0M1411.2,530.6h0M1363.3,518.4h0M1378.2,519.5h0M1398.4,656.2h0M1309.1,554.3h0M1408.9,648.5h0M1442.6,596.6h0M1395.1,657.5h0M1307.8,622.8h0M1306.7,622.4h0M1436.2,558.1h0M1433,620.6h0M1300.2,572h0M1407.9,650.4h0M1301.4,576.9h0M1410.2,529.7h0M1398.3,654.3h0M1441.5,597.3h0M1439,602.3h0M1301.2,593.3h0M1408.6,528h0M1399,656.6h0M1300.9,596.8h0M1339.6,655.1h0M1387.4,660.9h0M1306.4,616.4h0M1301.8,610.6h0M1440.7,591.2h0M1388.5,657.1h0M1435.5,618.1h0M1402.6,653.4h0M1368.3,518.2h0M1365.2,517.3h0M1318.5,638.9h0M1432.1,628.9h0M1385.5,660.7h0M1338.4,525.8h0M1438.5,608.7h0M1299.8,575.3h0M1438.9,568.9h0M1440.9,601.6h0M1339.2,652h0M1439.1,568.9h0M1307.9,554.4h0M1318.5,542.9h0M1417.2,537.4h0M1350.3,522.6h0M1402.8,528h0M1309.7,556.1h0M1439.8,604.3h0M1441.5,580.5h0M1440.2,600.6h0M1374.4,661h0M1435.2,615.3h0M1316.9,635.9h0M1428.8,546h0M1390,522.6h0M1410.7,647.3h0M1425.9,637.5h0M1441.4,577.1h0M1440.8,582h0M1433.3,619.7h0M1425.8,546.4h0M1337.1,651.9h0M1309.4,552h0M1423,635.5h0M1355.8,659.3h0M1441,575.2h0M1375.3,518.1h0M1385.5,521.3h0M1339.8,655.4h0M1430.1,632.2h0M1438.5,609.4h0M1326.7,646.9h0M1345.6,654.8h0M1390.7,520.4h0M1387.6,660h0M1426.6,546.3h0M1398.5,523.5h0M1355.3,519h0M1400.3,654.2h0M1329.6,649h0M1381.5,658.3h0M1443.4,590.2h0M1343.7,522.6h0M1301.1,578.9h0M1314.9,635h0M1439.3,606h0M1441.9,591.5h0M1326,647.3h0M1302,605.7h0M1378.2,519.9h0M1418.6,537.4h0M1315,634.3h0M1412.5,531.2h0M1320.8,540.2h0M1304.7,560.5h0M1332.9,528.9h0M1416.4,536.2h0M1300.1,577h0M1440,589.3h0M1440.2,569.6h0M1351.6,522.8h0M1435.1,617.2h0M1389.5,523h0M1441.6,575.3h0M1424.6,544.3h0M1311.9,629.1h0M1436.9,612.4h0M1367.8,662.2h0M1429.2,627h0M1404.9,654.1h0M1354.7,659.1h0M1300.6,606.6h0M1380.6,659.1h0M1379.4,661.2h0M1364.3,662.4h0M1339.8,656.1h0M1443.1,587.2h0M1331,646.6h0M1301.6,575.8h0M1310.9,625.9h0M1439.1,603.2h0M1334.9,526.7h0M1426.9,634.7h0M1374.4,659.4h0M1406.2,527.1h0M1309,557.5h0M1411.9,645.4h0M1360.4,520.2h0M1420.5,641.2h0M1309,627.5h0M1414.8,645.8h0M1300.5,583.9h0M1341.2,526.7h0M1301.6,571.9h0M1359.9,659.5h0M1353.2,657.3h0M1396.5,656.5h0M1327.6,644.6h0M1436.7,565.9h0M1300.3,602.3h0M1423.3,541.1h0M1370.6,659.5h0M1440.3,595.9h0M1421.5,637.7h0M1406.4,529.6h0M1418.2,641.3h0M1359,520.8h0M1315.7,544.5h0M1362.1,659.8h0M1416.8,536.9h0M1437.7,563.6h0M1402,651.8h0M1368.8,520.1h0M1399.9,525.3h0M1328.5,530.8h0M1306,561.1h0M1413.7,648.4h0M1353.5,519.1h0M1389.1,520.5h0M1400.1,652.7h0M1386.1,520.6h0M1300.4,600.6h0M1437.6,607.5h0M1439.9,572.9h0M1301.3,602.4h0M1302.1,603.2h0M1428.5,548.7h0M1405.6,653.3h0M1403.2,527.4h0M1414,534h0M1421.9,539.1h0M1335.3,529.7h0M1316.6,635.4h0M1321,641.4h0M1440.4,600.5h0M1320.4,642.6h0M1370.7,519.3h0M1438.1,609.2h0M1436.3,566.6h0M1387.2,521.4h0M1396.9,522.2h0M1380.7,660.3h0M1315.1,633h0M1311.3,629.7h0M1339.7,526.2h0M1372.4,518.1h0M1397.3,656.5h0M1357.9,659.1h0M1302.4,574.9h0M1335.3,526.1h0M1411.2,647h0M1365.5,659.1h0M1310.8,551.1h0M1317.8,635.2h0M1357,521.4h0M1440,609.2h0M1442.5,582.1h0M1326.5,647.1h0M1439.4,613.2h0M1427.1,633.9h0M1433.4,624.4h0M1424.5,544.8h0M1349.5,524h0M1402.3,654.6h0M1299.9,585.6h0M1380.9,661.2h0M1305.7,618.6h0M1310.4,627.2h0M1305.5,560.5h0M1316,547.7h0M1298.7,600.1h0M1315.7,546.7h0M1340.6,656.2h0M1309.7,553.1h0M1411.2,649.4h0M1430.9,625.1h0M1441.1,581.2h0M1301.6,604.4h0M1425.5,636.9h0M1405.1,654.3h0M1406.5,652.4h0M1439.4,578.6h0M1439.8,602.8h0M1383.2,660.3h0M1371.6,519.7h0M1396.5,657.1h0M1319.6,539.3h0M1364.1,520.8h0M1443.4,586.8h0M1398.8,526.1h0M1307.3,619.8h0M1347.4,655.5h0M1308.2,627.8h0M1427.7,547.2h0M1423.4,541.4h0M1359.9,521.7h0M1439.2,605.5h0M1307.8,556.1h0M1434.9,559.5h0M1414.6,534.4h0M1399.5,655.3h0M1351.7,657.1h0M1431.9,626.4h0M1376.2,520.8h0M1298.7,589.6h0M1342.3,653.5h0M1441.7,597.5h0M1363.9,518.3h0M1349,521.2h0M1432.3,624.1h0M1439.6,567.5h0M1398,526.5h0M1332.4,531.6h0M1382,518.7h0M1438.6,615.8h0M1299.7,590.4h0M1334,530.4h0M1414.5,647.2h0M1347.9,522.7h0M1300.7,581h0M1381.5,660.8h0M1436.9,616h0M1440.8,577.3h0M1299.6,603.5h0M1422,638.5h0M1299.3,599h0M1418.8,536.7h0M1326.3,644.5h0M1341,656.6h0M1382.9,659.1h0M1341.2,654.5h0M1412.5,645h0M1308.9,625.7h0M1303.1,608h0M1339.6,652.7h0M1345,524.2h0M1376.8,519.6h0M1441.2,583.4h0M1360.8,658.7h0M1301.4,583.5h0M1393,520.6h0M1302.9,613.4h0M1314.7,546.9h0M1373.1,659.5h0M1339,526.8h0M1322.5,641.2h0M1309.1,625.8h0M1397.2,657.9h0M1386.9,660.5h0M1399.7,526h0M1301.8,569.9h0M1434.8,555.6h0M1362.5,517.8h0M1346.8,658.2h0M1318.4,541.4h0M1351,656.9h0M1321.8,643.1h0M1416.6,536.2h0M1323.8,537.8h0M1385.5,521.4h0M1325.4,534.1h0M1400.1,526.5h0M1299.8,591.8h0M1406.7,653.3h0M1301.8,610.1h0M1373.3,520.4h0M1373.8,518.7h0M1304.3,560.8h0M1343.7,522.1h0M1300.1,590.2h0M1439.8,590.1h0M1336.5,529.8h0M1428,545.9h0M1301.6,603.2h0M1310.1,630.5h0M1311.1,551.1h0M1317.7,544.2h0M1368,662.6h0M1302,574.8h0M1387.4,658.3h0M1439.9,599.9h0M1315.9,546.8h0M1316.9,635.8h0M1312.4,628.8h0M1352.4,658.8h0M1387.2,659.4h0M1366.6,659.2h0M1299.5,603.5h0M1430.5,630.2h0M1388.3,519.4h0M1308.2,555.4h0M1400.7,655.7h0M1320.5,541.3h0M1441.2,579.4h0M1412.2,533.8h0M1348.6,521h0M1425.6,543.3h0M1349.5,659.4h0M1440.4,572.2h0M1438.3,571.7h0M1374.3,660.8h0M1334,527.1h0M1354.9,660.3h0M1304.8,611h0M1375,519.9h0M1305.1,563h0M1312.6,550.4h0M1298.3,599.4h0M1401.2,655.2h0M1328.5,532.7h0M1312.5,629h0M1423.1,541.5h0M1319.1,639h0M1373.6,520.2h0M1439.2,606h0M1299.9,605.7h0M1301.4,580.7h0M1342,524.8h0M1302.7,566.9h0M1317.1,637.9h0M1432,622.9h0M1344.8,522h0M1439.6,579.9h0M1306.3,556.4h0M1437.4,569.4h0M1389.5,523.3h0M1326.6,534.9h0M1330.4,532.2h0M1416.1,534.3h0M1422.9,539.4h0M1306.9,616.6h0M1440,587.1h0M1353.8,519.6h0M1440.8,576h0M1431.5,553.4h0M1300.7,571.4h0M1423.2,637.1h0M1374.8,661.9h0M1358.2,659.1h0M1381.6,661.4h0M1438.2,612.2h0M1431.3,556.5h0M1346.8,524.8h0M1389.7,519.8h0M1300,595.9h0M1338.2,652.5h0M1325.4,536.6h0M1298.5,596.8h0M1308.8,626.1h0M1301.2,610.3h0M1369.4,518.1h0M1333,652.4h0M1308.9,554.2h0M1421.4,641.7h0M1301.1,596.4h0M1312.6,552.3h0M1368.8,519h0M1346.1,522.4h0M1433.8,560.1h0M1331.1,647.4h0M1299.1,579.5h0M1333.6,648.6h0M1303.2,615.2h0M1301.7,599.9h0M1400.3,653.9h0M1366.7,662.8h0M1418.1,534.6h0M1303,568.2h0M1439.9,582.4h0M1303.6,610.5h0M1439,604.8h0M1369.2,660.4h0M1301.5,600.9h0M1385.2,660.3h0M1395,658.1h0M1302.7,604h0M1384.3,521.9h0M1300.9,583h0M1412.9,530.7h0M1370.1,519.4h0M1425.8,634.3h0M1299.8,600h0M1300.5,590.4h0M1418.6,643.1h0M1337.6,653.6h0M1369.1,517.2h0M1312.3,550.2h0M1299.5,594.1h0M1379.4,660.6h0M1345,656h0M1438.7,612.2h0M1305.3,565.1h0M1350.7,523.1h0M1338,525.4h0M1302.8,610.1h0M1346.1,522.4h0M1441.6,591.1h0M1352.9,659.1h0M1302.3,612.3h0M1404.6,529.2h0M1340.7,655.3h0M1311.8,550.7h0M1435.3,562h0M1440.8,592.2h0M1299.7,574.6h0M1302,607.1h0M1348.1,655.7h0M1361.9,518h0M1440.1,603.6h0M1424.3,635.8h0M1428.1,631h0M1360,659.7h0M1437.6,610.4h0M1441,601.7h0M1390.2,520.5h0M1302.5,570.8h0M1344.1,656h0M1440.2,605.7h0M1441.4,586.2h0M1331.1,650.2h0M1367,662.1h0M1429.2,630.4h0M1438,610.8h0M1358.8,661.2h0M1421.3,636.9h0M1412.2,532.9h0M1407.7,531.2h0M1416.4,642.1h0M1378.7,661h0M1321.4,643.6h0M1426.2,546.2h0M1366.5,661.7h0M1443.2,583.9h0M1336.2,527.3h0M1429,629h0M1422.3,637.2h0M1349.3,656.6h0M1383,521.1h0M1309,624.2h0M1299.4,588.1h0M1409.4,648h0M1395,524.9h0M1300.1,608h0M1387.8,657.3h0M1305.4,561.3h0M1361.3,518.4h0M1301,605.4h0M1330.5,647.8h0M1394.8,524.4h0M1302.6,568.3h0M1398.8,525.3h0M1340.7,653.2h0M1401.4,654.6h0M1303,610.2h0M1314.7,543.1h0M1361.4,658.8h0M1302.2,578.7h0M1437.6,567.4h0M1314.5,547.4h0M1325.8,536.1h0M1391.6,521.3h0M1309.9,552.5h0M1310.7,555.3h0M1300.1,596.1h0M1419.7,538.8h0M1375.4,660h0M1438.7,608.9h0M1322.6,539.7h0M1439.1,598.9h0M1423.4,543.6h0M1409.7,529.6h0M1382.1,658.6h0M1310.5,629.1h0M1299.1,583.6h0M1363.7,518.2h0M1436.4,611.7h0M1398.2,526.1h0M1370,660.1h0M1368.4,519.2h0M1398.6,654.4h0M1437.1,619.5h0M1335.8,527.5h0M1311.1,554.9h0M1438.9,603.9h0M1332,648.3h0M1412.5,648.7h0M1322.3,639.4h0M1406.4,528.4h0M1323.6,538.7h0M1300.1,573.4h0M1321,540h0M1300.6,610.3h0M1399.3,655.9h0M1439.4,574.4h0M1336.8,652h0M1431.7,550.2h0M1359.1,660h0M1441.2,585.1h0M1432.1,554.3h0M1352.5,659.8h0M1312.3,551.1h0M1359.2,520.4h0M1436.5,565.8h0M1376.8,519h0M1440.4,592.6h0M1398.4,526h0M1313.7,547.5h0M1357.1,519h0M1441.8,596.1h0M1389.5,522.8h0M1427,546.3h0M1425.2,541.8h0M1441.3,597.3h0M1329.2,649.4h0M1322.6,535.3h0M1410.7,650.9h0M1434.9,615.5h0M1393.5,521.9h0M1402.4,524.4h0M1300.5,579.1h0M1423.3,637.6h0M1403.2,526.6h0M1409.7,528.6h0M1317.6,544.8h0M1430.9,556.1h0M1408,648h0M1311.3,630.4h0M1379.8,661.8h0M1301.6,599.8h0M1302.5,606h0M1400.5,527.2h0M1412.5,531.8h0M1312.8,628.2h0M1423,540.8h0M1380.5,661.3h0M1313.9,545.2h0M1440.3,594.2h0M1320.6,542.4h0M1424.7,637.1h0M1433.1,558.1h0M1323.5,644.3h0M1442.3,586.1h0M1434.6,619h0M1336.3,651.3h0M1361.9,521.1h0M1302.4,578h0M1316.7,635.1h0M1418.5,639.8h0M1355.2,657.5h0M1309.5,552.5h0M1366,518.6h0M1427.2,634h0M1372.4,517.4h0M1357.5,658h0M1306.4,556.6h0M1376.1,659.4h0M1311.3,550.8h0M1320.8,539.6h0M1333.7,648.7h0M1335.9,530.2h0M1316.6,636.4h0M1410.5,650h0M1304.3,610.4h0M1405.7,650h0M1301.4,603.1h0M1384.4,660.7h0M1438.7,605.2h0M1300.2,584.7h0M1439.5,613.9h0M1360.2,521.3h0M1437.7,569.4h0M1349.2,521.2h0M1439,567.9h0M1323.6,537.6h0M1397.7,655.2h0M1411.1,531.8h0M1435.2,621.9h0M1347.3,658.2h0M1347.8,523h0M1405.8,651.5h0M1395.8,523.9h0M1436.9,567.2h0M1303.6,615.5h0M1320.7,641.3h0M1300,586.3h0M1392.8,658.7h0M1438.4,605.7h0M1396.8,525.8h0M1362.8,520.8h0M1386.5,522.3h0M1417.3,643.2h0M1340.6,653.2h0M1323.4,644h0M1379.3,658.9h0M1302.8,605.5h0M1324.7,535.6h0M1340.1,654.9h0M1387.5,657.7h0M1390.2,521.3h0M1422.8,638h0M1438.6,574.4h0M1399.8,525.1h0M1428.1,629.9h0M1368.1,662.9h0M1371.4,517.5h0M1442.2,598.7h0M1408,530.6h0M1384.2,658.8h0M1302.6,603.9h0M1311.7,632.8h0M1408.1,652.6h0M1441.2,592.7h0M1320.4,641.7h0M1416.9,644.6h0M1305.8,623.1h0M1338.5,651.8h0M1318.3,636.2h0M1306.5,620h0M1406.3,652.8h0M1316.1,546.3h0M1366.1,659.2h0M1361.4,659.7h0M1323.6,644.7h0M1381.1,658.9h0M1378.7,519h0M1306.8,561h0M1435.2,557.1h0M1432.6,622.3h0M1309.9,550.7h0M1443,588.2h0M1426.3,636.7h0M1413.1,648.4h0M1394,658.2h0M1350.9,657.1h0M1299,598.3h0M1298.6,588.1h0M1440.5,603.1h0M1306.3,621.7h0M1306.9,562.4h0M1423.6,635.2h0M1435.9,612.3h0M1442.1,583.3h0M1429.2,552.3h0M1413.4,534.8h0M1396,522.4h0M1339.3,528h0M1370.9,517.8h0M1385.1,660.5h0M1308.3,624.2h0M1351.6,658.4h0M1380.9,518.3h0M1409.5,650.7h0M1368.9,519.3h0M1438.3,613h0M1338.8,525.8h0M1303.8,571.2h0M1308.1,623.3h0M1342.3,524.2h0M1304,569.3h0M1427.6,630.2h0M1384.8,522.2h0M1347.2,522.2h0M1299.1,577.4h0M1301.7,597h0M1421.6,543.3h0M1310.1,551h0M1300.4,608.6h0M1335.4,529.5h0M1349.4,523.2h0M1356.4,521.5h0M1357,659.4h0M1300.6,572.6h0M1427,546.9h0M1331.5,532.3h0M1425.5,542.5h0M1334.7,529h0M1365.3,660.3h0M1367.8,517.4h0M1333.9,652.5h0M1386.1,658.8h0M1428.9,630.9h0M1302.4,572.4h0M1425.3,547h0M1312.3,629.2h0M1435.9,560h0M1412.7,532h0M1319.2,543.5h0M1301.2,576.2h0M1307.9,556h0M1434.3,560.4h0M1298.7,583.8h0M1372.4,662.9h0M1423.4,637.3h0M1407.2,650.8h0M1418.4,537.4h0M1385.3,520.7h0M1440.7,585.8h0M1390.2,658h0M1329.3,533.1h0M1316.4,547.1h0M1429.4,630.2h0M1394.9,657.8h0M1434,620.5h0M1441,589.7h0M1319.3,541.8h0M1424,542.2h0M1436.2,616.4h0M1300.4,593.5h0M1424.5,541.6h0M1311.6,549.4h0M1301.1,576.5h0M1433.1,554.5h0M1398.3,654.3h0M1321.1,643.4h0M1332.1,651.6h0M1389.3,520.5h0M1442,595h0M1343.1,522.8h0M1309.8,555.7h0M1331.2,530.6h0M1424.9,542.1h0M1424.3,545.6h0M1412.1,647.7h0M1306.6,621.7h0M1343.6,656.8h0M1329.7,533h0M1331.7,533h0M1299.3,574.5h0M1301.4,583.6h0M1401.7,525.9h0M1305.6,614.4h0M1440.4,583.6h0M1431.8,555.6h0M1435.9,616.5h0M1441.7,579.6h0M1302.2,577.9h0M1304.8,560.8h0M1369.1,660.1h0M1440.7,597.4h0M1378.4,659h0M1395.7,521.6h0M1400.7,653.8h0M1418.2,640.8h0M1422.4,540.2h0M1412.3,647.2h0M1386.3,657.6h0M1442.3,583.3h0M1435.1,557.9h0M1317.6,545.3h0M1384.9,520.4h0M1308.8,559h0M1338.9,653.9h0M1431.7,552h0M1419.8,541.6h0M1350.2,520.7h0M1441.6,575.8h0M1312.1,630.3h0M1309.7,624.8h0M1396,524.1h0M1311.8,626.2h0M1308.6,553.2h0M1381.1,520.6h0M1395,657.5h0M1401.9,651.8h0M1317.2,540.7h0M1434.6,622.9h0M1441.9,594.1h0M1299.4,589.8h0M1434.7,558.1h0M1431,552.6h0M1423.9,543.8h0M1303.3,606.5h0M1400.3,654h0M1390.2,658.6h0M1397.3,655.3h0M1404.1,650.9h0M1337.3,650.9h0M1439.6,584.1h0M1299.9,584.2h0M1378.1,518.7h0M1303.5,614.8h0M1442.1,586.6h0M1407.5,531.7h0M1429.5,551.9h0M1376.2,658.8h0M1363.6,659.7h0M1319.6,637.1h0M1409.7,649.2h0M1439.6,605.2h0M1309.9,551.6h0M1319.9,639.4h0M1343.9,524.1h0M1310.1,555.7h0M1422.8,539.4h0M1299.8,592.1h0M1440.4,576.1h0M1420.3,537.6h0M1381.5,662.1h0M1389.5,521.5h0M1401,652.9h0M1300,596.7h0M1396.5,655.9h0M1385.7,659.6h0M1419.8,541.2h0M1386.8,521.2h0M1338.4,653.3h0M1322.9,535.1h0M1303.2,562.9h0M1301.6,607.5h0M1435.2,559.2h0M1302.9,565.7h0M1439.1,611.5h0M1435.4,556.7h0M1436.1,562h0M1440.7,577.6h0M1434.5,623.1h0M1350.1,657.8h0M1403.3,526.7h0M1441.4,582h0M1428.3,546.1h0M1301.6,571.4h0M1399,523.4h0M1356.4,522.3h0M1440.6,605.9h0M1440.8,578.7h0M1425.1,637h0M1441.8,594.4h0M1361.4,517.9h0M1355.7,520.7h0M1353.1,520.7h0M1358.2,659.9h0M1433.9,554.3h0M1416.8,645.6h0M1315.6,546.3h0M1440.7,600.7h0M1369.8,660.5h0M1392.6,657.6h0M1385.1,520.7h0M1319.2,640.9h0M1310.7,628.4h0M1318.7,541.5h0M1322.9,536.7h0M1442,596.5h0M1298.6,578.3h0M1352.2,522.7h0M1300.4,591.7h0M1430.9,626.1h0M1436.7,611.7h0M1389.8,522.2h0M1440.4,580.1h0M1428,630.3h0M1423.8,636.6h0M1382.1,661.1h0M1356.1,518.8h0M1417.9,538.5h0M1426.2,547.6h0M1363.7,520.7h0M1441.9,604.6h0M1308.2,622.4h0M1299.8,572.7h0M1300.4,589.6h0M1298.9,600h0M1300.3,609.3h0M1402.7,525.9h0M1299.6,581.6h0M1366.9,520.8h0M1428.8,547h0M1369.1,661.7h0M1415.3,643.4h0M1300.2,591.8h0M1319.5,542.2h0M1440,602.4h0M1323.4,539.2h0M1440.5,587.6h0M1439.4,611.4h0M1323.3,645.1h0M1315.7,547.8h0M1432.3,552.5h0M1411,530h0M1381.7,521.7h0M1315.7,634.9h0M1394.6,656.1h0M1441.3,601.3h0M1302.6,603.6h0M1345.1,525.5h0M1319,541h0M1312.2,547h0M1328.7,533.7h0M1411.9,647.5h0M1436.5,564.6h0M1329.5,647.3h0M1366.6,517.4h0M1299.7,602.2h0M1402.3,652h0M1434.6,561.9h0M1302.6,568.5h0M1303.4,571.9h0M1428.4,551.8h0M1432.8,624.9h0M1439.6,600.9h0M1341.9,654.8h0M1355.4,659h0M1388.6,659.8h0M1306.8,556.7h0M1440.8,589.6h0M1314.2,634.8h0M1397.6,654.7h0M1405.1,531.7h0M1325.1,641.6h0M1384.8,524.3h0M1395,654.1h0M1300.9,592.2h0M1439.8,588.6h0M1310.3,625.9h0M1389.5,657.1h0M1378.2,520.2h0M1438.1,591h0M1418.8,638.2h0M1438.4,575.3h0M1300.5,588.9h0M1436.7,610.6h0M1408.4,534.6h0M1417.6,543h0M1305.1,570.1h0M1332.7,532.6h0M1397.7,525.2h0M1417,642h0M1383.8,658.6h0M1436,603h0M1372.6,657.3h0M1311.6,622.8h0M1420,542.1h0M1403.1,651.8h0M1429.7,621h0M1312.2,552.7h0M1304.6,569.2h0M1439.7,592.2h0M1439.7,578.2h0M1357.4,654.7h0M1301.9,588.3h0M1306.5,611h0M1382.5,522.9h0M1306.7,613.7h0M1400.1,526.6h0M1332.1,535.8h0M1331.7,534h0M1346.2,524.3h0M1432.1,563.1h0M1382.3,658.2h0M1343,652h0M1423.9,629.4h0M1315.5,553.5h0M1436.9,606.4h0M1421.6,636h0M1321.2,540.9h0M1420.4,639.1h0M1431.5,561.7h0M1380.9,658h0M1407.1,650h0M1367.1,520.5h0M1309.4,556.1h0M1433.5,560.7h0M1423.9,629.2h0M1368.8,658.7h0M1369.7,523.7h0M1303.9,600.8h0M1439.3,577.7h0M1406,647.1h0M1420.7,636.2h0M1309.5,559.4h0M1411.2,646.4h0M1302.6,604.9h0M1378.6,659.8h0M1344.4,650.9h0M1438.1,580h0M1329.2,642.6h0M1310.5,625.2h0M1315.6,553h0M1428.7,629.1h0M1428.6,550.6h0M1438.6,579.1h0M1412.9,538.3h0M1331.3,648h0M1303.2,606.7h0M1300.9,587.3h0M1405.8,529.6h0M1321.9,543h0M1303.8,611.7h0M1354.4,654.8h0M1380.8,656.4h0M1439.4,586.6h0M1432.7,563.8h0M1401.2,529.7h0M1369.4,522.3h0M1343.3,525.3h0M1317.4,545.3h0M1427,630.6h0M1302.2,591.3h0M1437,612.4h0M1315.4,630.8h0M1364.2,655.9h0M1345.6,527.1h0M1303.1,601h0M1432.4,563.8h0M1439.2,600h0M1343.2,529.9h0M1425.3,546.1h0M1430.7,560.2h0M1374.9,658.8h0M1319.8,638.6h0M1328.2,644.4h0M1301.9,597.6h0M1313.8,549.5h0M1436.3,569.2h0M1371.9,522.3h0M1398.3,651.6h0M1303.5,571h0M1318.9,544.7h0M1325.8,638.8h0M1429.7,554.8h0M1303.1,586.6h0M1422.6,632.7h0M1323.5,638.2h0M1337.7,648.2h0M1349.3,654.3h0M1372.6,523.5h0M1319.2,545.2h0M1400.6,649.1h0M1440.7,594.8h0M1344,525.8h0M1316.3,545.8h0M1304.3,613h0M1349.1,527.2h0M1367.3,658.8h0M1422.1,548.3h0M1350.7,656.9h0M1335.9,531.5h0M1341.6,653.3h0M1436.8,610.9h0M1368.8,523.1h0M1409.3,534.3h0M1391.7,525.1h0M1358.7,521.8h0M1434.7,615h0M1307.8,563.7h0M1357.2,521.4h0M1318.5,543.9h0M1395.6,528.6h0M1436.2,575.6h0M1432.7,617h0M1438.8,581.8h0M1436.7,573.4h0M1349.2,656.4h0M1439,586.7h0M1428.2,551.1h0M1306.7,571h0M1322.6,539h0M1388,654.8h0M1301.6,602.9h0M1397,526.2h0M1304.5,612.3h0M1392.2,653.3h0M1430.1,620.2h0M1438.5,582.5h0M1428.9,557.7h0M1369.3,657.4h0M1397.1,525h0M1397.8,652.5h0M1320.5,637.2h0M1392.1,655.9h0M1362,521.2h0M1350.4,525h0M1424.7,634.7h0M1433.1,561.7h0M1340.1,652.8h0M1361.9,520.3h0M1437.4,574.1h0M1342,651.6h0M1408.8,531.2h0M1432.7,618.8h0M1313.8,553.1h0M1361.1,657.9h0M1429.7,558.3h0M1386.5,521.6h0M1329.5,535.1h0M1322.2,640.4h0M1353.4,656.5h0M1405.7,533.1h0M1393.8,652.4h0M1340.7,653h0M1382.1,655.6h0M1305.5,603.8h0M1438.5,602.9h0M1432.6,613.7h0M1389.7,657.6h0M1329.9,535.4h0M1317.9,632h0M1328.4,645.8h0M1432.7,618.9h0M1422,637.3h0M1439,590.8h0M1381.4,656.6h0M1421.9,636.5h0M1430.5,555.7h0M1400.4,528.3h0M1398.1,653.6h0M1418.4,538.5h0M1310.1,558.2h0M1437.6,578.8h0M1387.7,522h0M1432.2,620.1h0M1424.8,632h0M1420.6,541.4h0M1310.2,558.8h0M1379.4,656.9h0M1329.9,646.6h0M1308,560.6h0M1301.1,585.4h0M1303.7,606.2h0M1436,575.1h0M1313.1,624.7h0M1364.9,657.3h0M1439.7,592.8h0M1315.4,546.4h0M1335.6,648.6h0M1312,620.5h0M1393.4,524.1h0M1363.9,656.8h0M1300.8,582.4h0M1324.6,541.3h0M1301.8,589.9h0M1318.3,546.4h0M1315.4,629.3h0M1415.3,640.5h0M1321.4,540.7h0M1384,655.9h0M1433.4,620.5h0M1409,644.5h0M1432.1,557.6h0M1323.9,642.1h0M1404.6,650.8h0M1341.9,653.3h0M1384.5,521.6h0M1303,589h0M1384.2,523.6h0M1336,531.5h0M1323.4,538.5h0M1415,535.6h0M1347.8,655.2h0M1418.3,543.3h0M1331,648.1h0M1359.8,657.4h0M1306.2,566.2h0M1437.9,606.3h0M1326,641.4h0M1324.5,538.2h0M1372.7,658h0M1304.5,571.7h0M1381.7,523.7h0M1438.1,581.5h0M1303.6,570.5h0M1312.2,625.4h0M1429.4,554.4h0M1404.8,532.2h0M1338.3,528.6h0M1385.8,521.4h0M1397.7,525.5h0M1375.4,527h0M1327.9,544.5h0M1323.2,637.8h0M1429.7,585.1h0M1366.7,523.9h0M1434.6,591.8h0M1403.7,644.7h0M1327.7,641.2h0M1331.7,634.1h0M1310.6,598.8h0M1338.7,649.2h0M1373.8,652.5h0M1349.3,526.1h0M1413.1,637.9h0M1359.2,647.6h0M1357.6,646.6h0M1323.3,553.3h0M1316.3,570.3h0M1419.2,636.3h0M1414.2,539.9h0M1433.5,603.9h0M1324.6,636.9h0M1305.8,593h0M1333.5,539.5h0M1320.3,619.4h0M1346.6,642.7h0M1405.9,634.7h0M1338.9,648.7h0M1407.3,634h0M1422.5,625.4h0M1355.6,654.7h0M1401.4,644.7h0M1355.9,524.3h0M1405.2,635.2h0M1421.4,558.4h0M1314.1,554.4h0M1354.2,532h0M1417.6,638.3h0M1320,634.4h0M1357.7,654.1h0M1412.5,628.9h0M1313.8,591.9h0M1346,527.4h0M1316,629.5h0M1391.6,528.8h0M1319.3,632.7h0M1427.4,574.5h0M1348.2,537.1h0M1422.4,629.3h0M1309.1,574.4h0M1331.9,639.2h0M1312.6,612.6h0M1429.8,613.2h0M1315.3,564.5h0M1375.7,524.5h0M1433.4,598.8h0M1306.3,610.2h0M1316.5,558.1h0M1432.4,582.2h0M1325.2,639.7h0M1326,636h0M1342.6,648.9h0M1354.4,648.5h0M1437.2,580.7h0M1344.9,641.3h0M1370.1,525.8h0M1315.9,626h0M1327.5,540.5h0M1328,544.2h0M1350.4,528.2h0M1448,590h0M1433.1,590h0M1430.2,590h0M1311.7,590h0M1309.5,590h0"/>
<circle cx="1370.6" cy="590" r="71" fill="none" stroke="#111" stroke-width="1.3"/>
<rect x="1286.6" y="505" width="169.7" height="170" fill="none" stroke="#222" stroke-width="1.1"/>
<path d="M1299.6,675v4" stroke="#222" stroke-width="1.1"/><text class="dv" x="1299.6" y="697.5" font-size="17" text-anchor="middle">−1</text><path d="M1286.6,661h-4" stroke="#222" stroke-width="1.1"/><text class="dv" x="1279.1" y="667.3" font-size="17" text-anchor="end">−1</text><path d="M1370.6,675v4" stroke="#222" stroke-width="1.1"/><text class="dv" x="1370.6" y="697.5" font-size="17" text-anchor="middle">0</text><path d="M1286.6,590h-4" stroke="#222" stroke-width="1.1"/><text class="dv" x="1279.1" y="596.3" font-size="17" text-anchor="end">0</text><path d="M1441.6,675v4" stroke="#222" stroke-width="1.1"/><text class="dv" x="1441.6" y="697.5" font-size="17" text-anchor="middle">1</text><path d="M1286.6,519h-4" stroke="#222" stroke-width="1.1"/><text class="dv" x="1279.1" y="525.3" font-size="17" text-anchor="end">1</text>
<path fill="none" stroke="#1f77b4" stroke-width="3.3" stroke-linecap="round" d="M1378.7,1108.9h0M1314.8,1137.2h0M1437.6,1152.2h0M1433.1,1215.7h0M1379.2,1253h0M1302.3,1197.6h0M1406.2,1117h0M1387.7,1113.5h0M1405.5,1242.7h0M1394.8,1249.9h0M1346.4,1115.5h0M1364.4,1250.4h0M1425.3,1230.9h0M1316.9,1224.7h0M1300,1183.9h0M1300.6,1169.2h0M1436.2,1209h0M1303.6,1202.4h0M1431.8,1219.6h0M1423.8,1228.2h0M1301,1185h0M1314.3,1222.7h0M1410.3,1120.2h0M1400.2,1248.5h0M1439.9,1160.9h0M1358.8,1111.6h0M1301.8,1168.3h0M1444.6,1182.4h0M1310.6,1143.6h0M1323.9,1234.5h0M1329,1126h0M1341.9,1117.2h0M1432.2,1222.3h0M1439.1,1154h0M1379,1251.5h0M1378,1109.7h0M1403.6,1117.2h0M1440.1,1162.5h0M1427.3,1223.4h0M1365.7,1250.2h0M1443.7,1173h0M1440.7,1196h0M1313.6,1144.2h0M1321.5,1229.2h0M1352.8,1111.6h0M1304.2,1156.3h0M1321.3,1134.3h0M1336.6,1117.5h0M1441.8,1161.1h0M1387.4,1251.2h0M1354.1,1110.9h0M1443.2,1189.4h0M1391.3,1110.9h0M1440.3,1156.6h0M1340.2,1246.1h0M1441.1,1163.1h0M1372.7,1112.1h0M1423.3,1131.9h0M1382.9,1251.8h0M1443.3,1186.7h0M1376,1109.9h0M1441.8,1164.8h0M1372.9,1111.6h0M1407,1243.3h0M1442.9,1167h0M1375.8,1109.1h0M1380.4,1112h0M1418.1,1124.6h0M1436,1212.1h0M1443.6,1185.4h0M1429.6,1222.3h0M1390.1,1249h0M1299.7,1178.6h0M1389.2,1113.7h0M1428.4,1222.1h0M1335.8,1120.9h0M1393.9,1248.3h0M1400.4,1246.4h0M1332.7,1239.3h0M1364.3,1112.2h0M1442.3,1200.9h0M1440.4,1193.7h0M1336.5,1244.7h0M1430.7,1224.2h0M1441.4,1195h0M1439.5,1154.4h0M1325.5,1234.4h0M1370.8,1250.6h0M1386.6,1109.6h0M1436.8,1215.4h0M1424.1,1232.1h0M1398,1246.3h0M1423.3,1230.4h0M1424.6,1231.1h0M1338.3,1244.4h0M1426.7,1225.2h0M1302.5,1168.6h0M1444.2,1169.2h0M1313.3,1221h0M1418.9,1234.3h0M1418.4,1126.4h0M1380.1,1251.8h0M1441.9,1176.6h0M1406.3,1245.4h0M1303.4,1200.5h0M1389,1251h0M1379.6,1110.4h0M1443.3,1196.5h0M1425.4,1134.7h0M1425.7,1228.1h0M1308.5,1153.1h0M1384.4,1253h0M1425.4,1230.2h0M1349.8,1115.2h0M1310.5,1148.5h0M1406.8,1120.8h0M1404.6,1116.4h0M1300.6,1178.6h0M1305.2,1199.3h0M1354.4,1252h0M1345.4,1115.6h0M1302.3,1175.3h0M1299.9,1174h0M1374.3,1111.5h0M1328.8,1126.3h0M1442.6,1187.5h0M1340.9,1244.5h0M1345.4,1117.2h0M1304.3,1166.9h0M1348.4,1115.8h0M1388.5,1250h0M1304.6,1155.4h0M1381.7,1252.2h0M1334.3,1242.9h0M1435.2,1145.3h0M1398.5,1248.6h0M1430.7,1222.6h0M1308.7,1214.1h0M1319.6,1231.2h0M1315.5,1141.3h0M1402.4,1117.5h0M1339,1117.5h0M1444.5,1170.6h0M1438.6,1203h0M1394.4,1247.5h0M1441.6,1202.1h0M1310.9,1217.1h0M1310.3,1212.3h0M1376.8,1250.3h0M1424.6,1134h0M1340.6,1243.8h0M1320.8,1228.3h0M1349.7,1115.6h0M1313.6,1141.9h0M1428.3,1223.6h0M1345.9,1114.1h0M1339.6,1118.6h0M1441.8,1182.8h0M1314.4,1139.3h0M1401.9,1246.8h0M1310.3,1142.7h0M1400.9,1116.3h0M1347.7,1247.4h0M1326.7,1129h0M1320.5,1231.8h0M1435.4,1152.6h0M1441.5,1186.5h0M1315.2,1224.8h0M1432.8,1142.1h0M1384.4,1112.9h0M1426.9,1224.9h0M1415.1,1123.2h0M1351.2,1115.2h0M1408.5,1121.4h0M1342.4,1245.5h0M1442,1199.4h0M1300.7,1192.2h0M1432.1,1139.6h0M1342.9,1114.9h0M1436.4,1155.2h0M1355.4,1113.7h0M1351.4,1248.2h0M1333.4,1238.6h0M1423,1229.8h0M1306.9,1207.1h0M1360.6,1251.1h0M1299.9,1182.4h0M1412,1240.2h0M1438.2,1151.3h0M1423.2,1232.2h0M1317.7,1136.8h0M1418.6,1236h0M1318.2,1134.6h0M1440.8,1169h0M1441.1,1172.9h0M1413.9,1121.9h0M1412.8,1238h0M1380.3,1110.8h0M1302.8,1171h0M1400,1117.1h0M1442.6,1182.8h0M1433.3,1214.1h0M1321.6,1133.3h0M1407.8,1242.4h0M1427.5,1137.2h0M1433.4,1219h0M1330.3,1236.6h0M1313.4,1224.1h0M1323.6,1234.3h0M1416.5,1236h0M1347.8,1116.1h0M1321.6,1231.9h0M1407.4,1241.2h0M1426.8,1224.5h0M1334,1240.2h0M1316.1,1224.6h0M1443.7,1186.8h0M1433.5,1146.8h0M1301.4,1180.3h0M1313.4,1222.8h0M1394.4,1111.9h0M1386,1249.3h0M1348.5,1249.7h0M1441.5,1190.6h0M1299.4,1185.5h0M1411.6,1239.9h0M1319.8,1231.9h0M1364.5,1253.7h0M1300.5,1171.3h0M1328,1127.6h0M1371.6,1251h0M1351,1112.9h0M1314.6,1225.8h0M1313.3,1145h0M1374.1,1250.8h0M1351.1,1114.1h0M1389.3,1249.4h0M1305.5,1153.5h0M1441.4,1173.4h0M1437.8,1211.1h0M1374.9,1252.6h0M1323.8,1231.3h0M1341.8,1117.5h0M1369.6,1110.2h0M1443,1167.7h0M1356.2,1113.6h0M1419.5,1129.4h0M1431.5,1145.3h0M1408.9,1118.4h0M1388.9,1113.8h0M1338.3,1241.9h0M1299.7,1180.9h0M1333.9,1121.2h0M1444.5,1185.6h0M1374.9,1111.5h0M1424.5,1135.7h0M1351.9,1113.4h0M1335.3,1240h0M1434.3,1149.3h0M1402.5,1117.8h0M1441.3,1169.3h0M1402.6,1115.6h0M1442.3,1165.6h0M1339.7,1120.2h0M1316.2,1225.7h0M1444.5,1185.7h0M1387.4,1113.6h0M1439.4,1202.3h0M1444.4,1190.9h0M1430.1,1221.2h0M1338,1241.9h0M1429.6,1137.2h0M1418.4,1127h0M1304.3,1201.5h0M1326.9,1127.8h0M1409.3,1240.7h0M1442.7,1164.1h0M1386.1,1110.4h0M1307.7,1213.5h0M1321.5,1231.8h0M1326.3,1128.1h0M1440.2,1206h0M1332.2,1124.8h0M1389.3,1110.3h0M1397.5,1116.1h0M1364.2,1250.1h0M1299.4,1180h0M1348,1115.3h0M1315.6,1136h0M1321.7,1131.1h0M1328.3,1125.1h0M1420.1,1126.1h0M1387,1249.8h0M1309,1145.6h0M1352.3,1113.2h0M1428.4,1224.9h0M1442.3,1192.9h0M1401.9,1117.1h0M1315.1,1222.8h0M1360.7,1253.2h0M1307.8,1154.2h0M1419.4,1125.6h0M1401.7,1115.6h0M1306.4,1152.7h0M1324.2,1235.3h0M1332.5,1123.1h0M1305.7,1200.3h0M1438.6,1209.3h0M1336.2,1120.2h0M1303.4,1200.8h0M1419.3,1236.1h0M1300.9,1168.1h0M1424.8,1228.6h0M1444.6,1186.8h0M1355.2,1249.8h0M1438.5,1159h0M1423.5,1232.9h0M1437.6,1206.3h0M1316.2,1224.5h0M1366.3,1108.6h0M1303.5,1170.5h0M1390.4,1112.4h0M1358,1112.3h0M1439.6,1198.7h0M1355.5,1111.8h0M1443.3,1180h0M1414.5,1236.7h0M1436.5,1150h0M1434.8,1146.8h0M1433.7,1218.6h0M1411.5,1238.3h0M1402.4,1246.9h0M1432.8,1215.3h0M1445.3,1181.8h0M1444.2,1179.6h0M1301.4,1189.1h0M1431.3,1142.5h0M1337.4,1242.6h0M1301.6,1185.9h0M1345.4,1248.8h0M1305.5,1152.9h0M1427.9,1138.6h0M1340,1117.2h0M1360.3,1111.5h0M1424.3,1133.5h0M1434.9,1151.5h0M1410.9,1122.8h0M1303.8,1201.2h0M1348.4,1113.7h0M1376.3,1252.1h0M1302.1,1197.5h0M1321.1,1232.3h0M1302.2,1173.4h0M1304.2,1200.6h0M1306.9,1212h0M1440.2,1199.7h0M1361.7,1249.7h0M1303.9,1159.8h0M1348.4,1113.5h0M1350,1112.9h0M1390.4,1112.4h0M1353.6,1112.1h0M1335.2,1242.7h0M1418,1234.1h0M1339.3,1119.7h0M1404.7,1116.2h0M1445.2,1183.6h0M1441.9,1178.7h0M1442.8,1180h0M1304.5,1206h0M1374.3,1112h0M1315.8,1136.5h0M1306.8,1156h0M1353.9,1110.9h0M1390.7,1251.5h0M1440.9,1156.3h0M1443.6,1184.1h0M1366.6,1251.8h0M1443.1,1192.5h0M1331.1,1124.1h0M1443.9,1180.9h0M1376.4,1251.9h0M1303.1,1176.8h0M1308.3,1152.4h0M1315.6,1135.7h0M1317.4,1134.3h0M1443.2,1168.9h0M1422.3,1130.4h0M1366.9,1251.1h0M1425.7,1229.2h0M1338.6,1242.1h0M1317.2,1138.9h0M1427.7,1139.4h0M1423.1,1228.2h0M1406.4,1242.6h0M1307.8,1153.3h0M1423.4,1230.1h0M1322.2,1229.3h0M1356.8,1111.2h0M1440.2,1165.8h0M1323.9,1232.4h0M1377.7,1109.1h0M1303.3,1171.9h0M1328.7,1124.7h0M1311.6,1146.8h0M1421.9,1132.3h0M1442.4,1176h0M1378.4,1252.1h0M1368.6,1253h0M1417.6,1125.7h0M1365.6,1111.3h0M1307.5,1208.8h0M1441.5,1191.8h0M1390.2,1248.1h0M1435.5,1211.6h0M1331.3,1123.2h0M1374.8,1251.1h0M1429,1222.5h0M1337.1,1244.1h0M1320.1,1231.2h0M1328.7,1238.9h0M1441.2,1173.5h0M1421.4,1233.6h0M1439.4,1161.7h0M1382,1253h0M1400.8,1244.8h0M1308.1,1213.6h0M1440.6,1155.9h0M1306.9,1155.8h0M1325.7,1236.3h0M1394,1250.7h0M1317.7,1228.7h0M1444.5,1178.7h0M1392.8,1250.4h0M1443.2,1174.9h0M1331,1123.7h0M1310.2,1214h0M1434.1,1217.5h0M1324.3,1235.6h0M1371.7,1108.5h0M1418.7,1235.8h0M1355.2,1248.7h0M1318.2,1133.3h0M1373.2,1110.1h0M1317,1133.9h0M1413.9,1238.1h0M1420.7,1231.4h0M1361.6,1250.2h0M1351.9,1249.6h0M1401.4,1244.3h0M1428.8,1135.9h0M1406.7,1118.8h0M1419,1234.6h0M1416.3,1237.7h0M1306.3,1210.1h0M1326.5,1236.7h0M1443.7,1177.9h0M1308.2,1208.3h0M1356.6,1113.6h0M1399.6,1248.3h0M1384.7,1249.5h0M1440.6,1197.8h0M1317.6,1136.1h0M1331.1,1238.5h0M1398.3,1116.7h0M1301.9,1199.6h0M1347.1,1113h0M1301.8,1163.5h0M1301.6,1194.5h0M1404.9,1243.2h0M1399,1116.6h0M1309.7,1216.7h0M1434.2,1219.9h0M1315.4,1139.3h0M1409.4,1120.5h0M1425.9,1228.9h0M1353.7,1251.1h0M1440.7,1191.8h0M1408,1120.9h0M1335.7,1118.2h0M1389.4,1113.1h0M1303,1165.8h0M1422.5,1129.1h0M1325.3,1128h0M1402.8,1245.6h0M1339.6,1119.9h0M1346.6,1246.4h0M1396.6,1248h0M1367.7,1108.8h0M1333.8,1239.8h0M1429,1221.2h0M1301.2,1182.8h0M1443.2,1197.1h0M1322.2,1131h0M1315.6,1223.3h0M1411,1121.6h0M1404.4,1117.3h0M1403.3,1116.4h0M1322.4,1232.3h0M1407.4,1119.3h0M1337.7,1244.2h0M1362.5,1110.6h0M1347.9,1249.9h0M1338.4,1245.6h0M1428,1227.3h0M1405.1,1246.3h0M1300.3,1178.2h0M1383.7,1250.3h0M1423.2,1129.1h0M1363.5,1252h0M1322.3,1129.8h0M1324.9,1128.7h0M1316.9,1134.3h0M1304.2,1168.9h0M1379.6,1251h0M1436.3,1212.5h0M1327,1128h0M1428.2,1139.1h0M1414.5,1124.6h0M1302.5,1187.3h0M1437.3,1154.1h0M1406.2,1245.7h0M1343.2,1247h0M1369.8,1250.4h0M1443.7,1180h0M1303.1,1180.9h0M1437.1,1214.7h0M1419.1,1127.2h0M1395.6,1247.2h0M1307.1,1205h0M1402,1244.1h0M1324.4,1235h0M1365.4,1251.1h0M1437.3,1212.9h0M1443.3,1171.3h0M1369.7,1109.7h0M1438,1155.3h0M1307.7,1149.5h0M1429.2,1139h0M1428.8,1140.5h0M1360.6,1112.7h0M1423.2,1131h0M1384.9,1251.1h0M1306.4,1158.8h0M1408.1,1121.4h0M1300.7,1187.8h0M1330,1123h0M1324.3,1234h0M1302.3,1189.2h0M1417,1235.5h0M1352.3,1113.7h0M1347.6,1246.2h0M1318.7,1134.7h0M1375.3,1252.9h0M1339.8,1118.5h0M1323.4,1131.5h0M1330.9,1122.1h0M1317.8,1226.2h0M1441.5,1185.4h0M1309.5,1147.4h0M1331.2,1239.2h0M1311.4,1218.6h0M1416.6,1234.8h0M1389.9,1249.1h0M1427.2,1227.9h0M1439.8,1207h0M1429.5,1139h0M1411.6,1120.9h0M1315.3,1225.9h0M1315,1138.3h0M1440.4,1206.6h0M1301.2,1185.6h0M1409.9,1120.2h0M1325.5,1127h0M1305.9,1206h0M1302.6,1166.1h0M1317.3,1226.3h0M1422,1131.2h0M1313.7,1143.5h0M1420.1,1128.9h0M1350.6,1114h0M1401.5,1245.4h0M1309.8,1211.4h0M1382.6,1112.8h0M1306.9,1154.8h0M1422.3,1128.1h0M1410.6,1121.5h0M1376.6,1111.4h0M1411.9,1123h0M1429.2,1222.5h0M1434.1,1213.8h0M1418,1238h0M1300.6,1185.9h0M1307.3,1154.8h0M1363.7,1252.9h0M1407,1117.2h0M1367.8,1250.9h0M1433,1141.6h0M1417.1,1128.5h0M1436.1,1150.5h0M1423.9,1231.9h0M1343,1246.6h0M1327.4,1236.4h0M1413.5,1125.2h0M1303.1,1181.3h0M1315.1,1220.2h0M1331.2,1241.3h0M1441.4,1179.2h0M1337.1,1241.6h0M1410,1242.1h0M1352.7,1248.9h0M1438.2,1155h0M1436.4,1211.4h0M1389,1252h0M1311.1,1145.2h0M1306.7,1204.9h0M1301.6,1176.9h0M1302.4,1189.3h0M1309.6,1215.5h0M1356.8,1113.3h0M1329.5,1125.5h0M1363,1112.7h0M1387.3,1111.4h0M1325.1,1130.1h0M1364,1252.7h0M1375.1,1111.1h0M1304,1157.4h0M1424.6,1134.3h0M1335.3,1240.5h0M1435.3,1148.1h0M1415.8,1125.3h0M1381.5,1109.7h0M1305.2,1208.2h0M1392.2,1250.8h0M1365,1111.5h0M1366.1,1109.6h0M1387.1,1250.5h0M1398,1245.9h0M1443.1,1197.9h0M1316.6,1136.8h0M1356.4,1113.4h0M1317.7,1138.4h0M1436.7,1150.7h0M1323.9,1231.7h0M1303.2,1173.7h0M1351.4,1112.7h0M1397.8,1113.6h0M1302.4,1175.1h0M1397.4,1114.7h0M1309.1,1152.9h0M1302.5,1178h0M1379.1,1112h0M1443.9,1170.5h0M1325.2,1234.3h0M1302.7,1193.2h0M1331.7,1123.7h0M1315.9,1138.5h0M1356.3,1251.2h0M1377.2,1250.8h0M1444.9,1186.3h0M1307.6,1148.8h0M1407.4,1119.2h0M1385,1252.6h0M1391.8,1248.2h0M1440.9,1195.4h0M1390,1113.2h0M1308,1213.5h0M1390.7,1250.5h0M1409.7,1239.9h0M1314.5,1137.4h0M1401.4,1247.5h0M1423,1133.5h0M1378.2,1109.4h0M1317.7,1137.1h0M1396.7,1113.7h0M1438.1,1151.8h0M1370.7,1251.7h0M1316,1222h0M1442.9,1167.4h0M1324.9,1234.9h0M1443.7,1191.7h0M1440.2,1198.7h0M1341.6,1243.4h0M1306.7,1152.2h0M1307.7,1153.9h0M1402.8,1244.8h0M1390.6,1249.2h0M1384.8,1252.6h0M1406.5,1243.4h0M1338.4,1117.1h0M1315.7,1225.9h0M1326.6,1127h0M1390.6,1111.4h0M1435.9,1148.2h0M1406,1244.9h0M1364.6,1109.1h0M1317.4,1224.8h0M1399.1,1116.7h0M1444.7,1176.5h0M1430.4,1142.2h0M1433.2,1146.3h0M1390.7,1111.7h0M1428.9,1140.2h0M1324.5,1130.8h0M1347.8,1247.7h0M1303.6,1164h0M1311.6,1214.6h0M1385.8,1110.1h0M1442.6,1181.9h0M1324.1,1233.6h0M1444.2,1175.3h0M1395.5,1249.3h0M1316,1224.7h0M1406.4,1116.9h0M1436.7,1153h0M1377.6,1110.4h0M1310.4,1213.9h0M1410.6,1121h0M1374.7,1251.6h0M1302.7,1170.1h0M1388.2,1249h0M1300.9,1194.7h0M1420.6,1130h0M1341.9,1245.7h0M1348.7,1249.4h0M1316.1,1137h0M1372,1250.5h0M1360.9,1109.5h0M1324.8,1130.2h0M1445.1,1183.6h0M1335.6,1120.2h0M1428.1,1224.8h0M1310,1150.9h0M1365.2,1250.4h0M1397.8,1245.5h0M1344,1245.2h0M1301.9,1183h0M1436.4,1207.7h0M1429.4,1222.4h0M1301,1177.8h0M1318.5,1137.5h0M1337.2,1241.7h0M1336,1244.1h0M1304.4,1158.2h0M1441.3,1195.1h0M1325,1128.2h0M1427.7,1225.5h0M1352.9,1250.1h0M1309.6,1150h0M1394.4,1114.4h0M1409.8,1239.3h0M1302.8,1193.9h0M1442.2,1183.9h0M1420.6,1233.2h0M1419.3,1129.6h0M1430.5,1141.9h0M1354.3,1113.7h0M1327.5,1236.3h0M1301,1172h0M1443.2,1181.6h0M1442.5,1199.4h0M1443.8,1170h0M1343,1118.5h0M1421.5,1130h0M1416.8,1237.6h0M1353.8,1111.4h0M1439,1157.5h0M1305.5,1208.6h0M1306.4,1207.8h0M1347.8,1249h0M1382.2,1112.3h0M1345.2,1245.8h0M1333.1,1122.3h0M1321.2,1132.8h0M1440.7,1200.6h0M1304.7,1161.9h0M1300.7,1179.4h0M1441.5,1171.5h0M1302.7,1185.4h0M1333.7,1123.3h0M1397.7,1248.7h0M1385.3,1252.9h0M1329.3,1236.4h0M1359.4,1251.9h0M1329.1,1123.2h0M1428.7,1223.8h0M1386.3,1250.9h0M1309.1,1152.7h0M1436.8,1208.7h0M1331.6,1237.6h0M1340.5,1116.9h0M1388.7,1249.7h0M1378.8,1251.1h0M1313.2,1139h0M1382.4,1250.1h0M1301.9,1195.2h0M1413.2,1240.8h0M1397.1,1114.9h0M1302.8,1172.1h0M1441.4,1174.6h0M1358.7,1111.4h0M1442.9,1169.4h0M1303,1183.9h0M1398.4,1113.5h0M1418.4,1233.2h0M1301.3,1180h0M1424.4,1229.7h0M1304.4,1159.4h0M1375.6,1109.3h0M1323.6,1127.1h0M1304.2,1165.2h0M1422.3,1233.8h0M1326.5,1128.7h0M1441.4,1200.8h0M1402.8,1118.4h0M1352.4,1113.6h0M1436.5,1213.9h0M1352.4,1113.3h0M1433.6,1145.2h0M1309,1214.1h0M1368.2,1251.5h0M1311.3,1215.2h0M1417.3,1124.6h0M1357.2,1110.5h0M1428.1,1223h0M1428.9,1224.9h0M1413.4,1237.1h0M1380.3,1250.5h0M1343.5,1248.2h0M1338.4,1117.7h0M1302.7,1194.4h0M1434.9,1216.9h0M1443.9,1191.9h0M1388,1251.3h0M1307.1,1208.3h0M1439.8,1159.8h0M1333.7,1242h0M1431.1,1142h0M1367.7,1109h0M1376.3,1110.5h0M1302.1,1167.3h0M1425.6,1132.6h0M1318.3,1228.1h0M1400.9,1117.5h0M1303.7,1202h0M1442.1,1193.8h0M1413.2,1123h0M1365.8,1111.8h0M1385.6,1252.7h0M1418.1,1127.8h0M1300.5,1182.7h0M1300,1175.8h0M1302.8,1167.4h0M1437.1,1209.4h0M1307.6,1214.8h0M1301.5,1183.3h0M1335.5,1242.8h0M1438.1,1205.9h0M1360.1,1249.3h0M1442.1,1200.8h0M1429.3,1223.5h0M1314.4,1225.6h0M1436.1,1152.7h0M1326,1129.8h0M1439.2,1204.8h0M1312.4,1218.8h0M1304.5,1198.2h0M1443.7,1187.5h0M1310.6,1145.1h0M1436.1,1146.9h0M1401.6,1117.5h0M1402.1,1117.1h0M1443,1191.7h0M1444.4,1181.5h0M1327.6,1124.1h0M1413,1122.5h0M1383.1,1250.8h0M1384.6,1109.5h0M1436.1,1148.3h0M1302.8,1203.6h0M1427.9,1138h0M1379.9,1108.7h0M1399.4,1248.7h0M1369.4,1254h0M1418.2,1235.6h0M1334.5,1119.7h0M1402.9,1245.7h0M1305.2,1206.6h0M1403.2,1116.3h0M1369.3,1111.1h0M1403.5,1243.9h0M1352.4,1112.3h0M1439.1,1205.8h0M1308.3,1215.9h0M1384.1,1251.5h0M1386.8,1111.5h0M1394.1,1112.9h0M1326.4,1126.6h0M1333.9,1119.9h0M1407.5,1242.8h0M1321.5,1132.2h0M1430.5,1139.1h0M1328.3,1125.3h0M1418.7,1235.3h0M1313.1,1142.7h0M1383.1,1252.2h0M1341.4,1245.8h0M1444.6,1172.9h0M1440.2,1158.9h0M1384.7,1111.5h0M1365.9,1252.2h0M1363.1,1252.5h0M1398.4,1116.5h0M1304.5,1205.9h0M1328.5,1127.2h0M1436.9,1155.1h0M1424.7,1135.4h0M1301.5,1196.8h0M1360.9,1110.6h0M1316.4,1223.3h0M1412.4,1241.2h0M1311,1215.1h0M1397.7,1116.1h0M1375.9,1110.6h0M1301.4,1180.6h0M1415.9,1239.1h0M1367.8,1112.1h0M1324.3,1231.5h0M1381.6,1110h0M1311.6,1216h0M1299.7,1186.1h0M1306.5,1157.3h0M1425.8,1230.4h0M1318.2,1137.6h0M1365.3,1251.5h0M1407.9,1119.7h0M1310.4,1146.3h0M1299.7,1178.4h0M1399.4,1247.2h0M1398.5,1115.6h0M1340,1116.2h0M1308.9,1217.3h0M1433.7,1216.4h0M1365.7,1112.1h0M1308.6,1216.9h0M1360.1,1253h0M1360.2,1111.4h0M1335.2,1239.7h0M1402.2,1247.1h0M1303.1,1203.1h0M1351.8,1249.5h0M1330.8,1240.9h0M1301,1178.5h0M1440.2,1162.4h0M1441.8,1190.2h0M1443.1,1197.6h0M1327.1,1235.6h0M1305.6,1160.4h0M1310.4,1143.1h0M1325.8,1233.1h0M1323.9,1129.8h0M1413.6,1125.6h0M1444.6,1191.1h0M1329,1235.5h0M1299.8,1187.4h0M1362.9,1251.6h0M1332.6,1120.2h0M1384.5,1112.4h0M1302.6,1168.1h0M1327.6,1237.1h0M1376.8,1251.3h0M1442.3,1172.5h0M1442.3,1169.2h0M1434.5,1212.9h0M1349.4,1115.7h0M1404.8,1118.9h0M1379.1,1253.8h0M1368.4,1110.4h0M1444.7,1182.9h0M1304.8,1164.6h0M1405,1119.6h0M1369.3,1251.1h0M1333.5,1122.1h0M1415.5,1123.7h0M1398.8,1248.8h0M1302.2,1200.4h0M1397,1247.3h0M1422.4,1133h0M1331.4,1238.6h0M1434.1,1148.7h0M1349.8,1249.1h0M1434.4,1148.9h0M1385.2,1112.5h0M1310.6,1217.4h0M1304.1,1158.4h0M1302.8,1184.9h0M1306.4,1209h0M1347.5,1245.9h0M1400.8,1116.3h0M1426.5,1226.9h0M1378.6,1109.2h0M1352.9,1249.3h0M1436.3,1146.9h0M1347.6,1114.8h0M1305.6,1154.5h0M1374.4,1110.5h0M1388.6,1250.9h0M1304.3,1163.5h0M1326,1128.7h0M1444.3,1180.4h0M1308,1214.9h0M1440.6,1163.3h0M1306.9,1207.6h0M1414,1239.6h0M1430.4,1219.7h0M1441,1202.3h0M1436.7,1153.8h0M1398.3,1113.2h0M1360.5,1250.5h0M1337.7,1245h0M1356.2,1251.5h0M1301.9,1180.2h0M1329.8,1123.5h0M1407.5,1242.3h0M1408.2,1244.6h0M1384.4,1252.5h0M1341,1118h0M1389.2,1249.7h0M1301.4,1183.9h0M1315,1225.1h0M1323.1,1129.6h0M1428.1,1136.8h0M1345.9,1249.3h0M1335.3,1122.5h0M1432.4,1221.8h0M1430.7,1218.8h0M1323.3,1234.2h0M1301.3,1166.5h0M1303.1,1203.2h0M1315.9,1135.7h0M1341.2,1245.8h0M1412.9,1238h0M1411.4,1122.9h0M1365.7,1252.9h0M1405.8,1245.8h0M1342.3,1117.6h0M1396.1,1246.3h0M1306.8,1206.4h0M1438.2,1202.9h0M1339.3,1118h0M1381.9,1251.5h0M1433,1147.5h0M1317.2,1134.2h0M1335.7,1118.2h0M1434.4,1218.6h0M1441.6,1181.1h0M1347.2,1115.2h0M1324,1128.2h0M1434.8,1213.1h0M1336.4,1121.4h0M1381.3,1250.3h0M1309.4,1147.6h0M1430.1,1222.8h0M1326.2,1127.7h0M1349.2,1248.3h0M1433.8,1149.5h0M1401.8,1116.9h0M1338.2,1116.9h0M1379.8,1110.2h0M1442,1160.6h0M1301.2,1188.7h0M1439.9,1157.1h0M1383.1,1112.4h0M1434.5,1212.5h0M1428.7,1224.5h0M1383.9,1111.6h0M1383.9,1112.7h0M1386,1111.8h0M1317.9,1229.4h0M1364,1251.9h0M1349,1248.2h0M1386,1252.5h0M1385.2,1112h0M1432,1141.9h0M1354.7,1251.5h0M1314.8,1140.8h0M1391.9,1112.1h0M1302.9,1188.1h0M1303.2,1190.1h0M1300.4,1171.3h0M1428.5,1225.1h0M1419.8,1128.7h0M1304.8,1153.4h0M1348.5,1112.7h0M1314.9,1138.1h0M1441,1205.4h0M1350.8,1111.5h0M1320,1132.2h0M1340.9,1116.1h0M1345.2,1116.9h0M1430.6,1221.6h0M1308.1,1214h0M1441.9,1203.1h0M1301.4,1183.7h0M1303,1185.1h0M1312.2,1221.9h0M1427.4,1136.8h0M1443.4,1173.7h0M1385.2,1251.2h0M1443.5,1183.7h0M1333.1,1120h0M1304.4,1159.3h0M1357.7,1250.4h0M1421.3,1232.8h0M1308.5,1146.6h0M1370.3,1252.9h0M1303.6,1165.5h0M1303,1201.9h0M1336.6,1244.3h0M1430.5,1218.5h0M1443.2,1187.6h0M1328.8,1125.3h0M1379,1253h0M1325.9,1235.9h0M1319.8,1130.8h0M1361.1,1252h0M1306.1,1206.7h0M1419.4,1233.2h0M1368.3,1250.5h0M1412.2,1241.7h0M1419.3,1232.5h0M1399.4,1114.6h0M1378.4,1250.5h0M1436.7,1153.7h0M1421.6,1232.7h0M1382.3,1109.8h0M1377.5,1111.7h0M1375.5,1253.1h0M1369.8,1251h0M1366.5,1111.9h0M1317.5,1229.1h0M1314.9,1138.3h0M1395.9,1114.7h0M1310.2,1150.3h0M1305,1159.3h0M1431.6,1223.8h0M1345.5,1117.1h0M1332.9,1238.8h0M1436.2,1152.7h0M1368.1,1109.5h0M1328.8,1125.1h0M1412.3,1239.2h0M1347.3,1248.8h0M1350.2,1249.3h0M1407.2,1242.6h0M1405.6,1117.9h0M1336.2,1241.8h0M1383.9,1109.9h0M1367.8,1253.7h0M1303,1190.7h0M1393.2,1111.3h0M1440.6,1196h0M1356.6,1249.5h0M1397.6,1247.7h0M1431.4,1217.4h0M1352.9,1248.6h0M1440.8,1157.9h0M1305.9,1203.4h0M1440.2,1166.2h0M1433.2,1221.2h0M1360.1,1250.4h0M1351.4,1113.5h0M1402.9,1116.7h0M1430.6,1222.5h0M1300.6,1177.7h0M1343.4,1246.1h0M1319,1134.3h0M1323.2,1230.2h0M1349.2,1112.7h0M1376.4,1109.3h0M1301.4,1196.6h0M1401.6,1116.2h0M1443.7,1177.7h0M1429,1225.4h0M1312.1,1217.8h0M1349.6,1246.6h0M1300.2,1186.6h0M1364.4,1253.2h0M1306.5,1149.9h0M1389.3,1111.3h0M1317.1,1223.5h0M1434.2,1150.1h0M1342.8,1115.6h0M1442.8,1167.2h0M1443.9,1180.6h0M1357.8,1250.7h0M1377.3,1112.1h0M1425.7,1227.5h0M1363.7,1110.2h0M1435,1149.7h0M1325.4,1233.6h0M1334.5,1241.5h0M1300.7,1181h0M1355.3,1110.5h0M1313.6,1220.8h0M1433.9,1217.2h0M1444.8,1186.5h0M1301.6,1173.8h0M1313.2,1217.9h0M1307.2,1208h0M1412.9,1237.3h0M1423.3,1133.6h0M1317.3,1137.5h0M1397.1,1249.5h0M1438.1,1158.7h0M1303.9,1195.1h0M1421.4,1130h0M1305,1208.7h0M1328.7,1238.5h0M1320.2,1231.5h0M1346.4,1247.1h0M1367.2,1251.5h0M1389.4,1252.2h0M1431.5,1141.1h0M1312.6,1142.5h0M1316.2,1225.8h0M1354.7,1111.5h0M1339,1118.4h0M1434,1218.7h0M1392.7,1248.5h0M1309.4,1148.8h0M1335.3,1240.3h0M1438.4,1155.9h0M1305,1155.9h0M1423.2,1232.1h0M1336.3,1241.3h0M1409.1,1243.6h0M1315.3,1225.5h0M1391.4,1251.6h0M1313.6,1143.8h0M1442.5,1165.4h0M1335.3,1243.2h0M1442.5,1196.6h0M1301,1176.4h0M1311.8,1221.4h0M1306.9,1208.7h0M1423.3,1130.1h0M1440.6,1161.1h0M1377.1,1110.4h0M1317,1225.3h0M1378.4,1110.7h0M1331.4,1239h0M1445.1,1175.1h0M1355,1112.7h0M1362,1111.9h0M1425.2,1227.4h0M1433.4,1145.6h0M1407.9,1240.9h0M1437.6,1153.8h0M1376,1110.3h0M1315.1,1141.6h0M1429.4,1136.8h0M1359.3,1249.9h0M1357.5,1113.6h0M1326.3,1234.2h0M1440.2,1163.4h0M1303.4,1204.4h0M1410,1119.8h0M1444.1,1184.5h0M1307.9,1213.4h0M1309.9,1146.9h0M1444.7,1173.3h0M1303.9,1204.8h0M1310.3,1142.7h0M1301.7,1195.7h0M1330,1237.1h0M1439.6,1198.9h0M1319.2,1227.6h0M1442.7,1191.1h0M1300.8,1176.2h0M1338.4,1116.8h0M1377,1251.7h0M1444.2,1187.1h0M1373.6,1109.3h0M1342.8,1115h0M1331.1,1239.7h0M1438.4,1153.4h0M1303.5,1204.9h0M1323.5,1230.7h0M1312.5,1217.8h0M1440.8,1156.5h0M1376.6,1251h0M1406.8,1117.8h0M1372.1,1110.7h0M1374.7,1111.6h0M1377.5,1252.8h0M1306.8,1205.2h0M1371.7,1109h0M1315.1,1220h0M1407.6,1119.4h0M1444.1,1173h0M1399.4,1245.1h0M1365.1,1109.7h0M1429.7,1140.2h0M1312.9,1144.3h0M1348.3,1114.2h0M1389.8,1251.8h0M1374.3,1111.4h0M1431.1,1218h0M1426.5,1229h0M1367.5,1109.5h0M1427.7,1137.1h0M1327.4,1124h0M1368.7,1253.1h0M1322.4,1130.3h0M1337.1,1241.3h0M1439.2,1206.4h0M1409.9,1240.2h0M1314.5,1223.2h0M1442.9,1169.9h0M1443.8,1188.7h0M1441.3,1192h0M1388.7,1248.7h0M1302.8,1186.2h0M1311.5,1215.9h0M1437.9,1149.9h0M1365.5,1253.4h0M1323.8,1126.8h0M1433.3,1214.9h0M1439.3,1199h0M1300.7,1182.9h0M1357.5,1111.5h0M1341.9,1117.9h0M1373,1111.8h0M1300.8,1193.8h0M1344.7,1114.3h0M1314.5,1221.1h0M1337.4,1120.6h0M1419,1128.1h0M1440.5,1158.6h0M1322.9,1231.4h0M1304.9,1162.4h0M1312.9,1142.8h0M1424.7,1134.3h0M1320.1,1133.4h0M1300.4,1175.2h0M1401.4,1245.6h0M1301.3,1164.6h0M1433.8,1147.8h0M1304.5,1156.8h0M1403.7,1246.9h0M1320.8,1130.6h0M1441.4,1199.7h0M1349.4,1250.2h0M1302.7,1160.3h0M1309.7,1212.2h0M1326.6,1235.5h0M1379.1,1251.6h0M1438.9,1158.2h0M1375.1,1251.8h0M1306.4,1202.4h0M1340.4,1119h0M1301.9,1191.9h0M1313.6,1138.4h0M1344.1,1246.2h0M1382.8,1249.7h0M1443.5,1184.9h0M1351.2,1111.7h0M1366.1,1251.6h0M1374.4,1250.4h0M1373.7,1108.8h0M1427.6,1134.4h0M1428.7,1226.4h0M1344.4,1116.1h0M1442.3,1172.2h0M1319.6,1231.7h0M1426.3,1135.1h0M1434.4,1216.1h0M1411,1119.8h0M1416.4,1124h0M1439.6,1161.4h0M1367.2,1251.8h0M1431.4,1142.7h0M1317.4,1135.2h0M1335.1,1242.3h0M1444,1168.4h0M1440.8,1192.9h0M1351.3,1247.7h0M1331.6,1240.3h0M1307.6,1211.4h0M1417.4,1124.4h0M1423.9,1230.1h0M1339.3,1245.2h0M1368.4,1108.6h0M1304.5,1166.1h0M1430,1222h0M1408.9,1242.2h0M1358.1,1250.4h0M1299.9,1179.3h0M1302.9,1199.7h0M1321.2,1133.8h0M1406,1123.3h0M1312.3,1213.2h0M1306.9,1203.8h0M1364.4,1249.2h0M1385.6,1248h0M1409,1239.6h0M1411.6,1123.4h0M1360.6,1250.1h0M1333.8,1237.6h0M1435.2,1156.5h0M1438.1,1167.4h0M1410,1239.8h0M1362.2,1248.3h0M1420.4,1133.1h0M1420.1,1134.2h0M1347.3,1243.1h0M1437.8,1158.3h0M1322.5,1227.9h0M1400.1,1120.1h0M1411.9,1238.3h0M1413.7,1127.2h0M1315.4,1143.7h0M1303.2,1178.3h0M1441.6,1171.7h0M1306.8,1163.7h0M1311.8,1150.7h0M1307.2,1197.8h0M1333.3,1238.6h0M1417.4,1127.5h0M1437.5,1164.6h0M1420.1,1229.2h0M1425,1138h0M1419,1132.9h0M1334.4,1237.3h0M1318.8,1224.9h0M1411,1235.7h0M1375.9,1112.3h0M1365.2,1248.9h0M1314,1144.5h0M1440.4,1195.2h0M1388.6,1115.2h0M1361,1115h0M1341.6,1121.7h0M1323.4,1135.2h0M1372.8,1249h0M1387.8,1113.1h0M1440.8,1167.7h0M1337.2,1241.9h0M1377.8,1112.9h0M1411.2,1123.8h0M1381.5,1113.8h0M1421.3,1136h0M1317,1220.7h0M1307.3,1203.5h0M1438.3,1193.5h0M1402.9,1244.3h0M1315.7,1216.9h0M1327.9,1233.7h0M1331.2,1237.6h0M1362.9,1248.1h0M1434.2,1151.3h0M1315.1,1220.2h0M1344.4,1242.1h0M1430,1219.8h0M1411.3,1126.3h0M1320.9,1224.8h0M1419.5,1232.2h0M1313.1,1217.4h0M1392.3,1246.2h0M1377,1112.6h0M1314.5,1220h0M1400.6,1118.5h0M1434.1,1151.1h0M1435,1206h0M1435.8,1158.6h0M1358.1,1247.6h0M1439.1,1169.9h0M1395,1117.6h0M1341.9,1119h0M1403.9,1121.8h0M1384.1,1115h0M1302.7,1187.3h0M1333.8,1238h0M1438.8,1169.8h0M1363.1,1111.6h0M1379.3,1248.7h0M1319.7,1135.3h0M1304.9,1192.7h0M1346.8,1245.1h0M1310.5,1209.3h0M1398.1,1116.3h0M1304.9,1174.6h0M1394.2,1244.8h0M1309.3,1155.8h0M1426.6,1138.4h0M1433.8,1153.7h0M1440.4,1181.3h0M1373.4,1250.4h0M1391.8,1248.5h0M1324.7,1130.9h0M1418.1,1233.9h0M1410.1,1122.3h0M1410.5,1239.1h0M1429.2,1220.9h0M1408.5,1240.9h0M1426.9,1219.6h0M1421.4,1228.2h0M1425.6,1221.8h0M1440,1196.9h0M1412,1235.9h0M1332.7,1123.7h0M1427.9,1221.8h0M1306.3,1193.8h0M1303.1,1174.1h0M1345.4,1244.3h0M1362.8,1113.9h0M1429.6,1220.7h0M1398.3,1243.7h0M1303.2,1191h0M1336.9,1241h0M1372,1113.9h0M1363.3,1111.8h0M1409.9,1236.2h0M1348.7,1116.2h0M1307.2,1199.9h0M1440.3,1176h0M1379.2,1114.6h0M1314.8,1147h0M1307.5,1160.2h0M1440.1,1164.8h0M1352.5,1114.9h0M1404.4,1120.1h0M1430.6,1145.2h0M1437.8,1196.7h0M1324.2,1227.5h0M1363.1,1248.8h0M1304.8,1162.6h0M1424.9,1222.9h0M1395.3,1245.2h0M1397.9,1242.9h0M1438.9,1193.1h0M1438.8,1174.4h0M1309.5,1209.7h0M1309.2,1152h0M1439,1166.7h0M1320.5,1228.3h0M1431.7,1212.4h0M1417.6,1232.8h0M1320.7,1135.6h0M1326.4,1132.6h0M1431,1213.8h0M1304.1,1189.7h0M1345.6,1245.3h0M1399.1,1120.1h0M1363.8,1112.2h0M1302.3,1177.8h0M1303.2,1191.6h0M1405.7,1242.8h0M1394.6,1247.1h0M1388.3,1246.8h0M1439.4,1200.5h0M1441.9,1187.9h0M1330.6,1124.7h0M1302.3,1178.6h0M1309.4,1204.1h0M1385.8,1248h0M1428.5,1145.2h0M1328.1,1131h0M1414.6,1126.1h0M1436.4,1203.1h0M1399.1,1117.7h0M1305.2,1199.5h0M1386,1112.5h0M1303.4,1185.3h0M1331.9,1125.5h0M1332.9,1124.4h0M1378.4,1250.8h0M1429.2,1142.3h0M1355.3,1114.5h0M1414.9,1232.8h0M1399.6,1242.4h0M1380.7,1112.4h0M1425.4,1136.4h0M1367.7,1111.7h0M1338.8,1123.3h0M1305.5,1187.6h0M1305.5,1192.8h0M1339.4,1241.1h0M1433.1,1212.5h0M1302.6,1182.7h0M1428.4,1141h0M1314.2,1142.3h0M1439.4,1201.9h0M1307.4,1156.1h0M1315.8,1144.5h0M1439.6,1196.8h0M1356.4,1246.4h0M1355,1114.3h0M1310.7,1153.8h0M1327,1225.3h0M1389.5,1240.2h0M1368.4,1242.8h0M1436.7,1169.3h0M1432.3,1203.5h0M1427.3,1220.7h0M1306.6,1168.3h0M1310.1,1198.7h0M1439.2,1175.7h0M1360.9,1120.5h0M1378.9,1248.3h0M1392,1245.8h0M1322.3,1226.7h0M1434.4,1180.5h0M1389.2,1116.3h0M1434,1188h0M1357.3,1121.7h0M1310.4,1196.8h0M1389.5,1122.2h0M1350,1238.3h0M1424.6,1222.4h0M1329,1129.6h0M1413.7,1127.4h0M1351.9,1120.1h0M1436.1,1179.8h0M1337.4,1124.6h0M1399.6,1240.6h0M1346.1,1121.4h0M1353.2,1246.4h0M1439.5,1191.8h0M1372.2,1243.6h0M1434.8,1174.1h0M1329.2,1133.1h0M1440.1,1177.3h0M1398.1,1125.5h0M1393.1,1121.6h0M1427.9,1207.5h0M1335.3,1126.3h0M1310.1,1190.9h0M1421.5,1141.5h0M1390.5,1240.7h0M1432.1,1167.2h0M1428,1145.3h0M1324.9,1220.8h0M1339.3,1129.1h0M1308.5,1199.8h0M1344.9,1119.7h0M1431.8,1149.4h0M1349.5,1237.8h0M1408.1,1123.5h0M1308.5,1181.2h0M1310.6,1181.2h0M1312.7,1181.2h0M1436.1,1181.2h0M1438.2,1181.2h0"/>
<circle cx="1372.3" cy="1181.2" r="70.9" fill="none" stroke="#111" stroke-width="1.3"/>
<rect x="1287.6" y="1096.3" width="170.1" height="170.2" fill="none" stroke="#222" stroke-width="1.1"/>
<path d="M1301.4,1266.5v4" stroke="#222" stroke-width="1.1"/><text class="dv" x="1301.4" y="1289" font-size="17" text-anchor="middle">−1</text><path d="M1287.6,1252.1h-4" stroke="#222" stroke-width="1.1"/><text class="dv" x="1280.1" y="1258.4" font-size="17" text-anchor="end">−1</text><path d="M1372.3,1266.5v4" stroke="#222" stroke-width="1.1"/><text class="dv" x="1372.3" y="1289" font-size="17" text-anchor="middle">0</text><path d="M1287.6,1181.2h-4" stroke="#222" stroke-width="1.1"/><text class="dv" x="1280.1" y="1187.5" font-size="17" text-anchor="end">0</text><path d="M1443.2,1266.5v4" stroke="#222" stroke-width="1.1"/><text class="dv" x="1443.2" y="1289" font-size="17" text-anchor="middle">1</text><path d="M1287.6,1110.3h-4" stroke="#222" stroke-width="1.1"/><text class="dv" x="1280.1" y="1116.6" font-size="17" text-anchor="end">1</text>
<path fill="none" stroke="#1f77b4" stroke-width="3.3" stroke-linecap="round" d="M1407.9,1853.3h0M1317.7,1779.6h0M1459.4,1786.1h0M1320.6,1773.3h0M1340.4,1736.4h0M1379.3,1717.4h0M1380.2,1857h0M1321.1,1803h0M1414,1720.1h0M1413.6,1853.9h0M1412.3,1852.5h0M1429.1,1845.7h0M1447.3,1747.8h0M1413.2,1853.2h0M1449.2,1746.2h0M1341.7,1840.1h0M1456.4,1807.5h0M1410.5,1719.4h0M1345,1733.2h0M1448.9,1824.4h0M1346.1,1841.5h0M1412.7,1851.1h0M1459.5,1773.6h0M1331.7,1829.1h0M1327.7,1824.9h0M1440.8,1834.7h0M1441.3,1739.3h0M1361.7,1719.6h0M1317.2,1778.9h0M1406.5,1719.1h0M1365.9,1855.4h0M1402,1858h0M1354.8,1726.3h0M1337,1835.4h0M1338,1736.6h0M1437.3,1737.1h0M1456.4,1762.7h0M1387.5,1857.6h0M1460.6,1794.9h0M1457.9,1795.3h0M1355.9,1847h0M1323.5,1763.7h0M1409.4,1854.2h0M1320.3,1773.6h0M1328.2,1747.1h0M1387.6,1858.1h0M1319.7,1780.9h0M1423.4,1722h0M1439.5,1736.9h0M1343,1731.2h0M1323.3,1765.6h0M1387.1,1715.1h0M1440.3,1834.7h0M1381.2,1715.8h0M1317.5,1776.6h0M1337.7,1736.4h0M1413.3,1853.7h0M1352,1844.3h0M1452.4,1819.5h0M1332.1,1829.5h0M1332.3,1744h0M1407.8,1852.8h0M1370.7,1715.8h0M1320.2,1763.6h0M1457.7,1773.2h0M1442.5,1741h0M1344.5,1733.6h0M1433.2,1844.1h0M1413.5,1721.7h0M1335.3,1832.9h0M1403.2,1854.5h0M1318.3,1782.6h0M1447,1744.3h0M1432.3,1730.7h0M1332.5,1831.2h0M1338.9,1838.5h0M1444.6,1743.1h0M1321.9,1770.2h0M1341,1837.1h0M1437.7,1736.5h0M1450.1,1751h0M1447.9,1822.9h0M1444.9,1830.5h0M1365.1,1851.7h0M1434.2,1733.9h0M1448.9,1824.9h0M1401.9,1856.3h0M1377.6,1717.3h0M1453.3,1759.2h0M1460.3,1796.2h0M1456.6,1813.2h0M1434.3,1842.2h0M1458.8,1801.3h0M1453.5,1820.5h0M1448.9,1750.6h0M1343.6,1840.4h0M1459.9,1771.6h0M1339.3,1733.4h0M1458.9,1789.4h0M1455.8,1808h0M1349,1725.9h0M1380.8,1858.3h0M1321.3,1807h0M1316.6,1783.8h0M1452.5,1754.6h0M1458.7,1772.8h0M1431.3,1728.2h0M1430.3,1728.9h0M1334.2,1739.8h0M1401.7,1716.8h0M1449.5,1824.2h0M1426.4,1725.1h0M1393.5,1715.9h0M1405.2,1855h0M1416.3,1720.1h0M1337,1738h0M1334.2,1745h0M1322.6,1808.4h0M1374.5,1855h0M1413.5,1853.4h0M1354.7,1846h0M1425.3,1725.9h0M1334.8,1738.1h0M1456.8,1769h0M1441.8,1740.1h0M1446.9,1744.3h0M1458.5,1772.1h0M1405.5,1856.4h0M1325.8,1813.9h0M1370,1717.9h0M1378,1854.8h0M1423.6,1725.1h0M1442,1736.7h0M1461.5,1793.9h0M1450.4,1820h0M1357.8,1848.8h0M1347.4,1844.6h0M1321.6,1761.2h0M1433.4,1840.2h0M1406,1856.4h0M1329.1,1825.7h0M1406.8,1853.9h0M1459.2,1788.4h0M1361.1,1850.1h0M1447.8,1747.2h0M1459.1,1771.7h0M1440.4,1740h0M1457.3,1774.2h0M1456.6,1809.2h0M1425.2,1849.5h0M1435.9,1730.3h0M1455.5,1756h0M1423.5,1850.3h0M1328.8,1825.1h0M1437.2,1733.7h0M1417.8,1723.6h0M1336.7,1739.3h0M1324.4,1813.6h0M1317.9,1777.5h0M1434.4,1733.8h0M1414.3,1719.8h0M1414.5,1852.2h0M1455.1,1808.6h0M1317,1792.5h0M1329.9,1825.3h0M1434.9,1840.3h0M1365.3,1851.7h0M1320.9,1773.5h0M1447.5,1829h0M1449.8,1820h0M1433,1842.8h0M1388.4,1713.9h0M1341.4,1736h0M1341.7,1731h0M1364.6,1718h0M1339.1,1834.9h0M1454.2,1818.6h0M1336.3,1736.9h0M1448,1823.4h0M1320.7,1794.9h0M1320,1795.2h0M1318,1780.9h0M1458.6,1788.7h0M1331,1824.1h0M1348.1,1842.5h0M1455.3,1756.8h0M1443.6,1741.6h0M1375.5,1857.3h0M1316.8,1788.6h0M1362.5,1850.7h0M1448.1,1750.6h0M1352.3,1848.6h0M1346.3,1728.1h0M1379.7,1854.8h0M1421.9,1722h0M1341.3,1836.6h0M1384.3,1857.2h0M1443.3,1741.2h0M1322.3,1767.1h0M1326.3,1816.8h0M1458.4,1799h0M1450.2,1824.1h0M1458.5,1785.6h0M1456.8,1773.5h0M1319.3,1766.4h0M1378.4,1717.2h0M1336.7,1739.5h0M1444.9,1744.8h0M1340.6,1736.6h0M1431.4,1730.2h0M1319.3,1772.5h0M1459.4,1777.7h0M1427.3,1848h0M1320.5,1761.9h0M1458.1,1788.8h0M1358.4,1850.2h0M1454.7,1755.3h0M1369.8,1853.2h0M1458.4,1791.1h0M1322.7,1759h0M1320.2,1804.9h0M1322.6,1805.5h0M1323.3,1766.2h0M1374.8,1857.6h0M1387.8,1856.5h0M1336.7,1836.9h0M1440.5,1835.2h0M1318.9,1802.8h0M1460.3,1770.2h0M1407.1,1716.9h0M1430.4,1726.4h0M1379.3,1855.6h0M1442.3,1834.9h0M1379.7,1856.1h0M1447.7,1749.1h0M1344.2,1729.9h0M1417.3,1723.2h0M1402.2,1716.2h0M1320.8,1807.1h0M1348.8,1846.6h0M1325.4,1756.2h0M1337.6,1834.2h0M1380.7,1716.5h0M1459.1,1798.6h0M1346.3,1840.9h0M1388.1,1714.5h0M1459.6,1799.6h0M1325.4,1754.3h0M1459.8,1789.3h0M1446.6,1830.2h0M1377.1,1717.1h0M1360,1722.5h0M1316.7,1789.8h0M1443.5,1740.3h0M1318.6,1801.4h0M1383.2,1713.6h0M1382,1715h0M1335.4,1740.8h0M1431.3,1842.2h0M1385,1857.9h0M1319.3,1784.4h0M1445.7,1830.8h0M1461.6,1779.4h0M1320.2,1793h0M1429,1729.1h0M1345.3,1840.1h0M1448.1,1828.5h0M1408.8,1856h0M1441.6,1737.9h0M1316.7,1781.2h0M1377.6,1715h0M1437.2,1731.9h0M1460.4,1775.6h0M1356,1723.3h0M1365.1,1852.5h0M1317.8,1780.8h0M1335,1833.9h0M1421.1,1721.3h0M1354,1849.5h0M1401.3,1715.9h0M1324.5,1813.8h0M1330.3,1824.9h0M1413.6,1721.6h0M1383.4,1857.3h0M1333,1743.6h0M1440.6,1738.4h0M1447.7,1827.2h0M1317.3,1785.8h0M1449.4,1824.7h0M1344.4,1732.5h0M1341,1736.6h0M1329.4,1749h0M1365.4,1720h0M1317.8,1773.7h0M1444.6,1832.7h0M1326.9,1818.4h0M1319,1772.3h0M1323.3,1766.5h0M1458.3,1781.1h0M1333.8,1830.6h0M1343.7,1839.8h0M1422.5,1846.6h0M1318,1793.1h0M1344.3,1733.7h0M1317.1,1777.2h0M1327.2,1823.8h0M1349.1,1728.6h0M1335.4,1832.2h0M1422.9,1848.1h0M1457.6,1799.2h0M1383,1716.9h0M1344.9,1733.4h0M1337,1834.8h0M1420.7,1724.4h0M1345.4,1728.1h0M1413.1,1855.2h0M1459.1,1766.1h0M1345.8,1842h0M1320.5,1779.1h0M1318.4,1773h0M1461.7,1787.9h0M1457.7,1764.2h0M1459.6,1796.8h0M1344.8,1730.4h0M1341.3,1735.5h0M1342.7,1841h0M1414.7,1721.5h0M1323.6,1813h0M1410.2,1720.7h0M1321.2,1798.6h0M1356.9,1848.7h0M1457.6,1775.7h0M1433.6,1843.8h0M1450.3,1751.9h0M1353.5,1849h0M1461.6,1790.4h0M1324.8,1816.1h0M1355.3,1724.8h0M1324.2,1761h0M1398.7,1858.6h0M1356.6,1723.6h0M1369,1718.8h0M1460.5,1773.1h0M1317.4,1791.7h0M1407.9,1717.6h0M1330.9,1825.5h0M1331.5,1827.4h0M1325.8,1758.1h0M1434.5,1838.7h0M1454.9,1810.8h0M1411.1,1719.8h0M1374.5,1716.1h0M1330.1,1743.8h0M1322.4,1759.1h0M1396.9,1715.6h0M1391.7,1856.5h0M1361.5,1722.1h0M1329.8,1746.6h0M1329,1747.3h0M1428.5,1729.6h0M1331.4,1826.1h0M1334.6,1831.4h0M1339.1,1839.3h0M1454,1758.1h0M1318.1,1770.2h0M1406.5,1716.8h0M1457.3,1800.3h0M1458.3,1768.6h0M1346.6,1727.8h0M1372.1,1719.6h0M1451.5,1822h0M1403.1,1857.3h0M1340.2,1839.9h0M1344.9,1841.1h0M1459.7,1789h0M1450.4,1824.2h0M1338.1,1837.1h0M1451.7,1757.3h0M1459.6,1774.2h0M1360,1720.4h0M1432.5,1841.1h0M1336.9,1738.8h0M1424.1,1850h0M1350.3,1843.8h0M1333.5,1829.9h0M1390,1714.1h0M1421,1722.3h0M1373.7,1718.3h0M1428,1725.1h0M1410.3,1854.2h0M1441.5,1740.5h0M1458.4,1768.7h0M1330.5,1746.7h0M1394.2,1717.4h0M1326.7,1821.1h0M1343.1,1840.8h0M1323.7,1812.4h0M1390.6,1717h0M1446.7,1748h0M1326.3,1753.7h0M1444.6,1742.2h0M1354.5,1725.1h0M1360.9,1853.1h0M1451.3,1755.8h0M1408.6,1718.9h0M1380.6,1855.5h0M1459.5,1783.9h0M1429,1847.2h0M1458.4,1783.2h0M1365.1,1852h0M1397.5,1856.2h0M1411.2,1717.4h0M1459.1,1779.7h0M1353.9,1845.4h0M1391.4,1714h0M1339.3,1738.6h0M1394.9,1717.2h0M1343.9,1839.3h0M1441.3,1740.1h0M1332.6,1745.3h0M1457.7,1765h0M1323.5,1815.3h0M1318.8,1803.7h0M1386.1,1716h0M1356.5,1725.7h0M1341.5,1732.8h0M1332,1745.4h0M1361.7,1723.1h0M1411,1719.2h0M1438.9,1838.1h0M1396.7,1715.9h0M1429.7,1842.7h0M1432.6,1841.2h0M1450.2,1753.8h0M1429.3,1725.5h0M1316.4,1788.9h0M1458.7,1766.9h0M1460.6,1794h0M1430.4,1841.7h0M1401.7,1714.9h0M1404,1717.6h0M1363.1,1852.9h0M1402.8,1857.7h0M1459.8,1775.4h0M1351.7,1844.7h0M1454.6,1808.9h0M1458.4,1799.5h0M1322.6,1757.1h0M1326.4,1815.3h0M1405.8,1855.3h0M1345.2,1840.5h0M1459.1,1788.8h0M1331,1823.4h0M1460.7,1800.4h0M1459.1,1802.2h0M1460.9,1785.7h0M1439.5,1733.6h0M1412.8,1853.7h0M1442.2,1740.6h0M1410.9,1718.2h0M1329.5,1746.8h0M1382,1858.1h0M1416.2,1852h0M1324.5,1755.7h0M1451.9,1821.6h0M1327.2,1749.9h0M1441.6,1735.7h0M1360.1,1849.5h0M1360,1721.4h0M1418.7,1852.7h0M1378.7,1717.2h0M1390.3,1714.4h0M1318.6,1799.6h0M1429.4,1725.7h0M1458.4,1793.4h0M1393.1,1714h0M1319.1,1795.3h0M1454.8,1814.3h0M1436.4,1735.3h0M1432.2,1728.6h0M1402.3,1718.2h0M1458.8,1802.1h0M1341.6,1837.7h0M1322.5,1766.3h0M1361.4,1722.2h0M1426.1,1724.1h0M1429.5,1726.4h0M1459.2,1802.9h0M1347.9,1846.4h0M1436.7,1837.5h0M1354.9,1846h0M1457.6,1772.2h0M1439.5,1739h0M1460.7,1782.4h0M1321.8,1808.5h0M1411.2,1855.5h0M1445,1833.2h0M1456,1806.3h0M1461.5,1778.6h0M1442.5,1737.1h0M1425.3,1723.9h0M1319,1796.6h0M1389.4,1717.4h0M1330.3,1825.7h0M1423.3,1847.9h0M1437.9,1835.9h0M1345.5,1732.5h0M1336.7,1836.8h0M1354.6,1725.3h0M1366.9,1852.7h0M1399.1,1855.5h0M1449.1,1826h0M1446.8,1824.7h0M1416.1,1853.1h0M1333.7,1827.9h0M1431,1845h0M1457.5,1768.3h0M1450.8,1751.5h0M1442.1,1736.9h0M1439.8,1835.2h0M1454.5,1759.2h0M1370.5,1717.7h0M1391.3,1855.5h0M1461.1,1774.5h0M1452.2,1821.9h0M1423.3,1847.8h0M1328.1,1821h0M1331.4,1747.7h0M1458.6,1804.5h0M1393.3,1715.2h0M1340.3,1735.3h0M1455.6,1813h0M1454.5,1816.2h0M1341,1735.8h0M1359.1,1848.6h0M1335.6,1833.9h0M1414.1,1853.7h0M1460.2,1777h0M1460.6,1800.9h0M1433.5,1840.6h0M1352.7,1846.5h0M1410.8,1718.7h0M1458.7,1787.2h0M1326.1,1753.5h0M1325.8,1753.4h0M1339.6,1734h0M1453.2,1821h0M1431.2,1729.8h0M1429.8,1843.5h0M1434.2,1731.5h0M1458.2,1793h0M1397.1,1717.9h0M1461.5,1788h0M1433.1,1843.5h0M1457.7,1766.7h0M1458.5,1795.8h0M1418,1723.1h0M1366.3,1720.5h0M1321.5,1805h0M1318.9,1785.2h0M1333.6,1827.3h0M1319.8,1784.4h0M1316.9,1792.4h0M1336.6,1831.5h0M1325.5,1754.5h0M1338.6,1837.3h0M1401,1716.4h0M1445.2,1742.6h0M1322.5,1762h0M1321.8,1765.1h0M1401.2,1854.6h0M1325.3,1757.4h0M1373.7,1715.9h0M1318,1777.6h0M1363.5,1720.9h0M1320.6,1808.9h0M1330.5,1822.3h0M1389.9,1716.3h0M1354,1725.8h0M1450.2,1818.3h0M1430.7,1844.8h0M1431,1845.5h0M1417,1850.7h0M1459.5,1798.1h0M1444.3,1831h0M1448.8,1751.3h0M1427.4,1727.3h0M1362,1851h0M1349.8,1843h0M1359.3,1852.6h0M1325.9,1813.9h0M1412.7,1853.4h0M1321.3,1802.6h0M1406.3,1857h0M1375.5,1716.3h0M1459.2,1780.1h0M1334.9,1833.2h0M1331.9,1824.6h0M1319,1769.8h0M1321.8,1767h0M1422.6,1724.5h0M1336.2,1836.4h0M1316.4,1786.1h0M1323,1814.5h0M1441.8,1738.3h0M1345.3,1844.3h0M1403.6,1856.1h0M1324,1813.5h0M1316.9,1781.7h0M1456.2,1760.6h0M1459.5,1788.1h0M1449.6,1750h0M1317.6,1793.5h0M1362.9,1850.2h0M1459.2,1796.6h0M1439.6,1833.7h0M1367.2,1718.9h0M1413.7,1721h0M1448.2,1824h0M1350.8,1728h0M1332.4,1741.8h0M1324,1755.9h0M1458.6,1808.4h0M1425.6,1847.5h0M1458.1,1777.5h0M1339.9,1733.3h0M1350.6,1845.8h0M1321.3,1763.8h0M1422.7,1725.7h0M1446.3,1741.4h0M1320.5,1772.5h0M1346.2,1732.3h0M1435,1840h0M1439.9,1833.1h0M1415.7,1719.5h0M1456.1,1811.6h0M1455,1809.6h0M1349.2,1844h0M1368.8,1852.7h0M1337.8,1837.3h0M1456.4,1759.4h0M1393.7,1858.4h0M1460.7,1781.2h0M1382.2,1717.1h0M1399.4,1858.5h0M1338.5,1737.5h0M1366.4,1721.2h0M1423.9,1850.1h0M1367.2,1720.8h0M1461.1,1794.5h0M1404.5,1718.1h0M1327.8,1748.6h0M1358.4,1849.4h0M1459.4,1775.3h0M1320.6,1806.9h0M1386.1,1717.1h0M1455.3,1756.1h0M1320.1,1763.8h0M1428.3,1726.6h0M1320.1,1791.3h0M1399.6,1715h0M1324,1814.8h0M1448.2,1744.1h0M1356.9,1848.5h0M1407,1716.4h0M1443.9,1740.5h0M1441.8,1832.4h0M1421.1,1848.4h0M1320,1763.5h0M1444.1,1738.6h0M1454.5,1814.8h0M1416.8,1852.4h0M1432.4,1730.7h0M1423.8,1726.2h0M1317.9,1790.1h0M1351.2,1727.3h0M1358.5,1721.5h0M1432.1,1842.2h0M1446.5,1746.6h0M1322.6,1758.9h0M1393.1,1716.7h0M1410.3,1719.3h0M1422.6,1723.3h0M1327.7,1823.8h0M1459.2,1773.6h0M1339.3,1839.1h0M1321.6,1762.8h0M1367,1855.5h0M1445.1,1739.7h0M1411.7,1852.9h0M1397.1,1856.1h0M1459.5,1800.5h0M1459.4,1785h0M1414.1,1718.5h0M1448.2,1748.4h0M1430.9,1845.3h0M1353.9,1726.9h0M1385.4,1855h0M1390.4,1716.1h0M1460.4,1784.7h0M1319.9,1767h0M1347.6,1726.5h0M1436.5,1841.2h0M1322.4,1759.2h0M1317.8,1789.1h0M1425.7,1846.2h0M1444.6,1830h0M1457.8,1774.3h0M1392.5,1716.8h0M1358.4,1851.4h0M1456.8,1804.8h0M1317.5,1781.7h0M1413.3,1717.8h0M1460.1,1774.6h0M1400.2,1718h0M1362.8,1722.6h0M1317,1783.2h0M1452.6,1759.5h0M1434.9,1732.5h0M1350.3,1846.4h0M1427.7,1727h0M1318.8,1776.7h0M1427.2,1724.8h0M1327.2,1749.8h0M1372.2,1854.9h0M1332.3,1744.1h0M1370,1853.1h0M1455.9,1810.1h0M1321.9,1761.9h0M1317.7,1791.5h0M1459.4,1791.2h0M1319.3,1783.7h0M1393.8,1857.9h0M1367.1,1852.5h0M1351.9,1726.4h0M1357.7,1851.9h0M1379.9,1857.1h0M1346.5,1731.2h0M1409.1,1716.2h0M1318.5,1799.6h0M1453.1,1819h0M1422.1,1849.6h0M1420.3,1848.7h0M1408.3,1853.5h0M1449.4,1820.5h0M1343.1,1837.9h0M1399.6,1714.5h0M1419,1850.4h0M1341,1841h0M1415,1721.5h0M1426,1727.5h0M1452.7,1815.2h0M1440,1737.9h0M1452.1,1822.8h0M1328.2,1747h0M1450.5,1824.6h0M1428.5,1843.9h0M1408.8,1852.4h0M1427.5,1847.9h0M1402.4,1856.6h0M1459.4,1800h0M1379.6,1716.1h0M1329.7,1748.8h0M1322.6,1761.2h0M1326.3,1814.5h0M1324,1761.9h0M1370.2,1855.3h0M1422.9,1724.2h0M1318.7,1773.5h0M1318,1786.7h0M1323.8,1759.1h0M1450,1821.4h0M1445,1828.5h0M1318.4,1773.7h0M1364.2,1851.9h0M1459.3,1767.9h0M1458.1,1806.5h0M1458.6,1785.8h0M1458,1800.1h0M1408.2,1855.4h0M1343.8,1732.2h0M1449,1746.8h0M1338.2,1836.3h0M1347.4,1841.2h0M1458.1,1788.7h0M1349.1,1728.2h0M1340.1,1733.3h0M1460.4,1780.4h0M1392.3,1857.8h0M1321.1,1761.8h0M1388.7,1717h0M1415.2,1850.2h0M1317.9,1796.9h0M1326.2,1821.1h0M1367,1718.2h0M1373.3,1854.4h0M1382.3,1717.2h0M1430.3,1845.8h0M1453.2,1756.2h0M1416.3,1723.1h0M1415.4,1721.1h0M1449.5,1749.9h0M1363.8,1719h0M1318.5,1773.6h0M1362.3,1850.2h0M1378.8,1715.7h0M1320,1782.6h0M1448.3,1745.1h0M1421.7,1725.2h0M1363.9,1721.5h0M1435.1,1838.2h0M1322.3,1761h0M1365.4,1719.4h0M1434,1842.4h0M1454.8,1809.2h0M1429.1,1726.5h0M1352.2,1848.3h0M1458.5,1768.8h0M1323.3,1758.2h0M1331.5,1826.1h0M1451.2,1819.3h0M1405.2,1857.2h0M1353.5,1847.6h0M1394.5,1713.6h0M1458.9,1805.7h0M1437.7,1733.3h0M1417.9,1721.9h0M1317.6,1779.3h0M1320,1779.4h0M1320.2,1787h0M1392.7,1858.1h0M1317.6,1794.1h0M1434.5,1729.7h0M1394.8,1858.1h0M1455.8,1815.2h0M1363.1,1853.1h0M1432.9,1731h0M1367.9,1854.6h0M1357,1721.6h0M1345.9,1842.8h0M1455,1809.6h0M1343.5,1838.6h0M1457.2,1806.4h0M1319.2,1805h0M1317.7,1783.4h0M1457.7,1778.5h0M1460.5,1775.2h0M1383.5,1717.2h0M1383.4,1717.5h0M1339.6,1837.5h0M1340.4,1734.9h0M1383.6,1856.1h0M1436.5,1733.3h0M1457.4,1761.5h0M1347.4,1845.1h0M1376.5,1718.4h0M1450.5,1749.3h0M1353.9,1725.2h0M1389,1857.9h0M1376.3,1718h0M1329.7,1824.1h0M1459.5,1801.8h0M1324.3,1758.7h0M1364.6,1717.7h0M1372.3,1716.8h0M1356.8,1847.4h0M1334,1741.1h0M1320.6,1796.3h0M1386,1858.8h0M1395.5,1857h0M1442,1737.4h0M1457.6,1764.7h0M1359.1,1722.9h0M1414.3,1720.5h0M1330.3,1822.4h0M1331.9,1829.2h0M1321.2,1804.6h0M1459.2,1773.4h0M1346.9,1845.7h0M1438.3,1732.9h0M1416.6,1853.6h0M1377,1718.3h0M1447.2,1826.5h0M1317.3,1782.5h0M1331.5,1830.5h0M1443.5,1830.8h0M1336.5,1830.8h0M1331.3,1825.5h0M1379.4,1716.6h0M1348.8,1842.9h0M1460.1,1798.4h0M1452.1,1755.3h0M1394.6,1859h0M1358.4,1723.3h0M1457,1810.4h0M1385,1714.5h0M1377.7,1716.8h0M1426.4,1847h0M1355.3,1723.5h0M1330.3,1744.2h0M1412.9,1718.6h0M1406.4,1856.1h0M1461.7,1787.9h0M1459.8,1771.4h0M1403.8,1857.3h0M1400.1,1717.7h0M1401.4,1717.3h0M1364.5,1721.5h0M1331.1,1748.1h0M1319.8,1806.9h0M1342.2,1733h0M1324,1808.5h0M1461.1,1776.5h0M1318.7,1801.1h0M1389.6,1715.1h0M1431.9,1731.4h0M1415.9,1849.8h0M1408.7,1853.4h0M1444.3,1742.9h0M1348.1,1728.1h0M1389.7,1857.6h0M1340.2,1838.9h0M1461.6,1783.1h0M1411.3,1718.4h0M1429.5,1728.5h0M1321,1770.1h0M1391.7,1714.9h0M1334.2,1744.5h0M1331.8,1742.5h0M1391.8,1856.7h0M1436.5,1735.5h0M1406.3,1718.1h0M1453.6,1756.4h0M1415.4,1719.7h0M1385,1713.6h0M1327.1,1817.7h0M1458.9,1801.4h0M1456.8,1767.4h0M1392.3,1855.4h0M1427.2,1845.6h0M1418.8,1720.6h0M1354.6,1850.1h0M1422.9,1722.2h0M1455.7,1810.6h0M1359.3,1722.8h0M1322.8,1760.5h0M1386.1,1856.7h0M1332.1,1825.2h0M1396.7,1714.8h0M1333.3,1741.3h0M1351.3,1727.2h0M1340.7,1736.9h0M1385.7,1714h0M1459.9,1788.2h0M1438.4,1836.7h0M1459.8,1802.2h0M1452.3,1754.4h0M1323.2,1760.4h0M1441.8,1832.9h0M1444.2,1739.3h0M1337.6,1835.4h0M1319.7,1805.2h0M1458.4,1802.9h0M1331.6,1744.3h0M1457.6,1776.7h0M1346.4,1731.2h0M1326.6,1819.7h0M1452.2,1820h0M1323.7,1755.4h0M1329.1,1821.4h0M1391.6,1856.5h0M1328.5,1748.6h0M1411.7,1851.4h0M1374.2,1716.1h0M1445.3,1742.6h0M1327.7,1820.8h0M1337.8,1735.2h0M1324.6,1761.9h0M1448.6,1822.6h0M1403.2,1854h0M1387.8,1857.4h0M1322,1770.2h0M1446.3,1831.5h0M1327.2,1751h0M1446.4,1831.3h0M1389.6,1716.8h0M1345.7,1731.3h0M1333.8,1832.2h0M1316.9,1785.8h0M1395.7,1717.5h0M1448.4,1823.4h0M1389.7,1855.7h0M1323.9,1808h0M1361.9,1850.6h0M1440,1834h0M1449.9,1746.3h0M1423.5,1725.3h0M1354.9,1850.1h0M1406,1719.4h0M1365.1,1854.1h0M1439.1,1838.9h0M1371.4,1854.7h0M1356.2,1722.3h0M1382.7,1716.6h0M1317.5,1799.6h0M1371.4,1718.6h0M1455.1,1759.4h0M1334.1,1831.9h0M1321.6,1771.8h0M1344.6,1731.6h0M1376.1,1856.2h0M1448.1,1743.5h0M1340,1734.9h0M1329.7,1750.4h0M1415.9,1718.6h0M1405.5,1715.4h0M1320.7,1810h0M1459,1768.1h0M1358.9,1849.1h0M1457.6,1806.7h0M1351.3,1844.3h0M1395.8,1855.5h0M1448.1,1824.1h0M1408.2,1853h0M1326.5,1753.9h0M1399.1,1858.4h0M1400.9,1717.1h0M1341.1,1732h0M1373.6,1854.7h0M1337.4,1740.8h0M1441.3,1836.2h0M1419.8,1848.2h0M1376.2,1717.5h0M1383.9,1714h0M1322.3,1767.6h0M1417.9,1852.4h0M1455.4,1816.1h0M1331.2,1747.2h0M1459.8,1793.6h0M1420.6,1722.9h0M1457.3,1796.6h0M1337.1,1836.4h0M1319.5,1766.1h0M1375.1,1716.4h0M1440,1737.3h0M1350.7,1845.2h0M1434.8,1838.5h0M1320.1,1804.8h0M1453,1815h0M1326,1755.5h0M1418.5,1721.1h0M1459,1776.3h0M1378.9,1857.7h0M1329.4,1827.9h0M1446.5,1826.8h0M1453,1814.9h0M1436.1,1839h0M1445.4,1831.9h0M1442.4,1833h0M1319.6,1774.3h0M1319.6,1802h0M1380.9,1715.4h0M1418.6,1721.2h0M1436,1839.2h0M1393.9,1715.8h0M1380.3,1714.9h0M1341.5,1838.3h0M1387.9,1857h0M1330.9,1827.2h0M1402.6,1856h0M1356.3,1723.8h0M1449.4,1823.5h0M1442.3,1742.2h0M1444.6,1740.4h0M1320.6,1803.8h0M1456.6,1801.2h0M1330.7,1750h0M1325.4,1758.3h0M1452.5,1757.8h0M1433.2,1842.2h0M1350.6,1845.1h0M1447.8,1823h0M1433.8,1729.8h0M1431.5,1842.5h0M1441.2,1738.4h0M1427.8,1726.5h0M1346,1840.6h0M1458,1790.3h0M1360.4,1720.6h0M1458.2,1783.9h0M1376.4,1854.6h0M1399.7,1716.8h0M1334.6,1830.9h0M1389.4,1715.4h0M1412.9,1720.4h0M1326.1,1756.9h0M1347.3,1842.5h0M1451.5,1757h0M1372.2,1719.5h0M1320.9,1798.6h0M1406.8,1853.1h0M1433.6,1840.1h0M1379.5,1717.5h0M1342.4,1842.2h0M1347.6,1727.1h0M1325.1,1816.2h0M1419.4,1848.9h0M1322.3,1811.2h0M1341,1734.2h0M1455.7,1760.6h0M1439.8,1737.4h0M1384.4,1855.2h0M1397.6,1856.8h0M1450.6,1751.8h0M1441.6,1834.3h0M1399.4,1716.5h0M1363.6,1721.7h0M1333.3,1744.8h0M1416.8,1721.9h0M1451.8,1756.8h0M1427.4,1726.2h0M1444.1,1829.2h0M1381.3,1716.5h0M1434.3,1843.4h0M1366.8,1853.9h0M1460.2,1787.3h0M1318.7,1787.8h0M1323.1,1764.4h0M1412.4,1721.2h0M1325.7,1752h0M1447,1829.7h0M1453.9,1759.4h0M1363.9,1851.7h0M1323.2,1760.2h0M1326.2,1757.7h0M1323.3,1807.1h0M1420.7,1849.4h0M1342.4,1731.1h0M1316.9,1784.4h0M1457.1,1771.8h0M1368.5,1852h0M1444.5,1743.6h0M1350.8,1845.6h0M1341.3,1734.7h0M1443.1,1740.8h0M1394.4,1855.3h0M1365.2,1851.9h0M1363.4,1854.2h0M1380.9,1856.7h0M1434,1733.2h0M1422.8,1847.9h0M1317.1,1784.4h0M1317.1,1795.4h0M1424.8,1722.8h0M1328.9,1749.6h0M1318.2,1788.9h0M1461,1781h0M1451,1754.6h0M1458.4,1775.5h0M1330.1,1750.2h0M1321,1810.3h0M1455.6,1767.7h0M1405.1,1856.1h0M1454.8,1816.9h0M1367.5,1720.2h0M1438.9,1837.7h0M1452.5,1815.3h0M1458.9,1805.5h0M1324.1,1818.7h0M1398.7,1715h0M1430.3,1845.1h0M1432.5,1731.1h0M1460.2,1774.9h0M1322.5,1763h0M1324.3,1763.1h0M1349.2,1847.1h0M1407,1717.2h0M1370.5,1719.5h0M1320.1,1786.7h0M1348.2,1844.1h0M1319.1,1798.3h0M1375.6,1718.5h0M1448.9,1750.5h0M1328.5,1820.1h0M1360.8,1719.6h0M1390.1,1713.6h0M1349.2,1845.7h0M1353.8,1723.9h0M1458.4,1795.4h0M1354.3,1848.1h0M1459.7,1768.7h0M1320.1,1792.4h0M1458.5,1792.7h0M1459.4,1799.3h0M1328.4,1747.4h0M1458,1773.1h0M1321,1770.8h0M1361.7,1721.1h0M1318.9,1795.5h0M1324.6,1760.7h0M1404.9,1854.8h0M1404.1,1856.6h0M1323.9,1760.2h0M1319.9,1786.5h0M1432.9,1728.4h0M1327.5,1748h0M1422.4,1723.7h0M1352,1727.7h0M1320.3,1783.4h0M1428.4,1845.4h0M1399.1,1715.3h0M1461.4,1777.2h0M1423.6,1848.6h0M1318.5,1789.1h0M1335.9,1832.4h0M1460.8,1776.9h0M1332.1,1743h0M1389.3,1857.7h0M1443,1830.6h0M1426.6,1845.8h0M1426.3,1848.1h0M1454.7,1816.8h0M1421.6,1721.2h0M1368.5,1855.3h0M1382,1715h0M1376.6,1716.7h0M1449.5,1751.3h0M1448.7,1748.9h0M1331.3,1742h0M1457.5,1774.6h0M1356.8,1848.7h0M1409.8,1853.6h0M1435.4,1840.7h0M1394.5,1856.6h0M1428,1724.9h0M1321.8,1806.7h0M1373.5,1854.3h0M1418,1852.4h0M1339.4,1737h0M1364.5,1718.3h0M1354.5,1849h0M1369.7,1853.7h0M1329.7,1748.4h0M1365.3,1719.8h0M1461.6,1778.2h0M1445,1832.2h0M1458.2,1790h0M1337.3,1736.7h0M1426,1727.3h0M1460.2,1790.4h0M1353.6,1848.4h0M1330.5,1747.7h0M1362.2,1720.1h0M1320.1,1765.6h0M1334.7,1829.7h0M1421.8,1848.5h0M1453,1812.5h0M1449.5,1749.6h0M1444.8,1741.5h0M1320.3,1806.1h0M1319.4,1798.7h0M1457.2,1805.6h0M1411.1,1719h0M1437.1,1839.2h0M1449.5,1825.2h0M1424.2,1847.1h0M1422.3,1849.7h0M1321.9,1760.8h0M1452,1815.1h0M1392.2,1716.6h0M1448.6,1822.6h0M1437.8,1836.4h0M1447.5,1747.1h0M1335.8,1742.2h0M1361.6,1720.4h0M1323.4,1811.7h0M1319.7,1780.8h0M1457.3,1769.3h0M1439.9,1735.6h0M1324.2,1753.8h0M1451.2,1755.3h0M1421.4,1847.5h0M1322.8,1760.4h0M1392.5,1858.3h0M1453,1817.3h0M1447.4,1747.7h0M1403.1,1716.7h0M1385.9,1857.1h0M1336.9,1832.7h0M1398.4,1717.1h0M1393.4,1715.4h0M1385.1,1857.6h0M1358.3,1852.3h0M1393.5,1857.6h0M1426.8,1848.2h0M1326.9,1815.6h0M1451.1,1821.6h0M1452.8,1821.8h0M1460.4,1794h0M1342.5,1840.9h0M1328.8,1749h0M1325.6,1818.9h0M1319.9,1794.2h0M1376.7,1718.5h0M1381,1717.4h0M1373.7,1716.7h0M1323.9,1770.5h0M1362.4,1721h0M1328,1812.2h0M1321.6,1803h0M1383.9,1857.7h0M1359,1849.7h0M1358,1722.3h0M1333.8,1748.2h0M1352.3,1728.5h0M1326,1815.8h0M1318.5,1797h0M1376,1716.8h0M1330.6,1823.6h0M1332,1748.5h0M1319.8,1776h0M1348.3,1840.5h0M1341.6,1736.9h0M1322.5,1791.6h0M1336.4,1832.7h0M1384.8,1857.4h0M1323.8,1769.1h0M1357.4,1724.9h0M1380.8,1718.7h0M1343,1837h0M1362.5,1851.1h0M1333.2,1825.7h0M1322.1,1803.5h0M1357.2,1844.6h0M1321.3,1780.8h0M1376.3,1719.6h0M1329.9,1815.8h0M1351.9,1845.8h0M1325.5,1762.4h0M1384.3,1717.2h0M1353.3,1724.8h0M1376.8,1719.9h0M1361.4,1721.6h0M1326.2,1763.8h0M1371.8,1719.2h0M1323.1,1796.6h0M1353.2,1842.8h0M1335.9,1741.7h0M1328.8,1757.6h0M1379.8,1856.7h0M1352.1,1726.3h0M1343,1734.9h0M1321.6,1805.7h0M1388.3,1716.8h0M1326.3,1758.9h0M1379.2,1853.5h0M1320.9,1789.6h0M1328.3,1823.9h0M1368.3,1850.4h0M1363.3,1848.5h0M1323.5,1763.2h0M1367.4,1721.6h0M1375.3,1716.2h0M1345.9,1730.1h0M1326.5,1751.8h0M1389.1,1715.3h0M1367.3,1720h0M1383.8,1719.6h0M1322.7,1811.2h0M1339.4,1737.2h0M1324.4,1756.8h0M1358.9,1845.2h0M1320.5,1778.9h0M1370.2,1717.6h0M1327.3,1752.9h0M1352.9,1847.2h0M1384.4,1720h0M1318.4,1792.6h0M1318.1,1796h0M1323.1,1792.1h0M1360.9,1848.1h0M1338.2,1738.7h0M1355.4,1727.9h0M1322.1,1793.2h0M1328.5,1750.3h0M1352.2,1841.3h0M1359.1,1846.5h0M1352.6,1843.2h0M1344.1,1734.1h0M1324.8,1754.9h0M1383,1716.3h0M1339.8,1739.7h0M1379.8,1855h0M1376.2,1851.3h0M1379.4,1855.4h0M1344.1,1732h0M1348.2,1728.7h0M1327.4,1811.7h0M1356,1846.9h0M1329.5,1817.4h0M1371.3,1720.6h0M1370.3,1851h0M1340.3,1835.2h0M1353.4,1729.2h0M1331,1752.5h0M1383,1855.6h0M1325.9,1766h0M1335.3,1832.3h0M1361.6,1720.9h0M1369.4,1850.6h0M1359.4,1726.1h0M1385,1854.3h0M1327.9,1755.2h0M1360.5,1720.5h0M1383,1854.2h0M1322.9,1791.9h0M1323.7,1772.5h0M1352.5,1846.7h0M1339.3,1736.9h0M1342.2,1736.4h0M1338.6,1738.6h0M1362.5,1725.2h0M1327.1,1755.6h0M1324.7,1803.6h0M1324.6,1769.8h0M1320.4,1786.7h0M1317.6,1791.6h0M1319.6,1773.1h0M1388.4,1719h0M1353.5,1727h0M1337,1831h0M1330.3,1750.5h0M1322.8,1798h0M1366.7,1721.4h0M1339.7,1736.4h0M1343.9,1838.4h0M1322.9,1799.3h0M1370.4,1853h0M1324.5,1810.2h0M1321.3,1788.9h0M1321.1,1776h0M1322.8,1781.7h0M1335,1825.5h0M1376.5,1855.5h0M1323.8,1798.7h0M1355,1848.6h0M1363.3,1721.9h0M1373.3,1717.6h0M1373.7,1720h0M1347.3,1838.3h0M1357.6,1726.3h0M1327,1820.6h0M1365.3,1848.2h0M1346.9,1735h0M1323.6,1764.6h0M1387.1,1853.4h0M1355.5,1725.6h0M1319.3,1789.7h0M1348.8,1729.1h0M1334.2,1832.4h0M1320.8,1798h0M1385.2,1716.4h0M1325.4,1812.5h0M1375.9,1721.4h0M1348.3,1838.5h0M1366.5,1719.7h0M1380.8,1719.4h0M1335.8,1739.3h0M1324.5,1770.2h0M1351.3,1845.6h0M1359.1,1726.8h0M1323,1801.2h0M1369.4,1717.6h0M1331.5,1825h0M1374.2,1721.5h0M1327.8,1813.9h0M1371.8,1721.6h0M1375.3,1720.8h0M1320,1776.2h0M1323.5,1797.4h0M1336.2,1738.9h0M1318.9,1792.3h0M1365.3,1719.5h0M1378.1,1716.5h0M1330.9,1747.2h0M1341.1,1837.4h0M1318.3,1786.3h0M1325.6,1753.1h0M1338.4,1735.6h0M1338.1,1832.3h0M1350.4,1729h0M1374.7,1856.1h0M1351.8,1844.8h0M1322.1,1785.2h0M1324.1,1763.6h0M1334.1,1823.2h0M1330.1,1754.5h0M1334.8,1827.6h0M1322.4,1765.7h0M1377.1,1716.2h0M1374.3,1720.3h0M1338.2,1737h0M1371.6,1721.6h0M1362.3,1848.8h0M1334.6,1741.7h0M1334.1,1744.4h0M1356.3,1725.3h0M1340.3,1741.3h0M1383.3,1854.8h0M1343.1,1738.5h0M1331.5,1747h0M1389,1716.6h0M1320.4,1780.8h0M1348.5,1730.6h0M1388.1,1715.9h0M1369.8,1719.4h0M1379.8,1715.2h0M1331.6,1745.6h0M1322.8,1804.6h0M1341.1,1834.6h0M1337.1,1828.3h0M1323.4,1762.5h0M1385.8,1857.2h0M1337.2,1830.5h0M1380,1719.8h0M1366.5,1850.7h0M1339.3,1831.4h0M1360,1723.9h0M1322.1,1787.2h0M1350.5,1841.2h0M1324.7,1803.7h0M1332.2,1823.2h0M1341.8,1732.5h0M1360.9,1722.5h0M1367.5,1722.8h0M1322,1798.8h0M1326.5,1812.6h0M1317.4,1783.9h0M1349.1,1840.7h0M1320.4,1786.9h0M1326.5,1820.6h0M1337.4,1834h0M1372.9,1717.9h0M1336.1,1832.9h0M1340.8,1831.7h0M1319.5,1785h0M1321.4,1781.8h0M1343.5,1837.2h0M1324.8,1817.3h0M1357.7,1723.3h0M1338.6,1834.8h0M1319,1801.5h0M1375.9,1717.2h0M1330.9,1821.3h0M1329.4,1823.1h0M1320.1,1789.9h0M1318.4,1778.8h0M1366,1853.1h0M1384.6,1852.7h0M1385.4,1717.1h0M1353.6,1842.3h0M1319.7,1775.2h0M1348.5,1733.7h0M1347.1,1732.2h0M1359.5,1724.1h0M1378.7,1856.6h0M1352.3,1844.6h0M1365.6,1849.9h0M1344.8,1736.4h0M1317.5,1783.2h0M1388.4,1717.2h0M1319.9,1775.5h0M1359.3,1723.1h0M1333,1749.6h0M1388.8,1718.7h0M1354.7,1848.6h0M1373.7,1852.3h0M1367.8,1853.2h0M1325.1,1759.1h0M1388.9,1854.8h0M1326.3,1756.9h0M1334.7,1739.8h0M1368.1,1722.6h0M1337.2,1744.8h0M1339.6,1736.4h0M1318.5,1788.7h0M1327.9,1760.6h0M1365.3,1849.2h0M1328.1,1813h0M1376.5,1853.9h0M1334,1831.9h0M1337.6,1832.5h0M1341.4,1834.9h0M1333.2,1741.8h0M1373,1855.6h0M1319.6,1780.2h0M1334.7,1746.1h0M1384,1856.5h0M1327.3,1819.3h0M1320.7,1798.8h0M1353.6,1724.9h0M1348.7,1733.3h0M1318.6,1785.7h0M1370,1849.7h0M1319,1775.2h0M1348.7,1727.6h0M1326.5,1752.3h0M1341.1,1734.8h0M1324,1800.8h0M1340,1835.4h0M1322.8,1767.9h0M1324.4,1759.9h0M1375.6,1717.3h0M1382,1857.1h0M1320.9,1787h0M1359.7,1850.5h0M1336.2,1739.9h0M1323.3,1764.8h0M1379.5,1852.7h0M1361.3,1852.4h0M1382.3,1718.8h0M1366.9,1851.8h0M1320,1805.7h0M1326.4,1764h0M1354.3,1843.5h0M1383.1,1856.5h0M1365.4,1719.4h0M1321.4,1791.1h0M1376.8,1852.9h0M1328.8,1816.5h0M1321.1,1777.1h0M1380.8,1719.4h0M1344.7,1736.7h0M1326.3,1817.3h0M1361.6,1721.5h0M1327.4,1814.5h0M1364.5,1719.2h0M1320.8,1791.6h0M1322.9,1762h0M1321,1808.7h0M1333,1745.9h0M1380.4,1853.9h0M1364.5,1850.9h0M1341.8,1734.1h0M1380.8,1853.7h0M1330.2,1745.5h0M1321.2,1785.9h0M1321,1768.8h0M1331.6,1819.7h0M1342.3,1732.1h0M1328.5,1752.5h0M1329.8,1824.7h0M1348.9,1840.7h0M1318.5,1787.4h0M1382.6,1856.1h0M1351.4,1845.9h0M1345.9,1734.4h0M1336.1,1746.4h0M1318.4,1785.4h0M1344.3,1733.2h0M1331.5,1819.3h0M1358.3,1723.9h0M1348.1,1734.3h0M1358.3,1721.7h0M1376.1,1717.9h0M1368.2,1849.8h0M1339.9,1830.5h0M1374.3,1854.7h0M1352.6,1730.7h0M1337.9,1836.4h0M1328.6,1820.7h0M1324.6,1759.3h0M1352.8,1724.4h0M1335.4,1741.7h0M1379.3,1856.8h0M1381.3,1856.5h0M1328.7,1757h0M1352.4,1845.1h0M1378.5,1717.9h0M1327.8,1760.4h0M1349.4,1728.9h0M1366.4,1854.3h0M1324.6,1767.7h0M1341.3,1839.5h0M1381.4,1715.2h0M1371.7,1854.5h0M1341.6,1833.1h0M1327.7,1752.2h0M1380.1,1854.1h0M1339.5,1740.2h0M1330.3,1748h0M1388.4,1718.7h0M1371.5,1852.2h0M1376.5,1856.9h0M1342.8,1735h0M1380.2,1852.1h0M1323.2,1761.7h0M1321.8,1771.2h0M1373.3,1855.3h0M1349.9,1841.4h0M1353.5,1843.6h0M1323.1,1809.4h0M1330.3,1748.8h0M1344.1,1841.6h0M1349.9,1731.3h0M1339.1,1735.3h0M1381.9,1718h0M1332.6,1751.8h0M1365.5,1848.2h0M1336.4,1738.2h0M1368.6,1720.4h0M1334.4,1828.8h0M1342.6,1734.8h0M1326,1811.4h0M1341.5,1833.4h0M1327.3,1821.5h0M1355.6,1847.9h0M1321,1800.8h0M1337.3,1834.4h0M1339.8,1736.1h0M1358.2,1727.1h0M1321.3,1803.3h0M1326.5,1765.1h0M1318.7,1787.9h0M1350.6,1842.5h0M1387.2,1857.6h0M1322.2,1781h0M1357.2,1844.8h0M1380.3,1716.7h0M1363.3,1720.4h0M1383.4,1854.6h0M1374,1854.4h0M1360.9,1849.6h0M1340,1740.1h0M1377.1,1856.5h0M1323.9,1806.6h0M1345.1,1732.2h0M1358.8,1722.5h0M1340,1738.6h0M1326.4,1818.7h0M1386.7,1716.3h0M1329.2,1823.9h0M1330.4,1747h0M1348,1841.3h0M1375.1,1716.4h0M1324.1,1764.1h0M1324.6,1816.5h0M1355.8,1727.2h0M1321.7,1766.7h0M1334.5,1748.5h0M1332.1,1748.1h0M1326.6,1756.2h0M1361.8,1846.6h0M1324.8,1756.9h0M1335.9,1832.7h0M1388,1719.6h0M1323.9,1770.4h0M1325.2,1766.9h0M1318.8,1777.6h0M1386,1717.6h0M1328.9,1814.8h0M1370.3,1720.6h0M1325.8,1759.1h0M1358.1,1723.3h0M1322.7,1790.7h0M1366,1721.2h0M1351,1840.6h0M1347.9,1728.4h0M1377.4,1851.6h0M1317.7,1782.4h0M1373.2,1854.1h0M1368.9,1851.6h0M1352,1846.7h0M1345.2,1841.5h0M1325.1,1766.5h0M1353,1847.2h0M1345.2,1732.4h0M1319.6,1790.2h0M1362.6,1721h0M1338.4,1829.7h0M1380.4,1718.2h0M1339.7,1838.1h0M1354.6,1848.5h0M1323.8,1807.4h0M1324.6,1813.6h0M1322.8,1769.3h0M1322.9,1770.5h0M1320.8,1774.8h0M1384.2,1718.1h0M1318.7,1784h0M1343.6,1836h0M1319,1777h0M1318.2,1780.3h0M1361.9,1722.5h0M1369.5,1719.8h0M1317.6,1788.6h0M1324.3,1816h0M1339.1,1831.5h0M1317.7,1788.9h0M1319.5,1787.2h0M1378.3,1856.5h0M1360.5,1846h0M1339.1,1831.1h0M1351.3,1731.9h0M1322.8,1784.6h0M1370.7,1854.8h0M1348.1,1838.7h0M1374.9,1717.9h0M1340,1837.4h0M1366.7,1852.9h0M1350.3,1845.8h0M1322.5,1786.8h0M1346.4,1730.5h0M1319.2,1787.6h0M1381,1715.9h0M1356.9,1728.1h0M1332.8,1822h0M1355.1,1728.1h0M1364.8,1721.9h0M1325.7,1815.3h0M1362.5,1849.6h0M1324.4,1802.9h0M1367.8,1723.6h0M1325.3,1813.9h0M1347.4,1842.9h0M1387.2,1854.9h0M1328.1,1757.6h0M1319.5,1773.5h0M1337.6,1835.9h0M1351.4,1845.7h0M1329.2,1814.4h0M1323.6,1804.5h0M1329.4,1746.4h0M1381.7,1715.7h0M1324.3,1811.1h0M1322.5,1789h0M1360.8,1721.7h0M1325.6,1819.5h0M1388.6,1716.5h0M1366.3,1720.3h0M1344.8,1734.1h0M1321.2,1805.8h0M1325.2,1812.6h0M1361.9,1725.6h0M1340,1735.1h0M1369,1721.1h0M1362.7,1848.3h0M1322.1,1765h0M1386.7,1718.1h0M1320.7,1799.9h0M1327,1816.9h0M1375.9,1852.7h0M1342.2,1738.9h0M1379.7,1718.1h0M1321.7,1765.8h0M1376.9,1720h0M1386.5,1717.6h0M1376.1,1856.1h0M1349.1,1730.9h0M1321,1787.8h0M1350,1845.3h0M1331.2,1746.8h0M1379.1,1720.2h0M1346.5,1839h0M1387.9,1719.2h0M1339.5,1834.5h0M1338.9,1834h0M1342.8,1732.2h0M1341.4,1732.9h0M1330.4,1752.9h0M1334.3,1824.9h0M1333.8,1829.7h0M1320.8,1798h0M1346.7,1840.5h0M1338.7,1740.4h0M1381.5,1856.5h0M1362.8,1853h0M1337.7,1738.1h0M1341.3,1832.4h0M1339.1,1835.2h0M1363.5,1851.4h0M1343.7,1737.5h0M1326.9,1813.4h0M1331.6,1819.2h0M1322.4,1779.9h0M1334.7,1825.3h0M1322.8,1773h0M1320.8,1801.7h0M1347,1732.6h0M1373.1,1721.6h0M1357.7,1721.9h0M1367.3,1723.4h0M1326.4,1753h0M1382.7,1715h0M1333.1,1825.1h0M1334.1,1825.6h0M1375.1,1719.2h0M1328.1,1758.3h0M1353.3,1842.7h0M1375.4,1720.8h0M1354.2,1757.6h0M1357.7,1743.2h0M1357.4,1731.8h0M1369.4,1846.8h0M1333.5,1807.1h0M1330.9,1779.4h0M1353.7,1751.6h0M1356.7,1732h0M1366.8,1727.5h0M1343.2,1775.4h0M1327.6,1767h0M1352.9,1761.1h0M1363.8,1736.7h0M1337.1,1769.7h0M1339.8,1765.1h0M1334.3,1786h0M1359,1834.3h0M1348.8,1735.5h0M1363.6,1839.3h0M1356.3,1754.4h0M1337.5,1796.7h0M1353.2,1837.5h0M1344.2,1769.3h0M1357.8,1745.3h0M1360.6,1740.7h0M1349.3,1808.5h0M1351.2,1830.8h0M1342.6,1742h0M1331,1790.5h0M1366.8,1744.7h0M1335.7,1787.3h0M1341,1745.4h0M1368.4,1728.2h0M1339,1753h0M1342,1771.2h0M1353.7,1839.6h0M1327.2,1769.8h0M1348.1,1804.2h0M1351.4,1751.1h0M1332.1,1754.9h0M1340.6,1824.3h0M1348.7,1742.1h0M1342,1748.5h0M1329.4,1778.1h0M1328.2,1800.1h0M1452.2,1791.9h0M1426.7,1830.6h0M1412.5,1843.7h0M1427.5,1732.1h0M1449.4,1778.4h0M1417.8,1842.7h0M1444.4,1757h0M1445.5,1752.6h0M1442.6,1825.2h0M1446.6,1785.4h0M1446.9,1773.6h0M1446.2,1802.7h0M1426.2,1838.7h0M1443.6,1762.1h0M1454.4,1798.7h0M1444.3,1820.8h0M1440,1815.7h0M1432.6,1824.5h0M1430.1,1733.6h0M1448.6,1804.1h0M1415.2,1843.4h0M1426.3,1731.6h0M1453.4,1771.1h0M1445.9,1775.5h0M1440,1830.2h0M1422.5,1838.1h0M1415.8,1847.1h0M1446.7,1786.7h0M1451.1,1798.3h0M1451.8,1764.6h0M1453.4,1773.8h0M1444.3,1771.6h0M1418.7,1840.1h0M1452.7,1769.7h0M1437.4,1816.2h0M1413.4,1724.9h0M1439.6,1759.2h0M1438.2,1822.2h0M1418.1,1842.7h0M1444.9,1761.5h0M1314.9,1786.3h0M1317,1786.3h0M1319.1,1786.3h0M1321.2,1786.3h0M1323.4,1786.3h0M1325.5,1786.3h0M1327.6,1786.3h0M1329.7,1786.3h0M1331.9,1786.3h0M1334,1786.3h0M1336.1,1786.3h0M1338.2,1786.3h0M1340.3,1786.3h0M1342.5,1786.3h0M1344.6,1786.3h0M1346.7,1786.3h0M1454.3,1786.3h0M1451.5,1786.3h0M1462.4,1802.7h0"/>
<circle cx="1389.2" cy="1786.3" r="70.8" fill="none" stroke="#111" stroke-width="1.3"/>
<rect x="1304.5" y="1701.4" width="170.4" height="169.9" fill="none" stroke="#222" stroke-width="1.1"/>
<path d="M1318.4,1871.3v4" stroke="#222" stroke-width="1.1"/><text class="dv" x="1318.4" y="1893.8" font-size="17" text-anchor="middle">−1</text><path d="M1304.5,1857.1h-4" stroke="#222" stroke-width="1.1"/><text class="dv" x="1297" y="1863.4" font-size="17" text-anchor="end">−1</text><path d="M1389.2,1871.3v4" stroke="#222" stroke-width="1.1"/><text class="dv" x="1389.2" y="1893.8" font-size="17" text-anchor="middle">0</text><path d="M1304.5,1786.3h-4" stroke="#222" stroke-width="1.1"/><text class="dv" x="1297" y="1792.6" font-size="17" text-anchor="end">0</text><path d="M1460,1871.3v4" stroke="#222" stroke-width="1.1"/><text class="dv" x="1460" y="1893.8" font-size="17" text-anchor="middle">1</text><path d="M1304.5,1715.5h-4" stroke="#222" stroke-width="1.1"/><text class="dv" x="1297" y="1721.8" font-size="17" text-anchor="end">1</text>
<path fill="none" stroke="#1f77b4" stroke-width="3.3" stroke-linecap="round" d="M1325,2405.6h0M1325,2407.5h0M1367.4,2447.4h0M1334.1,2424.7h0M1321.6,2393.1h0M1345,2331.3h0M1413.4,2451.1h0M1378.6,2451.3h0M1324.9,2357.8h0M1338.3,2428.4h0M1340.6,2430.1h0M1369.8,2316h0M1409.2,2449.3h0M1328.2,2416h0M1402.2,2311h0M1399.2,2453.2h0M1328.2,2354.8h0M1333.4,2342.8h0M1320.7,2371.2h0M1327.4,2408.3h0M1363.6,2316.5h0M1321.8,2365.3h0M1322.4,2386.8h0M1335.7,2424.9h0M1377.1,2452.5h0M1324.5,2404.7h0M1327,2413.1h0M1357.7,2445.5h0M1362,2319.2h0M1400.9,2452.6h0M1322.4,2365.8h0M1339.8,2335h0M1358.3,2318.6h0M1320.4,2376.4h0M1335.1,2422.5h0M1358.7,2444.7h0M1328.8,2349.9h0M1401.7,2312.8h0M1330.5,2346.2h0M1382.7,2311.9h0M1325.9,2408.4h0M1381,2451.5h0M1345.7,2328.9h0M1391.4,2452.9h0M1327,2413.4h0M1321.2,2385h0M1323.8,2362.7h0M1326.6,2408.7h0M1320.3,2385.2h0M1323.4,2373h0M1321.7,2365.9h0M1402.3,2312.4h0M1390.2,2310.2h0M1375.4,2313.3h0M1412.1,2450.1h0M1321.3,2377.2h0M1321.3,2388h0M1348.6,2436.4h0M1342.2,2432.8h0M1335.5,2422.5h0M1364.3,2316.2h0M1330.8,2416.4h0M1333.6,2421.6h0M1370.9,2449.8h0M1366.3,2446.5h0M1323.3,2371.5h0M1347,2435.2h0M1391.3,2312.8h0M1357.1,2442h0M1409.4,2451.4h0M1336.7,2428.1h0M1328.7,2410.6h0M1355.6,2321h0M1382.6,2311.1h0M1351.7,2322.5h0M1413.4,2448.3h0M1322.2,2378.5h0M1342,2432.1h0M1323.2,2368.4h0M1323.3,2401.9h0M1327.6,2354.1h0M1330.5,2418.9h0M1330.2,2414h0M1381.5,2451.6h0M1385.2,2311.6h0M1380.2,2311h0M1343,2331h0M1354.9,2442h0M1338.7,2336.6h0M1321.7,2389.4h0M1341.4,2332.6h0M1330.4,2349h0M1321.1,2383.3h0M1321.2,2381.9h0M1341.4,2430.6h0M1364.1,2447.5h0M1363,2445.1h0M1411.8,2449.4h0M1386.5,2312.8h0M1372.3,2451.7h0M1331,2345.3h0M1350.9,2439.3h0M1337.5,2335.6h0M1360.6,2317.4h0M1362.3,2444.9h0M1350.4,2326h0M1401.8,2453.2h0M1325.1,2405.7h0M1407.4,2450h0M1399.1,2310.9h0M1375.6,2450.7h0M1323.2,2393.4h0M1356.5,2441.7h0M1330.4,2344.6h0M1340.4,2432.6h0M1325.8,2403.7h0M1324.6,2361.8h0M1360,2317.9h0M1329.7,2413.2h0M1414.3,2450.9h0M1394,2452.9h0M1328.5,2350.3h0M1325.4,2407.3h0M1366.9,2317.3h0M1344.2,2433.9h0M1348.1,2435.6h0M1360.1,2320.2h0M1369.1,2449.6h0M1324.1,2402.5h0M1355.2,2321.5h0M1365.4,2318.2h0M1357.1,2321.2h0M1326.6,2404.7h0M1362.2,2446.8h0M1324.7,2356.2h0M1389.8,2310.9h0M1401.6,2453.7h0M1359.5,2319.9h0M1326.7,2352.6h0M1400.9,2453.8h0M1327.6,2412h0M1328.4,2349.1h0M1362.3,2317.7h0M1353.2,2441.4h0M1359.3,2443.5h0M1360.6,2320.2h0M1325.9,2408h0M1323.1,2391h0M1323.5,2360.1h0M1404.1,2453.1h0M1376.1,2314h0M1333.3,2341.6h0M1335.4,2422.5h0M1330.4,2350.2h0M1330.6,2416.6h0M1321.1,2396.3h0M1363.8,2318h0M1340.7,2432.7h0M1332.5,2420.6h0M1325.4,2407h0M1350.1,2324.7h0M1406.4,2452.5h0M1379.1,2451.6h0M1384.1,2312.9h0M1398.6,2312.9h0M1331.3,2348.6h0M1347.7,2437.9h0M1332.4,2417.2h0M1360.1,2318h0M1337.9,2338.2h0M1462.7,2384.6h0M1411.8,2314.1h0M1462.2,2373.6h0M1442.2,2432.2h0M1454.9,2350.8h0M1428.3,2443.6h0M1427.2,2443h0M1449.6,2339.2h0M1400.4,2312.8h0M1452.9,2346.4h0M1439,2436.7h0M1462.7,2369.4h0M1443.4,2431.8h0M1416.7,2448.8h0M1462,2386.9h0M1461.8,2371.4h0M1462.2,2375.2h0M1463.4,2383.6h0M1397.4,2312.6h0M1426.9,2321h0M1457.3,2411.2h0M1455.3,2416h0M1439.2,2329h0M1426.1,2319.8h0M1405.1,2313.3h0M1411.2,2451.1h0M1414.5,2314.9h0M1400.9,2311.6h0M1424.3,2445h0M1437.5,2327.2h0M1427.1,2444.2h0M1404,2312.9h0M1432.4,2441.1h0M1429.8,2443.3h0M1434.7,2324.7h0M1460.5,2363.5h0M1442.7,2431h0M1434,2438.9h0M1432,2441h0M1446.4,2428.4h0M1402.7,2312.8h0M1455.2,2412.6h0M1445.9,2428.6h0M1424.5,2319.5h0M1428.6,2441.7h0M1446.5,2428.4h0M1438.3,2328h0M1456,2414.7h0M1427.3,2443.5h0M1449.5,2423.2h0M1460.6,2400.4h0M1405.1,2312.5h0M1458.8,2360.9h0M1442.5,2433h0M1414.6,2315.7h0M1451,2422.7h0M1442.2,2333.5h0M1443.2,2429.9h0M1419.6,2317.1h0M1463.2,2390.8h0M1350.7,2331h0M1338.6,2339h0M1380.7,2315.8h0M1363.3,2324h0M1339.6,2342h0M1346.2,2335h0M1371.1,2318.5h0M1370.8,2321.4h0M1377.7,2319h0M1376.5,2318.5h0M1358.2,2324.2h0M1330.7,2349.7h0M1377.7,2319.5h0M1346.7,2330.2h0M1331.3,2361.5h0M1373.4,2317.7h0M1371.6,2317.6h0M1340.9,2336.5h0M1336.8,2340.5h0M1370,2321.2h0M1354.2,2326.7h0M1343.5,2336.3h0M1354,2324.2h0M1339.7,2345.3h0M1330,2360.3h0M1342.4,2382.2h0M1339.5,2382.2h0M1323.2,2382.2h0M1342,2358.6h0M1342.4,2406.7h0M1359,2331.8h0M1366.5,2333.1h0M1354.2,2339.9h0M1421.5,2336.3h0M1431.7,2332.2h0M1375.7,2432.8h0M1423.4,2429.4h0M1434.9,2429.4h0M1406.7,2442.8h0"/>
<circle cx="1392" cy="2382.2" r="70.9" fill="none" stroke="#111" stroke-width="1.3"/>
<rect x="1307.3" y="2297.2" width="170.3" height="170.4" fill="none" stroke="#222" stroke-width="1.1"/>
<path d="M1321.1,2467.6v4" stroke="#222" stroke-width="1.1"/><text class="dv" x="1321.1" y="2490.1" font-size="17" text-anchor="middle">−1</text><path d="M1307.3,2453.1h-4" stroke="#222" stroke-width="1.1"/><text class="dv" x="1299.8" y="2459.4" font-size="17" text-anchor="end">−1</text><path d="M1392,2467.6v4" stroke="#222" stroke-width="1.1"/><text class="dv" x="1392" y="2490.1" font-size="17" text-anchor="middle">0</text><path d="M1307.3,2382.2h-4" stroke="#222" stroke-width="1.1"/><text class="dv" x="1299.8" y="2388.5" font-size="17" text-anchor="end">0</text><path d="M1462.9,2467.6v4" stroke="#222" stroke-width="1.1"/><text class="dv" x="1462.9" y="2490.1" font-size="17" text-anchor="middle">1</text><path d="M1307.3,2311.3h-4" stroke="#222" stroke-width="1.1"/><text class="dv" x="1299.8" y="2317.6" font-size="17" text-anchor="end">1</text>
<text class="cal" x="69.1" y="41" font-size="52.5" textLength="224.2" lengthAdjust="spacingAndGlyphs" >HCs/MDD</text>
<text class="cal" x="307" y="41" font-size="52.5" textLength="110" lengthAdjust="spacingAndGlyphs" >glass</text>
<text class="cal" x="432.5" y="41" font-size="52.5" textLength="112.5" lengthAdjust="spacingAndGlyphs" >brain</text>
<text class="cal" x="563" y="41" font-size="52.5" textLength="79.4" lengthAdjust="spacingAndGlyphs" >plot</text>
<text class="cal" x="660.3" y="41" font-size="52.5" textLength="43.6" lengthAdjust="spacingAndGlyphs" >of</text>
<text class="cal" x="726.9" y="41" font-size="52.5" textLength="113.6" lengthAdjust="spacingAndGlyphs" >DMs,</text>
<text class="cal" x="858.5" y="41" font-size="52.5" textLength="225.2" lengthAdjust="spacingAndGlyphs" >histogram</text>
<text class="cal" x="1101.6" y="41" font-size="52.5" textLength="43.4" lengthAdjust="spacingAndGlyphs" >of</text>
<text class="cal" x="1162" y="41" font-size="52.5" textLength="239" lengthAdjust="spacingAndGlyphs" >frequency,</text>
<text class="cal" x="1418" y="41" font-size="52.5" textLength="80.3" lengthAdjust="spacingAndGlyphs" >and</text>
<text class="lam" x="1512" y="41" font-size="54" >λ</text>
<text class="cal" x="471" y="141" font-size="47" textLength="200" lengthAdjust="spacingAndGlyphs" >amplitude</text>
<text class="cal" x="1268" y="141" font-size="47" textLength="194" lengthAdjust="spacingAndGlyphs" >histogram</text>
<text class="cal" x="515.3" y="462" font-size="47" textLength="115" lengthAdjust="spacingAndGlyphs" >phase</text>
<text class="cal" x="1217" y="428.6" font-size="41.5" textLength="203.7" lengthAdjust="spacingAndGlyphs" >Frequency</text>
<text class="cal" x="1437.9" y="428.6" font-size="41.5" textLength="78" lengthAdjust="spacingAndGlyphs" >(Hz)</text>
<text class="lam" x="1359" y="488.5" font-size="46" >λ</text>
<text class="cal" x="1334.5" y="747.5" font-size="44.5" textLength="63" lengthAdjust="spacingAndGlyphs" >Re(</text>
<text class="lam" x="1399" y="747.5" font-size="44" >λ</text>
<text class="cal" x="1423" y="747.5" font-size="44.5" textLength="12.5" lengthAdjust="spacingAndGlyphs" >)</text>
<g transform="translate(1226,640) rotate(-90)">
<text class="cal" x="0" y="0" font-size="46" textLength="62.5" lengthAdjust="spacingAndGlyphs" >Im(</text>
<text class="lam" x="64" y="0" font-size="45" >λ</text>
<text class="cal" x="88.5" y="0" font-size="46" textLength="12.5" lengthAdjust="spacingAndGlyphs" >)</text>
</g>
<text class="cal" x="0.5" y="446.8" font-size="59" textLength="29.5" lengthAdjust="spacingAndGlyphs" >4</text>
<text class="cal" x="0.5" y="1079.7" font-size="59" textLength="29.5" lengthAdjust="spacingAndGlyphs" >5</text>
<text class="cal" x="1.5" y="1633.6" font-size="59" textLength="29.5" lengthAdjust="spacingAndGlyphs" >6</text>
<text class="cal" x="1.5" y="2273" font-size="59" textLength="29.5" lengthAdjust="spacingAndGlyphs" >7</text>
</svg>
</body></html>
